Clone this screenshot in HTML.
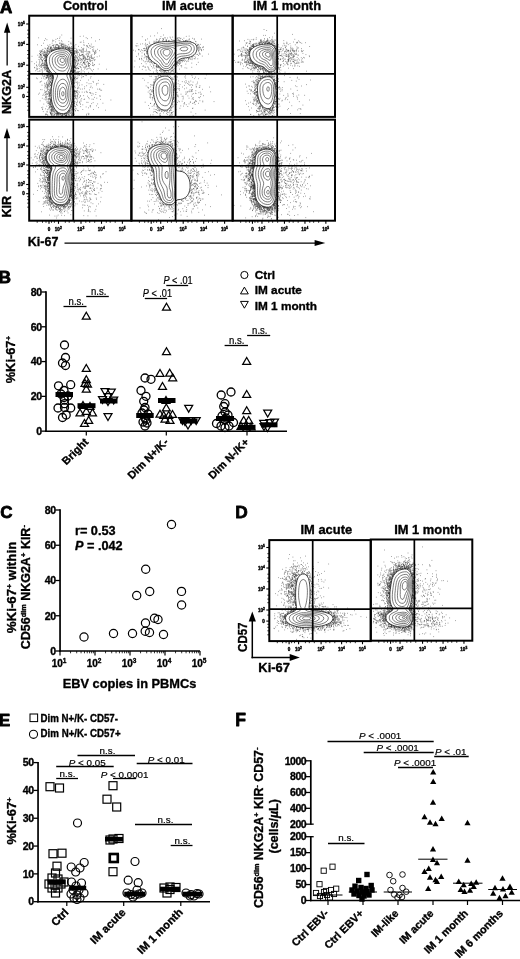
<!DOCTYPE html>
<html><head><meta charset="utf-8"><title>Figure</title>
<style>html,body{margin:0;padding:0;background:#fff}svg{display:block}text{font-family:'Liberation Sans', Arial, Helvetica, sans-serif;stroke:#000;stroke-width:.35px;stroke-linejoin:round}.n{stroke-width:.2px}</style></head><body>
<svg width="520" height="959" viewBox="0 0 520 959">
<rect width="520" height="959" fill="#fff"/>
<text x="0.00" y="12.90" font-size="17" font-weight="bold" style="stroke-width:.8px">A</text>
<text x="62.90" y="9.60" font-size="12.5" font-weight="bold" textLength="44.8" lengthAdjust="spacingAndGlyphs">Control</text>
<text x="161.90" y="9.60" font-size="12.5" font-weight="bold" textLength="51.6" lengthAdjust="spacingAndGlyphs">IM acute</text>
<text x="253.00" y="9.60" font-size="12.5" font-weight="bold" textLength="68" lengthAdjust="spacingAndGlyphs">IM 1 month</text>
<clipPath id="a1"><rect x="29.2" y="15.7" width="102.2" height="101.2"/></clipPath>
<g clip-path="url(#a1)">
<path d="M29.4 61.6h0.65M29.8 72.1h0.65M31.6 61.6h0.65M31.7 56.3h0.65M34.1 67.4h0.65M34.3 63.7h0.65M34.5 67.8h0.65M35.4 70.7h0.65M36.0 65.1h0.65M36.1 62.1h0.65M36.1 78.0h0.65M36.3 65.3h0.65M36.3 68.2h0.65M36.6 69.8h0.65M36.8 69.5h0.65M36.8 66.4h0.65M36.9 78.7h0.65M37.1 44.8h0.65M37.4 68.4h0.65M37.5 55.2h0.65M37.7 71.5h0.65M38.0 65.0h0.65M38.3 94.2h0.65M38.4 37.8h0.65M38.6 59.5h0.65M38.6 57.2h0.65M38.9 63.3h0.65M38.9 68.6h0.65M39.0 53.8h0.65M39.0 93.1h0.65M39.0 60.1h0.65M39.1 71.0h0.65M39.2 61.9h0.65M39.2 64.9h0.65M39.5 57.4h0.65M39.5 53.6h0.65M39.5 56.3h0.65M39.5 66.4h0.65M39.6 51.3h0.65M39.7 62.1h0.65M39.7 82.2h0.65M39.8 100.8h0.65M39.8 71.1h0.65M39.8 50.7h0.65M39.9 55.2h0.65M40.0 52.0h0.65M40.0 54.7h0.65M40.1 58.8h0.65M40.1 54.8h0.65M40.2 81.7h0.65M40.2 54.6h0.65M40.3 65.3h0.65M40.3 52.6h0.65M40.3 54.6h0.65M40.3 89.6h0.65M40.5 57.0h0.65M40.6 65.8h0.65M40.6 59.0h0.65M40.6 67.2h0.65M40.6 52.9h0.65M40.7 58.0h0.65M40.8 69.6h0.65M40.8 55.0h0.65M41.0 64.0h0.65M41.0 55.1h0.65M41.0 59.5h0.65M41.0 67.3h0.65M41.0 56.0h0.65M41.1 51.1h0.65M41.1 51.7h0.65M41.2 73.3h0.65M41.3 45.5h0.65M41.3 78.2h0.65M41.4 50.9h0.65M41.4 64.9h0.65M41.4 107.6h0.65M41.4 81.2h0.65M41.4 57.7h0.65M41.4 64.3h0.65M41.5 65.7h0.65M41.6 66.7h0.65M41.6 59.9h0.65M41.7 56.9h0.65M41.7 70.8h0.65M41.7 89.7h0.65M41.7 74.6h0.65M41.7 85.2h0.65M41.7 53.9h0.65M41.8 61.1h0.65M41.8 60.5h0.65M41.9 50.0h0.65M41.9 98.2h0.65M41.9 62.0h0.65M42.0 53.2h0.65M42.1 75.8h0.65M42.1 74.3h0.65M42.2 69.0h0.65M42.2 72.3h0.65M42.3 60.9h0.65M42.3 60.4h0.65M42.3 109.0h0.65M42.3 57.4h0.65M42.3 63.5h0.65M42.4 71.1h0.65M42.4 109.4h0.65M42.4 51.6h0.65M42.5 63.5h0.65M42.5 65.5h0.65M42.5 107.2h0.65M42.6 49.4h0.65M42.6 62.3h0.65M42.6 95.5h0.65M42.7 64.8h0.65M42.7 65.4h0.65M42.9 94.2h0.65M42.9 111.6h0.65M43.0 59.2h0.65M43.1 55.5h0.65M43.1 78.1h0.65M43.2 55.0h0.65M43.2 54.0h0.65M43.2 43.2h0.65M43.3 65.8h0.65M43.3 51.9h0.65M43.3 67.3h0.65M43.3 65.2h0.65M43.4 52.9h0.65M43.5 76.4h0.65M43.5 104.1h0.65M43.5 58.8h0.65M43.6 55.1h0.65M43.7 55.1h0.65M43.7 67.9h0.65M43.7 63.4h0.65M43.8 63.5h0.65M43.8 99.1h0.65M43.9 56.2h0.65M44.0 60.4h0.65M44.0 40.5h0.65M44.0 70.0h0.65M44.0 58.0h0.65M44.0 56.3h0.65M44.1 75.0h0.65M44.1 67.6h0.65M44.1 73.5h0.65M44.1 66.2h0.65M44.2 64.0h0.65M44.2 52.5h0.65M44.2 53.9h0.65M44.2 50.8h0.65M44.3 51.3h0.65M44.3 64.8h0.65M44.3 76.4h0.65M44.3 83.3h0.65M44.4 55.6h0.65M44.4 54.6h0.65M44.4 90.3h0.65M44.4 62.1h0.65M44.4 68.4h0.65M44.5 65.3h0.65M44.5 60.7h0.65M44.5 87.8h0.65M44.5 55.5h0.65M44.5 62.1h0.65M44.5 52.4h0.65M44.5 64.9h0.65M44.5 85.9h0.65M44.5 67.6h0.65M44.5 92.1h0.65M44.6 58.1h0.65M44.6 95.3h0.65M44.6 48.2h0.65M44.7 66.4h0.65M44.7 84.1h0.65M44.7 64.8h0.65M44.7 79.1h0.65M44.7 93.0h0.65M44.7 58.0h0.65M44.7 52.2h0.65M44.7 65.0h0.65M44.8 60.2h0.65M44.8 69.3h0.65M44.9 58.1h0.65M44.9 75.0h0.65M44.9 56.1h0.65M44.9 54.8h0.65M44.9 60.5h0.65M44.9 62.3h0.65M45.0 61.0h0.65M45.0 59.8h0.65M45.1 86.5h0.65M45.1 114.8h0.65M45.1 38.7h0.65M45.1 65.7h0.65M45.1 56.6h0.65M45.2 94.6h0.65M45.2 61.7h0.65M45.2 99.8h0.65M45.2 57.0h0.65M45.2 57.9h0.65M45.3 63.0h0.65M45.3 97.0h0.65M45.3 91.9h0.65M45.3 69.8h0.65M45.3 116.6h0.65M45.3 59.6h0.65M45.4 48.7h0.65M45.4 54.1h0.65M45.4 85.3h0.65M45.4 61.1h0.65M45.4 97.1h0.65M45.4 108.8h0.65M45.4 60.5h0.65M45.5 92.1h0.65M45.5 55.9h0.65M45.5 51.9h0.65M45.5 68.2h0.65M45.5 56.8h0.65M45.5 53.0h0.65M45.5 64.5h0.65M45.5 54.2h0.65M45.6 63.6h0.65M45.6 55.5h0.65M45.6 77.2h0.65M45.6 114.1h0.65M45.6 114.1h0.65M45.6 67.6h0.65M45.6 56.8h0.65M45.6 61.2h0.65M45.6 56.1h0.65M45.6 64.6h0.65M45.6 66.2h0.65M45.6 67.1h0.65M45.7 67.6h0.65M45.7 94.3h0.65M45.8 56.8h0.65M45.8 54.6h0.65M45.8 97.5h0.65M45.8 87.9h0.65M45.8 78.3h0.65M45.8 65.2h0.65M45.8 98.5h0.65M45.8 54.4h0.65M45.8 68.4h0.65M45.9 57.3h0.65M45.9 77.4h0.65M45.9 54.7h0.65M45.9 65.5h0.65M45.9 63.6h0.65M45.9 60.2h0.65M46.0 96.1h0.65M46.0 65.9h0.65M46.0 65.1h0.65M46.0 61.3h0.65M46.0 52.9h0.65M46.0 116.7h0.65M46.0 65.7h0.65M46.1 66.6h0.65M46.1 82.6h0.65M46.1 68.1h0.65M46.1 50.1h0.65M46.1 114.3h0.65M46.1 56.7h0.65M46.1 62.1h0.65M46.1 75.4h0.65M46.1 53.2h0.65M46.2 73.5h0.65M46.2 62.6h0.65M46.2 73.5h0.65M46.2 60.1h0.65M46.3 67.9h0.65M46.3 77.8h0.65M46.3 55.5h0.65M46.3 65.4h0.65M46.3 91.2h0.65M46.3 84.0h0.65M46.3 94.0h0.65M46.3 62.9h0.65M46.3 61.0h0.65M46.3 78.0h0.65M46.3 99.8h0.65M46.3 71.1h0.65M46.4 59.8h0.65M46.4 54.5h0.65M46.4 57.7h0.65M46.4 73.8h0.65M46.4 68.8h0.65M46.4 102.0h0.65M46.4 71.6h0.65M46.5 58.5h0.65M46.5 106.2h0.65M46.5 63.3h0.65M46.5 87.1h0.65M46.5 56.8h0.65M46.5 65.0h0.65M46.6 96.8h0.65M46.6 83.8h0.65M46.6 57.4h0.65M46.6 55.7h0.65M46.6 69.9h0.65M46.6 39.7h0.65M46.6 93.3h0.65M46.6 75.1h0.65M46.6 91.6h0.65M46.6 70.5h0.65M46.6 51.9h0.65M46.6 69.0h0.65M46.7 76.9h0.65M46.7 50.9h0.65M46.7 82.0h0.65M46.7 54.9h0.65M46.7 111.6h0.65M46.7 70.2h0.65M46.7 84.8h0.65M46.8 84.3h0.65M46.8 87.1h0.65M46.8 75.2h0.65M46.8 70.7h0.65M46.8 77.8h0.65M46.8 68.6h0.65M46.8 112.1h0.65M46.8 75.6h0.65M46.9 76.7h0.65M46.9 75.4h0.65M46.9 66.1h0.65M46.9 94.2h0.65M46.9 88.7h0.65M46.9 86.0h0.65M46.9 88.8h0.65M46.9 85.5h0.65M46.9 48.9h0.65M46.9 56.1h0.65M47.0 48.9h0.65M47.0 90.6h0.65M47.0 72.0h0.65M47.0 69.8h0.65M47.0 65.2h0.65M47.0 65.1h0.65M47.1 65.1h0.65M47.1 94.2h0.65M47.1 73.8h0.65M47.1 84.8h0.65M47.1 68.4h0.65M47.1 65.8h0.65M47.1 71.7h0.65M47.1 75.3h0.65M47.2 67.9h0.65M47.2 109.7h0.65M47.2 50.7h0.65M47.3 51.8h0.65M47.3 71.2h0.65M47.3 74.8h0.65M47.3 71.6h0.65M47.3 56.0h0.65M47.3 52.0h0.65M47.3 48.1h0.65M47.3 103.0h0.65M47.3 53.0h0.65M47.3 50.4h0.65M47.4 45.3h0.65M47.4 101.3h0.65M47.4 87.0h0.65M47.4 71.5h0.65M47.4 67.4h0.65M47.4 53.3h0.65M47.4 75.7h0.65M47.4 87.6h0.65M47.4 89.6h0.65M47.4 80.8h0.65M47.4 76.6h0.65M47.4 114.7h0.65M47.5 69.7h0.65M47.5 115.3h0.65M47.6 67.7h0.65M47.6 77.4h0.65M47.6 86.3h0.65M47.6 99.2h0.65M47.6 48.6h0.65M47.7 67.4h0.65M47.7 47.6h0.65M47.7 51.3h0.65M47.7 71.1h0.65M47.8 87.0h0.65M47.8 69.0h0.65M47.8 103.6h0.65M47.8 68.5h0.65M47.8 85.9h0.65M47.8 68.4h0.65M47.9 98.9h0.65M47.9 77.4h0.65M48.0 96.3h0.65M48.0 102.0h0.65M48.0 53.1h0.65M48.0 77.9h0.65M48.1 69.0h0.65M48.1 72.4h0.65M48.1 73.5h0.65M48.1 71.4h0.65M48.1 74.5h0.65M48.1 48.8h0.65M48.2 79.8h0.65M48.2 82.9h0.65M48.2 75.3h0.65M48.2 76.2h0.65M48.2 93.2h0.65M48.2 71.2h0.65M48.3 93.1h0.65M48.3 100.1h0.65M48.3 78.4h0.65M48.3 71.9h0.65M48.3 72.5h0.65M48.3 74.8h0.65M48.4 46.8h0.65M48.4 74.0h0.65M48.4 74.3h0.65M48.4 50.9h0.65M48.4 89.3h0.65M48.4 85.7h0.65M48.5 84.0h0.65M48.5 78.9h0.65M48.5 51.5h0.65M48.5 74.8h0.65M48.5 73.7h0.65M48.5 99.2h0.65M48.5 81.3h0.65M48.5 103.1h0.65M48.6 92.2h0.65M48.6 98.5h0.65M48.6 91.5h0.65M48.6 95.1h0.65M48.6 79.7h0.65M48.6 109.2h0.65M48.6 76.8h0.65M48.6 108.0h0.65M48.6 47.0h0.65M48.6 84.3h0.65M48.6 91.7h0.65M48.6 105.5h0.65M48.6 84.7h0.65M48.7 70.8h0.65M48.7 49.4h0.65M48.7 46.0h0.65M48.7 85.7h0.65M48.7 102.0h0.65M48.7 73.6h0.65M48.7 83.0h0.65M48.7 101.9h0.65M48.7 74.1h0.65M48.7 103.8h0.65M48.7 79.9h0.65M48.7 51.1h0.65M48.7 70.2h0.65M48.8 94.9h0.65M48.8 89.2h0.65M48.8 103.6h0.65M48.8 108.1h0.65M48.9 90.0h0.65M48.9 103.5h0.65M48.9 94.3h0.65M48.9 75.6h0.65M48.9 83.0h0.65M48.9 97.9h0.65M49.0 74.6h0.65M49.0 90.6h0.65M49.0 83.5h0.65M49.0 71.5h0.65M49.0 73.6h0.65M49.0 93.6h0.65M49.1 104.6h0.65M49.1 86.7h0.65M49.1 51.5h0.65M49.1 78.0h0.65M49.1 94.2h0.65M49.1 106.8h0.65M49.1 72.4h0.65M49.1 72.4h0.65M49.1 49.1h0.65M49.2 107.3h0.65M49.3 70.1h0.65M49.3 73.1h0.65M49.3 98.6h0.65M49.3 95.3h0.65M49.3 102.2h0.65M49.3 96.5h0.65M49.4 106.9h0.65M49.4 92.9h0.65M49.4 52.1h0.65M49.4 94.3h0.65M49.4 52.0h0.65M49.4 70.4h0.65M49.4 80.4h0.65M49.4 84.3h0.65M49.5 81.5h0.65M49.5 78.0h0.65M49.5 76.3h0.65M49.5 92.4h0.65M49.5 50.3h0.65M49.5 73.6h0.65M49.5 112.1h0.65M49.5 99.1h0.65M49.6 99.9h0.65M49.6 44.6h0.65M49.6 97.9h0.65M49.6 72.2h0.65M49.6 74.3h0.65M49.6 95.7h0.65M49.6 76.9h0.65M49.6 95.5h0.65M49.6 104.3h0.65M49.7 92.6h0.65M49.7 104.4h0.65M49.7 95.9h0.65M49.7 106.1h0.65M49.7 96.5h0.65M49.7 76.3h0.65M49.8 87.0h0.65M49.8 99.2h0.65M49.8 102.3h0.65M49.8 82.3h0.65M49.8 110.8h0.65M49.8 93.5h0.65M49.8 81.5h0.65M49.9 90.4h0.65M49.9 82.3h0.65M49.9 99.5h0.65M49.9 75.6h0.65M49.9 102.5h0.65M49.9 52.5h0.65M49.9 75.9h0.65M50.0 112.5h0.65M50.0 113.9h0.65M50.0 76.8h0.65M50.0 104.9h0.65M50.0 113.5h0.65M50.0 50.0h0.65M50.0 92.2h0.65M50.0 100.0h0.65M50.0 102.5h0.65M50.0 113.4h0.65M50.0 73.5h0.65M50.1 71.1h0.65M50.1 48.6h0.65M50.1 101.4h0.65M50.1 99.4h0.65M50.1 74.2h0.65M50.1 78.7h0.65M50.1 48.6h0.65M50.1 103.9h0.65M50.1 93.7h0.65M50.1 47.5h0.65M50.1 85.5h0.65M50.2 48.7h0.65M50.2 101.6h0.65M50.2 104.2h0.65M50.2 91.7h0.65M50.2 85.2h0.65M50.3 89.0h0.65M50.3 82.5h0.65M50.3 112.3h0.65M50.3 89.5h0.65M50.3 47.0h0.65M50.3 73.7h0.65M50.3 113.0h0.65M50.4 47.6h0.65M50.4 90.4h0.65M50.4 78.8h0.65M50.4 98.6h0.65M50.4 100.6h0.65M50.4 85.1h0.65M50.4 101.4h0.65M50.4 103.6h0.65M50.5 81.5h0.65M50.5 88.0h0.65M50.5 51.8h0.65M50.5 114.0h0.65M50.5 105.2h0.65M50.5 100.7h0.65M50.5 106.6h0.65M50.5 104.9h0.65M50.5 109.7h0.65M50.5 100.2h0.65M50.5 75.5h0.65M50.5 100.6h0.65M50.6 76.5h0.65M50.6 76.5h0.65M50.6 74.3h0.65M50.6 94.9h0.65M50.6 93.5h0.65M50.6 82.9h0.65M50.6 107.2h0.65M50.6 107.2h0.65M50.6 50.0h0.65M50.7 104.5h0.65M50.7 85.0h0.65M50.7 88.3h0.65M50.7 109.1h0.65M50.7 71.9h0.65M50.7 75.6h0.65M50.7 91.1h0.65M50.7 106.2h0.65M50.7 74.9h0.65M50.7 79.6h0.65M50.7 48.0h0.65M50.7 50.2h0.65M50.8 104.1h0.65M50.8 46.3h0.65M50.8 80.4h0.65M50.8 81.1h0.65M50.8 91.7h0.65M50.8 74.7h0.65M50.8 50.5h0.65M50.8 107.3h0.65M50.8 110.0h0.65M50.8 105.7h0.65M50.9 77.7h0.65M50.9 100.1h0.65M50.9 47.4h0.65M50.9 74.2h0.65M50.9 97.5h0.65M50.9 84.0h0.65M50.9 109.8h0.65M50.9 75.1h0.65M51.0 95.6h0.65M51.0 91.8h0.65M51.0 97.7h0.65M51.0 48.6h0.65M51.0 89.8h0.65M51.0 90.3h0.65M51.1 111.9h0.65M51.1 86.7h0.65M51.1 97.4h0.65M51.1 101.3h0.65M51.1 85.1h0.65M51.1 83.3h0.65M51.1 115.3h0.65M51.1 51.3h0.65M51.1 75.1h0.65M51.1 51.2h0.65M51.1 86.7h0.65M51.1 97.5h0.65M51.1 73.4h0.65M51.2 100.1h0.65M51.2 103.6h0.65M51.2 114.0h0.65M51.2 114.6h0.65M51.2 88.5h0.65M51.2 87.7h0.65M51.2 114.1h0.65M51.2 89.1h0.65M51.2 50.8h0.65M51.2 88.6h0.65M51.2 101.5h0.65M51.2 79.0h0.65M51.2 77.8h0.65M51.2 113.2h0.65M51.2 111.1h0.65M51.3 97.3h0.65M51.3 49.4h0.65M51.3 83.5h0.65M51.3 106.6h0.65M51.3 101.8h0.65M51.3 106.0h0.65M51.3 107.1h0.65M51.4 100.0h0.65M51.4 50.4h0.65M51.4 82.9h0.65M51.4 108.6h0.65M51.4 50.8h0.65M51.4 100.4h0.65M51.4 82.9h0.65M51.4 109.2h0.65M51.4 100.4h0.65M51.4 110.8h0.65M51.5 85.5h0.65M51.5 84.1h0.65M51.5 109.9h0.65M51.5 47.5h0.65M51.5 86.4h0.65M51.5 74.0h0.65M51.5 110.4h0.65M51.5 106.5h0.65M51.5 103.9h0.65M51.5 115.9h0.65M51.5 106.5h0.65M51.5 85.0h0.65M51.5 87.1h0.65M51.6 49.5h0.65M51.6 111.1h0.65M51.6 102.3h0.65M51.6 76.9h0.65M51.6 84.7h0.65M51.7 74.4h0.65M51.7 112.1h0.65M51.7 73.2h0.65M51.7 102.4h0.65M51.7 83.7h0.65M51.7 76.8h0.65M51.7 74.9h0.65M51.7 109.1h0.65M51.7 85.6h0.65M51.8 106.1h0.65M51.8 83.7h0.65M51.8 78.2h0.65M51.8 74.1h0.65M51.8 73.6h0.65M51.8 82.6h0.65M51.8 43.2h0.65M51.8 80.5h0.65M51.8 78.8h0.65M51.9 78.7h0.65M51.9 83.0h0.65M51.9 80.6h0.65M51.9 76.0h0.65M51.9 80.8h0.65M51.9 109.3h0.65M51.9 102.7h0.65M51.9 81.5h0.65M52.0 81.3h0.65M52.0 113.8h0.65M52.0 109.1h0.65M52.0 50.5h0.65M52.0 73.8h0.65M52.1 82.2h0.65M52.1 81.2h0.65M52.1 80.6h0.65M52.1 49.3h0.65M52.1 81.1h0.65M52.1 76.6h0.65M52.1 76.0h0.65M52.2 75.6h0.65M52.2 80.6h0.65M52.2 107.2h0.65M52.2 107.0h0.65M52.3 48.9h0.65M52.3 108.4h0.65M52.3 82.6h0.65M52.3 50.1h0.65M52.3 50.3h0.65M52.3 75.9h0.65M52.3 110.4h0.65M52.4 40.2h0.65M52.4 77.6h0.65M52.4 76.3h0.65M52.4 50.5h0.65M52.4 75.8h0.65M52.4 80.1h0.65M52.5 41.3h0.65M52.5 45.4h0.65M52.5 77.8h0.65M52.5 107.6h0.65M52.5 78.2h0.65M52.5 78.1h0.65M52.6 107.8h0.65M52.6 105.1h0.65M52.6 115.0h0.65M52.6 105.8h0.65M52.6 75.4h0.65M52.6 104.9h0.65M52.6 115.1h0.65M52.7 113.5h0.65M52.7 75.2h0.65M52.7 110.8h0.65M52.7 111.5h0.65M52.7 75.6h0.65M52.7 45.6h0.65M52.7 80.7h0.65M52.7 76.9h0.65M52.7 79.7h0.65M52.8 75.2h0.65M52.8 106.6h0.65M52.8 75.8h0.65M52.8 45.4h0.65M52.8 80.1h0.65M52.8 109.7h0.65M52.8 78.4h0.65M52.8 112.1h0.65M52.9 110.0h0.65M52.9 77.7h0.65M52.9 78.6h0.65M52.9 50.5h0.65M53.0 47.8h0.65M53.0 111.3h0.65M53.0 79.4h0.65M53.0 78.8h0.65M53.0 74.9h0.65M53.1 107.2h0.65M53.1 106.5h0.65M53.1 77.2h0.65M53.1 49.3h0.65M53.2 75.6h0.65M53.2 77.2h0.65M53.2 108.5h0.65M53.3 45.1h0.65M53.3 49.7h0.65M53.4 77.1h0.65M53.4 110.0h0.65M53.4 77.0h0.65M53.5 40.6h0.65M53.5 109.5h0.65M53.5 46.4h0.65M53.6 115.2h0.65M53.6 47.4h0.65M53.7 49.8h0.65M53.9 115.8h0.65M53.9 108.7h0.65M54.0 114.6h0.65M54.0 48.4h0.65M54.0 47.7h0.65M54.0 114.3h0.65M54.1 111.6h0.65M54.2 49.1h0.65M54.2 110.6h0.65M54.3 108.7h0.65M54.5 112.0h0.65M54.5 49.1h0.65M54.5 112.7h0.65M54.6 44.8h0.65M54.7 114.0h0.65M54.8 116.6h0.65M54.9 47.7h0.65M54.9 49.1h0.65M54.9 109.8h0.65M54.9 113.2h0.65M55.0 46.6h0.65M55.2 47.1h0.65M55.2 45.8h0.65M55.2 110.4h0.65M55.2 49.0h0.65M55.3 49.3h0.65M55.4 41.9h0.65M55.4 47.6h0.65M55.6 110.9h0.65M55.6 48.4h0.65M55.6 39.4h0.65M55.6 49.5h0.65M55.7 111.3h0.65M55.7 113.3h0.65M55.8 113.7h0.65M55.8 116.2h0.65M55.8 44.4h0.65M55.8 48.2h0.65M56.0 113.6h0.65M56.0 47.6h0.65M56.0 111.3h0.65M56.1 116.7h0.65M56.1 48.6h0.65M56.1 111.6h0.65M56.2 44.7h0.65M56.2 116.5h0.65M56.3 116.8h0.65M56.3 115.8h0.65M56.3 116.3h0.65M56.3 114.5h0.65M56.4 114.1h0.65M56.5 45.2h0.65M56.6 112.3h0.65M56.6 116.1h0.65M56.6 111.8h0.65M56.6 47.5h0.65M56.7 112.7h0.65M56.7 47.2h0.65M56.7 113.3h0.65M56.7 111.6h0.65M56.8 48.9h0.65M56.8 47.6h0.65M56.9 44.7h0.65M56.9 113.6h0.65M56.9 112.5h0.65M56.9 115.8h0.65M57.0 112.3h0.65M57.0 44.7h0.65M57.2 113.4h0.65M57.2 113.6h0.65M57.2 116.7h0.65M57.2 48.3h0.65M57.3 49.1h0.65M57.3 38.5h0.65M57.4 113.8h0.65M57.4 114.0h0.65M57.5 47.8h0.65M57.5 114.6h0.65M57.6 45.2h0.65M57.6 114.0h0.65M57.7 112.6h0.65M57.8 114.4h0.65M57.8 112.8h0.65M57.9 115.6h0.65M57.9 45.5h0.65M57.9 48.6h0.65M57.9 113.1h0.65M58.0 113.6h0.65M58.1 48.4h0.65M58.1 48.0h0.65M58.3 47.6h0.65M58.3 114.0h0.65M58.3 48.4h0.65M58.3 46.3h0.65M58.3 48.5h0.65M58.3 113.6h0.65M58.3 46.3h0.65M58.4 47.9h0.65M58.6 48.1h0.65M58.6 113.2h0.65M58.7 46.8h0.65M58.7 115.1h0.65M58.7 48.0h0.65M58.8 114.4h0.65M58.8 40.6h0.65M58.8 46.1h0.65M58.8 47.1h0.65M58.8 47.2h0.65M58.9 113.7h0.65M59.1 48.7h0.65M59.1 48.8h0.65M59.3 48.1h0.65M59.4 38.4h0.65M59.4 43.5h0.65M59.6 42.7h0.65M59.6 45.9h0.65M59.7 113.8h0.65M59.7 116.7h0.65M59.7 37.0h0.65M59.7 48.9h0.65M59.8 115.0h0.65M59.8 48.2h0.65M59.9 43.8h0.65M60.1 114.7h0.65M60.2 47.5h0.65M60.2 113.5h0.65M60.6 48.1h0.65M60.6 114.7h0.65M60.6 48.6h0.65M60.7 45.6h0.65M60.8 45.1h0.65M60.8 113.8h0.65M61.0 46.5h0.65M61.1 116.4h0.65M61.2 40.7h0.65M61.3 47.4h0.65M61.3 45.4h0.65M61.3 115.8h0.65M61.4 113.6h0.65M61.4 44.5h0.65M61.5 43.5h0.65M61.5 35.0h0.65M61.5 47.0h0.65M61.5 115.5h0.65M61.6 45.2h0.65M61.6 44.0h0.65M61.7 41.8h0.65M61.8 115.0h0.65M61.9 114.0h0.65M61.9 44.1h0.65M61.9 46.9h0.65M62.0 114.2h0.65M62.0 47.1h0.65M62.1 44.6h0.65M62.2 47.7h0.65M62.2 46.6h0.65M62.3 115.6h0.65M62.4 115.8h0.65M62.4 116.6h0.65M62.4 116.9h0.65M62.4 114.1h0.65M62.4 48.5h0.65M62.5 115.3h0.65M62.9 44.2h0.65M62.9 47.5h0.65M63.1 48.7h0.65M63.3 114.8h0.65M63.3 46.9h0.65M63.4 45.9h0.65M63.4 44.2h0.65M63.4 47.4h0.65M63.6 46.3h0.65M63.6 46.2h0.65M63.7 47.3h0.65M63.8 114.4h0.65M63.8 113.8h0.65M63.9 116.4h0.65M63.9 116.4h0.65M64.0 113.8h0.65M64.1 47.9h0.65M64.1 114.6h0.65M64.3 116.2h0.65M64.5 45.8h0.65M64.5 58.7h0.65M64.6 113.9h0.65M64.6 44.3h0.65M64.7 59.2h0.65M64.8 47.0h0.65M64.9 45.5h0.65M64.9 116.7h0.65M64.9 115.1h0.65M65.0 116.9h0.65M65.0 116.0h0.65M65.0 113.4h0.65M65.1 48.2h0.65M65.1 113.9h0.65M65.2 47.6h0.65M65.3 115.9h0.65M65.3 48.1h0.65M65.3 113.4h0.65M65.5 48.5h0.65M65.5 46.3h0.65M65.5 115.7h0.65M65.5 115.5h0.65M65.6 48.4h0.65M65.6 113.6h0.65M65.6 47.7h0.65M65.8 45.7h0.65M65.8 116.7h0.65M65.8 113.1h0.65M65.8 115.8h0.65M65.8 113.5h0.65M65.9 114.3h0.65M66.1 49.1h0.65M66.1 115.8h0.65M66.1 47.4h0.65M66.3 115.3h0.65M66.3 79.2h0.65M66.3 115.7h0.65M66.4 113.7h0.65M66.4 114.0h0.65M66.5 115.5h0.65M66.6 114.5h0.65M66.6 47.5h0.65M66.8 113.8h0.65M66.8 46.2h0.65M67.0 48.8h0.65M67.0 47.7h0.65M67.0 113.1h0.65M67.2 46.6h0.65M67.2 112.4h0.65M67.2 113.1h0.65M67.4 116.2h0.65M67.4 49.7h0.65M67.6 48.3h0.65M67.8 49.6h0.65M67.9 112.9h0.65M67.9 48.3h0.65M68.0 112.8h0.65M68.0 55.5h0.65M68.1 114.2h0.65M68.1 116.7h0.65M68.2 47.7h0.65M68.2 60.2h0.65M68.3 114.2h0.65M68.3 111.5h0.65M68.3 48.3h0.65M68.4 115.7h0.65M68.4 44.7h0.65M68.4 48.8h0.65M68.4 112.0h0.65M68.5 41.6h0.65M68.5 48.7h0.65M68.5 49.1h0.65M68.6 50.0h0.65M68.6 112.2h0.65M68.6 111.8h0.65M68.7 114.6h0.65M68.8 110.7h0.65M68.8 46.4h0.65M68.8 48.8h0.65M68.8 48.9h0.65M68.8 115.8h0.65M68.8 57.7h0.65M68.8 47.9h0.65M68.9 47.3h0.65M68.9 48.1h0.65M68.9 49.9h0.65M69.0 50.1h0.65M69.0 110.8h0.65M69.0 110.9h0.65M69.0 116.3h0.65M69.1 110.9h0.65M69.3 112.1h0.65M69.3 111.0h0.65M69.3 49.7h0.65M69.3 113.7h0.65M69.4 47.6h0.65M69.4 49.2h0.65M69.5 115.3h0.65M69.5 50.6h0.65M69.7 112.3h0.65M69.8 49.9h0.65M69.8 50.8h0.65M69.8 108.7h0.65M69.9 75.1h0.65M69.9 75.8h0.65M69.9 47.9h0.65M70.0 48.5h0.65M70.0 43.7h0.65M70.0 54.3h0.65M70.0 113.1h0.65M70.0 116.2h0.65M70.1 74.4h0.65M70.1 72.7h0.65M70.1 77.2h0.65M70.2 76.9h0.65M70.2 68.4h0.65M70.3 110.0h0.65M70.3 108.2h0.65M70.3 52.0h0.65M70.3 74.9h0.65M70.3 77.0h0.65M70.4 50.1h0.65M70.4 77.3h0.65M70.4 51.2h0.65M70.5 47.9h0.65M70.6 73.2h0.65M70.6 106.8h0.65M70.6 108.2h0.65M70.6 42.3h0.65M70.6 113.4h0.65M70.6 111.4h0.65M70.7 106.9h0.65M70.7 106.9h0.65M70.7 78.9h0.65M70.7 38.2h0.65M70.7 52.0h0.65M70.7 110.1h0.65M70.7 50.8h0.65M70.7 76.8h0.65M70.7 110.8h0.65M70.7 108.2h0.65M70.7 113.2h0.65M70.7 50.9h0.65M70.8 83.0h0.65M70.8 77.5h0.65M70.8 71.9h0.65M70.8 52.5h0.65M70.8 71.2h0.65M70.8 109.9h0.65M70.8 73.1h0.65M70.8 52.6h0.65M70.9 111.2h0.65M70.9 70.5h0.65M70.9 79.9h0.65M70.9 50.3h0.65M70.9 70.7h0.65M70.9 114.8h0.65M71.0 49.1h0.65M71.0 43.9h0.65M71.0 53.0h0.65M71.0 79.2h0.65M71.1 70.4h0.65M71.1 77.1h0.65M71.1 71.6h0.65M71.1 112.9h0.65M71.1 105.1h0.65M71.1 81.5h0.65M71.1 116.3h0.65M71.1 115.0h0.65M71.1 106.5h0.65M71.1 107.1h0.65M71.2 52.5h0.65M71.2 52.1h0.65M71.2 75.3h0.65M71.2 46.7h0.65M71.2 78.2h0.65M71.3 115.3h0.65M71.3 73.8h0.65M71.3 48.5h0.65M71.3 112.7h0.65M71.3 50.3h0.65M71.3 70.8h0.65M71.3 73.9h0.65M71.3 71.4h0.65M71.3 68.8h0.65M71.3 104.9h0.65M71.3 47.0h0.65M71.4 73.6h0.65M71.4 82.9h0.65M71.4 78.1h0.65M71.4 104.1h0.65M71.5 105.9h0.65M71.5 74.4h0.65M71.5 70.8h0.65M71.5 81.1h0.65M71.5 54.2h0.65M71.5 114.9h0.65M71.5 52.6h0.65M71.5 68.8h0.65M71.5 109.3h0.65M71.5 54.1h0.65M71.5 70.6h0.65M71.6 94.6h0.65M71.6 48.3h0.65M71.7 54.6h0.65M71.7 69.5h0.65M71.7 109.2h0.65M71.7 106.6h0.65M71.8 106.7h0.65M71.8 72.0h0.65M71.8 80.1h0.65M71.8 72.6h0.65M71.8 67.6h0.65M71.8 74.0h0.65M71.8 107.5h0.65M71.8 102.8h0.65M71.9 48.4h0.65M71.9 102.2h0.65M71.9 48.7h0.65M71.9 63.5h0.65M71.9 80.8h0.65M71.9 86.2h0.65M71.9 67.0h0.65M71.9 85.7h0.65M71.9 105.6h0.65M71.9 82.1h0.65M71.9 71.2h0.65M72.0 72.2h0.65M72.0 79.5h0.65M72.0 73.7h0.65M72.0 50.5h0.65M72.0 109.4h0.65M72.0 75.9h0.65M72.0 72.6h0.65M72.1 50.6h0.65M72.1 72.4h0.65M72.1 53.2h0.65M72.1 80.1h0.65M72.1 98.6h0.65M72.1 99.2h0.65M72.1 82.7h0.65M72.1 101.6h0.65M72.1 79.3h0.65M72.1 82.1h0.65M72.1 79.8h0.65M72.1 66.7h0.65M72.2 65.8h0.65M72.2 53.4h0.65M72.2 88.7h0.65M72.2 52.8h0.65M72.2 108.5h0.65M72.2 80.7h0.65M72.2 81.1h0.65M72.2 113.9h0.65M72.2 99.1h0.65M72.2 72.5h0.65M72.2 82.6h0.65M72.3 68.1h0.65M72.3 55.7h0.65M72.3 64.8h0.65M72.3 87.1h0.65M72.3 86.6h0.65M72.3 87.0h0.65M72.3 79.2h0.65M72.3 86.6h0.65M72.3 102.3h0.65M72.3 71.4h0.65M72.3 98.5h0.65M72.3 83.2h0.65M72.3 107.4h0.65M72.3 56.7h0.65M72.4 51.9h0.65M72.4 49.3h0.65M72.4 54.5h0.65M72.4 58.3h0.65M72.4 72.6h0.65M72.4 85.1h0.65M72.4 62.9h0.65M72.4 101.5h0.65M72.4 56.2h0.65M72.4 93.8h0.65M72.5 80.1h0.65M72.5 70.5h0.65M72.5 84.6h0.65M72.5 83.5h0.65M72.5 50.7h0.65M72.5 101.2h0.65M72.5 104.3h0.65M72.5 84.2h0.65M72.5 80.3h0.65M72.5 65.8h0.65M72.5 56.0h0.65M72.5 84.3h0.65M72.5 94.5h0.65M72.5 115.5h0.65M72.5 104.8h0.65M72.5 78.2h0.65M72.6 69.8h0.65M72.6 65.5h0.65M72.6 80.5h0.65M72.6 75.7h0.65M72.6 68.9h0.65M72.6 54.4h0.65M72.6 108.4h0.65M72.6 91.1h0.65M72.6 80.3h0.65M72.6 101.2h0.65M72.6 61.5h0.65M72.6 87.5h0.65M72.6 89.8h0.65M72.6 76.6h0.65M72.6 95.9h0.65M72.6 53.1h0.65M72.7 110.0h0.65M72.7 104.5h0.65M72.7 62.3h0.65M72.7 67.7h0.65M72.7 54.6h0.65M72.7 66.9h0.65M72.7 109.1h0.65M72.7 110.3h0.65M72.7 55.7h0.65M72.7 87.5h0.65M72.7 96.8h0.65M72.7 93.0h0.65M72.8 61.5h0.65M72.8 68.0h0.65M72.8 104.8h0.65M72.8 69.9h0.65M72.8 85.9h0.65M72.8 63.6h0.65M72.8 64.5h0.65M72.8 93.0h0.65M72.8 95.8h0.65M72.8 113.6h0.65M72.8 87.3h0.65M72.9 83.6h0.65M72.9 64.4h0.65M72.9 63.9h0.65M72.9 60.9h0.65M72.9 113.6h0.65M72.9 79.1h0.65M72.9 102.5h0.65M72.9 80.9h0.65M73.0 79.7h0.65M73.0 85.0h0.65M73.0 83.1h0.65M73.0 80.1h0.65M73.0 72.1h0.65M73.0 58.2h0.65M73.0 67.3h0.65M73.0 108.9h0.65M73.0 94.4h0.65M73.0 74.0h0.65M73.0 62.8h0.65M73.0 50.1h0.65M73.0 91.4h0.65M73.0 86.3h0.65M73.1 99.8h0.65M73.1 60.8h0.65M73.1 52.8h0.65M73.1 88.9h0.65M73.1 94.0h0.65M73.1 78.3h0.65M73.1 57.4h0.65M73.2 63.2h0.65M73.2 104.0h0.65M73.2 97.7h0.65M73.2 54.2h0.65M73.2 89.5h0.65M73.2 84.1h0.65M73.2 79.4h0.65M73.2 59.4h0.65M73.2 97.9h0.65M73.2 69.4h0.65M73.2 80.7h0.65M73.2 90.0h0.65M73.2 84.1h0.65M73.2 81.2h0.65M73.3 84.0h0.65M73.3 77.8h0.65M73.3 93.4h0.65M73.3 102.5h0.65M73.3 99.8h0.65M73.3 95.8h0.65M73.3 57.8h0.65M73.3 95.4h0.65M73.3 57.8h0.65M73.3 111.5h0.65M73.3 57.6h0.65M73.3 57.7h0.65M73.3 50.0h0.65M73.3 86.4h0.65M73.3 68.3h0.65M73.4 105.4h0.65M73.4 75.4h0.65M73.4 68.7h0.65M73.4 58.3h0.65M73.4 53.8h0.65M73.4 85.7h0.65M73.4 105.3h0.65M73.4 71.2h0.65M73.5 87.7h0.65M73.5 54.3h0.65M73.5 59.2h0.65M73.5 46.9h0.65M73.5 85.9h0.65M73.5 64.8h0.65M73.5 88.3h0.65M73.6 89.4h0.65M73.6 65.5h0.65M73.6 53.8h0.65M73.7 83.4h0.65M73.7 91.1h0.65M73.7 70.6h0.65M73.7 68.1h0.65M73.7 62.9h0.65M73.7 81.4h0.65M73.7 106.3h0.65M73.7 74.0h0.65M73.7 91.7h0.65M73.7 105.5h0.65M73.7 78.0h0.65M73.7 74.3h0.65M73.7 78.1h0.65M73.7 66.4h0.65M73.8 93.0h0.65M73.8 61.8h0.65M73.8 91.5h0.65M73.8 63.8h0.65M73.8 59.9h0.65M73.8 83.1h0.65M73.8 67.4h0.65M73.8 62.3h0.65M73.8 103.6h0.65M73.8 60.4h0.65M73.9 76.7h0.65M73.9 77.5h0.65M73.9 86.6h0.65M73.9 83.9h0.65M73.9 96.9h0.65M73.9 98.8h0.65M73.9 73.0h0.65M73.9 73.2h0.65M73.9 104.8h0.65M73.9 99.9h0.65M74.0 67.6h0.65M74.0 79.1h0.65M74.0 67.5h0.65M74.0 54.4h0.65M74.0 102.1h0.65M74.0 96.0h0.65M74.0 103.1h0.65M74.0 65.2h0.65M74.0 91.6h0.65M74.0 66.8h0.65M74.0 86.9h0.65M74.0 71.6h0.65M74.1 96.3h0.65M74.1 56.7h0.65M74.1 93.9h0.65M74.1 114.2h0.65M74.1 90.8h0.65M74.1 91.7h0.65M74.1 90.8h0.65M74.1 82.3h0.65M74.1 101.3h0.65M74.2 50.8h0.65M74.2 90.4h0.65M74.2 103.4h0.65M74.2 59.5h0.65M74.2 65.8h0.65M74.2 66.3h0.65M74.2 78.7h0.65M74.2 59.2h0.65M74.2 64.7h0.65M74.2 69.9h0.65M74.3 53.4h0.65M74.3 67.5h0.65M74.3 109.7h0.65M74.3 92.4h0.65M74.4 60.7h0.65M74.4 78.5h0.65M74.4 60.9h0.65M74.4 80.3h0.65M74.4 93.9h0.65M74.4 95.8h0.65M74.4 53.6h0.65M74.5 52.1h0.65M74.5 58.1h0.65M74.5 57.3h0.65M74.5 71.2h0.65M74.5 59.6h0.65M74.5 57.8h0.65M74.5 70.5h0.65M74.5 52.9h0.65M74.5 66.6h0.65M74.6 85.8h0.65M74.6 48.0h0.65M74.6 61.6h0.65M74.6 45.9h0.65M74.6 51.8h0.65M74.6 51.7h0.65M74.6 59.4h0.65M74.6 94.1h0.65M74.6 67.0h0.65M74.6 106.4h0.65M74.6 66.3h0.65M74.6 48.5h0.65M74.6 71.0h0.65M74.7 95.3h0.65M74.7 63.4h0.65M74.7 76.9h0.65M74.7 57.8h0.65M74.7 98.3h0.65M74.7 70.8h0.65M74.7 101.7h0.65M74.8 50.8h0.65M74.8 62.5h0.65M74.8 74.1h0.65M74.8 75.3h0.65M74.8 78.8h0.65M74.8 71.9h0.65M74.9 69.8h0.65M74.9 82.1h0.65M74.9 63.2h0.65M74.9 72.9h0.65M74.9 55.4h0.65M74.9 92.0h0.65M75.0 58.9h0.65M75.0 70.8h0.65M75.0 62.0h0.65M75.0 97.0h0.65M75.0 67.3h0.65M75.0 73.6h0.65M75.0 110.6h0.65M75.0 87.7h0.65M75.1 79.9h0.65M75.1 66.4h0.65M75.1 67.6h0.65M75.1 91.2h0.65M75.2 93.7h0.65M75.2 64.9h0.65M75.2 73.2h0.65M75.2 60.7h0.65M75.2 91.2h0.65M75.3 106.7h0.65M75.3 110.9h0.65M75.3 55.6h0.65M75.3 73.3h0.65M75.3 68.2h0.65M75.4 77.5h0.65M75.4 56.3h0.65M75.4 98.1h0.65M75.4 64.1h0.65M75.5 53.1h0.65M75.5 95.7h0.65M75.5 96.8h0.65M75.5 57.1h0.65M75.5 60.1h0.65M75.6 76.8h0.65M75.6 50.9h0.65M75.6 95.8h0.65M75.6 108.3h0.65M75.6 44.6h0.65M75.7 62.8h0.65M75.7 68.4h0.65M75.7 68.5h0.65M75.7 109.0h0.65M75.7 90.8h0.65M75.8 65.7h0.65M75.9 102.6h0.65M75.9 60.2h0.65M76.0 51.4h0.65M76.0 92.6h0.65M76.0 91.4h0.65M76.0 56.1h0.65M76.0 65.8h0.65M76.0 52.8h0.65M76.1 98.4h0.65M76.1 82.3h0.65M76.1 78.5h0.65M76.1 72.5h0.65M76.2 50.1h0.65M76.2 57.8h0.65M76.3 104.4h0.65M76.3 91.2h0.65M76.3 68.9h0.65M76.4 49.1h0.65M76.4 52.0h0.65M76.5 52.9h0.65M76.5 61.6h0.65M76.5 51.8h0.65M76.5 104.2h0.65M76.6 92.3h0.65M76.6 78.9h0.65M76.6 60.9h0.65M76.7 57.1h0.65M76.7 67.6h0.65M76.7 61.1h0.65M76.7 99.6h0.65M76.8 71.5h0.65M76.8 105.5h0.65M76.8 65.4h0.65M76.9 95.7h0.65M77.0 110.4h0.65M77.0 88.6h0.65M77.0 78.4h0.65M77.0 102.0h0.65M77.0 96.9h0.65M77.0 52.5h0.65M77.1 92.8h0.65M77.1 94.1h0.65M77.1 64.2h0.65M77.2 101.0h0.65M77.2 96.0h0.65M77.2 53.9h0.65M77.2 50.3h0.65M77.3 84.9h0.65M77.3 58.4h0.65M77.3 59.2h0.65M77.3 82.0h0.65M77.3 83.3h0.65M77.3 67.9h0.65M77.3 64.2h0.65M77.3 72.9h0.65M77.4 90.4h0.65M77.4 55.1h0.65M77.4 57.7h0.65M77.5 51.4h0.65M77.6 88.0h0.65M77.6 63.9h0.65M77.6 62.9h0.65M77.6 72.3h0.65M77.6 77.2h0.65M77.6 98.2h0.65M77.7 91.8h0.65M77.7 116.4h0.65M77.7 75.6h0.65M77.8 87.0h0.65M77.8 68.8h0.65M77.9 68.5h0.65M77.9 110.7h0.65M77.9 63.3h0.65M78.1 73.9h0.65M78.2 46.4h0.65M78.2 94.1h0.65M78.2 68.5h0.65M78.2 52.5h0.65M78.3 72.0h0.65M78.3 60.1h0.65M78.3 72.1h0.65M78.3 61.0h0.65M78.4 60.6h0.65M78.4 60.1h0.65M78.4 56.6h0.65M78.5 59.3h0.65M78.5 68.4h0.65M78.6 88.0h0.65M78.7 82.8h0.65M78.8 66.3h0.65M78.8 49.5h0.65M79.0 54.4h0.65M79.0 57.7h0.65M79.0 50.5h0.65M79.1 85.2h0.65M79.1 97.3h0.65M79.2 102.6h0.65M79.2 75.4h0.65M79.2 92.2h0.65M79.3 71.6h0.65M79.3 53.9h0.65M79.5 55.6h0.65M79.5 101.8h0.65M79.6 64.3h0.65M79.6 55.8h0.65M79.7 59.7h0.65M79.7 58.3h0.65M79.8 55.6h0.65M79.8 36.4h0.65M79.8 103.3h0.65M79.9 95.6h0.65M79.9 60.6h0.65M79.9 42.3h0.65M80.1 80.4h0.65M80.2 96.2h0.65M80.2 58.7h0.65M80.3 62.8h0.65M80.3 66.5h0.65M80.3 67.4h0.65M80.3 104.4h0.65M80.4 106.6h0.65M80.4 89.1h0.65M80.5 51.0h0.65M80.5 50.2h0.65M80.6 99.9h0.65M80.6 55.5h0.65M80.7 101.1h0.65M80.8 62.4h0.65M80.8 42.1h0.65M80.8 72.3h0.65M80.8 52.0h0.65M80.8 70.9h0.65M80.9 50.1h0.65M81.0 59.3h0.65M81.0 67.9h0.65M81.1 77.8h0.65M81.1 59.3h0.65M81.1 55.1h0.65M81.2 51.3h0.65M81.3 64.9h0.65M81.3 47.6h0.65M81.3 69.6h0.65M81.4 98.6h0.65M81.5 54.8h0.65M81.5 75.9h0.65M81.6 61.2h0.65M81.6 52.6h0.65M81.7 84.8h0.65M81.8 92.1h0.65M81.8 60.4h0.65M81.9 51.9h0.65M82.0 89.0h0.65M82.0 64.0h0.65M82.0 54.7h0.65M82.1 54.7h0.65M82.2 54.4h0.65M82.4 65.6h0.65M82.4 49.4h0.65M82.5 104.8h0.65M82.5 55.9h0.65M82.5 109.5h0.65M82.6 50.7h0.65M82.6 59.7h0.65M82.6 76.8h0.65M82.6 48.6h0.65M82.7 70.9h0.65M82.8 58.6h0.65M82.8 58.0h0.65M82.8 58.9h0.65M82.8 51.9h0.65M82.9 57.2h0.65M82.9 56.5h0.65M83.0 36.1h0.65M83.0 40.9h0.65M83.0 67.1h0.65M83.1 62.4h0.65M83.1 62.8h0.65M83.1 62.4h0.65M83.1 58.0h0.65M83.2 49.4h0.65M83.2 76.5h0.65M83.2 54.2h0.65M83.2 58.7h0.65M83.3 52.1h0.65M83.3 50.2h0.65M83.4 62.8h0.65M83.4 95.6h0.65M83.5 48.3h0.65M83.5 62.0h0.65M83.5 42.6h0.65M83.5 55.6h0.65M83.5 56.0h0.65M83.6 44.6h0.65M83.7 55.9h0.65M83.7 99.5h0.65M83.8 45.5h0.65M83.9 67.3h0.65M83.9 63.1h0.65M83.9 62.8h0.65M84.0 57.8h0.65M84.0 73.8h0.65M84.1 57.9h0.65M84.1 64.0h0.65M84.1 69.0h0.65M84.1 88.7h0.65M84.1 71.9h0.65M84.2 61.9h0.65M84.3 60.7h0.65M84.3 92.2h0.65M84.4 86.8h0.65M84.4 60.2h0.65M84.4 56.6h0.65M84.4 99.1h0.65M84.6 51.4h0.65M84.6 64.4h0.65M84.7 62.9h0.65M84.8 59.0h0.65M84.9 75.3h0.65M84.9 67.8h0.65M84.9 66.3h0.65M85.0 57.2h0.65M85.2 60.8h0.65M85.2 59.1h0.65M85.3 57.9h0.65M85.4 58.9h0.65M85.5 64.3h0.65M85.6 67.8h0.65M85.7 51.4h0.65M85.7 54.3h0.65M85.8 37.7h0.65M85.8 106.9h0.65M85.9 91.3h0.65M85.9 66.4h0.65M85.9 59.5h0.65M85.9 65.8h0.65M86.0 49.1h0.65M86.0 62.2h0.65M86.0 58.9h0.65M86.0 54.0h0.65M86.0 45.5h0.65M86.0 75.6h0.65M86.1 115.1h0.65M86.1 50.3h0.65M86.2 66.1h0.65M86.3 114.2h0.65M86.4 85.7h0.65M86.4 92.1h0.65M86.5 102.3h0.65M86.5 69.3h0.65M86.6 82.7h0.65M86.7 52.0h0.65M86.8 46.9h0.65M86.8 55.5h0.65M86.8 46.5h0.65M86.9 61.5h0.65M87.0 56.6h0.65M87.0 38.6h0.65M87.1 59.4h0.65M87.1 53.8h0.65M87.2 45.8h0.65M87.2 92.3h0.65M87.2 56.4h0.65M87.2 61.4h0.65M87.2 68.8h0.65M87.2 57.7h0.65M87.3 96.2h0.65M87.4 59.7h0.65M87.6 63.0h0.65M87.7 102.4h0.65M87.8 51.7h0.65M87.8 66.3h0.65M87.8 59.3h0.65M87.8 113.3h0.65M87.8 64.7h0.65M88.0 80.0h0.65M88.1 65.1h0.65M88.1 107.8h0.65M88.1 62.4h0.65M88.1 55.9h0.65M88.1 114.6h0.65M88.2 43.6h0.65M88.2 54.5h0.65M88.2 63.8h0.65M88.3 66.4h0.65M88.3 56.4h0.65M88.3 63.6h0.65M88.3 65.5h0.65M88.4 97.5h0.65M88.4 72.3h0.65M88.4 47.6h0.65M88.4 53.3h0.65M88.5 68.4h0.65M88.7 59.3h0.65M88.7 51.6h0.65M88.7 83.7h0.65M88.7 113.9h0.65M88.8 98.7h0.65M88.9 63.5h0.65M88.9 52.4h0.65M88.9 58.1h0.65M89.0 61.0h0.65M89.0 45.4h0.65M89.1 89.9h0.65M89.1 59.0h0.65M89.1 65.7h0.65M89.2 65.9h0.65M89.2 92.6h0.65M89.3 63.5h0.65M89.4 57.2h0.65M89.4 68.0h0.65M89.5 51.7h0.65M89.6 53.0h0.65M89.7 46.3h0.65M89.7 106.0h0.65M89.7 56.3h0.65M89.7 60.1h0.65M89.8 59.8h0.65M89.8 57.6h0.65M89.9 48.4h0.65M89.9 87.4h0.65M90.0 64.4h0.65M90.1 106.9h0.65M90.1 93.1h0.65M90.1 68.9h0.65M90.1 78.0h0.65M90.1 61.6h0.65M90.2 60.8h0.65M90.2 92.8h0.65M90.3 105.7h0.65M90.7 55.4h0.65M90.7 83.6h0.65M90.7 76.6h0.65M90.7 46.1h0.65M90.7 86.2h0.65M90.9 44.1h0.65M90.9 57.6h0.65M90.9 58.1h0.65M91.0 37.7h0.65M91.1 56.4h0.65M91.2 70.1h0.65M91.2 58.2h0.65M91.3 60.6h0.65M91.4 103.6h0.65M91.4 56.0h0.65M91.5 95.4h0.65M91.6 54.6h0.65M91.7 93.3h0.65M91.7 47.4h0.65M91.7 99.2h0.65M91.9 58.4h0.65M91.9 87.8h0.65M92.0 60.7h0.65M92.2 49.7h0.65M92.2 71.1h0.65M92.3 65.3h0.65M92.3 62.8h0.65M92.5 57.9h0.65M92.5 65.2h0.65M92.5 47.1h0.65M92.5 63.2h0.65M92.6 58.8h0.65M92.7 81.4h0.65M92.7 51.0h0.65M92.8 102.6h0.65M92.9 94.0h0.65M92.9 51.0h0.65M93.0 69.5h0.65M93.2 82.2h0.65M93.3 109.5h0.65M93.3 99.3h0.65M93.3 65.7h0.65M93.4 49.1h0.65M93.4 58.2h0.65M93.5 46.7h0.65M93.6 73.8h0.65M93.7 59.7h0.65M93.7 51.3h0.65M93.8 64.9h0.65M94.0 97.4h0.65M94.0 64.5h0.65M94.2 57.3h0.65M94.3 54.5h0.65M94.3 53.3h0.65M94.3 60.6h0.65M94.4 52.6h0.65M94.4 52.9h0.65M94.4 74.5h0.65M94.7 59.6h0.65M95.0 51.6h0.65M95.1 41.0h0.65M95.1 53.2h0.65M95.5 50.4h0.65M95.5 94.5h0.65M95.6 51.1h0.65M95.6 92.5h0.65M95.7 52.7h0.65M96.3 84.9h0.65M96.3 105.8h0.65M96.4 83.6h0.65M96.5 98.2h0.65M96.8 56.8h0.65M97.0 49.3h0.65M97.1 89.1h0.65M97.4 103.9h0.65M97.7 83.3h0.65M97.8 68.9h0.65M98.0 80.4h0.65M98.0 107.6h0.65M98.9 89.3h0.65M98.9 64.2h0.65M99.0 39.6h0.65M99.1 56.0h0.65M99.1 95.9h0.65M99.1 50.7h0.65M99.5 88.9h0.65M100.0 99.4h0.65M100.1 96.1h0.65M100.4 90.1h0.65M101.4 90.3h0.65M102.6 103.2h0.65M103.5 84.4h0.65M105.3 110.2h0.65M106.3 69.2h0.65M110.6 100.0h0.65" stroke="#333" stroke-width="0.65" fill="none"/>
<path d="M63.7 113.7l-2.6-.1l-2.5-.9l-2.2-1.6l-1.6-2l-1.3-2.3l-1-2.5l-.7-2.6l-.4-2.6l-.2-2.6l-.1-2.7l.1-2.6l.1-2.7l.4-2.6l.5-2.6l.6-2.6l.6-2.6l-.2-2.6l-1.4-2.2l-1.7-2.1l-1.4-2.2l-1.1-2.4l-.7-2.6l-.4-2.6l0-2.6l.6-2.6l1.4-2.3l1.9-1.8l2.3-1.3l2.5-1l2.6-.6l2.6-.3l2.6-.1l2.7 .4l2.4 1.1l2 1.7l1.3 2.3l.8 2.5l.3 2.6l-.1 2.7l-.2 2.6l-.5 2.6l-.7 2.6l-.8 2.5l-.4 2.6l.4 2.6l.7 2.6l.5 2.6l.5 2.6l.2 2.7l.2 2.6l.1 2.7l-.1 2.6l-.1 2.7l-.3 2.6l-.5 2.6l-.8 2.5l-1 2.5l-1.4 2.2l-2 1.8z" fill="#fff" stroke="#222" stroke-width="0.85" stroke-linejoin="round"/>
<path d="M64.4 110l-2.4 .1l-2.3-.6l-2-1.4l-1.5-1.8l-1.2-2.2l-.8-2.2l-.5-2.4l-.3-2.4l-.2-2.4l.1-2.4l.1-2.5l.3-2.4l.5-2.4l.6-2.3l.9-2.2l1-2.2l.9-2.3l-.7-2.3l-1.7-1.7l-1.8-1.6l-1.5-1.9l-1.2-2.1l-.9-2.3l-.4-2.4l0-2.4l.5-2.4l1.2-2l1.8-1.6l2.1-1.2l2.3-.7l2.4-.5l2.5-.1l2.4 .1l2.2 .8l1.9 1.6l1.3 2l.6 2.4l.2 2.4l-.1 2.4l-.3 2.4l-.6 2.4l-.9 2.2l-1 2.2l-1 2.2l.1 2.4l.9 2.3l.9 2.2l.7 2.4l.5 2.3l.4 2.4l.2 2.4l.1 2.5l0 2.4l-.1 2.4l-.3 2.4l-.5 2.4l-.7 2.3l-1.1 2.2l-1.5 1.9z" fill="none" stroke="#444" stroke-width="0.7" stroke-linejoin="round"/>
<path d="M64 71l-1.6 .1l-1.6-.2l-1.6-.4l-1.5-.7l-1.3-.9l-1.2-1.1l-1-1.2l-.8-1.4l-.6-1.5l-.4-1.6l-.1-1.6l0-1.6l.4-1.5l.9-1.4l1.1-1.1l1.4-.9l1.5-.6l1.6-.4l1.6-.2l1.6-.1l1.6 .1l1.5 .4l1.4 .9l1 1.2l.7 1.5l.4 1.5l.1 1.7l-.1 1.6l-.1 1.6l-.4 1.6l-.4 1.5l-.7 1.5l-.9 1.3l-1.1 1.1zM64.2 106.5l-1.6 .1l-1.6-.3l-1.4-.7l-1.2-1.1l-.9-1.2l-.8-1.5l-.5-1.5l-.4-1.5l-.2-1.6l-.2-1.6l0-1.6l0-1.6l.1-1.6l.2-1.6l.3-1.6l.4-1.5l.5-1.5l.7-1.5l.8-1.3l1.1-1.2l1.3-.9l1.5-.5l1.6 .1l1.4 .8l1 1.2l.8 1.4l.6 1.5l.4 1.5l.4 1.6l.2 1.6l.2 1.6l.1 1.6l0 1.6l0 1.6l-.1 1.6l-.2 1.6l-.3 1.5l-.4 1.6l-.6 1.5l-.8 1.4l-1 1.2z" fill="none" stroke="#444" stroke-width="0.7" stroke-linejoin="round"/>
<path d="M64 67.7l-1.7 .2l-1.6-.2l-1.6-.6l-1.4-.9l-1.1-1.2l-.9-1.4l-.5-1.6l-.2-1.6l.1-1.7l.7-1.5l1.2-1.1l1.4-.8l1.6-.5l1.6-.2l1.7 0l1.6 .4l1.3 1l.8 1.4l.4 1.6l0 1.7l-.1 1.6l-.4 1.6l-.6 1.6l-1 1.3zM64 103l-1.7 .1l-1.5-.5l-1.2-1l-.9-1.4l-.6-1.5l-.4-1.6l-.2-1.6l0-1.6l0-1.6l.2-1.6l.3-1.6l.4-1.6l.7-1.5l.9-1.3l1.3-1l1.6-.3l1.5 .4l1.1 1.2l.7 1.4l.5 1.6l.4 1.6l.1 1.6l.1 1.6l.1 1.6l-.1 1.6l-.2 1.7l-.4 1.5l-.6 1.6l-.8 1.3z" fill="none" stroke="#444" stroke-width="0.7" stroke-linejoin="round"/>
<path d="M63.7 65l-1.6 .2l-1.6-.4l-1.4-.9l-.9-1.3l-.6-1.6l0-1.6l.6-1.5l1.3-1l1.5-.5l1.7-.1l1.5 .3l1.2 1.1l.5 1.5l0 1.7l-.3 1.6l-.7 1.5zM63.7 99.8l-1.6-.1l-1.3-.9l-.8-1.4l-.4-1.6l-.1-1.6l0-1.7l.3-1.6l.5-1.6l.9-1.3l1.4-.8l1.5 .5l.9 1.3l.5 1.6l.2 1.6l.1 1.7l-.1 1.6l-.2 1.6l-.6 1.5z" fill="none" stroke="#444" stroke-width="0.7" stroke-linejoin="round"/>
<path d="M63.2 62.5l-1.4-.1l-1.2-.8l-.5-1.3l.3-1.4l1.1-.7l1.5-.2l1.1 .7l.3 1.4l-.3 1.4zM63.2 96.1l-1-.4l-.4-1l-.1-1.1l.2-1.1l.7-.9l1 .3l.3 1.1l.1 1.1l-.2 1.1z" fill="none" stroke="#444" stroke-width="0.7" stroke-linejoin="round"/>
</g>
<clipPath id="a2"><rect x="131.4" y="15.7" width="101.25" height="101.2"/></clipPath>
<g clip-path="url(#a2)">
<path d="M133.3 50.2h0.65M133.9 66.9h0.65M134.6 61.0h0.65M135.0 51.0h0.65M135.6 45.7h0.65M136.1 56.4h0.65M136.2 46.0h0.65M136.7 43.5h0.65M137.6 45.8h0.65M138.0 49.4h0.65M138.0 53.4h0.65M138.2 54.8h0.65M138.6 49.7h0.65M138.7 49.8h0.65M139.1 58.5h0.65M139.1 67.0h0.65M139.2 59.5h0.65M140.0 44.1h0.65M140.0 51.3h0.65M141.0 63.6h0.65M141.0 49.8h0.65M141.2 58.3h0.65M141.4 58.8h0.65M141.6 59.8h0.65M141.7 56.1h0.65M141.7 52.9h0.65M141.9 36.7h0.65M141.9 69.4h0.65M141.9 50.6h0.65M142.4 43.8h0.65M142.6 66.4h0.65M142.6 78.4h0.65M143.0 48.6h0.65M143.2 60.8h0.65M143.3 66.0h0.65M143.7 50.9h0.65M143.8 57.9h0.65M143.8 48.5h0.65M144.0 53.6h0.65M144.0 54.7h0.65M144.2 50.3h0.65M144.2 54.7h0.65M144.3 80.2h0.65M144.4 48.3h0.65M144.6 67.0h0.65M144.7 57.1h0.65M144.7 61.9h0.65M144.7 50.4h0.65M144.8 44.6h0.65M144.8 102.2h0.65M144.8 50.6h0.65M145.0 45.9h0.65M145.1 67.2h0.65M145.2 43.3h0.65M145.3 56.0h0.65M145.3 40.1h0.65M145.4 40.0h0.65M145.6 61.4h0.65M145.7 49.7h0.65M145.7 48.5h0.65M145.7 70.1h0.65M145.8 85.9h0.65M145.8 63.8h0.65M146.0 58.9h0.65M146.0 51.3h0.65M146.1 46.1h0.65M146.1 47.5h0.65M146.2 48.2h0.65M146.4 57.9h0.65M146.4 56.4h0.65M146.4 48.3h0.65M146.5 56.8h0.65M146.5 50.0h0.65M146.5 59.8h0.65M146.5 53.8h0.65M146.5 52.7h0.65M146.6 51.7h0.65M146.6 53.1h0.65M146.6 51.4h0.65M146.6 56.6h0.65M146.7 52.9h0.65M146.7 49.1h0.65M146.7 44.7h0.65M146.9 56.8h0.65M147.0 44.4h0.65M147.2 47.1h0.65M147.3 50.8h0.65M147.3 38.9h0.65M147.4 57.3h0.65M147.5 66.8h0.65M147.5 87.1h0.65M147.5 61.8h0.65M147.7 56.2h0.65M147.7 82.7h0.65M147.8 61.3h0.65M147.8 92.1h0.65M147.9 58.2h0.65M147.9 54.6h0.65M147.9 59.8h0.65M147.9 67.4h0.65M147.9 48.8h0.65M147.9 87.7h0.65M148.0 48.8h0.65M148.0 105.5h0.65M148.1 88.0h0.65M148.1 47.1h0.65M148.1 58.4h0.65M148.1 57.6h0.65M148.2 60.9h0.65M148.2 47.0h0.65M148.3 46.0h0.65M148.3 58.3h0.65M148.5 68.6h0.65M148.5 56.9h0.65M148.7 69.5h0.65M148.8 74.7h0.65M148.9 90.8h0.65M148.9 42.1h0.65M148.9 59.4h0.65M149.0 108.4h0.65M149.0 62.0h0.65M149.0 46.7h0.65M149.2 59.6h0.65M149.3 46.0h0.65M149.4 43.4h0.65M149.5 59.8h0.65M149.6 97.3h0.65M149.7 76.5h0.65M149.7 93.2h0.65M149.7 93.8h0.65M149.7 45.4h0.65M149.8 70.5h0.65M149.8 62.7h0.65M149.9 94.8h0.65M149.9 96.1h0.65M149.9 64.9h0.65M149.9 61.0h0.65M150.1 97.9h0.65M150.1 36.1h0.65M150.2 115.0h0.65M150.2 84.7h0.65M150.3 103.4h0.65M150.4 103.4h0.65M150.4 86.9h0.65M150.4 61.2h0.65M150.4 89.6h0.65M150.5 44.9h0.65M150.6 94.6h0.65M150.9 94.4h0.65M150.9 90.3h0.65M150.9 44.6h0.65M151.0 62.2h0.65M151.0 66.5h0.65M151.1 85.0h0.65M151.2 76.3h0.65M151.2 62.7h0.65M151.2 61.8h0.65M151.3 91.6h0.65M151.4 60.8h0.65M151.8 92.0h0.65M151.8 106.4h0.65M151.9 99.9h0.65M151.9 97.3h0.65M152.0 90.1h0.65M152.3 85.1h0.65M152.3 97.9h0.65M152.4 63.0h0.65M152.5 98.1h0.65M152.5 68.0h0.65M152.6 64.0h0.65M152.6 91.5h0.65M152.7 114.8h0.65M152.8 87.3h0.65M152.9 90.0h0.65M152.9 91.7h0.65M153.0 112.0h0.65M153.1 66.9h0.65M153.2 72.1h0.65M153.3 84.9h0.65M153.3 95.7h0.65M153.3 83.0h0.65M153.4 82.0h0.65M153.4 65.3h0.65M153.5 105.1h0.65M153.6 65.6h0.65M153.6 43.4h0.65M153.6 42.3h0.65M153.7 41.2h0.65M153.7 109.1h0.65M153.8 106.0h0.65M153.8 81.9h0.65M153.8 79.7h0.65M153.9 63.0h0.65M154.0 104.4h0.65M154.0 103.6h0.65M154.2 63.6h0.65M154.3 63.3h0.65M154.3 103.8h0.65M154.3 42.2h0.65M154.4 73.5h0.65M154.4 35.8h0.65M154.4 62.9h0.65M154.5 68.2h0.65M154.5 43.5h0.65M154.6 111.5h0.65M154.7 81.1h0.65M154.8 76.5h0.65M154.9 111.7h0.65M155.2 42.8h0.65M155.2 79.6h0.65M155.4 78.6h0.65M155.5 109.5h0.65M155.6 41.2h0.65M155.6 102.6h0.65M155.7 76.6h0.65M155.7 77.5h0.65M155.8 66.0h0.65M155.8 70.4h0.65M155.9 66.0h0.65M155.9 71.9h0.65M155.9 66.7h0.65M155.9 42.6h0.65M155.9 106.8h0.65M156.0 112.5h0.65M156.1 66.3h0.65M156.1 76.8h0.65M156.1 69.6h0.65M156.1 67.9h0.65M156.2 39.2h0.65M156.2 109.7h0.65M156.3 112.6h0.65M156.4 66.2h0.65M156.4 104.8h0.65M156.4 78.4h0.65M156.4 41.3h0.65M156.5 65.1h0.65M156.7 39.6h0.65M156.7 67.4h0.65M156.9 70.6h0.65M157.1 72.4h0.65M157.1 33.0h0.65M157.2 106.2h0.65M157.2 67.0h0.65M157.2 113.1h0.65M157.2 107.1h0.65M157.3 108.2h0.65M157.3 42.1h0.65M157.4 110.5h0.65M157.6 73.4h0.65M157.6 41.9h0.65M157.7 75.1h0.65M157.7 66.7h0.65M157.7 106.7h0.65M157.7 76.5h0.65M157.7 108.7h0.65M157.7 66.8h0.65M157.9 67.7h0.65M157.9 78.3h0.65M157.9 73.4h0.65M158.1 41.8h0.65M158.1 110.7h0.65M158.1 67.1h0.65M158.3 40.9h0.65M158.3 41.9h0.65M158.4 75.6h0.65M158.4 66.6h0.65M158.5 107.6h0.65M158.5 109.2h0.65M158.5 73.9h0.65M158.6 107.5h0.65M158.7 73.8h0.65M158.7 66.3h0.65M158.8 66.5h0.65M158.9 109.4h0.65M159.0 74.9h0.65M159.1 39.2h0.65M159.1 77.4h0.65M159.2 114.0h0.65M159.2 110.6h0.65M159.3 110.9h0.65M159.4 74.4h0.65M159.4 40.4h0.65M159.4 70.5h0.65M159.4 67.0h0.65M159.5 41.7h0.65M159.5 70.6h0.65M159.5 115.5h0.65M159.5 68.3h0.65M159.8 69.9h0.65M159.9 38.5h0.65M159.9 109.8h0.65M160.0 116.1h0.65M160.0 75.4h0.65M160.2 113.3h0.65M160.2 75.9h0.65M160.3 115.2h0.65M160.4 71.8h0.65M160.5 69.0h0.65M160.6 70.9h0.65M160.6 36.6h0.65M160.6 69.4h0.65M160.7 68.6h0.65M160.8 109.8h0.65M160.8 69.9h0.65M160.9 70.8h0.65M161.1 28.6h0.65M161.2 111.3h0.65M161.2 109.7h0.65M161.2 76.0h0.65M161.3 72.2h0.65M161.6 116.8h0.65M161.6 111.3h0.65M161.8 110.7h0.65M162.0 40.5h0.65M162.2 76.3h0.65M162.3 71.9h0.65M162.3 38.8h0.65M162.6 70.8h0.65M162.7 70.0h0.65M162.8 74.7h0.65M162.9 38.7h0.65M163.0 112.9h0.65M163.1 110.7h0.65M163.1 35.0h0.65M163.1 39.7h0.65M163.2 39.2h0.65M163.3 41.2h0.65M163.3 72.2h0.65M163.3 41.3h0.65M163.5 70.3h0.65M163.6 70.8h0.65M163.9 71.8h0.65M164.0 71.4h0.65M164.3 72.5h0.65M164.5 111.5h0.65M164.6 111.2h0.65M164.6 37.7h0.65M164.8 38.0h0.65M164.9 70.7h0.65M165.0 73.1h0.65M165.0 71.8h0.65M165.1 70.8h0.65M165.2 41.5h0.65M165.4 41.3h0.65M165.6 39.9h0.65M165.9 40.5h0.65M166.0 41.5h0.65M166.0 40.7h0.65M166.1 39.7h0.65M166.1 113.6h0.65M166.3 72.5h0.65M166.3 111.7h0.65M166.4 73.1h0.65M166.5 73.9h0.65M166.9 111.0h0.65M166.9 116.5h0.65M167.1 38.0h0.65M167.3 97.5h0.65M167.3 110.6h0.65M167.3 112.6h0.65M167.4 75.8h0.65M167.4 114.6h0.65M167.5 72.6h0.65M167.8 75.0h0.65M168.2 71.6h0.65M168.3 40.7h0.65M168.4 41.3h0.65M168.5 112.4h0.65M168.6 72.5h0.65M168.7 40.4h0.65M169.0 41.1h0.65M169.0 74.9h0.65M169.1 41.6h0.65M169.1 115.7h0.65M169.3 111.1h0.65M169.3 108.5h0.65M169.5 110.8h0.65M169.6 110.6h0.65M169.6 77.2h0.65M169.7 72.8h0.65M169.7 37.1h0.65M169.7 113.0h0.65M169.7 114.9h0.65M169.9 110.2h0.65M170.1 109.7h0.65M170.2 76.3h0.65M170.2 108.2h0.65M170.4 115.0h0.65M170.4 38.1h0.65M170.5 72.6h0.65M170.5 71.1h0.65M170.8 41.0h0.65M170.9 115.3h0.65M170.9 71.2h0.65M170.9 107.4h0.65M170.9 77.4h0.65M171.0 78.6h0.65M171.1 39.5h0.65M171.2 112.5h0.65M171.2 68.7h0.65M171.3 107.3h0.65M171.4 113.5h0.65M171.4 110.3h0.65M171.4 108.7h0.65M171.5 41.6h0.65M171.5 70.4h0.65M171.6 112.6h0.65M171.6 71.8h0.65M171.6 114.0h0.65M171.8 112.5h0.65M171.9 70.4h0.65M171.9 106.1h0.65M171.9 68.5h0.65M172.0 104.2h0.65M172.0 115.0h0.65M172.2 79.2h0.65M172.2 78.0h0.65M172.2 73.8h0.65M172.4 73.7h0.65M172.4 70.3h0.65M172.4 37.1h0.65M172.4 41.2h0.65M172.4 104.3h0.65M172.4 40.2h0.65M172.4 67.2h0.65M172.5 67.3h0.65M172.5 67.3h0.65M172.5 107.1h0.65M172.6 79.4h0.65M172.6 102.9h0.65M172.7 70.2h0.65M172.7 71.0h0.65M172.8 111.6h0.65M172.9 99.4h0.65M172.9 98.6h0.65M173.0 106.2h0.65M173.1 69.6h0.65M173.1 97.2h0.65M173.2 40.4h0.65M173.3 71.9h0.65M173.3 97.3h0.65M173.3 98.5h0.65M173.4 86.3h0.65M173.4 41.8h0.65M173.4 79.0h0.65M173.5 101.9h0.65M173.5 99.2h0.65M173.5 85.4h0.65M173.5 87.0h0.65M173.6 83.6h0.65M173.6 89.2h0.65M173.6 40.4h0.65M173.6 90.4h0.65M173.7 77.0h0.65M173.7 101.5h0.65M173.8 68.5h0.65M173.8 104.9h0.65M173.8 82.8h0.65M173.9 86.1h0.65M173.9 73.2h0.65M174.0 76.7h0.65M174.0 40.7h0.65M174.0 85.9h0.65M174.1 88.5h0.65M174.1 64.9h0.65M174.1 84.3h0.65M174.2 40.9h0.65M174.2 65.7h0.65M174.3 89.7h0.65M174.5 42.0h0.65M174.5 97.6h0.65M174.6 100.6h0.65M174.6 88.4h0.65M174.6 90.7h0.65M174.7 76.0h0.65M174.8 92.0h0.65M174.8 40.7h0.65M174.9 88.4h0.65M174.9 64.8h0.65M175.0 91.5h0.65M175.1 107.2h0.65M175.1 78.4h0.65M175.2 86.8h0.65M175.2 106.5h0.65M175.2 42.2h0.65M175.2 72.8h0.65M175.2 42.3h0.65M175.2 66.8h0.65M175.3 41.4h0.65M175.4 40.2h0.65M175.4 99.0h0.65M175.5 65.9h0.65M175.5 95.2h0.65M175.5 66.1h0.65M175.7 40.3h0.65M175.7 80.4h0.65M175.8 109.7h0.65M175.8 82.7h0.65M175.8 89.0h0.65M175.9 66.6h0.65M175.9 89.8h0.65M176.0 84.0h0.65M176.1 63.7h0.65M176.1 64.4h0.65M176.1 63.5h0.65M176.3 92.7h0.65M176.3 86.8h0.65M176.3 94.2h0.65M176.4 79.3h0.65M176.4 104.4h0.65M176.5 64.0h0.65M176.6 76.9h0.65M176.7 65.1h0.65M176.7 64.4h0.65M176.7 62.4h0.65M176.7 62.9h0.65M176.8 88.4h0.65M176.8 38.1h0.65M176.8 39.2h0.65M176.8 77.0h0.65M176.8 72.8h0.65M176.9 62.3h0.65M176.9 38.6h0.65M176.9 92.4h0.65M177.0 95.1h0.65M177.1 63.2h0.65M177.1 40.6h0.65M177.1 96.4h0.65M177.2 102.5h0.65M177.5 62.2h0.65M177.6 62.6h0.65M177.7 95.3h0.65M177.8 63.4h0.65M177.8 65.7h0.65M177.8 37.5h0.65M177.8 83.7h0.65M177.9 101.0h0.65M178.2 62.1h0.65M178.3 40.2h0.65M178.3 40.0h0.65M178.3 96.8h0.65M178.4 80.9h0.65M178.4 88.9h0.65M178.5 61.3h0.65M178.6 38.9h0.65M178.7 63.4h0.65M178.8 40.9h0.65M178.9 61.0h0.65M178.9 86.2h0.65M178.9 40.5h0.65M179.0 37.8h0.65M179.0 61.7h0.65M179.1 88.7h0.65M179.2 101.7h0.65M179.2 60.1h0.65M179.2 69.1h0.65M179.2 64.4h0.65M179.3 90.2h0.65M179.4 40.8h0.65M179.5 62.2h0.65M179.5 63.4h0.65M179.6 108.3h0.65M179.7 84.5h0.65M179.7 73.7h0.65M179.7 60.2h0.65M179.8 63.5h0.65M179.9 60.2h0.65M179.9 60.9h0.65M180.0 40.8h0.65M180.0 38.8h0.65M180.4 42.0h0.65M180.5 105.9h0.65M180.5 62.4h0.65M180.6 38.3h0.65M180.6 59.2h0.65M180.6 61.0h0.65M180.6 65.7h0.65M180.7 94.2h0.65M181.1 60.5h0.65M181.4 65.6h0.65M181.4 66.9h0.65M181.4 60.4h0.65M181.6 60.2h0.65M181.7 41.5h0.65M181.8 101.2h0.65M181.8 96.3h0.65M181.9 81.6h0.65M181.9 60.6h0.65M182.1 87.0h0.65M182.3 61.7h0.65M182.3 39.5h0.65M182.4 59.0h0.65M182.7 99.0h0.65M182.8 96.3h0.65M182.8 60.7h0.65M182.8 60.2h0.65M182.9 60.0h0.65M182.9 97.9h0.65M182.9 58.4h0.65M183.1 106.1h0.65M183.4 58.2h0.65M183.4 40.8h0.65M183.5 41.8h0.65M183.6 103.8h0.65M183.6 38.2h0.65M183.7 41.0h0.65M183.8 41.5h0.65M184.0 73.6h0.65M184.0 88.8h0.65M184.1 85.4h0.65M184.1 59.8h0.65M184.1 81.9h0.65M184.2 102.5h0.65M184.3 58.5h0.65M184.3 61.3h0.65M184.4 41.5h0.65M184.4 103.8h0.65M184.5 76.9h0.65M184.7 67.8h0.65M185.0 94.2h0.65M185.1 40.5h0.65M185.1 41.3h0.65M185.2 75.9h0.65M185.4 78.1h0.65M185.4 83.0h0.65M185.4 60.3h0.65M185.5 40.6h0.65M185.5 64.1h0.65M185.6 92.0h0.65M185.7 80.6h0.65M185.9 36.4h0.65M185.9 104.7h0.65M186.1 82.1h0.65M186.1 41.0h0.65M186.3 61.7h0.65M186.3 93.9h0.65M186.4 88.0h0.65M186.5 40.2h0.65M186.5 68.1h0.65M186.5 58.4h0.65M186.7 41.2h0.65M186.8 92.2h0.65M186.9 61.0h0.65M187.0 91.8h0.65M187.3 41.0h0.65M187.3 83.5h0.65M187.5 106.5h0.65M187.6 95.9h0.65M188.0 84.3h0.65M188.1 58.1h0.65M188.3 59.7h0.65M188.4 61.2h0.65M188.4 59.0h0.65M188.4 58.7h0.65M188.5 81.4h0.65M188.6 40.3h0.65M188.7 91.2h0.65M188.7 98.2h0.65M188.7 39.3h0.65M188.7 82.7h0.65M188.7 57.7h0.65M188.7 103.9h0.65M188.8 91.7h0.65M188.8 36.1h0.65M188.9 58.6h0.65M189.1 85.1h0.65M189.2 39.0h0.65M189.3 57.2h0.65M189.6 89.9h0.65M189.9 102.2h0.65M190.0 102.0h0.65M190.0 85.0h0.65M190.2 41.5h0.65M190.4 41.7h0.65M190.5 81.0h0.65M190.5 59.0h0.65M190.6 91.6h0.65M190.6 59.1h0.65M190.7 112.1h0.65M190.9 89.7h0.65M191.1 57.1h0.65M191.1 96.2h0.65M191.1 90.8h0.65M191.3 87.3h0.65M191.5 63.1h0.65M191.5 67.3h0.65M191.6 91.1h0.65M191.6 75.6h0.65M191.6 84.5h0.65M191.7 91.1h0.65M191.8 59.6h0.65M191.8 99.0h0.65M191.9 94.2h0.65M192.0 98.0h0.65M192.0 108.5h0.65M192.1 58.0h0.65M192.1 38.3h0.65M192.1 77.3h0.65M192.2 89.5h0.65M192.2 56.5h0.65M192.3 103.4h0.65M192.4 85.5h0.65M192.6 108.1h0.65M192.7 82.1h0.65M192.8 115.4h0.65M193.0 55.8h0.65M193.0 99.4h0.65M193.1 97.8h0.65M193.3 93.6h0.65M193.6 103.1h0.65M193.8 58.5h0.65M193.9 38.7h0.65M193.9 39.7h0.65M194.1 102.4h0.65M194.2 102.1h0.65M194.4 78.6h0.65M194.6 56.3h0.65M194.6 58.9h0.65M194.7 54.3h0.65M194.8 104.4h0.65M195.0 77.1h0.65M195.2 57.8h0.65M195.2 41.4h0.65M195.3 93.2h0.65M195.4 100.5h0.65M195.5 101.5h0.65M195.5 113.7h0.65M195.5 90.7h0.65M195.6 43.6h0.65M195.7 84.9h0.65M195.7 93.5h0.65M195.7 41.8h0.65M195.9 87.2h0.65M195.9 86.5h0.65M196.3 64.6h0.65M196.3 101.3h0.65M196.5 45.4h0.65M196.6 54.4h0.65M196.8 83.7h0.65M196.8 45.5h0.65M197.0 82.1h0.65M197.0 54.4h0.65M197.4 44.9h0.65M197.5 45.7h0.65M197.5 58.8h0.65M197.6 44.3h0.65M197.6 49.2h0.65M197.7 45.9h0.65M197.7 47.9h0.65M197.8 47.1h0.65M197.9 62.3h0.65M198.0 78.7h0.65M198.1 55.5h0.65M198.1 44.5h0.65M198.3 48.0h0.65M198.3 103.3h0.65M198.4 51.2h0.65M198.5 97.4h0.65M198.5 92.7h0.65M198.5 50.6h0.65M198.6 50.7h0.65M198.7 49.2h0.65M198.8 49.0h0.65M198.9 54.1h0.65M198.9 52.6h0.65M198.9 46.1h0.65M198.9 87.5h0.65M198.9 47.3h0.65M199.1 53.7h0.65M199.2 97.8h0.65M199.5 87.1h0.65M199.6 100.7h0.65M199.6 85.6h0.65M199.7 48.0h0.65M199.9 92.2h0.65M199.9 44.4h0.65M200.0 54.0h0.65M200.0 94.2h0.65M200.1 96.6h0.65M200.3 47.6h0.65M200.6 49.2h0.65M200.9 49.5h0.65M201.0 39.1h0.65M201.0 50.3h0.65M201.3 94.1h0.65M201.4 50.7h0.65M201.9 56.1h0.65M202.1 47.6h0.65M202.3 89.3h0.65M202.5 101.0h0.65M202.5 101.9h0.65M202.8 46.9h0.65M203.1 95.7h0.65M203.2 49.7h0.65M203.3 47.0h0.65M204.8 110.1h0.65M204.8 78.3h0.65M206.1 74.8h0.65M208.0 54.1h0.65M209.2 87.1h0.65M210.4 91.8h0.65M213.7 101.6h0.65" stroke="#333" stroke-width="0.65" fill="none"/>
<path d="M168.2 70.5l-2.1 .2l-2.1-.4l-1.9-.9l-1.6-1.3l-1.4-1.6l-1.5-1.6l-1.7-1.2l-1.8-1.1l-1.7-1.2l-1.6-1.4l-1.3-1.7l-1-1.9l-.6-2l-.3-2.1l.1-2.1l.7-2l1.3-1.7l1.6-1.3l1.8-1.1l2-.8l2-.6l2-.5l2.1-.3l2.1-.2l2.1-.2l2.2 0l2.1 .1l2.1 .2l2.1 .3l2.1 .2l2.1 0l2.1-.2l2.1-.2l2.1-.2l2.1-.1l2.1 .1l2.1 .3l2 .6l1.9 1l1.5 1.5l.8 1.9l.1 2.1l-.5 2.1l-.9 1.9l-1.4 1.5l-1.7 1.3l-1.9 .9l-2.1 .6l-2.1 .3l-2.1 .3l-2 .3l-2 .7l-1.8 1.2l-1.5 1.5l-1.5 1.4l-1.5 1.6l-1.2 1.7l-1.2 1.7l-1.6 1.5zM166.4 110.2l-1.6 0l-1.6-.2l-1.5-.5l-1.4-.8l-1.2-1.1l-1.1-1.2l-1-1.3l-.7-1.4l-.7-1.4l-.6-1.6l-.4-1.5l-.4-1.6l-.3-1.6l-.2-1.6l-.2-1.6l0-1.6l-.1-1.6l.1-1.6l.1-1.6l.3-1.6l.5-1.5l.7-1.5l.9-1.3l1.1-1.2l1.2-1.1l1.4-.8l1.4-.6l1.6-.5l1.6-.2l1.6 0l1.6 .2l1.4 .7l1.3 1l1 1.3l.8 1.4l.6 1.5l.4 1.5l.3 1.6l.2 1.6l.1 1.6l0 1.6l-.1 1.6l0 1.6l-.1 1.7l-.2 1.6l-.2 1.6l-.3 1.5l-.3 1.6l-.4 1.6l-.5 1.5l-.6 1.5l-.8 1.4l-1 1.3l-1.2 1z" fill="#fff" stroke="#222" stroke-width="0.85" stroke-linejoin="round"/>
<path d="M166.6 68.7l-1.8-.2l-1.7-.7l-1.4-1.2l-1.1-1.5l-1.1-1.6l-1.2-1.3l-1.5-1.2l-1.5-1.1l-1.4-1.2l-1.2-1.4l-.9-1.6l-.5-1.8l-.3-1.9l.2-1.8l.7-1.7l1.2-1.4l1.5-1.1l1.6-.9l1.8-.6l1.8-.5l1.8-.4l1.9-.2l1.8-.1l1.9-.1l1.8 .1l1.9 .1l1.8 .3l1.9 .2l1.8 .1l1.9-.1l1.9-.2l1.8-.2l1.8-.2l1.9-.1l1.9 0l1.8 .2l1.8 .6l1.6 .9l1.1 1.5l.4 1.8l-.1 1.8l-.8 1.8l-1.1 1.4l-1.5 1.1l-1.7 .8l-1.8 .4l-1.9 .3l-1.8 .2l-1.9 .2l-1.8 .4l-1.7 .7l-1.4 1.2l-1.3 1.3l-1.3 1.3l-1.2 1.5l-1 1.6l-.9 1.6l-1.1 1.5l-1.5 1zM166.2 105.7l-1.7 0l-1.5-.4l-1.5-.7l-1.2-1.1l-1-1.2l-.9-1.4l-.7-1.5l-.5-1.5l-.5-1.5l-.3-1.6l-.2-1.6l-.1-1.7l-.1-1.6l0-1.6l.2-1.6l.4-1.6l.6-1.5l.9-1.3l1.1-1.2l1.3-1l1.5-.6l1.6-.5l1.6-.1l1.6 .1l1.5 .6l1.2 1.1l.9 1.3l.6 1.5l.5 1.6l.2 1.6l.1 1.6l.1 1.6l-.1 1.6l-.1 1.7l-.1 1.6l-.2 1.6l-.3 1.6l-.4 1.6l-.5 1.5l-.6 1.5l-.8 1.4l-1.2 1.1z" fill="none" stroke="#444" stroke-width="0.7" stroke-linejoin="round"/>
<path d="M167.6 66.5l-1.5 .1l-1.6-.4l-1.2-.9l-1-1.3l-.7-1.4l-.9-1.4l-1-1.2l-1.2-1.1l-1.2-1.1l-1.1-1.1l-.9-1.4l-.6-1.5l-.2-1.5l0-1.6l.6-1.5l1-1.2l1.3-1l1.5-.7l1.5-.5l1.5-.3l1.6-.3l1.6-.1l1.6-.1l1.6 0l1.6 .1l1.6 .2l1.6 .3l1.5 .3l1.6 .1l1.6-.1l1.6-.3l1.6-.2l1.6-.3l1.6-.2l1.5-.1l1.6 .1l1.6 .4l1.4 .7l.9 1.3l.2 1.6l-.4 1.5l-.9 1.3l-1.3 .9l-1.5 .6l-1.6 .3l-1.6 .2l-1.6 0l-1.6 .1l-1.6 .2l-1.5 .4l-1.3 .9l-1.2 1.1l-1 1.2l-1.1 1.2l-1 1.3l-.9 1.3l-.7 1.4l-.7 1.5l-.9 1.3zM166.6 100.7l-1.6 .2l-1.5-.4l-1.4-.9l-1.1-1.3l-.8-1.4l-.6-1.5l-.4-1.6l-.2-1.6l-.2-1.7l0-1.6l.2-1.7l.5-1.5l.8-1.4l1.2-1.2l1.4-.8l1.6-.3l1.7-.1l1.5 .7l1.1 1.2l.7 1.5l.4 1.5l.1 1.7l0 1.6l0 1.7l-.2 1.6l-.2 1.6l-.4 1.6l-.5 1.6l-.8 1.4z" fill="none" stroke="#444" stroke-width="0.7" stroke-linejoin="round"/>
<path d="M167.2 64.1l-1.6-.1l-1.2-1.1l-.9-1.4l-.8-1.4l-.9-1.3l-1.1-1.2l-1.1-1.2l-.9-1.3l-.7-1.5l-.3-1.6l.2-1.6l.8-1.3l1.3-1l1.5-.7l1.6-.4l1.6-.2l1.6-.2l1.6 0l1.6 .1l1.6 .3l1.6 .5l1.4 .7l1.4 .9l.5 1.5l-.7 1.4l-.9 1.4l-.8 1.4l-1 1.3l-1 1.3l-.9 1.3l-.9 1.4l-.8 1.4l-.7 1.5zM185.6 50.7l-1.6 .2l-1.6-.1l-1.5-.5l-1-1.1l.9-1.2l1.5-.6l1.6-.3l1.6-.2l1.6 .4l.7 1.4l-.7 1.4zM166.2 95.2l-1.6 0l-1.3-1l-.7-1.5l-.4-1.5l-.1-1.6l.1-1.6l.7-1.5l1.3-.9l1.6-.2l1.3 .8l.7 1.5l.1 1.6l0 1.6l-.3 1.6l-.4 1.5z" fill="none" stroke="#444" stroke-width="0.7" stroke-linejoin="round"/>
<path d="M166.6 59.7l-1.4-.6l-1.2-1.2l-1-1.2l-1.1-1.3l-.8-1.4l-.5-1.6l.1-1.6l1-1.3l1.5-.8l1.6-.4l1.6-.2l1.7 0l1.6 .2l1.5 .7l1 1.3l.1 1.6l-.5 1.6l-.8 1.5l-.9 1.3l-1 1.3l-1.1 1.2z" fill="none" stroke="#444" stroke-width="0.7" stroke-linejoin="round"/>
<path d="M167.4 56l-1.6-.1l-1.4-1l-1-1.3l-.3-1.7l.7-1.5l1.5-.7l1.6-.2l1.7 .1l1.3 .9l.3 1.6l-.5 1.6l-.9 1.3z" fill="none" stroke="#444" stroke-width="0.7" stroke-linejoin="round"/>
</g>
<clipPath id="a3"><rect x="232.65" y="15.7" width="102.35" height="101.2"/></clipPath>
<g clip-path="url(#a3)">
<path d="M233.9 54.2h0.65M234.0 60.5h0.65M235.4 62.3h0.65M237.4 50.2h0.65M237.7 61.9h0.65M237.7 62.5h0.65M237.9 49.7h0.65M238.0 56.4h0.65M238.1 62.2h0.65M238.7 55.6h0.65M239.0 49.8h0.65M239.2 41.0h0.65M239.7 62.1h0.65M240.1 51.0h0.65M240.3 64.7h0.65M240.4 55.1h0.65M240.4 63.7h0.65M240.7 62.6h0.65M240.7 51.4h0.65M240.9 54.4h0.65M240.9 49.0h0.65M240.9 54.2h0.65M241.1 53.9h0.65M241.2 56.3h0.65M241.3 53.4h0.65M241.3 55.5h0.65M241.6 60.1h0.65M241.7 47.8h0.65M241.7 55.3h0.65M241.7 54.3h0.65M241.9 51.4h0.65M242.0 60.1h0.65M242.0 59.2h0.65M242.3 63.7h0.65M242.4 56.2h0.65M242.6 68.7h0.65M242.6 52.3h0.65M242.7 50.1h0.65M242.9 47.1h0.65M243.2 55.3h0.65M243.3 66.1h0.65M243.4 47.4h0.65M243.7 48.2h0.65M243.9 60.2h0.65M244.0 55.3h0.65M244.0 62.5h0.65M244.2 50.0h0.65M244.2 40.7h0.65M244.4 61.2h0.65M244.5 59.3h0.65M244.7 52.2h0.65M244.7 62.1h0.65M244.8 56.3h0.65M245.0 45.1h0.65M245.0 52.9h0.65M245.0 61.8h0.65M245.1 50.7h0.65M245.1 57.7h0.65M245.2 59.0h0.65M245.2 100.7h0.65M245.3 84.1h0.65M245.3 52.6h0.65M245.3 55.6h0.65M245.4 49.0h0.65M245.4 62.7h0.65M245.5 56.1h0.65M245.5 57.6h0.65M245.5 66.6h0.65M245.6 58.1h0.65M245.6 52.9h0.65M245.7 53.7h0.65M245.8 61.9h0.65M245.8 42.9h0.65M245.9 55.7h0.65M246.0 62.0h0.65M246.0 51.3h0.65M246.1 87.2h0.65M246.1 53.3h0.65M246.1 65.5h0.65M246.3 49.0h0.65M246.3 104.3h0.65M246.4 62.2h0.65M246.4 43.5h0.65M246.5 61.9h0.65M246.5 64.4h0.65M246.6 64.6h0.65M246.6 52.9h0.65M246.6 54.3h0.65M246.6 63.8h0.65M246.6 56.3h0.65M246.7 57.7h0.65M246.7 55.2h0.65M246.7 42.6h0.65M246.7 60.2h0.65M246.8 50.2h0.65M246.8 91.2h0.65M246.9 60.0h0.65M247.0 46.2h0.65M247.0 56.0h0.65M247.2 50.7h0.65M247.3 58.7h0.65M247.3 50.0h0.65M247.3 67.5h0.65M247.4 46.3h0.65M247.4 52.4h0.65M247.5 49.4h0.65M247.5 60.7h0.65M247.5 62.7h0.65M247.5 55.4h0.65M247.6 39.4h0.65M247.6 60.9h0.65M247.7 64.6h0.65M247.7 54.5h0.65M247.7 68.2h0.65M247.8 93.4h0.65M247.9 61.9h0.65M247.9 49.9h0.65M247.9 53.2h0.65M248.0 54.0h0.65M248.0 63.8h0.65M248.1 106.6h0.65M248.1 53.1h0.65M248.2 62.4h0.65M248.2 59.4h0.65M248.2 62.4h0.65M248.3 55.6h0.65M248.3 61.3h0.65M248.3 51.3h0.65M248.3 55.0h0.65M248.4 52.3h0.65M248.4 103.1h0.65M248.4 51.0h0.65M248.5 85.9h0.65M248.5 51.0h0.65M248.6 58.1h0.65M248.7 68.4h0.65M248.8 60.0h0.65M248.8 43.7h0.65M248.8 61.8h0.65M248.8 59.2h0.65M248.8 51.0h0.65M248.9 55.8h0.65M248.9 65.2h0.65M249.0 53.1h0.65M249.0 47.8h0.65M249.0 53.4h0.65M249.0 48.9h0.65M249.0 47.6h0.65M249.1 65.6h0.65M249.1 48.4h0.65M249.1 59.9h0.65M249.1 52.0h0.65M249.1 51.8h0.65M249.2 63.6h0.65M249.2 58.0h0.65M249.2 43.5h0.65M249.2 51.0h0.65M249.2 55.8h0.65M249.2 60.1h0.65M249.3 86.0h0.65M249.3 63.7h0.65M249.3 89.3h0.65M249.3 51.2h0.65M249.3 110.1h0.65M249.3 49.5h0.65M249.4 49.5h0.65M249.4 54.2h0.65M249.4 57.9h0.65M249.6 40.1h0.65M249.6 51.0h0.65M249.6 41.8h0.65M249.6 53.1h0.65M249.6 62.9h0.65M249.7 49.7h0.65M249.7 49.0h0.65M249.7 49.6h0.65M249.8 48.9h0.65M249.8 62.5h0.65M249.8 42.0h0.65M249.9 57.9h0.65M250.0 61.7h0.65M250.0 60.9h0.65M250.0 57.4h0.65M250.0 102.2h0.65M250.1 47.7h0.65M250.1 63.5h0.65M250.1 93.8h0.65M250.2 63.0h0.65M250.2 50.4h0.65M250.3 48.4h0.65M250.3 41.6h0.65M250.3 59.0h0.65M250.3 49.1h0.65M250.3 47.4h0.65M250.3 77.0h0.65M250.3 60.8h0.65M250.4 60.8h0.65M250.4 63.1h0.65M250.4 65.6h0.65M250.4 59.6h0.65M250.4 114.5h0.65M250.5 114.3h0.65M250.5 43.9h0.65M250.5 49.4h0.65M250.6 60.3h0.65M250.6 89.7h0.65M250.6 69.6h0.65M250.6 69.8h0.65M250.7 90.4h0.65M250.7 45.6h0.65M250.7 46.3h0.65M250.7 91.2h0.65M250.7 59.6h0.65M250.8 69.0h0.65M250.8 60.0h0.65M250.8 49.2h0.65M250.9 63.6h0.65M250.9 66.0h0.65M251.0 62.0h0.65M251.1 47.9h0.65M251.1 60.7h0.65M251.1 48.1h0.65M251.1 59.6h0.65M251.2 61.1h0.65M251.2 90.2h0.65M251.2 86.3h0.65M251.2 62.6h0.65M251.2 46.1h0.65M251.3 108.0h0.65M251.3 63.3h0.65M251.4 60.9h0.65M251.4 48.5h0.65M251.4 49.3h0.65M251.5 61.4h0.65M251.5 60.2h0.65M251.6 61.4h0.65M251.6 68.1h0.65M251.6 46.4h0.65M251.6 39.6h0.65M251.7 81.5h0.65M251.8 68.2h0.65M251.9 62.2h0.65M251.9 61.6h0.65M251.9 65.7h0.65M251.9 63.8h0.65M251.9 46.4h0.65M251.9 48.6h0.65M251.9 66.2h0.65M252.0 65.0h0.65M252.0 46.4h0.65M252.0 63.5h0.65M252.2 63.0h0.65M252.2 64.1h0.65M252.2 45.8h0.65M252.2 87.2h0.65M252.3 63.6h0.65M252.3 44.8h0.65M252.3 91.9h0.65M252.3 70.9h0.65M252.3 46.2h0.65M252.4 61.4h0.65M252.5 62.1h0.65M252.5 72.9h0.65M252.5 63.0h0.65M252.5 44.6h0.65M252.5 103.5h0.65M252.5 46.4h0.65M252.6 62.5h0.65M252.6 44.8h0.65M252.7 76.7h0.65M252.7 97.2h0.65M252.7 62.1h0.65M252.9 103.1h0.65M252.9 80.8h0.65M253.0 45.6h0.65M253.0 45.6h0.65M253.0 47.7h0.65M253.0 44.3h0.65M253.1 91.6h0.65M253.1 44.3h0.65M253.1 67.6h0.65M253.1 93.3h0.65M253.2 45.0h0.65M253.2 64.5h0.65M253.3 63.5h0.65M253.3 67.4h0.65M253.3 82.7h0.65M253.3 45.8h0.65M253.3 39.9h0.65M253.3 46.5h0.65M253.3 46.7h0.65M253.4 68.7h0.65M253.4 81.9h0.65M253.4 63.8h0.65M253.5 39.3h0.65M253.5 63.0h0.65M253.5 100.0h0.65M253.5 104.0h0.65M253.5 104.5h0.65M253.5 115.5h0.65M253.5 46.5h0.65M253.6 73.8h0.65M253.6 66.0h0.65M253.6 99.1h0.65M253.6 101.2h0.65M253.7 46.9h0.65M253.7 43.8h0.65M253.7 63.5h0.65M253.7 70.2h0.65M253.7 99.5h0.65M253.8 82.5h0.65M253.8 46.1h0.65M253.9 85.1h0.65M253.9 83.8h0.65M253.9 65.3h0.65M254.0 90.2h0.65M254.0 67.5h0.65M254.0 87.2h0.65M254.0 62.6h0.65M254.0 65.4h0.65M254.1 82.3h0.65M254.1 90.5h0.65M254.2 100.8h0.65M254.2 65.9h0.65M254.2 90.7h0.65M254.2 93.9h0.65M254.2 65.4h0.65M254.3 93.8h0.65M254.4 68.7h0.65M254.4 63.4h0.65M254.4 46.3h0.65M254.4 68.5h0.65M254.4 92.5h0.65M254.5 92.9h0.65M254.5 44.0h0.65M254.6 100.3h0.65M254.6 98.3h0.65M254.6 94.2h0.65M254.6 64.3h0.65M254.6 64.5h0.65M254.6 92.6h0.65M254.7 87.9h0.65M254.7 89.2h0.65M254.7 46.6h0.65M254.7 89.7h0.65M254.8 97.4h0.65M254.8 93.7h0.65M254.8 65.8h0.65M254.8 86.2h0.65M254.8 64.6h0.65M254.8 97.8h0.65M254.8 68.8h0.65M255.0 66.9h0.65M255.0 67.0h0.65M255.0 63.9h0.65M255.0 63.6h0.65M255.0 90.4h0.65M255.0 46.4h0.65M255.0 80.9h0.65M255.1 84.0h0.65M255.1 99.4h0.65M255.1 105.3h0.65M255.1 44.2h0.65M255.1 88.6h0.65M255.1 64.3h0.65M255.3 64.3h0.65M255.3 64.1h0.65M255.3 67.9h0.65M255.3 89.3h0.65M255.4 96.3h0.65M255.4 67.0h0.65M255.5 92.3h0.65M255.5 86.1h0.65M255.5 92.2h0.65M255.5 77.8h0.65M255.6 80.3h0.65M255.6 46.3h0.65M255.6 91.6h0.65M255.6 95.0h0.65M255.7 67.0h0.65M255.7 94.2h0.65M255.7 86.7h0.65M255.7 66.2h0.65M255.7 82.9h0.65M255.7 84.5h0.65M255.7 103.5h0.65M255.7 43.3h0.65M255.8 43.3h0.65M255.8 65.3h0.65M255.8 100.9h0.65M255.8 84.6h0.65M255.8 85.7h0.65M255.8 100.2h0.65M255.8 39.4h0.65M255.9 67.7h0.65M255.9 85.4h0.65M255.9 37.8h0.65M255.9 67.4h0.65M256.0 110.4h0.65M256.0 46.0h0.65M256.0 91.7h0.65M256.0 45.3h0.65M256.0 64.5h0.65M256.1 95.5h0.65M256.1 92.5h0.65M256.1 68.1h0.65M256.1 64.3h0.65M256.1 110.7h0.65M256.1 87.6h0.65M256.1 112.1h0.65M256.2 76.5h0.65M256.2 45.2h0.65M256.2 98.8h0.65M256.2 101.8h0.65M256.2 94.7h0.65M256.3 64.7h0.65M256.4 91.7h0.65M256.4 104.4h0.65M256.4 92.9h0.65M256.4 88.4h0.65M256.4 99.7h0.65M256.5 79.7h0.65M256.5 64.6h0.65M256.5 65.7h0.65M256.6 84.6h0.65M256.6 80.0h0.65M256.6 106.0h0.65M256.6 91.9h0.65M256.6 83.1h0.65M256.6 81.3h0.65M256.6 81.5h0.65M256.7 96.2h0.65M256.7 95.4h0.65M256.7 101.7h0.65M256.7 66.7h0.65M256.7 95.8h0.65M256.7 43.3h0.65M256.7 95.9h0.65M256.8 97.0h0.65M256.8 102.9h0.65M256.8 102.8h0.65M256.8 92.2h0.65M256.9 91.1h0.65M256.9 95.7h0.65M256.9 44.7h0.65M256.9 100.3h0.65M256.9 97.8h0.65M256.9 98.2h0.65M257.0 91.6h0.65M257.0 81.3h0.65M257.0 94.7h0.65M257.0 69.7h0.65M257.0 96.8h0.65M257.1 82.7h0.65M257.1 89.4h0.65M257.1 93.3h0.65M257.1 100.9h0.65M257.1 65.6h0.65M257.1 95.2h0.65M257.1 101.5h0.65M257.1 89.7h0.65M257.1 97.7h0.65M257.1 82.8h0.65M257.2 111.4h0.65M257.2 88.7h0.65M257.3 79.2h0.65M257.3 84.6h0.65M257.3 71.6h0.65M257.4 84.7h0.65M257.4 66.6h0.65M257.4 77.2h0.65M257.4 111.3h0.65M257.5 86.0h0.65M257.5 69.5h0.65M257.5 74.7h0.65M257.5 66.3h0.65M257.6 100.5h0.65M257.6 98.5h0.65M257.6 101.1h0.65M257.6 65.8h0.65M257.6 66.2h0.65M257.7 108.5h0.65M257.7 102.0h0.65M257.7 83.8h0.65M257.8 108.2h0.65M257.8 70.7h0.65M257.8 108.7h0.65M257.8 72.9h0.65M257.9 77.9h0.65M258.0 67.3h0.65M258.0 98.4h0.65M258.1 74.5h0.65M258.1 107.2h0.65M258.1 97.7h0.65M258.1 80.3h0.65M258.1 100.2h0.65M258.1 99.4h0.65M258.2 103.5h0.65M258.2 67.8h0.65M258.2 67.8h0.65M258.2 114.3h0.65M258.2 83.3h0.65M258.3 43.7h0.65M258.3 98.4h0.65M258.3 115.3h0.65M258.3 80.9h0.65M258.3 114.2h0.65M258.3 80.8h0.65M258.4 66.4h0.65M258.4 69.6h0.65M258.4 98.5h0.65M258.4 66.7h0.65M258.4 43.2h0.65M258.4 78.2h0.65M258.5 82.7h0.65M258.5 76.1h0.65M258.5 65.4h0.65M258.5 99.0h0.65M258.5 75.3h0.65M258.6 71.2h0.65M258.6 111.5h0.65M258.6 103.8h0.65M258.6 102.6h0.65M258.6 111.6h0.65M258.6 78.9h0.65M258.7 42.0h0.65M258.7 101.6h0.65M258.8 109.6h0.65M258.8 74.1h0.65M258.9 100.0h0.65M258.9 43.8h0.65M258.9 44.9h0.65M258.9 42.7h0.65M259.0 108.0h0.65M259.0 103.0h0.65M259.0 108.2h0.65M259.0 66.6h0.65M259.0 44.3h0.65M259.0 75.8h0.65M259.1 71.5h0.65M259.1 102.3h0.65M259.1 115.8h0.65M259.4 108.9h0.65M259.4 106.1h0.65M259.4 66.4h0.65M259.4 72.9h0.65M259.4 42.8h0.65M259.4 78.5h0.65M259.5 65.8h0.65M259.5 68.7h0.65M259.5 106.7h0.65M259.5 110.7h0.65M259.5 43.5h0.65M259.6 66.6h0.65M259.6 43.6h0.65M259.6 68.5h0.65M259.6 103.1h0.65M259.7 44.6h0.65M259.7 106.0h0.65M259.7 42.9h0.65M259.7 106.6h0.65M259.7 106.5h0.65M259.7 114.6h0.65M259.7 114.8h0.65M259.7 80.4h0.65M259.8 78.2h0.65M259.8 77.9h0.65M259.8 74.0h0.65M259.8 44.8h0.65M259.8 66.7h0.65M259.8 67.3h0.65M259.9 69.2h0.65M259.9 106.4h0.65M259.9 78.2h0.65M259.9 42.3h0.65M260.0 69.6h0.65M260.1 44.7h0.65M260.1 68.5h0.65M260.2 78.5h0.65M260.2 69.8h0.65M260.2 104.9h0.65M260.2 67.6h0.65M260.2 76.6h0.65M260.2 107.7h0.65M260.3 40.6h0.65M260.3 104.4h0.65M260.3 75.8h0.65M260.3 108.3h0.65M260.4 78.5h0.65M260.4 41.3h0.65M260.4 78.7h0.65M260.5 77.7h0.65M260.5 39.6h0.65M260.5 40.7h0.65M260.5 42.6h0.65M260.5 79.8h0.65M260.6 105.5h0.65M260.6 41.0h0.65M260.6 78.1h0.65M260.7 111.4h0.65M260.7 110.3h0.65M260.7 73.8h0.65M260.7 42.3h0.65M260.8 69.2h0.65M260.8 105.2h0.65M260.8 39.8h0.65M260.8 76.4h0.65M260.8 113.4h0.65M260.9 76.6h0.65M261.0 111.7h0.65M261.0 41.8h0.65M261.1 114.0h0.65M261.1 40.8h0.65M261.2 44.0h0.65M261.2 104.6h0.65M261.3 42.2h0.65M261.3 106.4h0.65M261.3 68.8h0.65M261.3 105.0h0.65M261.3 110.2h0.65M261.4 105.4h0.65M261.5 67.2h0.65M261.6 66.5h0.65M261.6 78.2h0.65M261.6 66.4h0.65M261.7 43.5h0.65M261.7 78.5h0.65M261.7 76.9h0.65M261.8 68.6h0.65M261.8 66.8h0.65M261.9 42.4h0.65M261.9 66.4h0.65M261.9 76.5h0.65M261.9 106.9h0.65M261.9 66.4h0.65M261.9 41.4h0.65M261.9 43.3h0.65M261.9 69.4h0.65M262.0 44.5h0.65M262.1 75.7h0.65M262.1 112.7h0.65M262.1 68.3h0.65M262.1 68.4h0.65M262.2 77.2h0.65M262.2 113.3h0.65M262.3 43.6h0.65M262.3 107.6h0.65M262.3 107.7h0.65M262.3 107.4h0.65M262.4 106.2h0.65M262.5 108.3h0.65M262.5 76.0h0.65M262.5 69.3h0.65M262.6 68.2h0.65M262.6 109.2h0.65M262.6 114.7h0.65M262.6 70.4h0.65M262.6 77.0h0.65M262.7 77.9h0.65M262.7 67.2h0.65M262.7 67.9h0.65M262.7 106.9h0.65M262.7 106.5h0.65M262.8 76.4h0.65M262.8 70.1h0.65M262.8 111.8h0.65M262.9 77.5h0.65M263.0 73.2h0.65M263.0 71.0h0.65M263.0 108.2h0.65M263.1 73.6h0.65M263.2 72.2h0.65M263.2 42.3h0.65M263.3 68.1h0.65M263.3 69.8h0.65M263.3 77.6h0.65M263.3 42.5h0.65M263.3 71.9h0.65M263.4 73.2h0.65M263.4 114.9h0.65M263.4 35.4h0.65M263.4 116.3h0.65M263.4 40.7h0.65M263.5 67.8h0.65M263.5 110.6h0.65M263.6 115.8h0.65M263.6 42.1h0.65M263.6 67.4h0.65M263.6 112.1h0.65M263.7 107.4h0.65M263.7 113.4h0.65M263.7 68.2h0.65M263.7 29.5h0.65M263.7 72.4h0.65M263.7 70.2h0.65M263.8 41.9h0.65M263.8 67.7h0.65M263.8 109.5h0.65M263.8 68.4h0.65M263.9 115.9h0.65M263.9 110.8h0.65M263.9 109.7h0.65M264.0 39.9h0.65M264.0 43.9h0.65M264.0 72.3h0.65M264.1 77.0h0.65M264.1 76.3h0.65M264.1 69.8h0.65M264.2 68.9h0.65M264.2 43.9h0.65M264.2 112.1h0.65M264.3 38.5h0.65M264.3 109.0h0.65M264.3 111.6h0.65M264.3 111.5h0.65M264.4 68.2h0.65M264.5 42.1h0.65M264.5 44.2h0.65M264.5 77.0h0.65M264.6 44.0h0.65M264.7 69.4h0.65M264.7 111.2h0.65M264.8 42.4h0.65M264.8 76.7h0.65M264.9 75.7h0.65M264.9 42.0h0.65M264.9 112.2h0.65M264.9 114.2h0.65M264.9 41.8h0.65M264.9 109.6h0.65M265.1 43.7h0.65M265.1 114.8h0.65M265.1 76.5h0.65M265.2 69.8h0.65M265.2 70.3h0.65M265.2 35.4h0.65M265.2 70.5h0.65M265.2 43.2h0.65M265.2 73.6h0.65M265.3 71.7h0.65M265.4 110.2h0.65M265.5 110.3h0.65M265.5 70.4h0.65M265.6 42.0h0.65M265.6 114.9h0.65M265.6 114.6h0.65M265.6 114.6h0.65M265.6 70.1h0.65M265.6 71.2h0.65M265.7 42.6h0.65M265.7 73.5h0.65M265.7 114.3h0.65M265.8 43.4h0.65M265.8 108.9h0.65M265.8 73.9h0.65M265.9 70.0h0.65M265.9 72.3h0.65M265.9 110.0h0.65M265.9 113.7h0.65M266.0 110.4h0.65M266.0 74.7h0.65M266.1 74.5h0.65M266.1 41.3h0.65M266.2 71.1h0.65M266.2 41.4h0.65M266.2 69.8h0.65M266.2 74.3h0.65M266.3 41.0h0.65M266.4 42.8h0.65M266.4 30.5h0.65M266.4 108.4h0.65M266.4 69.6h0.65M266.6 75.5h0.65M266.6 109.1h0.65M266.6 74.1h0.65M266.7 71.4h0.65M266.8 40.7h0.65M266.9 43.7h0.65M267.0 43.1h0.65M267.0 43.7h0.65M267.1 109.9h0.65M267.1 43.4h0.65M267.2 73.7h0.65M267.2 43.3h0.65M267.2 40.5h0.65M267.3 38.6h0.65M267.3 76.4h0.65M267.3 73.6h0.65M267.4 39.5h0.65M267.4 71.0h0.65M267.4 76.6h0.65M267.4 73.6h0.65M267.4 43.5h0.65M267.4 111.0h0.65M267.4 43.4h0.65M267.4 111.7h0.65M267.5 71.5h0.65M267.5 114.1h0.65M267.5 41.4h0.65M267.6 108.9h0.65M267.6 41.1h0.65M267.6 41.3h0.65M267.6 114.1h0.65M267.6 74.7h0.65M267.7 108.7h0.65M267.7 71.9h0.65M267.7 40.2h0.65M267.8 71.4h0.65M267.9 42.6h0.65M267.9 42.5h0.65M268.0 43.7h0.65M268.0 73.3h0.65M268.0 72.5h0.65M268.1 72.7h0.65M268.3 75.8h0.65M268.3 74.6h0.65M268.4 112.4h0.65M268.5 43.3h0.65M268.5 71.6h0.65M268.5 42.7h0.65M268.5 112.8h0.65M268.5 43.7h0.65M268.6 109.4h0.65M268.6 115.5h0.65M268.6 73.8h0.65M268.6 43.3h0.65M268.7 112.7h0.65M268.7 109.4h0.65M268.7 111.3h0.65M268.8 74.6h0.65M268.8 71.4h0.65M268.8 75.9h0.65M268.8 42.9h0.65M268.8 40.9h0.65M268.9 111.5h0.65M268.9 76.8h0.65M269.0 113.9h0.65M269.0 43.4h0.65M269.0 42.5h0.65M269.1 37.6h0.65M269.1 76.4h0.65M269.1 76.3h0.65M269.1 72.7h0.65M269.1 72.2h0.65M269.2 109.8h0.65M269.2 113.2h0.65M269.2 43.1h0.65M269.3 42.0h0.65M269.3 43.0h0.65M269.3 76.7h0.65M269.4 76.4h0.65M269.4 109.1h0.65M269.5 109.7h0.65M269.5 72.3h0.65M269.5 75.3h0.65M269.5 111.4h0.65M269.5 72.7h0.65M269.6 72.8h0.65M269.7 109.4h0.65M269.8 109.5h0.65M269.8 76.2h0.65M269.8 110.2h0.65M269.9 76.1h0.65M270.0 40.6h0.65M270.0 72.0h0.65M270.1 110.4h0.65M270.1 73.3h0.65M270.2 108.2h0.65M270.3 43.6h0.65M270.3 110.5h0.65M270.3 108.3h0.65M270.4 112.9h0.65M270.4 112.6h0.65M270.4 77.0h0.65M270.5 114.0h0.65M270.5 113.9h0.65M270.5 73.6h0.65M270.6 42.2h0.65M270.6 44.0h0.65M270.6 77.0h0.65M270.7 77.2h0.65M270.7 43.5h0.65M270.8 111.1h0.65M270.8 41.3h0.65M270.8 75.2h0.65M270.8 109.3h0.65M270.8 44.3h0.65M270.9 54.8h0.65M270.9 108.8h0.65M270.9 43.8h0.65M271.0 43.0h0.65M271.1 76.0h0.65M271.1 110.6h0.65M271.1 43.9h0.65M271.1 72.0h0.65M271.2 116.9h0.65M271.2 112.3h0.65M271.2 39.7h0.65M271.2 116.1h0.65M271.2 46.9h0.65M271.2 77.1h0.65M271.3 73.6h0.65M271.4 72.5h0.65M271.4 112.1h0.65M271.4 44.3h0.65M271.5 77.5h0.65M271.5 74.3h0.65M271.5 74.6h0.65M271.6 110.3h0.65M271.6 44.4h0.65M271.6 111.0h0.65M271.6 106.9h0.65M271.7 76.3h0.65M271.7 40.8h0.65M271.7 110.9h0.65M271.8 39.1h0.65M271.8 43.3h0.65M271.9 110.0h0.65M271.9 44.8h0.65M271.9 73.9h0.65M271.9 116.6h0.65M271.9 109.4h0.65M271.9 76.8h0.65M272.0 42.7h0.65M272.0 107.4h0.65M272.0 109.3h0.65M272.0 37.0h0.65M272.0 41.6h0.65M272.0 40.1h0.65M272.0 74.4h0.65M272.1 115.5h0.65M272.1 75.9h0.65M272.1 108.5h0.65M272.1 108.2h0.65M272.1 108.0h0.65M272.1 73.4h0.65M272.3 77.7h0.65M272.3 76.8h0.65M272.3 44.9h0.65M272.3 45.1h0.65M272.4 112.9h0.65M272.4 115.7h0.65M272.4 108.6h0.65M272.4 73.6h0.65M272.5 107.4h0.65M272.5 74.2h0.65M272.5 105.1h0.65M272.7 41.4h0.65M272.7 110.7h0.65M272.7 74.3h0.65M272.7 42.4h0.65M272.8 66.6h0.65M272.8 71.8h0.65M272.8 44.3h0.65M272.8 111.0h0.65M272.9 113.3h0.65M272.9 109.0h0.65M273.0 106.3h0.65M273.0 107.4h0.65M273.1 76.5h0.65M273.1 43.0h0.65M273.1 107.6h0.65M273.3 106.1h0.65M273.3 45.5h0.65M273.3 103.6h0.65M273.3 79.4h0.65M273.3 45.6h0.65M273.3 105.3h0.65M273.3 103.2h0.65M273.4 77.7h0.65M273.5 110.6h0.65M273.5 75.2h0.65M273.5 41.0h0.65M273.6 107.1h0.65M273.6 45.4h0.65M273.6 71.2h0.65M273.6 45.9h0.65M273.6 79.3h0.65M273.6 45.6h0.65M273.7 80.0h0.65M273.7 41.6h0.65M273.7 45.4h0.65M273.7 115.0h0.65M273.8 44.0h0.65M273.8 72.9h0.65M273.9 101.2h0.65M273.9 62.7h0.65M273.9 102.9h0.65M273.9 103.5h0.65M273.9 45.6h0.65M273.9 40.0h0.65M274.0 110.0h0.65M274.0 79.6h0.65M274.1 33.2h0.65M274.1 104.1h0.65M274.1 45.6h0.65M274.2 100.3h0.65M274.2 43.4h0.65M274.3 80.4h0.65M274.3 101.5h0.65M274.3 112.3h0.65M274.3 72.4h0.65M274.3 79.7h0.65M274.3 80.0h0.65M274.4 71.0h0.65M274.4 107.4h0.65M274.4 46.8h0.65M274.4 81.5h0.65M274.4 76.9h0.65M274.5 43.1h0.65M274.5 76.5h0.65M274.5 103.8h0.65M274.5 46.9h0.65M274.5 73.8h0.65M274.6 75.2h0.65M274.6 102.5h0.65M274.6 78.4h0.65M274.7 83.2h0.65M274.7 97.8h0.65M274.8 72.4h0.65M274.8 94.3h0.65M274.8 69.8h0.65M274.8 82.4h0.65M274.8 82.6h0.65M274.8 84.1h0.65M274.9 84.0h0.65M274.9 104.6h0.65M275.0 47.9h0.65M275.1 95.6h0.65M275.1 86.3h0.65M275.1 101.7h0.65M275.1 84.8h0.65M275.1 46.2h0.65M275.1 101.4h0.65M275.1 85.3h0.65M275.1 40.1h0.65M275.2 101.1h0.65M275.2 103.3h0.65M275.2 80.4h0.65M275.2 45.1h0.65M275.3 96.7h0.65M275.3 84.3h0.65M275.3 87.7h0.65M275.3 48.6h0.65M275.3 87.0h0.65M275.3 95.9h0.65M275.3 84.3h0.65M275.4 48.4h0.65M275.4 99.4h0.65M275.4 48.2h0.65M275.5 95.2h0.65M275.5 46.6h0.65M275.5 106.6h0.65M275.5 48.6h0.65M275.5 88.5h0.65M275.5 87.1h0.65M275.6 83.1h0.65M275.6 46.1h0.65M275.6 82.9h0.65M275.6 102.9h0.65M275.6 106.0h0.65M275.6 48.3h0.65M275.7 49.6h0.65M275.7 86.4h0.65M275.7 48.4h0.65M275.7 101.5h0.65M275.8 69.8h0.65M275.8 85.0h0.65M275.8 106.7h0.65M275.8 72.4h0.65M275.8 92.9h0.65M275.8 48.7h0.65M275.8 71.6h0.65M275.9 70.1h0.65M275.9 89.3h0.65M275.9 92.4h0.65M275.9 85.7h0.65M275.9 68.9h0.65M275.9 98.4h0.65M275.9 98.9h0.65M276.0 96.9h0.65M276.0 92.2h0.65M276.0 68.4h0.65M276.0 101.5h0.65M276.0 74.2h0.65M276.0 73.8h0.65M276.0 101.7h0.65M276.0 46.9h0.65M276.1 80.4h0.65M276.1 77.9h0.65M276.2 82.9h0.65M276.2 106.8h0.65M276.2 89.0h0.65M276.2 91.8h0.65M276.2 50.3h0.65M276.2 53.1h0.65M276.3 97.7h0.65M276.3 111.0h0.65M276.3 64.4h0.65M276.3 47.7h0.65M276.3 63.5h0.65M276.3 93.8h0.65M276.3 56.1h0.65M276.3 109.6h0.65M276.3 86.0h0.65M276.4 86.5h0.65M276.4 107.4h0.65M276.4 51.6h0.65M276.4 97.0h0.65M276.4 50.2h0.65M276.5 96.7h0.65M276.5 63.4h0.65M276.5 54.8h0.65M276.5 77.1h0.65M276.5 49.8h0.65M276.5 55.9h0.65M276.5 93.9h0.65M276.5 100.5h0.65M276.6 94.9h0.65M276.6 99.2h0.65M276.6 96.5h0.65M276.6 56.7h0.65M276.6 53.0h0.65M276.6 64.5h0.65M276.7 66.6h0.65M276.7 60.9h0.65M276.7 86.7h0.65M276.7 57.5h0.65M276.7 52.2h0.65M276.7 46.0h0.65M276.7 60.0h0.65M276.8 44.1h0.65M276.8 83.8h0.65M276.8 65.3h0.65M276.8 94.8h0.65M276.8 60.1h0.65M276.8 53.7h0.65M276.8 63.5h0.65M276.9 52.5h0.65M277.0 91.0h0.65M277.0 60.3h0.65M277.0 55.1h0.65M277.0 67.8h0.65M277.0 37.1h0.65M277.0 99.4h0.65M277.0 47.4h0.65M277.1 64.5h0.65M277.1 41.7h0.65M277.1 93.6h0.65M277.1 81.8h0.65M277.1 52.1h0.65M277.1 85.3h0.65M277.1 102.8h0.65M277.1 57.3h0.65M277.2 58.8h0.65M277.2 54.7h0.65M277.2 69.9h0.65M277.2 81.5h0.65M277.3 51.4h0.65M277.3 51.9h0.65M277.3 56.4h0.65M277.3 98.9h0.65M277.3 96.8h0.65M277.3 48.6h0.65M277.4 86.5h0.65M277.4 67.2h0.65M277.4 54.0h0.65M277.4 52.9h0.65M277.5 88.6h0.65M277.5 65.7h0.65M277.5 74.9h0.65M277.5 54.7h0.65M277.5 56.6h0.65M277.5 101.3h0.65M277.5 60.8h0.65M277.6 68.6h0.65M277.6 79.4h0.65M277.6 46.4h0.65M277.6 66.0h0.65M277.6 64.6h0.65M277.6 60.9h0.65M277.6 57.2h0.65M277.7 51.6h0.65M277.8 63.0h0.65M277.8 66.2h0.65M277.8 67.8h0.65M277.8 53.9h0.65M277.9 67.8h0.65M277.9 107.2h0.65M277.9 62.7h0.65M277.9 57.1h0.65M277.9 78.7h0.65M277.9 64.6h0.65M278.0 99.2h0.65M278.0 87.7h0.65M278.0 61.6h0.65M278.0 44.8h0.65M278.1 56.2h0.65M278.1 81.5h0.65M278.1 58.7h0.65M278.1 63.6h0.65M278.1 59.1h0.65M278.1 49.6h0.65M278.1 104.1h0.65M278.2 52.0h0.65M278.3 98.4h0.65M278.3 58.6h0.65M278.3 53.9h0.65M278.4 58.9h0.65M278.4 54.1h0.65M278.5 73.2h0.65M278.5 69.2h0.65M278.6 50.4h0.65M278.6 67.6h0.65M278.7 87.6h0.65M278.7 67.5h0.65M278.7 47.3h0.65M278.8 53.2h0.65M278.8 68.7h0.65M278.9 104.1h0.65M278.9 53.1h0.65M279.0 71.2h0.65M279.0 87.8h0.65M279.0 86.7h0.65M279.1 69.3h0.65M279.2 99.6h0.65M279.2 52.0h0.65M279.2 55.4h0.65M279.4 51.6h0.65M279.4 51.5h0.65M279.5 94.0h0.65M279.5 49.5h0.65M279.6 89.5h0.65M279.6 98.3h0.65M279.6 106.2h0.65M279.7 59.8h0.65M279.7 72.8h0.65M279.9 64.7h0.65M280.1 91.2h0.65M280.1 59.2h0.65M280.1 55.6h0.65M280.2 55.5h0.65M280.2 48.8h0.65M280.2 65.4h0.65M280.2 49.4h0.65M280.2 65.8h0.65M280.3 59.3h0.65M280.4 67.5h0.65M280.5 88.1h0.65M280.5 49.7h0.65M280.6 70.1h0.65M280.6 59.0h0.65M280.8 64.7h0.65M280.8 51.7h0.65M280.8 47.5h0.65M281.4 55.9h0.65M281.5 55.7h0.65M281.5 54.1h0.65M281.6 49.0h0.65M281.6 101.0h0.65M281.7 90.8h0.65M281.8 89.5h0.65M281.9 100.3h0.65M282.0 87.6h0.65M282.1 56.7h0.65M282.3 50.7h0.65M282.5 61.5h0.65M282.5 45.9h0.65M282.6 58.5h0.65M282.7 59.1h0.65M282.8 53.9h0.65M282.9 66.2h0.65M282.9 48.5h0.65M283.1 60.7h0.65M283.2 49.8h0.65M283.3 60.9h0.65M283.4 63.5h0.65M283.4 95.4h0.65M283.4 57.6h0.65M283.5 43.2h0.65M283.5 40.6h0.65M283.7 55.6h0.65M283.8 81.7h0.65M283.8 43.9h0.65M284.1 52.9h0.65M284.1 51.5h0.65M284.1 75.6h0.65M284.4 45.6h0.65M284.5 59.2h0.65M284.6 64.8h0.65M284.7 72.2h0.65M284.8 53.7h0.65M284.8 99.6h0.65M284.9 47.3h0.65M284.9 59.1h0.65M285.1 47.6h0.65M285.1 61.4h0.65M285.2 98.3h0.65M285.3 51.6h0.65M285.4 46.0h0.65M285.4 55.1h0.65M285.6 56.4h0.65M285.6 50.3h0.65M285.7 51.3h0.65M285.8 48.9h0.65M285.8 97.6h0.65M286.0 54.6h0.65M286.1 56.3h0.65M286.2 49.5h0.65M286.3 46.1h0.65M286.3 56.1h0.65M286.4 62.1h0.65M286.4 52.2h0.65M286.4 63.3h0.65M286.5 43.6h0.65M286.5 42.2h0.65M286.6 54.2h0.65M286.7 43.1h0.65M286.9 56.0h0.65M286.9 61.7h0.65M286.9 62.9h0.65M286.9 50.4h0.65M287.0 109.7h0.65M287.0 63.9h0.65M287.3 51.3h0.65M287.4 99.6h0.65M287.5 93.8h0.65M287.6 64.8h0.65M287.6 59.9h0.65M287.6 64.3h0.65M287.7 96.4h0.65M287.7 95.2h0.65M287.7 50.1h0.65M287.8 59.5h0.65M287.9 50.6h0.65M287.9 56.3h0.65M287.9 56.8h0.65M287.9 44.6h0.65M287.9 60.1h0.65M288.0 61.6h0.65M288.0 68.2h0.65M288.1 108.5h0.65M288.1 60.4h0.65M288.1 57.4h0.65M288.2 50.5h0.65M288.2 59.2h0.65M288.2 55.8h0.65M288.3 50.9h0.65M288.4 61.6h0.65M288.4 59.0h0.65M288.4 60.3h0.65M288.5 54.6h0.65M288.5 54.7h0.65M288.5 51.2h0.65M288.6 60.0h0.65M288.6 53.1h0.65M288.7 55.1h0.65M288.8 56.3h0.65M288.8 73.4h0.65M288.9 56.2h0.65M288.9 58.8h0.65M288.9 58.1h0.65M289.2 102.2h0.65M289.4 53.3h0.65M289.7 77.4h0.65M289.7 43.6h0.65M289.8 50.9h0.65M289.9 58.8h0.65M289.9 61.2h0.65M290.0 60.9h0.65M290.0 51.4h0.65M290.0 113.5h0.65M290.2 57.5h0.65M290.3 54.4h0.65M290.3 47.7h0.65M290.4 50.8h0.65M290.4 65.2h0.65M290.4 53.5h0.65M290.4 63.3h0.65M290.5 89.0h0.65M290.5 46.0h0.65M290.5 48.9h0.65M290.7 49.9h0.65M290.8 53.7h0.65M290.8 58.5h0.65M290.8 55.2h0.65M290.9 52.6h0.65M291.1 59.6h0.65M291.2 55.1h0.65M291.2 63.4h0.65M291.3 53.3h0.65M291.5 57.6h0.65M291.5 80.4h0.65M291.5 105.7h0.65M291.6 48.3h0.65M291.7 53.8h0.65M291.8 48.1h0.65M292.0 34.4h0.65M292.0 93.6h0.65M292.0 54.9h0.65M292.1 57.8h0.65M292.1 65.9h0.65M292.2 49.5h0.65M292.3 50.5h0.65M292.4 61.3h0.65M292.5 50.7h0.65M292.6 59.6h0.65M292.7 56.7h0.65M292.7 51.1h0.65M292.9 56.3h0.65M292.9 49.0h0.65M293.0 56.6h0.65M293.0 59.2h0.65M293.0 96.4h0.65M293.0 51.8h0.65M293.1 93.2h0.65M293.1 61.8h0.65M293.1 94.7h0.65M293.1 68.6h0.65M293.2 50.6h0.65M293.2 57.4h0.65M293.2 61.4h0.65M293.3 42.0h0.65M293.4 55.0h0.65M293.5 55.0h0.65M293.6 61.6h0.65M293.8 55.3h0.65M294.0 62.5h0.65M294.0 56.5h0.65M294.1 66.0h0.65M294.2 51.9h0.65M294.2 50.5h0.65M294.2 51.4h0.65M294.3 53.6h0.65M294.4 64.0h0.65M294.4 60.5h0.65M294.5 59.2h0.65M294.5 39.3h0.65M294.8 65.8h0.65M294.9 44.8h0.65M295.0 54.1h0.65M295.1 63.7h0.65M295.3 85.8h0.65M295.3 60.3h0.65M295.7 50.6h0.65M295.7 54.2h0.65M295.8 54.4h0.65M295.8 51.9h0.65M295.9 81.1h0.65M296.0 53.8h0.65M296.0 50.9h0.65M296.1 49.9h0.65M296.4 42.9h0.65M296.5 63.0h0.65M296.5 96.1h0.65M296.6 73.9h0.65M296.6 49.0h0.65M296.6 46.9h0.65M296.6 63.4h0.65M296.6 63.2h0.65M296.6 86.6h0.65M296.6 42.4h0.65M296.6 60.8h0.65M296.8 59.7h0.65M296.8 57.4h0.65M296.9 42.9h0.65M296.9 90.4h0.65M296.9 97.6h0.65M296.9 78.1h0.65M297.0 42.3h0.65M297.1 99.1h0.65M297.3 48.0h0.65M297.3 77.2h0.65M297.4 109.9h0.65M297.5 65.8h0.65M297.6 62.0h0.65M297.7 55.1h0.65M297.8 55.2h0.65M298.0 63.0h0.65M298.2 51.1h0.65M298.2 58.8h0.65M298.2 47.9h0.65M298.4 40.8h0.65M298.5 95.0h0.65M298.7 108.6h0.65M298.7 79.4h0.65M298.8 63.0h0.65M298.9 101.6h0.65M299.0 66.4h0.65M299.0 60.0h0.65M299.2 42.0h0.65M299.9 113.6h0.65M300.3 42.6h0.65M300.4 108.7h0.65M300.6 109.3h0.65M300.9 62.3h0.65M300.9 57.7h0.65M301.0 51.6h0.65M301.0 60.0h0.65M301.1 50.4h0.65M301.2 48.6h0.65M301.3 86.0h0.65M301.5 43.3h0.65M301.7 61.3h0.65M302.1 51.5h0.65M302.2 58.7h0.65M302.6 105.1h0.65M302.6 62.0h0.65M302.6 53.4h0.65M302.7 62.1h0.65M302.8 50.5h0.65M303.0 57.4h0.65M304.2 57.9h0.65M304.4 95.3h0.65M305.2 42.7h0.65M305.6 54.6h0.65M306.1 71.2h0.65M306.2 84.6h0.65M308.9 55.8h0.65M309.1 56.6h0.65M309.3 100.0h0.65M309.4 46.5h0.65M310.0 80.0h0.65" stroke="#333" stroke-width="0.65" fill="none"/>
<path d="M272.4 71.7l-1.6 .1l-1.6-.3l-1.4-.7l-1.3-1l-1.1-1.1l-1.1-1.2l-1.4-.8l-1.5-.6l-1.5-.4l-1.5-.5l-1.5-.7l-1.4-.7l-1.4-.9l-1.2-1.1l-1.1-1.1l-.9-1.4l-.6-1.4l-.5-1.6l-.2-1.6l.1-1.6l.3-1.5l.7-1.5l1-1.2l1.3-1l1.3-.9l1.4-.7l1.5-.6l1.5-.5l1.6-.4l1.6-.3l1.6-.2l1.6-.1l1.6-.1l1.6 0l1.6 .1l1.5 .4l1.4 .8l1.1 1.1l.9 1.4l.7 1.4l.4 1.6l.3 1.6l.1 1.6l.1 1.6l0 1.6l.1 1.6l0 1.6l-.1 1.6l0 1.6l-.1 1.6l-.3 1.6l-.4 1.5l-.7 1.4l-1.1 1.2zM269.4 108.5l-1.6 .1l-1.6-.2l-1.5-.6l-1.4-.9l-1.1-1.1l-1-1.3l-.9-1.4l-.7-1.5l-.5-1.5l-.5-1.5l-.4-1.6l-.3-1.6l-.2-1.6l-.1-1.6l-.1-1.7l-.1-1.6l.1-1.6l.2-1.6l.3-1.6l.6-1.5l.8-1.4l1-1.3l1.2-1.1l1.4-.9l1.5-.6l1.5-.4l1.6-.2l1.7 .1l1.5 .5l1.3 1l1 1.3l.7 1.4l.6 1.6l.3 1.5l.3 1.7l.1 1.6l0 1.6l0 1.6l-.1 1.6l-.1 1.7l-.1 1.6l-.2 1.6l-.3 1.6l-.3 1.6l-.3 1.6l-.5 1.5l-.6 1.5l-.8 1.5l-1 1.2z" fill="#fff" stroke="#222" stroke-width="0.85" stroke-linejoin="round"/>
<path d="M272.2 70l-1.6-.1l-1.6-.5l-1.3-.9l-1-1.2l-1-1.2l-1.2-1.1l-1.4-.8l-1.5-.5l-1.5-.5l-1.5-.7l-1.3-.8l-1.3-.9l-1.1-1.2l-.9-1.3l-.6-1.5l-.4-1.5l0-1.6l.3-1.6l.7-1.4l1-1.2l1.3-1l1.4-.8l1.5-.6l1.5-.4l1.6-.4l1.6-.2l1.6-.2l1.6-.1l1.6 0l1.5 .2l1.5 .7l1.2 1l.9 1.4l.6 1.4l.4 1.6l.2 1.6l.1 1.6l.1 1.6l.1 1.6l.1 1.6l0 1.6l0 1.6l-.1 1.6l-.3 1.5l-.5 1.6l-.9 1.2zM268.6 104l-1.5-.1l-1.5-.6l-1.4-.9l-1-1.1l-.9-1.4l-.7-1.4l-.6-1.5l-.4-1.6l-.3-1.5l-.2-1.6l-.1-1.6l0-1.6l0-1.6l.2-1.6l.5-1.5l.7-1.4l1-1.3l1.2-1l1.5-.7l1.5-.4l1.6-.1l1.6 .2l1.3 .9l1 1.3l.6 1.4l.5 1.5l.2 1.6l.1 1.6l0 1.6l0 1.6l-.1 1.6l-.2 1.6l-.2 1.6l-.3 1.6l-.4 1.5l-.5 1.5l-.7 1.5l-1 1.2z" fill="none" stroke="#444" stroke-width="0.7" stroke-linejoin="round"/>
<path d="M272.2 68l-1.7 0l-1.4-.7l-1.1-1.2l-.9-1.4l-1-1.3l-1.3-1l-1.5-.6l-1.5-.6l-1.5-.7l-1.3-.9l-1.2-1.2l-.9-1.3l-.5-1.6l-.1-1.6l.3-1.6l.8-1.4l1.3-1l1.4-.8l1.5-.6l1.6-.4l1.6-.3l1.6-.2l1.7 0l1.6 .1l1.5 .7l1.1 1.1l.7 1.5l.5 1.5l.2 1.6l.1 1.7l.2 1.6l.1 1.6l.1 1.6l.1 1.7l-.1 1.6l-.2 1.6l-.6 1.5zM268.6 98.8l-1.6-.2l-1.4-.8l-1.1-1.3l-.7-1.5l-.5-1.6l-.3-1.6l-.2-1.6l0-1.7l.1-1.7l.5-1.5l1-1.4l1.4-.9l1.6-.5l1.6 .1l1.4 .9l.8 1.4l.4 1.6l.2 1.6l0 1.7l-.1 1.7l-.2 1.6l-.3 1.6l-.5 1.6l-.7 1.5z" fill="none" stroke="#444" stroke-width="0.7" stroke-linejoin="round"/>
<path d="M271.9 65.7l-1.6-.2l-1-1.2l-.8-1.4l-1-1.2l-1.3-1l-1.4-.8l-1.5-.6l-1.4-.8l-1.2-1.1l-.9-1.4l-.3-1.5l.2-1.6l.8-1.4l1.3-.9l1.5-.7l1.6-.4l1.6-.2l1.6-.1l1.6 .2l1.3 .9l.9 1.4l.4 1.5l.2 1.6l.1 1.6l.1 1.6l.2 1.7l.1 1.6l0 1.6l-.2 1.6zM268.4 91.3l-1-.4l-.5-1l-.1-1.2l.2-1.1l.8-.7l1.1 .2l.3 1.1l0 1.1l-.2 1.1z" fill="none" stroke="#444" stroke-width="0.7" stroke-linejoin="round"/>
<path d="M270.2 60.5l-1.5-.7l-1.4-.9l-1.4-.8l-1.5-.8l-1.2-1.1l-.7-1.4l.1-1.7l1.1-1.2l1.5-.7l1.6-.3l1.6-.1l1.6 .5l.9 1.3l.3 1.6l.1 1.7l-.1 1.6l-.2 1.7z" fill="none" stroke="#444" stroke-width="0.7" stroke-linejoin="round"/>
<path d="M269.2 57.3l-1.5-.5l-1.4-.8l-.9-1.2l.1-1.5l1.4-.8l1.5-.2l1.3 .7l.4 1.5l-.1 1.5z" fill="none" stroke="#444" stroke-width="0.7" stroke-linejoin="round"/>
</g>
<clipPath id="a4"><rect x="29.2" y="119.65" width="102.2" height="101.04999999999998"/></clipPath>
<g clip-path="url(#a4)">
<path d="M30.8 157.8h0.65M31.9 163.2h0.65M32.8 159.9h0.65M32.9 167.6h0.65M33.2 194.3h0.65M33.2 167.2h0.65M34.2 154.2h0.65M34.4 157.1h0.65M34.9 146.3h0.65M35.0 171.9h0.65M35.2 167.3h0.65M35.3 166.5h0.65M35.3 153.9h0.65M35.4 156.3h0.65M35.6 162.7h0.65M35.9 164.9h0.65M35.9 150.6h0.65M36.5 156.9h0.65M36.6 161.9h0.65M36.8 158.6h0.65M36.8 158.2h0.65M36.8 163.8h0.65M37.0 190.5h0.65M37.1 147.9h0.65M37.4 169.4h0.65M37.4 154.6h0.65M37.5 183.4h0.65M38.0 186.7h0.65M38.4 164.9h0.65M38.4 185.9h0.65M38.4 152.8h0.65M38.7 160.5h0.65M38.7 201.6h0.65M38.8 146.1h0.65M39.0 147.9h0.65M39.1 156.6h0.65M39.2 155.4h0.65M39.2 158.4h0.65M39.2 159.1h0.65M39.2 157.7h0.65M39.3 164.4h0.65M39.3 166.0h0.65M39.4 157.2h0.65M39.4 157.2h0.65M39.5 180.8h0.65M39.5 148.0h0.65M39.5 161.8h0.65M39.6 178.6h0.65M40.0 188.8h0.65M40.1 153.8h0.65M40.1 155.6h0.65M40.1 174.2h0.65M40.1 179.7h0.65M40.2 151.8h0.65M40.2 169.2h0.65M40.2 150.2h0.65M40.2 153.9h0.65M40.2 185.4h0.65M40.3 160.2h0.65M40.3 160.1h0.65M40.4 154.2h0.65M40.4 186.2h0.65M40.4 154.1h0.65M40.5 175.4h0.65M40.5 155.5h0.65M40.5 168.6h0.65M40.6 164.7h0.65M40.6 153.6h0.65M40.6 161.9h0.65M40.6 181.9h0.65M40.7 153.6h0.65M40.8 159.5h0.65M40.9 185.8h0.65M40.9 150.2h0.65M40.9 155.9h0.65M41.0 144.4h0.65M41.0 169.7h0.65M41.0 148.7h0.65M41.0 150.8h0.65M41.2 168.0h0.65M41.2 162.8h0.65M41.2 157.3h0.65M41.3 187.4h0.65M41.3 211.8h0.65M41.4 151.5h0.65M41.4 157.9h0.65M41.4 167.2h0.65M41.6 152.0h0.65M41.6 175.6h0.65M41.7 162.2h0.65M41.7 170.0h0.65M41.7 154.4h0.65M41.8 181.7h0.65M41.8 171.7h0.65M42.0 178.3h0.65M42.0 159.3h0.65M42.0 163.5h0.65M42.1 162.0h0.65M42.1 154.9h0.65M42.2 157.9h0.65M42.2 161.7h0.65M42.2 154.6h0.65M42.3 191.3h0.65M42.3 152.7h0.65M42.3 158.4h0.65M42.3 142.9h0.65M42.3 156.3h0.65M42.4 182.7h0.65M42.4 158.0h0.65M42.4 159.2h0.65M42.4 144.6h0.65M42.5 157.2h0.65M42.5 178.0h0.65M42.6 150.3h0.65M42.6 139.5h0.65M42.7 151.1h0.65M42.7 161.9h0.65M42.7 204.3h0.65M42.7 150.9h0.65M42.7 181.2h0.65M42.7 172.3h0.65M42.7 160.8h0.65M42.7 185.8h0.65M42.7 159.1h0.65M42.8 164.6h0.65M42.8 197.8h0.65M42.8 184.8h0.65M42.8 155.4h0.65M42.8 187.7h0.65M42.8 153.0h0.65M42.8 181.2h0.65M42.9 149.0h0.65M42.9 145.8h0.65M42.9 163.1h0.65M42.9 162.6h0.65M42.9 148.0h0.65M42.9 161.2h0.65M43.1 170.5h0.65M43.1 172.5h0.65M43.1 175.3h0.65M43.1 155.6h0.65M43.1 160.5h0.65M43.1 163.2h0.65M43.2 165.3h0.65M43.2 149.7h0.65M43.2 164.6h0.65M43.2 179.7h0.65M43.2 167.9h0.65M43.3 145.1h0.65M43.3 165.5h0.65M43.4 151.3h0.65M43.4 141.6h0.65M43.4 198.4h0.65M43.4 158.4h0.65M43.4 165.2h0.65M43.4 160.8h0.65M43.4 206.5h0.65M43.5 166.8h0.65M43.5 160.6h0.65M43.6 203.6h0.65M43.6 156.3h0.65M43.6 170.7h0.65M43.6 153.4h0.65M43.6 178.7h0.65M43.6 157.4h0.65M43.7 163.8h0.65M43.7 164.6h0.65M43.7 168.6h0.65M43.7 160.7h0.65M43.7 153.9h0.65M43.7 201.8h0.65M43.8 177.5h0.65M43.8 197.1h0.65M43.8 157.4h0.65M43.8 158.1h0.65M43.8 159.2h0.65M43.8 173.3h0.65M43.9 181.3h0.65M43.9 201.9h0.65M43.9 202.9h0.65M43.9 170.6h0.65M43.9 170.8h0.65M43.9 149.0h0.65M44.0 185.8h0.65M44.0 165.8h0.65M44.0 193.4h0.65M44.0 149.7h0.65M44.1 161.6h0.65M44.1 186.2h0.65M44.1 168.9h0.65M44.1 170.4h0.65M44.1 188.1h0.65M44.1 146.7h0.65M44.2 174.9h0.65M44.2 166.6h0.65M44.3 173.6h0.65M44.3 179.3h0.65M44.3 152.8h0.65M44.3 152.3h0.65M44.4 160.6h0.65M44.4 154.4h0.65M44.4 176.4h0.65M44.4 175.4h0.65M44.4 139.6h0.65M44.5 162.6h0.65M44.5 146.4h0.65M44.5 163.0h0.65M44.5 162.7h0.65M44.5 159.8h0.65M44.6 178.2h0.65M44.6 156.6h0.65M44.6 182.2h0.65M44.6 163.3h0.65M44.6 186.4h0.65M44.7 162.0h0.65M44.7 158.9h0.65M44.7 157.4h0.65M44.7 183.4h0.65M44.8 170.8h0.65M44.8 158.0h0.65M44.8 155.8h0.65M44.8 186.0h0.65M44.8 158.4h0.65M44.8 191.7h0.65M44.8 180.5h0.65M44.9 153.0h0.65M44.9 156.5h0.65M44.9 156.2h0.65M44.9 179.9h0.65M44.9 188.5h0.65M44.9 155.1h0.65M45.0 165.0h0.65M45.0 158.0h0.65M45.0 179.3h0.65M45.0 203.0h0.65M45.0 186.9h0.65M45.0 198.4h0.65M45.0 156.6h0.65M45.0 187.9h0.65M45.0 185.1h0.65M45.0 169.2h0.65M45.0 159.9h0.65M45.0 159.3h0.65M45.1 200.7h0.65M45.1 159.7h0.65M45.1 167.5h0.65M45.1 164.0h0.65M45.1 164.6h0.65M45.1 181.5h0.65M45.1 191.0h0.65M45.1 156.8h0.65M45.1 164.4h0.65M45.1 201.8h0.65M45.2 172.2h0.65M45.2 180.0h0.65M45.2 151.7h0.65M45.2 165.4h0.65M45.2 189.5h0.65M45.2 152.6h0.65M45.2 196.4h0.65M45.2 160.2h0.65M45.3 158.1h0.65M45.3 153.7h0.65M45.3 153.8h0.65M45.4 172.1h0.65M45.4 177.6h0.65M45.4 148.2h0.65M45.4 159.8h0.65M45.4 157.3h0.65M45.4 172.4h0.65M45.4 154.4h0.65M45.4 146.9h0.65M45.5 154.4h0.65M45.5 186.0h0.65M45.5 158.4h0.65M45.5 189.8h0.65M45.6 172.2h0.65M45.6 176.3h0.65M45.6 160.5h0.65M45.6 196.3h0.65M45.6 158.7h0.65M45.7 159.4h0.65M45.7 156.6h0.65M45.7 150.3h0.65M45.7 169.5h0.65M45.7 167.3h0.65M45.7 156.9h0.65M45.7 161.1h0.65M45.7 195.4h0.65M45.7 164.0h0.65M45.8 157.3h0.65M45.8 158.5h0.65M45.8 149.9h0.65M45.8 159.5h0.65M45.8 192.7h0.65M45.8 177.0h0.65M45.9 150.3h0.65M45.9 146.8h0.65M45.9 153.8h0.65M45.9 147.7h0.65M45.9 173.2h0.65M45.9 166.1h0.65M45.9 165.0h0.65M45.9 158.9h0.65M45.9 146.0h0.65M45.9 166.8h0.65M46.0 154.6h0.65M46.0 193.9h0.65M46.0 159.4h0.65M46.0 169.8h0.65M46.0 155.4h0.65M46.0 152.7h0.65M46.0 169.9h0.65M46.1 177.0h0.65M46.1 158.8h0.65M46.1 161.5h0.65M46.1 155.5h0.65M46.1 156.9h0.65M46.1 197.6h0.65M46.1 170.0h0.65M46.1 197.5h0.65M46.1 158.3h0.65M46.1 155.6h0.65M46.1 155.8h0.65M46.1 173.2h0.65M46.2 196.5h0.65M46.2 182.4h0.65M46.2 166.6h0.65M46.2 157.2h0.65M46.2 150.8h0.65M46.2 182.5h0.65M46.2 165.8h0.65M46.2 153.4h0.65M46.2 150.9h0.65M46.2 186.4h0.65M46.2 190.0h0.65M46.2 200.9h0.65M46.2 160.4h0.65M46.3 146.8h0.65M46.3 158.4h0.65M46.3 153.7h0.65M46.3 162.3h0.65M46.3 149.0h0.65M46.3 160.5h0.65M46.3 162.9h0.65M46.3 154.9h0.65M46.3 165.6h0.65M46.3 173.5h0.65M46.3 153.0h0.65M46.4 146.4h0.65M46.5 198.7h0.65M46.5 167.2h0.65M46.5 181.0h0.65M46.5 163.5h0.65M46.5 154.5h0.65M46.5 192.4h0.65M46.5 175.3h0.65M46.5 160.6h0.65M46.5 182.4h0.65M46.5 205.3h0.65M46.6 161.5h0.65M46.6 159.8h0.65M46.6 182.5h0.65M46.6 189.0h0.65M46.6 154.7h0.65M46.6 185.9h0.65M46.6 177.8h0.65M46.6 187.5h0.65M46.6 181.9h0.65M46.6 152.1h0.65M46.6 202.9h0.65M46.7 144.9h0.65M46.7 166.5h0.65M46.7 151.2h0.65M46.7 188.8h0.65M46.7 154.1h0.65M46.7 170.6h0.65M46.7 173.4h0.65M46.7 153.3h0.65M46.7 184.9h0.65M46.7 166.8h0.65M46.7 173.5h0.65M46.7 167.6h0.65M46.8 194.6h0.65M46.8 160.9h0.65M46.8 162.5h0.65M46.8 151.0h0.65M46.8 202.5h0.65M46.8 198.1h0.65M46.8 168.2h0.65M46.8 173.9h0.65M46.8 166.8h0.65M46.8 171.8h0.65M46.8 162.2h0.65M46.8 152.3h0.65M46.9 153.6h0.65M46.9 177.5h0.65M46.9 184.4h0.65M46.9 187.2h0.65M46.9 162.1h0.65M46.9 162.1h0.65M46.9 201.9h0.65M46.9 153.2h0.65M46.9 179.1h0.65M46.9 161.2h0.65M46.9 161.9h0.65M47.0 150.8h0.65M47.0 146.3h0.65M47.0 161.1h0.65M47.0 153.5h0.65M47.0 170.8h0.65M47.0 191.5h0.65M47.1 166.4h0.65M47.1 179.6h0.65M47.1 150.7h0.65M47.1 164.2h0.65M47.1 183.9h0.65M47.1 170.4h0.65M47.2 164.4h0.65M47.2 186.9h0.65M47.2 185.7h0.65M47.2 178.1h0.65M47.2 179.3h0.65M47.2 167.5h0.65M47.2 200.7h0.65M47.2 177.5h0.65M47.2 175.2h0.65M47.2 183.8h0.65M47.2 152.7h0.65M47.2 198.1h0.65M47.2 162.1h0.65M47.2 203.5h0.65M47.3 163.9h0.65M47.3 197.3h0.65M47.3 186.7h0.65M47.3 193.2h0.65M47.3 172.5h0.65M47.3 175.5h0.65M47.3 151.0h0.65M47.3 149.8h0.65M47.3 179.6h0.65M47.3 163.6h0.65M47.3 170.7h0.65M47.3 170.6h0.65M47.4 174.7h0.65M47.4 162.1h0.65M47.4 150.1h0.65M47.4 167.2h0.65M47.4 172.8h0.65M47.4 166.7h0.65M47.4 172.0h0.65M47.4 147.9h0.65M47.5 169.2h0.65M47.5 181.0h0.65M47.5 177.7h0.65M47.5 188.6h0.65M47.5 182.7h0.65M47.5 152.5h0.65M47.5 191.2h0.65M47.5 180.4h0.65M47.5 190.4h0.65M47.5 149.5h0.65M47.5 178.0h0.65M47.5 166.8h0.65M47.6 186.9h0.65M47.6 180.5h0.65M47.6 198.7h0.65M47.6 152.0h0.65M47.6 195.5h0.65M47.6 150.1h0.65M47.6 170.7h0.65M47.6 166.8h0.65M47.6 196.6h0.65M47.6 190.5h0.65M47.7 162.5h0.65M47.7 199.5h0.65M47.7 172.8h0.65M47.7 178.5h0.65M47.7 186.4h0.65M47.7 178.7h0.65M47.7 147.6h0.65M47.7 148.2h0.65M47.8 196.6h0.65M47.8 173.1h0.65M47.8 181.9h0.65M47.8 200.4h0.65M47.8 193.0h0.65M47.8 162.9h0.65M47.8 186.1h0.65M47.9 145.5h0.65M47.9 167.8h0.65M47.9 176.9h0.65M47.9 183.6h0.65M47.9 195.6h0.65M47.9 150.1h0.65M47.9 145.9h0.65M47.9 165.6h0.65M47.9 180.1h0.65M47.9 174.2h0.65M47.9 188.8h0.65M47.9 196.7h0.65M47.9 164.1h0.65M47.9 172.3h0.65M48.0 166.9h0.65M48.0 168.3h0.65M48.0 189.0h0.65M48.0 147.1h0.65M48.0 200.3h0.65M48.0 167.3h0.65M48.0 182.8h0.65M48.0 176.9h0.65M48.0 170.6h0.65M48.0 163.9h0.65M48.0 180.2h0.65M48.1 150.5h0.65M48.1 194.1h0.65M48.1 147.7h0.65M48.1 178.3h0.65M48.1 194.3h0.65M48.1 190.4h0.65M48.1 144.1h0.65M48.2 174.6h0.65M48.2 182.2h0.65M48.2 184.9h0.65M48.2 164.2h0.65M48.2 183.1h0.65M48.2 166.4h0.65M48.2 177.3h0.65M48.2 175.8h0.65M48.2 183.7h0.65M48.2 180.1h0.65M48.3 164.8h0.65M48.3 163.8h0.65M48.3 182.7h0.65M48.3 198.3h0.65M48.3 174.2h0.65M48.3 197.0h0.65M48.3 190.3h0.65M48.3 205.0h0.65M48.3 188.6h0.65M48.3 191.8h0.65M48.3 176.9h0.65M48.4 170.2h0.65M48.4 151.0h0.65M48.4 165.7h0.65M48.4 179.1h0.65M48.4 180.4h0.65M48.4 194.9h0.65M48.4 183.0h0.65M48.4 193.3h0.65M48.4 190.7h0.65M48.4 182.4h0.65M48.4 163.9h0.65M48.5 203.1h0.65M48.5 165.8h0.65M48.5 168.1h0.65M48.5 204.7h0.65M48.5 170.6h0.65M48.5 170.9h0.65M48.5 183.1h0.65M48.5 150.8h0.65M48.6 186.8h0.65M48.6 176.5h0.65M48.6 175.7h0.65M48.6 191.3h0.65M48.6 176.5h0.65M48.6 185.3h0.65M48.6 188.8h0.65M48.6 177.7h0.65M48.6 179.1h0.65M48.6 191.7h0.65M48.7 192.5h0.65M48.7 183.4h0.65M48.7 200.3h0.65M48.7 197.4h0.65M48.7 174.4h0.65M48.7 164.6h0.65M48.7 167.2h0.65M48.7 165.6h0.65M48.7 202.0h0.65M48.7 164.9h0.65M48.7 164.6h0.65M48.7 173.7h0.65M48.7 186.1h0.65M48.7 182.8h0.65M48.8 171.2h0.65M48.8 180.1h0.65M48.8 185.7h0.65M48.8 193.4h0.65M48.8 178.1h0.65M48.8 175.3h0.65M48.8 170.6h0.65M48.8 188.5h0.65M48.8 185.1h0.65M48.8 179.9h0.65M48.9 187.7h0.65M48.9 186.6h0.65M48.9 172.6h0.65M48.9 176.7h0.65M48.9 177.9h0.65M48.9 168.3h0.65M48.9 145.0h0.65M48.9 176.3h0.65M48.9 198.0h0.65M48.9 146.3h0.65M48.9 187.6h0.65M48.9 189.2h0.65M49.0 147.9h0.65M49.0 172.6h0.65M49.0 174.4h0.65M49.0 149.5h0.65M49.0 167.6h0.65M49.0 172.8h0.65M49.0 200.2h0.65M49.0 172.0h0.65M49.0 167.5h0.65M49.1 184.1h0.65M49.1 176.0h0.65M49.1 199.4h0.65M49.1 197.7h0.65M49.1 185.4h0.65M49.1 187.9h0.65M49.1 179.3h0.65M49.1 176.6h0.65M49.1 177.9h0.65M49.1 166.8h0.65M49.1 200.8h0.65M49.1 201.6h0.65M49.1 187.9h0.65M49.1 191.1h0.65M49.1 178.5h0.65M49.1 208.9h0.65M49.1 198.7h0.65M49.1 215.1h0.65M49.1 193.1h0.65M49.2 192.0h0.65M49.2 203.8h0.65M49.2 167.4h0.65M49.2 180.5h0.65M49.2 177.9h0.65M49.2 183.2h0.65M49.2 165.7h0.65M49.2 166.2h0.65M49.2 201.4h0.65M49.2 172.6h0.65M49.2 173.3h0.65M49.2 189.3h0.65M49.2 177.3h0.65M49.3 171.9h0.65M49.3 197.7h0.65M49.3 193.5h0.65M49.3 184.4h0.65M49.3 179.9h0.65M49.3 191.9h0.65M49.3 175.8h0.65M49.3 197.6h0.65M49.3 173.8h0.65M49.3 172.3h0.65M49.4 186.2h0.65M49.4 194.0h0.65M49.4 167.2h0.65M49.4 177.3h0.65M49.4 196.8h0.65M49.4 187.4h0.65M49.4 184.9h0.65M49.4 186.8h0.65M49.4 177.8h0.65M49.4 197.8h0.65M49.4 173.6h0.65M49.4 182.8h0.65M49.4 170.2h0.65M49.5 184.8h0.65M49.5 191.6h0.65M49.5 178.6h0.65M49.5 164.3h0.65M49.5 183.3h0.65M49.5 175.5h0.65M49.5 164.4h0.65M49.5 180.9h0.65M49.5 200.6h0.65M49.5 166.0h0.65M49.5 174.8h0.65M49.5 199.5h0.65M49.5 167.5h0.65M49.5 166.7h0.65M49.5 198.7h0.65M49.5 176.1h0.65M49.5 188.3h0.65M49.5 183.8h0.65M49.6 147.8h0.65M49.6 191.7h0.65M49.6 166.1h0.65M49.6 202.4h0.65M49.6 189.4h0.65M49.6 192.4h0.65M49.6 190.3h0.65M49.6 180.6h0.65M49.6 164.7h0.65M49.6 175.0h0.65M49.6 174.3h0.65M49.6 174.8h0.65M49.7 190.7h0.65M49.7 182.6h0.65M49.7 188.7h0.65M49.7 193.3h0.65M49.7 197.4h0.65M49.7 167.2h0.65M49.7 180.9h0.65M49.7 190.3h0.65M49.7 198.7h0.65M49.7 174.9h0.65M49.7 186.2h0.65M49.7 183.5h0.65M49.7 175.4h0.65M49.8 193.1h0.65M49.8 191.7h0.65M49.8 146.3h0.65M49.8 204.3h0.65M49.8 190.4h0.65M49.8 169.3h0.65M49.8 192.0h0.65M49.8 205.1h0.65M49.8 183.5h0.65M49.9 183.0h0.65M49.9 202.6h0.65M49.9 197.0h0.65M49.9 178.8h0.65M49.9 184.9h0.65M49.9 205.2h0.65M49.9 178.0h0.65M49.9 178.1h0.65M49.9 144.3h0.65M49.9 166.8h0.65M49.9 167.6h0.65M50.0 147.2h0.65M50.0 198.2h0.65M50.0 189.4h0.65M50.0 148.5h0.65M50.0 149.4h0.65M50.0 186.1h0.65M50.0 185.7h0.65M50.0 180.8h0.65M50.0 168.2h0.65M50.0 192.3h0.65M50.0 189.7h0.65M50.0 184.7h0.65M50.1 148.6h0.65M50.1 182.0h0.65M50.1 171.8h0.65M50.1 166.6h0.65M50.1 195.2h0.65M50.1 210.2h0.65M50.1 201.4h0.65M50.1 148.4h0.65M50.1 197.1h0.65M50.2 166.1h0.65M50.2 172.6h0.65M50.2 172.1h0.65M50.2 168.5h0.65M50.2 206.6h0.65M50.2 144.7h0.65M50.2 172.7h0.65M50.2 147.9h0.65M50.2 142.6h0.65M50.2 168.5h0.65M50.2 146.5h0.65M50.2 170.5h0.65M50.2 195.7h0.65M50.3 173.0h0.65M50.3 139.8h0.65M50.3 171.5h0.65M50.3 196.9h0.65M50.3 173.3h0.65M50.3 165.4h0.65M50.3 171.0h0.65M50.3 165.4h0.65M50.3 175.3h0.65M50.3 201.2h0.65M50.4 199.6h0.65M50.4 199.4h0.65M50.4 167.9h0.65M50.4 172.0h0.65M50.4 173.6h0.65M50.4 198.6h0.65M50.4 198.8h0.65M50.4 149.4h0.65M50.5 205.1h0.65M50.5 168.7h0.65M50.5 170.0h0.65M50.5 142.1h0.65M50.5 168.4h0.65M50.5 148.1h0.65M50.5 169.8h0.65M50.5 148.9h0.65M50.6 166.3h0.65M50.6 198.2h0.65M50.6 200.3h0.65M50.6 198.1h0.65M50.6 203.8h0.65M50.7 148.9h0.65M50.7 168.8h0.65M50.7 169.1h0.65M50.7 202.6h0.65M50.7 199.3h0.65M50.8 170.1h0.65M50.8 171.2h0.65M50.8 202.4h0.65M50.8 169.1h0.65M50.8 204.2h0.65M50.8 166.6h0.65M50.8 169.1h0.65M50.8 201.1h0.65M50.8 201.6h0.65M50.9 167.5h0.65M50.9 146.3h0.65M50.9 208.0h0.65M50.9 169.5h0.65M51.0 147.5h0.65M51.0 148.1h0.65M51.0 170.0h0.65M51.0 148.3h0.65M51.0 169.5h0.65M51.0 207.8h0.65M51.1 168.3h0.65M51.1 202.5h0.65M51.1 170.9h0.65M51.1 167.4h0.65M51.1 170.7h0.65M51.1 207.3h0.65M51.1 170.1h0.65M51.2 166.2h0.65M51.2 169.2h0.65M51.2 148.1h0.65M51.3 169.8h0.65M51.3 168.3h0.65M51.3 148.0h0.65M51.3 200.8h0.65M51.3 203.6h0.65M51.3 167.9h0.65M51.4 143.3h0.65M51.4 202.9h0.65M51.4 148.5h0.65M51.5 199.2h0.65M51.5 141.4h0.65M51.5 203.8h0.65M51.6 202.9h0.65M51.6 209.2h0.65M51.7 167.0h0.65M51.7 167.5h0.65M51.7 203.7h0.65M51.7 167.1h0.65M51.8 166.8h0.65M51.8 167.8h0.65M51.9 200.1h0.65M52.0 168.1h0.65M52.1 148.0h0.65M52.2 136.7h0.65M52.3 203.2h0.65M52.3 203.3h0.65M52.3 146.5h0.65M52.3 146.1h0.65M52.3 141.7h0.65M52.3 204.2h0.65M52.4 200.8h0.65M52.4 146.6h0.65M52.4 206.4h0.65M52.4 147.0h0.65M52.5 201.8h0.65M52.6 201.8h0.65M52.6 146.0h0.65M52.7 210.2h0.65M52.7 146.0h0.65M52.7 147.3h0.65M52.7 202.6h0.65M52.8 147.7h0.65M52.8 205.8h0.65M52.8 202.7h0.65M52.9 209.9h0.65M52.9 143.8h0.65M52.9 204.4h0.65M53.0 205.4h0.65M53.1 144.5h0.65M53.1 202.3h0.65M53.2 207.2h0.65M53.2 147.7h0.65M53.2 139.4h0.65M53.4 205.9h0.65M53.4 207.3h0.65M53.5 202.3h0.65M53.5 203.1h0.65M53.7 142.2h0.65M53.7 144.5h0.65M53.9 146.4h0.65M53.9 146.4h0.65M54.0 147.1h0.65M54.0 206.3h0.65M54.0 203.2h0.65M54.2 144.2h0.65M54.3 203.7h0.65M54.3 205.6h0.65M54.3 146.7h0.65M54.4 146.4h0.65M54.4 141.1h0.65M54.4 147.7h0.65M54.6 203.1h0.65M54.6 216.1h0.65M54.6 145.3h0.65M54.7 144.4h0.65M54.7 203.9h0.65M54.7 206.2h0.65M54.8 146.4h0.65M54.8 208.4h0.65M54.9 145.9h0.65M55.0 204.6h0.65M55.0 142.6h0.65M55.0 147.3h0.65M55.1 207.8h0.65M55.1 145.1h0.65M55.1 204.5h0.65M55.2 145.5h0.65M55.2 142.0h0.65M55.2 206.5h0.65M55.2 147.3h0.65M55.2 203.5h0.65M55.3 203.7h0.65M55.4 209.3h0.65M55.5 147.0h0.65M55.5 143.8h0.65M55.6 139.5h0.65M55.7 203.9h0.65M55.7 145.8h0.65M55.8 203.9h0.65M55.8 147.4h0.65M55.8 207.0h0.65M55.8 146.4h0.65M55.9 209.0h0.65M55.9 146.3h0.65M55.9 205.2h0.65M56.0 146.5h0.65M56.1 204.4h0.65M56.1 207.4h0.65M56.1 147.0h0.65M56.2 209.9h0.65M56.2 146.0h0.65M56.2 207.5h0.65M56.3 206.9h0.65M56.3 218.0h0.65M56.3 206.6h0.65M56.4 146.1h0.65M56.5 205.0h0.65M56.6 216.1h0.65M56.6 146.4h0.65M56.6 147.0h0.65M56.7 205.4h0.65M56.7 146.4h0.65M56.7 206.5h0.65M56.9 204.8h0.65M56.9 146.1h0.65M56.9 207.4h0.65M57.1 146.4h0.65M57.2 146.9h0.65M57.2 205.9h0.65M57.2 205.2h0.65M57.2 210.1h0.65M57.3 144.7h0.65M57.6 205.4h0.65M57.6 204.4h0.65M57.7 146.9h0.65M57.7 207.1h0.65M57.8 215.1h0.65M57.9 206.0h0.65M57.9 146.2h0.65M57.9 144.8h0.65M58.0 208.8h0.65M58.0 207.2h0.65M58.0 139.8h0.65M58.1 142.1h0.65M58.1 146.3h0.65M58.2 207.6h0.65M58.2 141.9h0.65M58.2 143.3h0.65M58.2 207.1h0.65M58.3 145.1h0.65M58.3 204.8h0.65M58.4 205.2h0.65M58.5 136.8h0.65M58.7 206.8h0.65M58.8 209.3h0.65M58.9 145.1h0.65M59.1 208.7h0.65M59.1 208.6h0.65M59.2 211.6h0.65M59.2 211.2h0.65M59.3 209.2h0.65M59.3 205.0h0.65M59.4 204.8h0.65M59.4 206.3h0.65M59.4 205.2h0.65M59.5 144.1h0.65M59.7 144.8h0.65M59.8 205.3h0.65M59.9 145.8h0.65M59.9 205.1h0.65M60.0 212.8h0.65M60.0 207.5h0.65M60.1 210.0h0.65M60.1 208.9h0.65M60.1 145.2h0.65M60.2 144.9h0.65M60.2 143.1h0.65M60.2 205.5h0.65M60.2 146.1h0.65M60.3 144.0h0.65M60.3 208.6h0.65M60.3 143.4h0.65M60.3 210.3h0.65M60.3 205.2h0.65M60.3 141.2h0.65M60.4 145.9h0.65M60.4 204.9h0.65M60.4 146.4h0.65M60.5 211.1h0.65M60.7 146.8h0.65M60.7 206.3h0.65M60.7 145.7h0.65M60.7 206.3h0.65M60.8 145.8h0.65M60.9 206.8h0.65M60.9 209.6h0.65M61.0 146.9h0.65M61.0 145.7h0.65M61.0 211.8h0.65M61.1 145.1h0.65M61.2 204.9h0.65M61.4 145.8h0.65M61.4 215.3h0.65M61.6 144.8h0.65M61.7 145.6h0.65M61.7 146.3h0.65M61.7 205.7h0.65M61.7 205.4h0.65M61.7 213.2h0.65M61.7 209.6h0.65M61.7 205.3h0.65M61.8 210.2h0.65M61.8 146.4h0.65M61.8 143.9h0.65M61.9 207.0h0.65M61.9 205.7h0.65M61.9 145.6h0.65M61.9 205.6h0.65M61.9 145.8h0.65M62.1 142.5h0.65M62.2 145.0h0.65M62.3 204.9h0.65M62.4 136.9h0.65M62.4 146.3h0.65M62.5 143.7h0.65M62.5 205.3h0.65M62.7 146.0h0.65M62.7 205.1h0.65M62.7 204.6h0.65M62.8 205.2h0.65M62.8 145.2h0.65M62.9 147.0h0.65M62.9 146.0h0.65M62.9 206.7h0.65M63.0 207.9h0.65M63.0 208.7h0.65M63.1 206.2h0.65M63.2 206.3h0.65M63.3 207.0h0.65M63.3 206.6h0.65M63.5 204.7h0.65M63.5 197.9h0.65M63.6 145.5h0.65M63.7 146.1h0.65M63.7 146.7h0.65M63.8 209.1h0.65M63.8 146.2h0.65M63.9 211.7h0.65M63.9 144.4h0.65M63.9 207.1h0.65M64.0 205.3h0.65M64.0 211.3h0.65M64.0 146.7h0.65M64.1 204.2h0.65M64.1 207.7h0.65M64.2 146.2h0.65M64.3 146.7h0.65M64.3 206.3h0.65M64.3 215.6h0.65M64.4 145.2h0.65M64.4 205.8h0.65M64.4 205.6h0.65M64.4 206.3h0.65M64.5 147.2h0.65M64.6 144.2h0.65M64.7 206.0h0.65M64.7 208.2h0.65M64.7 204.0h0.65M64.7 147.2h0.65M64.7 142.8h0.65M64.8 210.2h0.65M64.9 204.4h0.65M64.9 146.8h0.65M65.0 146.1h0.65M65.1 147.2h0.65M65.1 141.0h0.65M65.1 146.7h0.65M65.1 206.4h0.65M65.2 204.2h0.65M65.2 146.6h0.65M65.3 204.5h0.65M65.4 207.0h0.65M65.4 207.5h0.65M65.4 143.7h0.65M65.5 145.3h0.65M65.6 142.0h0.65M65.9 146.7h0.65M65.9 206.5h0.65M65.9 145.9h0.65M65.9 206.0h0.65M65.9 204.4h0.65M66.0 147.4h0.65M66.1 147.0h0.65M66.2 202.9h0.65M66.2 203.1h0.65M66.2 203.2h0.65M66.2 204.8h0.65M66.5 204.2h0.65M66.5 146.8h0.65M66.5 144.1h0.65M66.6 203.1h0.65M66.7 202.8h0.65M66.8 203.0h0.65M66.8 211.0h0.65M66.8 204.3h0.65M66.8 146.5h0.65M66.8 146.8h0.65M66.9 208.9h0.65M66.9 143.7h0.65M67.0 139.6h0.65M67.0 145.4h0.65M67.0 203.5h0.65M67.0 147.4h0.65M67.1 139.3h0.65M67.1 148.0h0.65M67.1 186.4h0.65M67.2 205.7h0.65M67.2 142.7h0.65M67.2 147.6h0.65M67.2 146.4h0.65M67.2 205.7h0.65M67.3 147.4h0.65M67.3 143.4h0.65M67.3 140.5h0.65M67.3 201.3h0.65M67.3 147.4h0.65M67.4 201.0h0.65M67.4 204.6h0.65M67.4 202.4h0.65M67.5 204.2h0.65M67.6 146.6h0.65M67.6 203.4h0.65M67.6 147.2h0.65M67.7 203.7h0.65M67.7 184.8h0.65M67.7 189.8h0.65M67.7 212.9h0.65M67.7 207.9h0.65M67.8 143.8h0.65M67.8 202.1h0.65M67.8 204.1h0.65M67.8 201.1h0.65M67.8 147.9h0.65M67.9 144.5h0.65M68.0 147.2h0.65M68.0 207.4h0.65M68.0 209.2h0.65M68.0 206.4h0.65M68.2 202.8h0.65M68.2 202.0h0.65M68.2 148.4h0.65M68.2 147.8h0.65M68.4 148.2h0.65M68.5 202.8h0.65M68.6 207.4h0.65M68.7 143.8h0.65M68.7 206.9h0.65M68.7 200.2h0.65M68.7 203.5h0.65M68.7 201.9h0.65M68.8 149.0h0.65M68.8 200.0h0.65M68.8 148.6h0.65M68.8 146.3h0.65M68.8 200.7h0.65M68.9 200.4h0.65M68.9 148.6h0.65M68.9 200.0h0.65M69.0 148.8h0.65M69.0 140.6h0.65M69.0 200.0h0.65M69.0 149.2h0.65M69.0 202.5h0.65M69.1 201.6h0.65M69.1 149.4h0.65M69.1 201.9h0.65M69.2 206.3h0.65M69.3 199.0h0.65M69.3 201.1h0.65M69.3 208.7h0.65M69.3 200.8h0.65M69.3 202.1h0.65M69.3 200.0h0.65M69.4 204.6h0.65M69.4 196.7h0.65M69.5 200.1h0.65M69.5 187.7h0.65M69.5 146.8h0.65M69.5 196.9h0.65M69.5 149.0h0.65M69.5 144.7h0.65M69.6 204.1h0.65M69.6 148.4h0.65M69.6 142.9h0.65M69.6 146.4h0.65M69.6 147.4h0.65M69.7 195.8h0.65M69.7 199.8h0.65M69.7 166.4h0.65M69.8 146.0h0.65M69.8 165.9h0.65M69.8 146.1h0.65M69.8 200.4h0.65M69.8 196.1h0.65M69.8 165.5h0.65M69.8 167.0h0.65M69.9 196.4h0.65M69.9 165.7h0.65M69.9 166.6h0.65M69.9 147.4h0.65M69.9 166.9h0.65M69.9 149.9h0.65M69.9 166.7h0.65M70.0 194.2h0.65M70.0 167.6h0.65M70.0 164.5h0.65M70.0 142.2h0.65M70.0 195.2h0.65M70.1 206.8h0.65M70.1 164.6h0.65M70.1 148.3h0.65M70.1 164.7h0.65M70.1 191.4h0.65M70.1 195.2h0.65M70.1 149.4h0.65M70.1 193.7h0.65M70.2 196.6h0.65M70.2 192.6h0.65M70.2 168.5h0.65M70.2 167.2h0.65M70.2 190.9h0.65M70.2 203.5h0.65M70.2 169.0h0.65M70.3 192.2h0.65M70.3 191.8h0.65M70.3 150.9h0.65M70.3 204.3h0.65M70.3 206.9h0.65M70.3 206.9h0.65M70.3 196.4h0.65M70.3 176.5h0.65M70.3 190.2h0.65M70.4 189.3h0.65M70.4 166.1h0.65M70.4 190.1h0.65M70.4 191.1h0.65M70.4 164.5h0.65M70.4 191.8h0.65M70.4 168.1h0.65M70.4 194.8h0.65M70.5 148.0h0.65M70.5 164.9h0.65M70.5 144.5h0.65M70.5 200.2h0.65M70.5 191.8h0.65M70.5 214.7h0.65M70.5 189.6h0.65M70.5 198.6h0.65M70.5 189.8h0.65M70.5 169.9h0.65M70.5 170.0h0.65M70.5 164.5h0.65M70.6 191.9h0.65M70.6 165.7h0.65M70.6 165.8h0.65M70.6 148.1h0.65M70.6 138.6h0.65M70.6 196.3h0.65M70.6 186.8h0.65M70.7 165.0h0.65M70.7 200.1h0.65M70.7 149.5h0.65M70.7 197.8h0.65M70.7 191.6h0.65M70.7 195.6h0.65M70.7 193.6h0.65M70.7 192.1h0.65M70.7 205.5h0.65M70.7 189.7h0.65M70.7 149.2h0.65M70.8 167.6h0.65M70.8 164.1h0.65M70.8 150.3h0.65M70.8 192.0h0.65M70.8 188.2h0.65M70.8 189.3h0.65M70.8 149.6h0.65M70.8 185.7h0.65M70.8 147.7h0.65M70.9 164.3h0.65M70.9 163.7h0.65M70.9 165.2h0.65M70.9 166.6h0.65M70.9 163.0h0.65M70.9 189.3h0.65M70.9 150.7h0.65M70.9 149.6h0.65M70.9 145.1h0.65M71.0 170.4h0.65M71.0 166.3h0.65M71.0 210.5h0.65M71.0 194.9h0.65M71.0 151.5h0.65M71.0 202.9h0.65M71.0 184.1h0.65M71.0 186.9h0.65M71.0 168.7h0.65M71.0 195.7h0.65M71.0 166.2h0.65M71.0 184.3h0.65M71.0 145.9h0.65M71.0 188.7h0.65M71.0 195.5h0.65M71.0 173.3h0.65M71.0 187.4h0.65M71.0 151.6h0.65M71.0 197.1h0.65M71.1 149.5h0.65M71.1 198.0h0.65M71.1 194.0h0.65M71.1 194.9h0.65M71.1 162.0h0.65M71.1 189.1h0.65M71.1 164.7h0.65M71.1 202.8h0.65M71.1 163.8h0.65M71.1 146.3h0.65M71.1 151.9h0.65M71.1 144.2h0.65M71.1 175.4h0.65M71.1 177.7h0.65M71.1 172.6h0.65M71.1 192.1h0.65M71.1 145.1h0.65M71.1 179.6h0.65M71.1 182.2h0.65M71.1 161.4h0.65M71.1 197.0h0.65M71.2 182.3h0.65M71.2 184.9h0.65M71.2 184.5h0.65M71.2 175.4h0.65M71.2 147.4h0.65M71.2 179.7h0.65M71.2 184.2h0.65M71.2 197.9h0.65M71.2 162.0h0.65M71.2 179.4h0.65M71.2 189.8h0.65M71.2 184.1h0.65M71.2 162.6h0.65M71.2 177.4h0.65M71.2 165.7h0.65M71.3 206.0h0.65M71.3 191.2h0.65M71.3 184.8h0.65M71.3 165.4h0.65M71.3 169.9h0.65M71.3 191.0h0.65M71.3 195.4h0.65M71.3 171.9h0.65M71.3 174.7h0.65M71.3 204.3h0.65M71.3 152.5h0.65M71.3 169.6h0.65M71.4 178.5h0.65M71.4 152.8h0.65M71.4 178.9h0.65M71.4 170.1h0.65M71.4 162.8h0.65M71.4 182.8h0.65M71.4 190.4h0.65M71.4 177.8h0.65M71.5 174.1h0.65M71.5 178.3h0.65M71.5 174.9h0.65M71.5 194.2h0.65M71.5 201.0h0.65M71.5 151.6h0.65M71.5 174.3h0.65M71.6 169.4h0.65M71.6 174.9h0.65M71.6 162.0h0.65M71.6 176.5h0.65M71.6 163.6h0.65M71.6 176.5h0.65M71.6 191.6h0.65M71.6 195.0h0.65M71.6 192.0h0.65M71.6 197.1h0.65M71.6 153.4h0.65M71.6 170.0h0.65M71.6 171.6h0.65M71.6 154.8h0.65M71.6 172.0h0.65M71.6 160.4h0.65M71.6 160.2h0.65M71.7 158.0h0.65M71.7 177.2h0.65M71.7 151.0h0.65M71.7 162.8h0.65M71.7 184.8h0.65M71.7 193.6h0.65M71.7 169.9h0.65M71.7 189.1h0.65M71.7 163.9h0.65M71.7 189.6h0.65M71.7 203.9h0.65M71.7 186.5h0.65M71.7 174.1h0.65M71.7 185.2h0.65M71.7 151.6h0.65M71.7 174.1h0.65M71.7 187.6h0.65M71.8 180.6h0.65M71.8 171.0h0.65M71.8 159.5h0.65M71.8 167.2h0.65M71.8 178.7h0.65M71.8 161.6h0.65M71.8 154.4h0.65M71.8 149.1h0.65M71.8 199.0h0.65M71.9 189.0h0.65M71.9 146.0h0.65M71.9 161.8h0.65M71.9 166.0h0.65M71.9 154.9h0.65M71.9 188.6h0.65M71.9 161.4h0.65M71.9 161.5h0.65M71.9 149.7h0.65M71.9 174.3h0.65M71.9 191.3h0.65M71.9 157.8h0.65M71.9 187.0h0.65M71.9 191.7h0.65M72.0 179.3h0.65M72.0 185.4h0.65M72.0 149.2h0.65M72.0 168.7h0.65M72.0 165.4h0.65M72.0 156.2h0.65M72.0 190.5h0.65M72.0 161.0h0.65M72.0 195.4h0.65M72.0 166.4h0.65M72.0 159.5h0.65M72.0 160.0h0.65M72.0 207.0h0.65M72.0 173.8h0.65M72.0 157.3h0.65M72.1 182.9h0.65M72.1 151.8h0.65M72.1 187.7h0.65M72.1 164.1h0.65M72.1 165.4h0.65M72.1 183.6h0.65M72.1 164.7h0.65M72.1 158.2h0.65M72.1 198.6h0.65M72.1 157.7h0.65M72.1 197.7h0.65M72.1 171.5h0.65M72.1 192.8h0.65M72.1 179.8h0.65M72.1 156.3h0.65M72.1 168.9h0.65M72.1 189.9h0.65M72.2 156.5h0.65M72.2 163.5h0.65M72.2 178.9h0.65M72.2 168.7h0.65M72.2 189.9h0.65M72.2 174.4h0.65M72.2 158.3h0.65M72.2 189.1h0.65M72.2 156.7h0.65M72.2 196.7h0.65M72.2 151.1h0.65M72.2 176.3h0.65M72.3 196.2h0.65M72.3 199.2h0.65M72.3 171.0h0.65M72.3 193.3h0.65M72.3 165.6h0.65M72.3 184.0h0.65M72.3 157.8h0.65M72.4 192.8h0.65M72.4 155.2h0.65M72.4 170.5h0.65M72.4 175.5h0.65M72.4 172.9h0.65M72.4 198.2h0.65M72.4 174.9h0.65M72.4 180.8h0.65M72.4 193.9h0.65M72.4 157.5h0.65M72.5 160.3h0.65M72.5 204.6h0.65M72.5 164.3h0.65M72.5 157.7h0.65M72.5 183.5h0.65M72.5 191.7h0.65M72.5 176.7h0.65M72.5 149.3h0.65M72.5 169.3h0.65M72.5 188.8h0.65M72.5 200.2h0.65M72.5 160.4h0.65M72.5 180.6h0.65M72.5 153.1h0.65M72.5 151.4h0.65M72.6 155.2h0.65M72.6 201.9h0.65M72.6 183.6h0.65M72.6 186.1h0.65M72.6 161.8h0.65M72.6 155.1h0.65M72.6 176.1h0.65M72.6 178.7h0.65M72.6 210.6h0.65M72.6 185.5h0.65M72.7 198.1h0.65M72.7 164.1h0.65M72.7 176.1h0.65M72.7 193.1h0.65M72.7 192.9h0.65M72.7 158.4h0.65M72.7 189.0h0.65M72.7 178.5h0.65M72.7 179.8h0.65M72.7 143.8h0.65M72.7 190.0h0.65M72.8 183.7h0.65M72.8 184.7h0.65M72.8 200.4h0.65M72.8 159.3h0.65M72.8 196.8h0.65M72.8 178.6h0.65M72.8 166.9h0.65M72.8 149.7h0.65M72.8 183.9h0.65M72.8 162.5h0.65M72.9 195.3h0.65M72.9 164.0h0.65M72.9 167.4h0.65M72.9 192.3h0.65M72.9 185.7h0.65M72.9 183.4h0.65M72.9 186.7h0.65M72.9 184.2h0.65M72.9 158.1h0.65M72.9 156.7h0.65M72.9 164.7h0.65M73.0 198.0h0.65M73.0 165.0h0.65M73.0 204.0h0.65M73.0 155.1h0.65M73.0 197.8h0.65M73.0 158.4h0.65M73.0 200.0h0.65M73.0 174.1h0.65M73.0 202.8h0.65M73.0 155.5h0.65M73.0 159.3h0.65M73.0 200.1h0.65M73.0 196.3h0.65M73.0 176.8h0.65M73.1 159.2h0.65M73.1 197.1h0.65M73.1 189.3h0.65M73.1 178.2h0.65M73.1 157.0h0.65M73.1 193.4h0.65M73.1 164.9h0.65M73.1 156.4h0.65M73.1 186.5h0.65M73.2 153.8h0.65M73.2 155.1h0.65M73.2 187.8h0.65M73.2 183.5h0.65M73.2 197.8h0.65M73.3 169.4h0.65M73.3 160.9h0.65M73.3 158.8h0.65M73.3 160.3h0.65M73.3 161.3h0.65M73.4 178.9h0.65M73.4 150.7h0.65M73.4 172.1h0.65M73.4 152.6h0.65M73.4 183.9h0.65M73.4 196.3h0.65M73.4 164.0h0.65M73.4 173.0h0.65M73.4 146.3h0.65M73.5 181.9h0.65M73.5 177.0h0.65M73.5 179.5h0.65M73.5 152.3h0.65M73.5 171.5h0.65M73.5 164.8h0.65M73.5 180.5h0.65M73.5 144.2h0.65M73.5 188.1h0.65M73.6 181.1h0.65M73.6 174.7h0.65M73.6 180.3h0.65M73.6 159.9h0.65M73.6 152.4h0.65M73.6 188.4h0.65M73.6 163.3h0.65M73.7 177.5h0.65M73.7 156.5h0.65M73.7 178.7h0.65M73.7 151.7h0.65M73.7 171.2h0.65M73.7 154.6h0.65M73.8 195.4h0.65M73.8 182.8h0.65M73.8 149.3h0.65M73.8 158.0h0.65M73.8 150.0h0.65M73.8 155.8h0.65M73.8 162.8h0.65M73.8 171.8h0.65M73.8 183.9h0.65M73.9 143.4h0.65M73.9 183.9h0.65M73.9 163.6h0.65M73.9 190.8h0.65M73.9 164.2h0.65M73.9 190.2h0.65M73.9 155.2h0.65M74.0 199.2h0.65M74.0 161.2h0.65M74.0 155.0h0.65M74.0 151.1h0.65M74.0 151.9h0.65M74.0 163.5h0.65M74.0 177.5h0.65M74.1 201.9h0.65M74.1 195.2h0.65M74.1 169.1h0.65M74.2 186.1h0.65M74.2 176.3h0.65M74.3 201.9h0.65M74.3 175.5h0.65M74.3 186.5h0.65M74.3 159.7h0.65M74.3 196.4h0.65M74.4 197.5h0.65M74.5 170.1h0.65M74.5 175.4h0.65M74.5 175.2h0.65M74.5 178.6h0.65M74.5 167.2h0.65M74.5 152.0h0.65M74.5 178.7h0.65M74.6 165.3h0.65M74.6 155.7h0.65M74.6 205.8h0.65M74.6 161.3h0.65M74.6 173.5h0.65M74.7 145.9h0.65M74.7 155.0h0.65M74.7 174.0h0.65M74.7 198.5h0.65M74.7 154.2h0.65M74.7 164.5h0.65M74.8 161.1h0.65M74.8 153.3h0.65M74.9 149.3h0.65M74.9 160.4h0.65M74.9 188.1h0.65M75.0 157.0h0.65M75.0 180.1h0.65M75.0 194.5h0.65M75.0 148.5h0.65M75.1 194.2h0.65M75.1 165.8h0.65M75.1 196.2h0.65M75.2 180.7h0.65M75.2 193.6h0.65M75.2 203.9h0.65M75.2 186.9h0.65M75.3 162.4h0.65M75.3 152.9h0.65M75.3 192.4h0.65M75.3 156.2h0.65M75.3 155.5h0.65M75.4 150.4h0.65M75.4 162.1h0.65M75.5 159.4h0.65M75.5 164.1h0.65M75.5 155.9h0.65M75.6 158.2h0.65M75.6 162.4h0.65M75.7 163.4h0.65M75.8 157.9h0.65M75.8 150.3h0.65M75.8 171.5h0.65M75.8 162.7h0.65M75.9 151.9h0.65M75.9 198.9h0.65M75.9 173.8h0.65M76.0 150.1h0.65M76.0 166.2h0.65M76.0 154.5h0.65M76.0 167.0h0.65M76.0 194.8h0.65M76.1 157.4h0.65M76.1 167.8h0.65M76.2 147.2h0.65M76.3 197.9h0.65M76.3 153.4h0.65M76.4 176.2h0.65M76.5 153.8h0.65M76.5 178.2h0.65M76.6 165.1h0.65M76.6 156.7h0.65M76.6 180.8h0.65M76.6 191.2h0.65M76.6 156.8h0.65M76.7 163.3h0.65M76.7 156.0h0.65M76.8 185.4h0.65M76.8 184.8h0.65M76.8 161.9h0.65M76.8 203.9h0.65M76.8 173.3h0.65M76.9 187.2h0.65M76.9 183.7h0.65M76.9 149.6h0.65M77.0 164.0h0.65M77.1 148.8h0.65M77.2 162.7h0.65M77.3 189.2h0.65M77.5 198.0h0.65M77.5 153.1h0.65M77.6 153.2h0.65M77.6 161.9h0.65M77.7 172.8h0.65M77.7 163.2h0.65M77.7 151.5h0.65M77.8 155.4h0.65M77.8 192.0h0.65M78.1 159.4h0.65M78.2 156.9h0.65M78.3 154.0h0.65M78.3 190.0h0.65M78.4 178.6h0.65M78.6 160.0h0.65M78.6 154.5h0.65M78.7 189.1h0.65M78.9 177.3h0.65M78.9 181.0h0.65M79.0 193.2h0.65M79.0 150.8h0.65M79.1 152.2h0.65M79.1 153.3h0.65M79.2 162.7h0.65M79.3 201.0h0.65M79.4 157.3h0.65M79.4 154.2h0.65M79.4 188.8h0.65M79.4 158.6h0.65M79.5 194.3h0.65M79.5 156.0h0.65M79.7 160.6h0.65M79.8 149.4h0.65M79.8 162.7h0.65M79.9 189.4h0.65M80.1 160.0h0.65M80.2 195.9h0.65M80.2 179.7h0.65M80.3 190.1h0.65M80.3 172.8h0.65M80.4 151.9h0.65M80.4 187.6h0.65M80.4 179.0h0.65M80.6 193.4h0.65M80.6 148.3h0.65M81.0 172.1h0.65M81.0 156.9h0.65M81.0 171.5h0.65M81.1 158.1h0.65M81.1 192.7h0.65M81.2 174.5h0.65M81.6 201.7h0.65M81.8 177.3h0.65M82.0 161.6h0.65M82.0 205.0h0.65M82.0 184.2h0.65M82.0 207.8h0.65M82.1 162.7h0.65M82.1 170.7h0.65M82.2 149.9h0.65M82.2 193.3h0.65M82.2 156.2h0.65M82.5 191.8h0.65M82.7 187.7h0.65M82.9 156.5h0.65M82.9 150.7h0.65M83.0 153.5h0.65M83.0 166.0h0.65M83.1 156.5h0.65M83.1 143.0h0.65M83.2 147.4h0.65M83.3 195.9h0.65M83.3 182.2h0.65M83.5 201.1h0.65M83.5 195.9h0.65M83.5 169.1h0.65M83.5 170.6h0.65M83.5 215.6h0.65M83.5 186.4h0.65M83.6 158.9h0.65M83.6 205.0h0.65M83.6 178.7h0.65M83.6 152.0h0.65M83.7 195.2h0.65M83.7 187.0h0.65M83.7 153.5h0.65M83.8 197.7h0.65M83.9 181.4h0.65M83.9 194.2h0.65M83.9 145.9h0.65M83.9 199.5h0.65M83.9 210.9h0.65M84.0 180.8h0.65M84.1 188.3h0.65M84.2 158.1h0.65M84.4 176.6h0.65M84.5 146.0h0.65M84.5 202.4h0.65M84.6 205.4h0.65M84.6 150.9h0.65M84.7 193.0h0.65M84.8 199.8h0.65M84.9 186.7h0.65M85.0 186.0h0.65M85.0 150.7h0.65M85.0 188.2h0.65M85.1 193.3h0.65M85.1 201.9h0.65M85.1 150.3h0.65M85.2 192.0h0.65M85.3 155.8h0.65M85.4 187.9h0.65M85.4 196.1h0.65M85.4 194.8h0.65M85.5 155.7h0.65M85.5 184.3h0.65M85.6 148.0h0.65M85.6 170.8h0.65M85.7 146.4h0.65M85.7 193.1h0.65M85.8 158.5h0.65M85.9 157.0h0.65M85.9 180.9h0.65M85.9 162.2h0.65M85.9 185.3h0.65M86.0 144.6h0.65M86.0 151.8h0.65M86.0 149.0h0.65M86.1 160.0h0.65M86.1 192.2h0.65M86.2 151.6h0.65M86.2 197.2h0.65M86.2 150.1h0.65M86.2 182.7h0.65M86.3 190.6h0.65M86.3 193.7h0.65M86.3 199.1h0.65M86.3 180.2h0.65M86.4 186.5h0.65M86.4 156.3h0.65M86.5 155.6h0.65M86.5 149.0h0.65M86.6 165.5h0.65M86.6 194.2h0.65M86.8 152.2h0.65M86.8 150.7h0.65M86.8 191.4h0.65M86.9 199.9h0.65M86.9 157.4h0.65M87.0 205.4h0.65M87.1 153.0h0.65M87.2 186.1h0.65M87.3 149.8h0.65M87.4 156.4h0.65M87.5 156.2h0.65M87.6 186.1h0.65M87.6 201.3h0.65M87.6 191.9h0.65M87.6 166.8h0.65M87.6 215.8h0.65M87.7 161.5h0.65M87.7 185.7h0.65M87.8 152.1h0.65M87.8 161.5h0.65M87.9 174.7h0.65M87.9 211.3h0.65M87.9 155.0h0.65M87.9 170.4h0.65M88.0 179.5h0.65M88.0 168.9h0.65M88.1 209.1h0.65M88.1 159.9h0.65M88.1 182.6h0.65M88.2 186.5h0.65M88.2 159.6h0.65M88.2 207.2h0.65M88.2 179.4h0.65M88.3 209.9h0.65M88.5 210.8h0.65M88.6 185.3h0.65M88.7 156.2h0.65M88.7 160.8h0.65M88.7 149.6h0.65M88.7 182.2h0.65M88.8 174.5h0.65M88.9 146.6h0.65M88.9 206.3h0.65M89.0 198.0h0.65M89.0 151.8h0.65M89.0 153.1h0.65M89.1 201.0h0.65M89.2 170.6h0.65M89.2 180.6h0.65M89.4 193.8h0.65M89.4 154.3h0.65M89.4 160.4h0.65M89.4 191.4h0.65M89.5 193.7h0.65M89.5 157.3h0.65M89.6 170.7h0.65M89.6 144.8h0.65M89.7 188.5h0.65M89.7 162.2h0.65M89.8 211.7h0.65M89.9 199.7h0.65M89.9 188.5h0.65M89.9 187.5h0.65M89.9 170.1h0.65M90.0 159.4h0.65M90.0 206.9h0.65M90.1 198.3h0.65M90.1 156.9h0.65M90.2 180.6h0.65M90.3 184.8h0.65M90.4 155.1h0.65M90.4 149.6h0.65M90.4 176.3h0.65M90.6 194.2h0.65M90.6 182.5h0.65M90.6 173.9h0.65M90.6 199.5h0.65M90.6 149.9h0.65M90.7 173.5h0.65M90.7 156.5h0.65M90.7 202.8h0.65M90.9 161.7h0.65M91.1 159.3h0.65M91.3 190.3h0.65M91.3 180.6h0.65M91.4 156.6h0.65M91.5 157.2h0.65M91.7 188.3h0.65M91.7 172.3h0.65M91.7 148.8h0.65M91.8 185.3h0.65M91.8 150.9h0.65M91.9 176.1h0.65M92.0 191.6h0.65M92.0 183.5h0.65M92.1 151.6h0.65M92.2 183.5h0.65M92.5 151.0h0.65M92.6 203.7h0.65M92.7 177.4h0.65M92.9 186.8h0.65M92.9 172.8h0.65M92.9 173.4h0.65M92.9 173.7h0.65M93.0 185.3h0.65M93.3 189.6h0.65M93.3 181.8h0.65M93.4 158.1h0.65M93.4 149.9h0.65M93.6 190.3h0.65M93.6 143.6h0.65M93.6 166.9h0.65M93.8 182.1h0.65M94.0 174.5h0.65M94.1 190.1h0.65M94.1 171.4h0.65M94.1 172.2h0.65M94.2 194.1h0.65M94.3 188.5h0.65M94.3 190.4h0.65M94.6 211.2h0.65M94.6 160.8h0.65M94.6 176.3h0.65M94.7 181.9h0.65M95.1 194.5h0.65M95.3 178.8h0.65M95.3 150.0h0.65M95.4 172.6h0.65M95.4 177.8h0.65M95.5 209.4h0.65M95.6 174.8h0.65M95.8 177.4h0.65M95.8 215.9h0.65M95.9 194.6h0.65M95.9 175.2h0.65M95.9 198.1h0.65M96.1 199.3h0.65M96.2 206.1h0.65M96.7 188.1h0.65M97.7 183.4h0.65M98.2 203.9h0.65M98.5 192.8h0.65M99.9 189.9h0.65M100.1 184.9h0.65M100.2 176.4h0.65M100.2 188.5h0.65M100.3 201.8h0.65M100.5 177.7h0.65M100.6 152.7h0.65M100.7 197.3h0.65M100.9 185.2h0.65M101.1 186.0h0.65M101.3 188.4h0.65M101.7 191.4h0.65M102.2 174.0h0.65M103.0 173.7h0.65M104.0 182.3h0.65M105.7 171.7h0.65M107.0 182.4h0.65" stroke="#333" stroke-width="0.65" fill="none"/>
<path d="M62.2 204.7l-2.4 0l-2.4-.4l-2.2-1l-1.9-1.5l-1.5-2l-.9-2.2l-.6-2.3l-.2-2.5l-.1-2.4l0-2.4l0-2.5l0-2.4l0-2.4l0-2.4l.2-2.5l.3-2.4l.7-2.3l.7-2.3l-.4-2.3l-1.7-1.8l-1.6-1.8l-1.2-2.1l-.6-2.4l-.1-2.4l.7-2.3l1.2-2.1l1.8-1.6l2.1-1.3l2.3-.9l2.3-.5l2.4-.3l2.5-.1l2.4 .2l2.3 .7l2.1 1.3l1.6 1.7l1.1 2.2l.6 2.3l.1 2.5l-.3 2.4l-.7 2.3l-.9 2.2l-.2 2.4l.5 2.4l.5 2.4l.4 2.4l.1 2.4l0 2.5l-.1 2.4l-.2 2.4l-.2 2.4l-.3 2.4l-.2 2.5l-.3 2.4l-.3 2.4l-.7 2.3l-1 2.2l-1.4 2l-2 1.4z" fill="#fff" stroke="#222" stroke-width="0.85" stroke-linejoin="round"/>
<path d="M61.7 202.4l-2.2 0l-2.2-.6l-1.9-1.2l-1.5-1.6l-1-2l-.5-2.2l-.2-2.2l0-2.3l0-2.2l0-2.2l0-2.3l.1-2.2l.1-2.2l.1-2.3l.3-2.2l.5-2.1l.9-2.1l1.1-2l.2-2.1l-1.6-1.5l-1.8-1.4l-1.5-1.6l-1.1-1.9l-.5-2.2l.1-2.2l.8-2.1l1.5-1.7l1.8-1.3l2-.9l2.2-.6l2.2-.2l2.2-.1l2.3 .3l2 .8l1.8 1.3l1.2 1.9l.7 2.1l.2 2.2l-.2 2.2l-.7 2.2l-1 2l-.8 2l.6 2.2l.8 2.1l.6 2.1l.4 2.2l.1 2.3l0 2.2l-.1 2.2l-.2 2.3l-.2 2.2l-.3 2.2l-.3 2.2l-.3 2.2l-.3 2.2l-.5 2.2l-.7 2.1l-1.3 1.9l-1.8 1.3z" fill="none" stroke="#444" stroke-width="0.7" stroke-linejoin="round"/>
<path d="M63.4 164.7l-1.6 .2l-1.6-.2l-1.6-.4l-1.5-.5l-1.5-.7l-1.4-.9l-1.1-1.2l-.9-1.4l-.4-1.5l-.1-1.7l.4-1.5l.9-1.4l1.2-1.1l1.4-.8l1.6-.6l1.6-.3l1.6-.2l1.6 0l1.7 .2l1.5 .6l1.3 1l.9 1.3l.6 1.6l.2 1.6l-.1 1.6l-.3 1.6l-.7 1.5l-1 1.3l-1.2 1.1zM62.2 199.9l-1.6 .1l-1.6-.2l-1.5-.6l-1.3-1.1l-.9-1.3l-.6-1.5l-.2-1.7l-.1-1.6l-.1-1.6l.1-1.6l0-1.7l.1-1.6l0-1.6l.1-1.7l.1-1.6l0-1.6l.2-1.6l.1-1.7l.4-1.6l.6-1.5l.8-1.4l1.1-1.2l1.3-1l1.4-.8l1.6-.4l1.6 0l1.5 .6l1.1 1.2l.9 1.4l.5 1.5l.4 1.6l.2 1.6l0 1.6l0 1.7l-.1 1.6l-.1 1.6l-.2 1.6l-.3 1.7l-.2 1.6l-.3 1.6l-.3 1.6l-.3 1.6l-.2 1.6l-.3 1.6l-.5 1.6l-.8 1.4l-1.1 1.1z" fill="none" stroke="#444" stroke-width="0.7" stroke-linejoin="round"/>
<path d="M62 162.4l-1.7-.1l-1.6-.3l-1.5-.5l-1.4-.9l-1-1.3l-.5-1.5l.1-1.7l.6-1.4l1.2-1.1l1.5-.8l1.6-.4l1.6-.2l1.6 .1l1.6 .5l1.3 .9l.8 1.4l.3 1.6l-.1 1.7l-.5 1.5l-1 1.3l-1.4 .9zM62 197.4l-1.7 .1l-1.5-.5l-1.2-1.1l-.7-1.4l-.2-1.6l-.1-1.7l0-1.6l.1-1.6l.1-1.7l.1-1.6l0-1.6l.1-1.6l0-1.7l.1-1.6l.2-1.6l.3-1.6l.7-1.5l1-1.3l1.4-.9l1.5-.5l1.6-.1l1.5 .7l.9 1.3l.6 1.5l.2 1.6l.1 1.7l0 1.6l-.2 1.6l-.2 1.6l-.3 1.6l-.3 1.6l-.4 1.6l-.4 1.6l-.3 1.6l-.2 1.6l-.3 1.6l-.4 1.6l-.8 1.4z" fill="none" stroke="#444" stroke-width="0.7" stroke-linejoin="round"/>
<path d="M62.7 160.5l-1.6 .1l-1.6-.2l-1.4-.7l-1.1-1.2l-.3-1.5l.5-1.5l1.2-1l1.5-.5l1.6-.2l1.6 .3l1.2 1l.6 1.5l-.1 1.6l-.8 1.4zM61.2 194.4l-1.4-.6l-.5-1.5l-.1-1.6l.1-1.6l.2-1.5l.1-1.6l0-1.6l-.1-1.6l-.2-1.6l0-1.6l.1-1.6l.2-1.6l.6-1.5l1.1-1.1l1.5-.6l1.6 .2l.9 1.2l.4 1.6l.1 1.6l-.1 1.6l-.2 1.6l-.4 1.5l-.5 1.5l-.7 1.5l-.6 1.5l-.3 1.5l-.2 1.6l-.2 1.6l-.4 1.6z" fill="none" stroke="#444" stroke-width="0.7" stroke-linejoin="round"/>
<path d="M61.7 158.9l-1.2-.1l-1.1-.7l-.3-1.1l.6-1.1l1.1-.4l1.2 0l1 .6l.3 1.2l-.5 1.1zM63.2 180.2l-.9-.3l-.3-1l0-1.1l.3-1l.8-.7l.9 .3l.3 1.1l0 1l-.3 1.1z" fill="none" stroke="#444" stroke-width="0.7" stroke-linejoin="round"/>
</g>
<clipPath id="a5"><rect x="131.4" y="119.65" width="101.25" height="101.04999999999998"/></clipPath>
<g clip-path="url(#a5)">
<path d="M132.7 170.1h0.65M133.5 188.7h0.65M133.8 180.2h0.65M134.7 151.0h0.65M134.9 158.3h0.65M135.4 152.9h0.65M135.9 161.2h0.65M137.0 173.6h0.65M137.5 146.2h0.65M137.7 142.2h0.65M137.8 147.1h0.65M137.8 174.3h0.65M137.8 155.0h0.65M138.5 155.4h0.65M138.7 163.2h0.65M138.9 152.9h0.65M139.1 146.2h0.65M139.4 153.4h0.65M139.4 164.0h0.65M139.4 143.4h0.65M139.7 207.9h0.65M139.9 155.9h0.65M140.7 152.8h0.65M140.9 156.3h0.65M141.0 158.4h0.65M141.0 187.0h0.65M141.1 163.4h0.65M141.2 162.1h0.65M141.6 172.1h0.65M141.6 160.4h0.65M141.6 149.2h0.65M141.7 121.8h0.65M141.9 152.0h0.65M142.1 155.8h0.65M142.1 164.1h0.65M142.2 146.6h0.65M142.2 170.1h0.65M142.3 166.8h0.65M142.4 173.3h0.65M142.4 149.4h0.65M142.4 175.4h0.65M142.5 153.2h0.65M142.6 149.0h0.65M142.9 153.4h0.65M143.0 154.9h0.65M143.1 166.2h0.65M143.2 158.0h0.65M143.3 170.5h0.65M143.4 162.1h0.65M143.7 155.0h0.65M143.8 167.4h0.65M144.0 153.5h0.65M144.1 158.5h0.65M144.1 173.2h0.65M144.1 212.0h0.65M144.3 160.9h0.65M144.7 159.1h0.65M144.7 169.4h0.65M144.7 157.2h0.65M144.7 163.8h0.65M144.8 166.9h0.65M144.8 162.0h0.65M144.8 149.1h0.65M144.9 166.3h0.65M144.9 173.0h0.65M144.9 165.4h0.65M145.0 163.3h0.65M145.1 152.8h0.65M145.2 147.0h0.65M145.2 147.5h0.65M145.3 164.5h0.65M145.4 145.2h0.65M145.4 162.7h0.65M145.4 155.6h0.65M145.5 212.8h0.65M146.0 150.5h0.65M146.0 185.9h0.65M146.1 151.1h0.65M146.1 213.5h0.65M146.2 174.0h0.65M146.2 149.8h0.65M146.4 160.6h0.65M146.4 149.1h0.65M146.5 154.8h0.65M146.5 173.9h0.65M146.6 143.9h0.65M146.7 156.4h0.65M146.7 162.9h0.65M146.7 158.1h0.65M146.7 143.8h0.65M146.9 163.3h0.65M146.9 163.9h0.65M147.0 167.0h0.65M147.1 146.4h0.65M147.2 152.3h0.65M147.3 161.1h0.65M147.3 146.8h0.65M147.3 169.7h0.65M147.4 156.0h0.65M147.4 156.2h0.65M147.4 201.1h0.65M147.4 152.6h0.65M147.4 141.3h0.65M147.5 147.2h0.65M147.5 170.2h0.65M147.5 158.9h0.65M147.6 163.7h0.65M147.6 205.1h0.65M147.7 182.9h0.65M147.7 157.9h0.65M147.8 160.9h0.65M147.8 167.0h0.65M147.8 158.8h0.65M147.9 152.6h0.65M147.9 150.4h0.65M148.1 206.7h0.65M148.1 180.6h0.65M148.2 151.2h0.65M148.2 161.0h0.65M148.3 150.0h0.65M148.4 177.3h0.65M148.5 190.1h0.65M148.5 161.5h0.65M148.5 210.0h0.65M148.6 166.6h0.65M148.6 148.5h0.65M148.7 184.1h0.65M148.7 163.8h0.65M148.8 145.2h0.65M148.9 145.9h0.65M149.0 169.2h0.65M149.1 181.5h0.65M149.1 146.5h0.65M149.1 170.4h0.65M149.1 201.2h0.65M149.2 169.5h0.65M149.2 164.9h0.65M149.2 148.3h0.65M149.2 194.3h0.65M149.3 186.0h0.65M149.3 148.9h0.65M149.3 145.9h0.65M149.4 185.0h0.65M149.4 164.0h0.65M149.5 186.1h0.65M149.5 146.2h0.65M149.5 187.8h0.65M149.6 148.9h0.65M149.7 147.6h0.65M149.8 165.9h0.65M149.8 163.7h0.65M149.9 173.0h0.65M149.9 148.8h0.65M150.0 147.9h0.65M150.1 167.2h0.65M150.1 190.0h0.65M150.2 148.8h0.65M150.3 165.7h0.65M150.3 142.7h0.65M150.4 185.2h0.65M150.4 173.2h0.65M150.5 166.2h0.65M150.6 175.1h0.65M150.6 170.5h0.65M150.8 169.2h0.65M150.9 199.7h0.65M150.9 175.3h0.65M150.9 194.6h0.65M150.9 147.5h0.65M151.0 167.7h0.65M151.0 167.8h0.65M151.0 190.2h0.65M151.1 183.4h0.65M151.1 145.2h0.65M151.1 182.9h0.65M151.2 166.3h0.65M151.2 139.8h0.65M151.2 175.6h0.65M151.3 170.0h0.65M151.4 166.4h0.65M151.4 171.3h0.65M151.4 168.2h0.65M151.4 170.4h0.65M151.5 169.7h0.65M151.5 179.0h0.65M151.6 170.4h0.65M151.6 146.5h0.65M151.6 166.2h0.65M151.6 167.5h0.65M151.7 188.4h0.65M151.7 180.0h0.65M151.7 168.0h0.65M151.7 212.1h0.65M151.7 147.5h0.65M151.8 144.5h0.65M151.8 167.8h0.65M151.8 171.0h0.65M151.9 184.8h0.65M151.9 168.2h0.65M151.9 144.6h0.65M151.9 191.6h0.65M152.0 171.5h0.65M152.1 190.2h0.65M152.1 172.0h0.65M152.1 146.9h0.65M152.2 174.9h0.65M152.2 210.1h0.65M152.2 145.7h0.65M152.5 146.2h0.65M152.5 194.5h0.65M152.6 170.0h0.65M152.6 172.6h0.65M152.6 140.1h0.65M152.6 197.6h0.65M152.7 144.9h0.65M152.7 171.2h0.65M152.7 183.5h0.65M152.7 169.3h0.65M152.7 179.9h0.65M152.8 170.6h0.65M152.9 209.7h0.65M153.0 169.4h0.65M153.0 179.0h0.65M153.2 184.5h0.65M153.2 177.1h0.65M153.3 179.5h0.65M153.3 182.7h0.65M153.3 141.9h0.65M153.3 183.0h0.65M153.4 171.4h0.65M153.6 189.7h0.65M153.6 171.3h0.65M153.7 173.2h0.65M153.7 177.4h0.65M153.8 201.5h0.65M154.0 144.8h0.65M154.1 191.8h0.65M154.2 186.8h0.65M154.2 184.7h0.65M154.2 144.9h0.65M154.2 178.2h0.65M154.2 181.3h0.65M154.2 184.8h0.65M154.2 179.4h0.65M154.3 177.9h0.65M154.3 183.8h0.65M154.3 204.1h0.65M154.4 190.6h0.65M154.4 188.7h0.65M154.7 182.9h0.65M154.7 185.7h0.65M154.7 182.9h0.65M154.8 145.6h0.65M154.8 142.5h0.65M154.8 145.5h0.65M154.9 188.6h0.65M155.0 194.4h0.65M155.0 143.2h0.65M155.1 186.9h0.65M155.1 190.4h0.65M155.2 186.5h0.65M155.3 144.9h0.65M155.3 189.3h0.65M155.4 143.1h0.65M155.6 201.4h0.65M155.8 189.9h0.65M155.8 141.1h0.65M155.8 192.1h0.65M155.9 199.1h0.65M156.1 142.8h0.65M156.1 195.4h0.65M156.1 195.8h0.65M156.2 142.4h0.65M156.3 189.8h0.65M156.3 190.9h0.65M156.4 192.9h0.65M156.5 200.2h0.65M156.5 137.4h0.65M156.5 144.6h0.65M157.0 212.7h0.65M157.0 192.7h0.65M157.2 192.7h0.65M157.2 198.0h0.65M157.4 144.9h0.65M157.4 194.5h0.65M157.4 139.4h0.65M157.4 141.7h0.65M157.4 194.3h0.65M157.6 194.0h0.65M157.7 192.1h0.65M157.7 197.4h0.65M157.8 201.2h0.65M157.8 141.7h0.65M158.0 206.4h0.65M158.3 193.6h0.65M158.3 193.3h0.65M158.3 219.6h0.65M158.5 195.5h0.65M158.5 197.0h0.65M158.6 143.2h0.65M158.6 199.0h0.65M158.6 194.8h0.65M158.7 198.3h0.65M158.7 193.9h0.65M158.7 213.4h0.65M158.9 196.9h0.65M159.1 142.4h0.65M159.1 208.8h0.65M159.2 199.2h0.65M159.2 197.2h0.65M159.2 196.2h0.65M159.3 144.5h0.65M159.4 208.4h0.65M159.5 203.3h0.65M159.6 142.2h0.65M159.6 210.6h0.65M159.7 202.5h0.65M159.8 196.8h0.65M159.8 137.3h0.65M159.9 199.5h0.65M159.9 144.4h0.65M159.9 134.3h0.65M159.9 199.7h0.65M159.9 144.4h0.65M160.0 143.7h0.65M160.1 201.1h0.65M160.1 206.0h0.65M160.2 203.5h0.65M160.3 142.6h0.65M160.4 143.1h0.65M160.4 198.8h0.65M160.4 198.4h0.65M160.5 211.3h0.65M160.7 204.0h0.65M160.7 140.9h0.65M160.8 198.8h0.65M160.8 140.7h0.65M160.8 205.7h0.65M160.9 138.6h0.65M161.3 143.1h0.65M161.3 137.3h0.65M161.4 200.5h0.65M161.4 141.5h0.65M161.4 209.2h0.65M161.4 200.3h0.65M161.4 212.0h0.65M161.4 141.7h0.65M161.5 139.5h0.65M161.5 206.2h0.65M161.6 143.8h0.65M161.6 205.4h0.65M161.6 202.3h0.65M161.7 143.8h0.65M161.8 204.1h0.65M161.9 142.4h0.65M162.0 203.6h0.65M162.1 132.5h0.65M162.2 142.0h0.65M162.4 142.5h0.65M162.6 201.8h0.65M162.6 211.3h0.65M162.6 202.9h0.65M162.8 131.1h0.65M162.9 204.5h0.65M163.0 141.4h0.65M163.1 204.4h0.65M163.2 202.3h0.65M163.2 204.8h0.65M163.2 143.0h0.65M163.3 212.3h0.65M163.3 203.0h0.65M163.5 143.8h0.65M163.6 208.8h0.65M163.6 204.9h0.65M163.7 140.9h0.65M163.9 210.2h0.65M164.0 138.9h0.65M164.0 138.2h0.65M164.5 143.4h0.65M164.5 206.3h0.65M164.6 204.7h0.65M164.6 207.3h0.65M164.8 220.6h0.65M164.8 212.7h0.65M165.0 142.5h0.65M165.1 128.0h0.65M165.2 139.6h0.65M165.4 204.4h0.65M165.4 203.9h0.65M165.4 140.1h0.65M165.6 141.7h0.65M165.6 210.2h0.65M165.9 205.7h0.65M166.1 211.1h0.65M166.1 139.0h0.65M166.4 204.8h0.65M166.6 138.2h0.65M166.8 205.7h0.65M166.8 143.0h0.65M167.4 144.3h0.65M167.7 143.7h0.65M167.8 144.0h0.65M167.8 204.7h0.65M168.2 206.9h0.65M168.5 205.7h0.65M168.6 209.4h0.65M168.6 141.9h0.65M168.7 144.6h0.65M168.7 130.2h0.65M168.8 142.6h0.65M169.2 207.6h0.65M169.3 206.6h0.65M169.3 217.5h0.65M169.4 205.5h0.65M169.6 141.5h0.65M169.7 145.4h0.65M169.8 208.4h0.65M170.1 205.3h0.65M170.1 137.1h0.65M170.1 145.2h0.65M170.2 142.6h0.65M170.2 144.6h0.65M170.4 141.6h0.65M170.6 209.3h0.65M170.6 143.0h0.65M170.6 139.5h0.65M170.9 144.9h0.65M171.1 204.8h0.65M171.1 206.0h0.65M171.1 141.4h0.65M171.3 146.9h0.65M171.3 146.8h0.65M171.3 207.1h0.65M171.4 136.5h0.65M171.6 206.8h0.65M171.7 143.5h0.65M171.7 211.5h0.65M171.8 144.3h0.65M171.9 146.2h0.65M171.9 209.0h0.65M171.9 207.7h0.65M172.1 211.7h0.65M172.2 216.6h0.65M172.2 204.9h0.65M172.4 145.4h0.65M172.4 145.9h0.65M172.5 143.8h0.65M172.7 147.9h0.65M172.8 211.7h0.65M172.8 140.4h0.65M173.0 205.9h0.65M173.0 133.3h0.65M173.1 149.2h0.65M173.2 148.9h0.65M173.3 203.9h0.65M173.3 126.8h0.65M173.3 210.3h0.65M173.5 208.7h0.65M173.7 149.3h0.65M174.0 142.0h0.65M174.0 151.8h0.65M174.2 137.0h0.65M174.2 143.9h0.65M174.3 215.1h0.65M174.3 148.0h0.65M174.4 140.6h0.65M174.4 149.8h0.65M174.4 145.3h0.65M174.4 156.9h0.65M174.5 150.2h0.65M174.5 155.4h0.65M174.5 219.6h0.65M174.6 160.0h0.65M174.7 205.0h0.65M174.7 204.1h0.65M174.7 155.5h0.65M174.7 161.7h0.65M174.8 148.3h0.65M174.8 155.4h0.65M174.8 164.5h0.65M174.9 152.4h0.65M174.9 141.9h0.65M175.0 162.0h0.65M175.0 161.0h0.65M175.0 154.0h0.65M175.1 167.5h0.65M175.1 160.9h0.65M175.1 152.5h0.65M175.2 163.0h0.65M175.2 165.7h0.65M175.2 163.7h0.65M175.3 219.3h0.65M175.3 217.2h0.65M175.3 210.3h0.65M175.4 154.6h0.65M175.4 161.4h0.65M175.4 157.8h0.65M175.4 143.8h0.65M175.5 165.0h0.65M175.5 169.0h0.65M175.6 162.7h0.65M175.7 164.2h0.65M175.7 153.8h0.65M175.8 202.5h0.65M175.9 150.5h0.65M176.0 159.5h0.65M176.3 154.2h0.65M176.3 165.8h0.65M176.3 153.8h0.65M176.4 160.8h0.65M176.4 153.4h0.65M176.4 169.1h0.65M176.4 157.7h0.65M176.5 204.7h0.65M176.5 155.6h0.65M176.5 144.5h0.65M176.5 157.7h0.65M176.6 165.3h0.65M176.6 154.5h0.65M176.7 165.4h0.65M176.7 213.9h0.65M176.7 166.4h0.65M176.8 165.2h0.65M176.8 157.2h0.65M176.8 158.5h0.65M176.9 158.7h0.65M177.1 163.7h0.65M177.3 141.3h0.65M177.4 205.0h0.65M177.5 200.1h0.65M177.5 146.2h0.65M177.5 164.3h0.65M177.8 160.9h0.65M177.8 210.2h0.65M177.8 157.6h0.65M177.9 142.7h0.65M178.2 167.3h0.65M178.3 209.3h0.65M178.3 203.1h0.65M178.3 126.6h0.65M178.5 162.7h0.65M178.6 148.7h0.65M178.7 203.8h0.65M178.9 150.7h0.65M179.0 156.0h0.65M179.3 165.2h0.65M179.4 164.3h0.65M179.5 203.1h0.65M179.5 167.2h0.65M179.7 149.6h0.65M179.7 161.6h0.65M179.8 203.7h0.65M179.8 148.9h0.65M179.8 162.0h0.65M180.0 211.7h0.65M180.0 170.9h0.65M180.6 152.7h0.65M180.7 203.1h0.65M180.7 215.1h0.65M180.9 163.4h0.65M180.9 170.6h0.65M180.9 169.0h0.65M181.1 203.3h0.65M181.2 164.4h0.65M181.4 200.3h0.65M181.5 200.5h0.65M181.9 167.5h0.65M181.9 163.4h0.65M182.0 150.4h0.65M182.2 201.2h0.65M182.3 163.9h0.65M182.3 168.5h0.65M182.4 170.4h0.65M182.5 160.0h0.65M182.5 208.7h0.65M182.7 169.3h0.65M182.9 197.3h0.65M183.1 201.2h0.65M183.4 211.1h0.65M183.7 172.1h0.65M183.9 158.6h0.65M184.0 157.2h0.65M184.2 162.6h0.65M184.2 189.4h0.65M184.3 161.8h0.65M184.5 206.0h0.65M185.0 170.0h0.65M185.2 198.8h0.65M185.2 199.0h0.65M185.6 190.1h0.65M185.7 195.5h0.65M185.7 211.3h0.65M185.8 198.2h0.65M186.1 167.3h0.65M186.1 164.7h0.65M186.2 207.5h0.65M186.3 211.4h0.65M186.4 190.1h0.65M186.4 193.4h0.65M186.5 209.7h0.65M186.5 181.6h0.65M186.5 165.0h0.65M186.6 200.5h0.65M186.7 173.9h0.65M186.8 216.4h0.65M187.4 162.2h0.65M187.4 193.4h0.65M187.5 168.2h0.65M187.5 171.7h0.65M187.7 200.3h0.65M187.7 205.3h0.65M187.7 203.6h0.65M187.8 203.7h0.65M187.8 167.0h0.65M187.9 196.1h0.65M187.9 193.2h0.65M188.1 175.3h0.65M188.2 173.0h0.65M188.2 148.9h0.65M188.2 182.4h0.65M188.3 185.9h0.65M188.3 170.7h0.65M188.6 184.3h0.65M188.7 160.4h0.65M188.9 173.3h0.65M189.0 159.3h0.65M189.0 176.1h0.65M189.0 163.9h0.65M189.0 196.3h0.65M189.0 162.7h0.65M189.1 183.0h0.65M189.2 159.2h0.65M189.3 192.0h0.65M189.5 198.2h0.65M189.6 177.7h0.65M189.6 187.9h0.65M189.6 179.9h0.65M189.6 203.2h0.65M189.7 190.8h0.65M189.8 183.0h0.65M189.9 173.0h0.65M189.9 161.5h0.65M190.0 196.0h0.65M190.0 197.0h0.65M190.0 175.5h0.65M190.1 161.6h0.65M190.2 171.0h0.65M190.2 195.9h0.65M190.2 183.3h0.65M190.2 175.7h0.65M190.3 199.7h0.65M190.3 178.5h0.65M190.3 165.2h0.65M190.4 190.8h0.65M190.4 177.3h0.65M190.4 173.5h0.65M190.4 202.6h0.65M190.7 169.9h0.65M190.7 195.9h0.65M190.8 176.0h0.65M190.8 189.1h0.65M190.9 193.7h0.65M190.9 197.1h0.65M190.9 192.6h0.65M190.9 183.3h0.65M191.0 201.8h0.65M191.1 181.9h0.65M191.1 170.1h0.65M191.2 192.9h0.65M191.2 180.3h0.65M191.2 192.2h0.65M191.2 211.2h0.65M191.3 184.9h0.65M191.3 190.0h0.65M191.3 172.8h0.65M191.4 198.4h0.65M191.4 185.7h0.65M191.4 181.1h0.65M191.5 212.8h0.65M191.5 182.4h0.65M191.6 190.3h0.65M191.6 201.1h0.65M191.8 198.0h0.65M191.8 200.8h0.65M191.9 176.2h0.65M191.9 156.3h0.65M191.9 209.0h0.65M192.0 189.4h0.65M192.1 177.6h0.65M192.1 159.5h0.65M192.3 179.9h0.65M192.3 191.7h0.65M192.4 171.4h0.65M192.4 184.5h0.65M192.4 201.3h0.65M192.4 176.0h0.65M192.5 185.1h0.65M192.5 168.5h0.65M192.7 192.9h0.65M192.8 193.4h0.65M192.9 195.8h0.65M192.9 157.2h0.65M192.9 189.0h0.65M193.0 162.0h0.65M193.0 198.8h0.65M193.0 166.1h0.65M193.1 163.3h0.65M193.1 188.5h0.65M193.2 177.0h0.65M193.2 204.7h0.65M193.2 169.1h0.65M193.3 208.8h0.65M193.3 162.4h0.65M193.3 169.2h0.65M193.3 174.2h0.65M193.3 185.2h0.65M193.4 183.5h0.65M193.4 199.7h0.65M193.5 171.5h0.65M193.5 194.9h0.65M193.5 176.0h0.65M193.6 188.6h0.65M193.7 203.2h0.65M193.8 206.1h0.65M193.8 179.0h0.65M194.0 180.3h0.65M194.0 165.2h0.65M194.1 183.4h0.65M194.1 170.3h0.65M194.1 173.4h0.65M194.2 206.3h0.65M194.2 171.0h0.65M194.3 183.2h0.65M194.3 135.9h0.65M194.5 167.1h0.65M194.5 186.5h0.65M194.5 193.1h0.65M194.5 186.5h0.65M194.6 184.7h0.65M194.6 190.0h0.65M194.6 146.6h0.65M194.7 187.4h0.65M194.8 167.3h0.65M194.9 183.4h0.65M195.0 202.9h0.65M195.1 161.4h0.65M195.1 192.4h0.65M195.1 185.4h0.65M195.1 179.9h0.65M195.2 183.2h0.65M195.4 144.6h0.65M195.5 186.5h0.65M195.6 180.7h0.65M195.6 171.5h0.65M195.6 152.9h0.65M195.7 205.1h0.65M195.9 174.4h0.65M196.0 169.0h0.65M196.0 197.3h0.65M196.1 158.6h0.65M196.1 189.7h0.65M196.1 183.9h0.65M196.2 175.6h0.65M196.2 184.1h0.65M196.2 188.2h0.65M196.2 175.6h0.65M196.3 198.5h0.65M196.3 197.5h0.65M196.4 170.3h0.65M196.4 192.0h0.65M196.5 172.9h0.65M196.5 205.4h0.65M196.6 192.3h0.65M196.7 172.6h0.65M196.7 175.7h0.65M196.8 178.4h0.65M196.8 188.2h0.65M196.8 177.4h0.65M196.8 188.4h0.65M196.8 181.4h0.65M196.9 180.7h0.65M196.9 176.1h0.65M196.9 185.3h0.65M197.0 174.3h0.65M197.0 172.2h0.65M197.0 184.9h0.65M197.1 180.6h0.65M197.1 188.1h0.65M197.2 179.7h0.65M197.2 202.4h0.65M197.4 188.2h0.65M197.4 201.0h0.65M197.5 208.0h0.65M197.5 197.1h0.65M197.8 199.2h0.65M197.8 203.1h0.65M197.9 191.9h0.65M198.0 202.8h0.65M198.2 172.1h0.65M198.3 186.5h0.65M198.3 150.6h0.65M198.4 192.5h0.65M198.4 175.9h0.65M198.5 193.0h0.65M198.5 194.3h0.65M198.5 173.5h0.65M198.5 212.4h0.65M198.5 171.6h0.65M198.7 202.1h0.65M198.7 174.5h0.65M198.7 190.6h0.65M199.0 202.4h0.65M199.1 183.4h0.65M199.1 198.2h0.65M199.2 194.8h0.65M199.8 198.6h0.65M199.9 187.9h0.65M200.3 200.1h0.65M200.4 200.5h0.65M200.5 183.0h0.65M201.3 187.3h0.65M201.4 189.9h0.65M201.5 190.3h0.65M201.5 167.5h0.65M201.6 160.0h0.65M201.8 199.0h0.65M201.9 193.4h0.65M202.0 209.9h0.65M202.4 177.3h0.65M202.7 193.1h0.65M202.7 199.0h0.65M202.8 164.3h0.65M202.8 191.0h0.65M203.1 166.8h0.65M203.4 193.0h0.65M203.7 192.7h0.65M203.9 182.1h0.65M204.0 180.4h0.65M204.0 215.2h0.65M204.8 172.5h0.65M205.1 204.8h0.65M205.1 185.5h0.65M206.8 183.1h0.65M207.4 142.9h0.65M207.7 187.6h0.65M207.8 185.3h0.65M208.0 194.5h0.65M208.3 171.7h0.65M210.1 206.6h0.65M210.3 175.2h0.65M210.5 163.4h0.65M211.0 160.2h0.65M214.3 174.6h0.65M216.0 186.2h0.65M221.0 194.9h0.65" stroke="#333" stroke-width="0.65" fill="none"/>
<path d="M171.2 204.7l-2.8-.1l-2.7-.7l-2.3-1.5l-1.7-2.2l-1.2-2.5l-1-2.6l-1.2-2.5l-1.3-2.5l-1-2.5l-.8-2.7l-.6-2.7l-.3-2.7l-.2-2.8l-.1-2.8l-.3-2.7l-.8-2.7l-1.3-2.4l-1.4-2.4l-1.2-2.5l-.7-2.7l-.3-2.8l.1-2.7l1-2.6l1.8-2.1l2.2-1.7l2.5-1.1l2.7-.8l2.7-.4l2.8-.2l2.8 .2l2.6 .9l2.2 1.7l1.5 2.3l1 2.6l.4 2.7l.1 2.8l.1 2.8l.1 2.7l.2 2.8l.6 2.7l1.3 2.4l2.7 .5l2.8 .4l2.5 1.2l2 1.9l1.5 2.3l1.1 2.6l.6 2.7l.2 2.7l0 2.8l-.5 2.8l-.8 2.6l-1.4 2.4l-2 1.9l-2.4 1.4l-2.7 .6l-2.7 .2l-2.2 1.7l-1.8 2z" fill="#fff" stroke="#222" stroke-width="0.85" stroke-linejoin="round"/>
<path d="M170.6 202.7l-2.2-.1l-2.2-.7l-1.7-1.4l-1.2-1.9l-.7-2.2l-.6-2.2l-.7-2.1l-1-2.1l-1-2l-.9-2.1l-.7-2.1l-.5-2.2l-.4-2.3l-.2-2.2l0-2.3l-.1-2.3l-.2-2.2l-.5-2.3l-.9-2l-1.2-1.9l-1.2-2l-.9-2.1l-.5-2.2l-.3-2.2l.2-2.3l.8-2.1l1.4-1.8l1.8-1.3l2.1-1l2.2-.6l2.2-.3l2.3-.2l2.2 .1l2.2 .7l1.8 1.4l1.4 1.8l.8 2.1l.3 2.3l.1 2.2l.1 2.3l0 2.3l0 2.2l.1 2.3l.2 2.3l.2 2.2l.1 2.3l.2 2.3l.2 2.2l.1 2.3l.2 2.3l.2 2.2l.2 2.3l.2 2.3l.1 2.2l-.1 2.3l-.1 2.3l-.2 2.2l-.6 2.2l-1.1 1.9z" fill="none" stroke="#444" stroke-width="0.7" stroke-linejoin="round"/>
<path d="M170.6 200.5l-2 0l-1.8-.8l-1.3-1.6l-.6-1.9l-.3-2.1l-.4-2l-.5-2l-.8-1.9l-.9-1.8l-.9-1.8l-.8-1.9l-.5-2l-.4-2l-.2-2.1l0-2l0-2.1l0-2l-.2-2.1l-.5-2l-1-1.8l-1.2-1.7l-1.1-1.7l-.8-1.9l-.5-2l-.2-2l.2-2l.9-1.9l1.5-1.4l1.8-1l1.9-.6l2-.4l2.1-.1l2 .2l1.9 .8l1.4 1.4l1 1.9l.4 2l.2 2l0 2.1l-.1 2l0 2.1l0 2l.2 2.1l.2 2l.1 2.1l.2 2l.1 2.1l0 2l0 2.1l0 2l.1 2.1l.1 2l.3 2.1l.3 2l.2 2l.1 2.1l0 2l-.1 2.1l-.6 1.9z" fill="none" stroke="#444" stroke-width="0.7" stroke-linejoin="round"/>
<path d="M170.2 198l-1.8-.4l-.8-1.6l-.3-1.8l0-1.8l0-1.9l-.1-1.8l-.6-1.7l-.9-1.6l-1.1-1.5l-1-1.5l-.8-1.7l-.5-1.7l-.3-1.9l-.1-1.8l0-1.8l.1-1.9l.1-1.8l.1-1.8l-.3-1.8l-.8-1.7l-1.1-1.4l-1.2-1.4l-1.1-1.5l-.8-1.7l-.4-1.8l-.1-1.8l.4-1.8l1-1.4l1.6-1l1.7-.7l1.8-.3l1.8 0l1.8 .4l1.5 1.1l.9 1.6l.4 1.8l.1 1.8l-.1 1.9l-.1 1.8l-.2 1.8l-.1 1.9l.1 1.8l.3 1.8l.3 1.8l.2 1.9l.2 1.8l0 1.8l0 1.9l0 1.8l-.1 1.8l-.2 1.9l-.2 1.8l-.2 1.8l.1 1.9l.6 1.7l.6 1.7l.4 1.8l.1 1.8l-.1 1.9z" fill="none" stroke="#444" stroke-width="0.7" stroke-linejoin="round"/>
<path d="M165.6 162.4l-1.5-.1l-1.5-.7l-1.3-1l-1.1-1.1l-.8-1.4l-.5-1.6l-.1-1.6l.5-1.5l1.1-1.1l1.5-.7l1.6-.3l1.6 .1l1.4 .7l1 1.3l.3 1.6l.1 1.6l-.1 1.6l-.4 1.6l-.6 1.5zM167.4 178.7l-1.4-.5l-.7-1.5l-.2-1.5l.1-1.6l.5-1.6l1.3-.8l.9 1.3l.2 1.6l.1 1.6l-.2 1.6z" fill="none" stroke="#444" stroke-width="0.7" stroke-linejoin="round"/>
<path d="M165.2 159.2l-1.6-.1l-1.4-.8l-.9-1.3l-.3-1.6l.4-1.5l1.4-.9l1.5-.2l1.5 .6l.6 1.4l.1 1.6l-.3 1.6z" fill="none" stroke="#444" stroke-width="0.7" stroke-linejoin="round"/>
</g>
<clipPath id="a6"><rect x="232.65" y="119.65" width="102.35" height="101.04999999999998"/></clipPath>
<g clip-path="url(#a6)">
<path d="M233.8 205.4h0.65M237.7 157.7h0.65M238.4 171.8h0.65M239.1 162.9h0.65M239.9 171.3h0.65M240.0 194.6h0.65M240.0 191.4h0.65M240.1 166.6h0.65M240.4 174.9h0.65M240.5 206.0h0.65M240.7 166.6h0.65M240.9 179.6h0.65M241.1 153.2h0.65M241.2 174.0h0.65M241.7 165.3h0.65M241.7 167.4h0.65M242.0 166.2h0.65M242.4 173.3h0.65M242.6 187.4h0.65M242.7 179.9h0.65M243.0 177.2h0.65M243.2 154.0h0.65M243.2 192.9h0.65M243.5 161.0h0.65M243.6 180.6h0.65M243.7 161.0h0.65M243.8 179.4h0.65M244.0 161.6h0.65M244.1 179.3h0.65M244.1 159.8h0.65M244.2 160.1h0.65M244.3 180.2h0.65M244.3 188.3h0.65M244.5 162.9h0.65M244.6 182.8h0.65M244.6 190.8h0.65M244.7 175.8h0.65M244.8 182.5h0.65M244.8 189.9h0.65M244.8 186.6h0.65M244.9 162.7h0.65M245.0 188.4h0.65M245.0 157.5h0.65M245.0 173.4h0.65M245.1 176.3h0.65M245.1 194.2h0.65M245.1 194.8h0.65M245.3 161.2h0.65M245.4 195.4h0.65M245.4 217.9h0.65M245.4 166.2h0.65M245.5 167.1h0.65M245.5 177.9h0.65M245.5 183.8h0.65M245.8 165.3h0.65M245.8 160.4h0.65M245.9 175.2h0.65M246.0 177.0h0.65M246.0 177.0h0.65M246.0 165.6h0.65M246.0 167.9h0.65M246.1 190.7h0.65M246.1 167.0h0.65M246.2 188.6h0.65M246.3 183.9h0.65M246.3 192.1h0.65M246.3 184.8h0.65M246.3 175.6h0.65M246.4 176.5h0.65M246.4 173.3h0.65M246.4 197.3h0.65M246.4 149.3h0.65M246.5 173.5h0.65M246.5 167.5h0.65M246.5 191.9h0.65M246.5 190.0h0.65M246.5 172.9h0.65M246.5 147.0h0.65M246.6 170.0h0.65M246.6 145.8h0.65M246.6 182.1h0.65M246.7 190.5h0.65M246.7 177.0h0.65M246.8 159.6h0.65M246.8 157.4h0.65M246.8 160.5h0.65M247.1 167.2h0.65M247.4 183.7h0.65M247.4 175.7h0.65M247.5 164.1h0.65M247.5 165.4h0.65M247.5 181.1h0.65M247.6 147.1h0.65M247.6 178.9h0.65M247.7 169.4h0.65M247.7 180.5h0.65M247.7 170.0h0.65M247.8 178.1h0.65M247.8 161.4h0.65M247.8 174.5h0.65M247.9 176.2h0.65M247.9 179.8h0.65M248.0 156.9h0.65M248.0 174.0h0.65M248.1 178.5h0.65M248.1 169.1h0.65M248.1 171.0h0.65M248.2 167.0h0.65M248.2 178.2h0.65M248.2 165.6h0.65M248.3 166.8h0.65M248.3 167.3h0.65M248.3 171.1h0.65M248.3 185.1h0.65M248.3 164.7h0.65M248.4 180.8h0.65M248.4 166.0h0.65M248.4 190.4h0.65M248.4 174.1h0.65M248.4 165.3h0.65M248.5 163.5h0.65M248.6 159.9h0.65M248.6 180.8h0.65M248.6 173.1h0.65M248.6 162.5h0.65M248.6 166.8h0.65M248.6 158.1h0.65M248.7 171.4h0.65M248.7 179.2h0.65M248.7 193.6h0.65M248.8 184.8h0.65M248.8 156.1h0.65M248.8 180.1h0.65M248.8 170.3h0.65M248.9 174.7h0.65M248.9 175.7h0.65M248.9 191.1h0.65M248.9 193.0h0.65M248.9 175.3h0.65M249.0 183.5h0.65M249.0 163.1h0.65M249.0 180.9h0.65M249.0 179.9h0.65M249.1 163.3h0.65M249.1 162.9h0.65M249.1 165.3h0.65M249.1 179.6h0.65M249.1 173.5h0.65M249.2 170.0h0.65M249.2 179.5h0.65M249.2 172.1h0.65M249.3 164.0h0.65M249.3 173.2h0.65M249.3 197.7h0.65M249.3 171.7h0.65M249.3 163.2h0.65M249.3 177.7h0.65M249.3 190.8h0.65M249.4 171.4h0.65M249.4 174.7h0.65M249.4 192.8h0.65M249.4 192.4h0.65M249.4 198.3h0.65M249.4 191.3h0.65M249.5 173.4h0.65M249.5 186.3h0.65M249.5 191.0h0.65M249.5 200.2h0.65M249.5 172.5h0.65M249.6 148.9h0.65M249.6 179.5h0.65M249.6 172.2h0.65M249.6 209.4h0.65M249.7 174.1h0.65M249.7 185.8h0.65M249.7 170.8h0.65M249.7 178.6h0.65M249.7 159.5h0.65M249.7 168.0h0.65M249.7 181.6h0.65M249.7 167.3h0.65M249.8 177.8h0.65M249.8 197.7h0.65M249.8 172.6h0.65M249.9 160.3h0.65M249.9 176.1h0.65M249.9 177.3h0.65M249.9 163.4h0.65M249.9 176.1h0.65M250.0 170.4h0.65M250.0 171.2h0.65M250.0 177.8h0.65M250.0 167.4h0.65M250.0 176.8h0.65M250.0 163.9h0.65M250.0 168.9h0.65M250.1 170.7h0.65M250.1 169.8h0.65M250.1 161.7h0.65M250.1 198.6h0.65M250.1 189.6h0.65M250.2 190.6h0.65M250.2 187.8h0.65M250.2 190.2h0.65M250.2 176.0h0.65M250.2 160.1h0.65M250.3 173.0h0.65M250.3 188.9h0.65M250.3 178.6h0.65M250.3 157.5h0.65M250.3 190.1h0.65M250.3 208.0h0.65M250.3 162.3h0.65M250.3 177.2h0.65M250.3 172.7h0.65M250.4 199.3h0.65M250.4 169.2h0.65M250.4 186.3h0.65M250.4 165.7h0.65M250.4 187.5h0.65M250.4 169.3h0.65M250.5 177.0h0.65M250.5 188.3h0.65M250.5 184.4h0.65M250.5 198.1h0.65M250.6 208.1h0.65M250.6 149.8h0.65M250.6 177.4h0.65M250.6 165.4h0.65M250.6 186.5h0.65M250.6 166.6h0.65M250.6 159.9h0.65M250.6 196.6h0.65M250.7 186.3h0.65M250.7 193.5h0.65M250.7 183.4h0.65M250.7 196.2h0.65M250.7 200.3h0.65M250.7 181.8h0.65M250.7 200.6h0.65M250.7 175.9h0.65M250.7 175.7h0.65M250.8 178.6h0.65M250.8 201.3h0.65M250.8 200.6h0.65M250.8 182.6h0.65M250.8 173.7h0.65M250.8 172.2h0.65M250.8 187.4h0.65M250.8 168.5h0.65M250.9 156.8h0.65M250.9 193.0h0.65M250.9 182.3h0.65M250.9 189.4h0.65M250.9 161.1h0.65M251.0 194.2h0.65M251.0 175.5h0.65M251.0 182.5h0.65M251.0 184.1h0.65M251.1 188.2h0.65M251.1 187.1h0.65M251.1 163.9h0.65M251.1 201.5h0.65M251.2 174.9h0.65M251.2 182.4h0.65M251.2 168.4h0.65M251.2 166.9h0.65M251.2 165.5h0.65M251.2 187.3h0.65M251.2 174.6h0.65M251.2 166.1h0.65M251.2 202.9h0.65M251.2 186.3h0.65M251.3 194.8h0.65M251.3 202.7h0.65M251.3 198.4h0.65M251.3 179.3h0.65M251.3 165.6h0.65M251.3 173.3h0.65M251.3 182.4h0.65M251.4 152.2h0.65M251.4 160.6h0.65M251.4 200.7h0.65M251.4 165.1h0.65M251.4 184.3h0.65M251.4 186.2h0.65M251.4 156.0h0.65M251.4 167.6h0.65M251.4 169.7h0.65M251.4 160.8h0.65M251.5 186.5h0.65M251.5 174.7h0.65M251.5 174.9h0.65M251.5 155.2h0.65M251.5 183.0h0.65M251.6 170.9h0.65M251.6 165.5h0.65M251.6 176.9h0.65M251.6 163.7h0.65M251.6 193.7h0.65M251.6 159.1h0.65M251.6 198.5h0.65M251.6 199.6h0.65M251.6 179.5h0.65M251.6 184.6h0.65M251.6 174.7h0.65M251.6 149.2h0.65M251.6 175.0h0.65M251.7 154.2h0.65M251.7 185.5h0.65M251.7 163.2h0.65M251.7 168.2h0.65M251.7 194.7h0.65M251.7 181.0h0.65M251.7 167.4h0.65M251.7 194.7h0.65M251.7 196.7h0.65M251.7 174.6h0.65M251.7 161.3h0.65M251.7 187.5h0.65M251.8 180.4h0.65M251.8 216.7h0.65M251.8 197.5h0.65M251.8 167.9h0.65M251.8 174.4h0.65M251.9 164.1h0.65M251.9 180.8h0.65M251.9 152.9h0.65M251.9 191.1h0.65M251.9 176.5h0.65M251.9 204.8h0.65M251.9 163.4h0.65M251.9 154.8h0.65M251.9 196.5h0.65M251.9 201.8h0.65M251.9 171.7h0.65M251.9 163.6h0.65M251.9 195.4h0.65M251.9 185.4h0.65M251.9 157.5h0.65M251.9 168.7h0.65M252.0 180.3h0.65M252.0 166.7h0.65M252.0 166.7h0.65M252.0 174.6h0.65M252.0 178.1h0.65M252.0 175.9h0.65M252.0 184.9h0.65M252.1 162.0h0.65M252.1 193.7h0.65M252.1 180.4h0.65M252.1 176.2h0.65M252.1 210.6h0.65M252.1 175.5h0.65M252.1 177.0h0.65M252.1 189.3h0.65M252.1 174.1h0.65M252.1 158.4h0.65M252.1 154.4h0.65M252.2 188.0h0.65M252.2 156.2h0.65M252.2 192.2h0.65M252.2 168.3h0.65M252.2 185.8h0.65M252.2 152.0h0.65M252.2 162.4h0.65M252.2 169.4h0.65M252.2 185.8h0.65M252.2 160.4h0.65M252.2 210.5h0.65M252.2 161.6h0.65M252.2 204.2h0.65M252.2 172.0h0.65M252.2 160.8h0.65M252.3 192.3h0.65M252.3 185.9h0.65M252.3 148.3h0.65M252.3 174.1h0.65M252.3 163.8h0.65M252.3 196.3h0.65M252.3 176.4h0.65M252.4 179.2h0.65M252.4 171.5h0.65M252.4 175.5h0.65M252.4 159.4h0.65M252.4 174.0h0.65M252.4 167.0h0.65M252.4 175.4h0.65M252.4 199.0h0.65M252.4 192.3h0.65M252.4 196.3h0.65M252.4 164.4h0.65M252.5 165.4h0.65M252.5 167.7h0.65M252.5 179.9h0.65M252.5 181.3h0.65M252.5 196.4h0.65M252.5 193.9h0.65M252.5 193.8h0.65M252.5 160.6h0.65M252.5 168.4h0.65M252.5 151.9h0.65M252.5 180.1h0.65M252.6 171.3h0.65M252.6 188.4h0.65M252.6 194.8h0.65M252.6 160.5h0.65M252.6 167.6h0.65M252.6 170.2h0.65M252.6 188.6h0.65M252.6 209.4h0.65M252.6 198.9h0.65M252.6 192.2h0.65M252.6 183.8h0.65M252.6 176.4h0.65M252.6 162.4h0.65M252.6 186.7h0.65M252.7 201.6h0.65M252.7 183.5h0.65M252.7 165.4h0.65M252.7 154.1h0.65M252.7 178.6h0.65M252.7 194.6h0.65M252.7 202.7h0.65M252.7 164.4h0.65M252.7 178.6h0.65M252.7 181.6h0.65M252.7 177.6h0.65M252.7 184.9h0.65M252.7 167.3h0.65M252.8 182.5h0.65M252.8 165.1h0.65M252.8 155.9h0.65M252.8 175.0h0.65M252.8 162.6h0.65M252.8 186.3h0.65M252.8 193.8h0.65M252.8 188.0h0.65M252.8 172.8h0.65M252.8 188.1h0.65M252.9 175.2h0.65M252.9 181.0h0.65M252.9 182.1h0.65M252.9 196.2h0.65M252.9 155.3h0.65M252.9 186.2h0.65M252.9 171.3h0.65M252.9 170.7h0.65M252.9 172.2h0.65M252.9 157.7h0.65M252.9 158.2h0.65M253.0 201.9h0.65M253.0 189.9h0.65M253.0 159.4h0.65M253.0 171.5h0.65M253.0 192.1h0.65M253.0 192.9h0.65M253.0 200.0h0.65M253.0 149.9h0.65M253.0 155.7h0.65M253.0 169.0h0.65M253.0 149.7h0.65M253.1 181.4h0.65M253.1 153.2h0.65M253.1 167.4h0.65M253.1 195.6h0.65M253.1 167.1h0.65M253.1 193.1h0.65M253.1 185.7h0.65M253.1 157.2h0.65M253.1 201.1h0.65M253.1 179.3h0.65M253.1 154.9h0.65M253.1 165.6h0.65M253.1 187.4h0.65M253.1 199.5h0.65M253.1 189.2h0.65M253.2 167.2h0.65M253.2 190.5h0.65M253.2 206.1h0.65M253.2 187.9h0.65M253.2 196.4h0.65M253.2 208.9h0.65M253.3 185.7h0.65M253.3 199.5h0.65M253.3 162.4h0.65M253.3 185.1h0.65M253.3 184.2h0.65M253.3 161.7h0.65M253.3 191.6h0.65M253.3 165.8h0.65M253.3 187.4h0.65M253.3 193.3h0.65M253.3 188.1h0.65M253.3 148.7h0.65M253.4 162.8h0.65M253.4 160.2h0.65M253.4 181.6h0.65M253.4 166.6h0.65M253.4 205.8h0.65M253.4 157.8h0.65M253.4 199.3h0.65M253.4 168.5h0.65M253.4 198.8h0.65M253.4 198.6h0.65M253.5 165.7h0.65M253.5 163.6h0.65M253.5 179.2h0.65M253.5 181.5h0.65M253.5 155.0h0.65M253.5 188.6h0.65M253.5 167.9h0.65M253.5 185.9h0.65M253.5 168.7h0.65M253.5 187.3h0.65M253.6 200.9h0.65M253.6 192.5h0.65M253.6 182.8h0.65M253.6 164.9h0.65M253.6 184.8h0.65M253.6 166.0h0.65M253.6 188.4h0.65M253.6 208.0h0.65M253.6 185.7h0.65M253.6 188.5h0.65M253.6 186.3h0.65M253.6 186.2h0.65M253.6 159.9h0.65M253.6 181.6h0.65M253.6 188.2h0.65M253.6 186.0h0.65M253.7 189.0h0.65M253.7 187.1h0.65M253.7 207.3h0.65M253.7 188.1h0.65M253.7 184.8h0.65M253.7 184.1h0.65M253.7 157.1h0.65M253.7 199.6h0.65M253.7 183.1h0.65M253.8 185.4h0.65M253.8 202.3h0.65M253.8 163.1h0.65M253.8 168.0h0.65M253.8 185.3h0.65M253.8 180.7h0.65M253.8 202.2h0.65M253.8 150.7h0.65M253.8 199.3h0.65M253.9 195.5h0.65M253.9 166.9h0.65M253.9 153.3h0.65M253.9 190.1h0.65M253.9 157.6h0.65M253.9 164.5h0.65M253.9 183.9h0.65M253.9 156.9h0.65M253.9 165.4h0.65M253.9 204.7h0.65M253.9 186.6h0.65M253.9 195.5h0.65M253.9 150.2h0.65M254.0 157.8h0.65M254.0 200.8h0.65M254.0 182.1h0.65M254.0 165.0h0.65M254.0 186.1h0.65M254.0 192.1h0.65M254.1 165.6h0.65M254.1 159.8h0.65M254.1 198.6h0.65M254.1 196.4h0.65M254.1 204.1h0.65M254.2 191.3h0.65M254.2 184.2h0.65M254.2 191.5h0.65M254.2 184.8h0.65M254.2 203.1h0.65M254.2 199.0h0.65M254.2 191.5h0.65M254.2 205.9h0.65M254.2 147.7h0.65M254.2 163.7h0.65M254.3 185.2h0.65M254.3 193.6h0.65M254.3 184.8h0.65M254.3 187.5h0.65M254.3 157.6h0.65M254.3 154.0h0.65M254.3 159.5h0.65M254.3 196.5h0.65M254.3 194.9h0.65M254.3 187.7h0.65M254.3 196.5h0.65M254.3 183.0h0.65M254.3 156.8h0.65M254.4 185.4h0.65M254.4 156.5h0.65M254.4 154.0h0.65M254.4 156.8h0.65M254.4 188.5h0.65M254.4 162.8h0.65M254.4 184.6h0.65M254.5 204.2h0.65M254.5 184.6h0.65M254.5 182.6h0.65M254.5 184.8h0.65M254.5 194.3h0.65M254.5 189.2h0.65M254.5 193.3h0.65M254.5 154.6h0.65M254.5 198.6h0.65M254.5 164.0h0.65M254.5 194.5h0.65M254.5 165.8h0.65M254.5 197.8h0.65M254.5 165.9h0.65M254.5 186.6h0.65M254.5 149.1h0.65M254.5 188.2h0.65M254.5 151.8h0.65M254.5 191.3h0.65M254.6 162.9h0.65M254.6 183.9h0.65M254.6 159.9h0.65M254.6 189.8h0.65M254.6 188.4h0.65M254.6 189.5h0.65M254.6 160.7h0.65M254.6 187.6h0.65M254.6 193.6h0.65M254.6 204.1h0.65M254.6 148.3h0.65M254.6 196.3h0.65M254.6 195.2h0.65M254.6 188.9h0.65M254.6 186.4h0.65M254.7 198.7h0.65M254.7 159.2h0.65M254.7 153.0h0.65M254.7 199.4h0.65M254.7 157.3h0.65M254.7 185.5h0.65M254.7 162.9h0.65M254.7 165.1h0.65M254.7 191.1h0.65M254.7 191.4h0.65M254.7 162.5h0.65M254.7 152.5h0.65M254.7 203.8h0.65M254.7 186.2h0.65M254.7 205.4h0.65M254.7 161.6h0.65M254.8 158.5h0.65M254.8 162.8h0.65M254.8 155.5h0.65M254.8 198.7h0.65M254.8 205.0h0.65M254.8 190.9h0.65M254.9 199.3h0.65M254.9 158.7h0.65M254.9 187.5h0.65M254.9 192.2h0.65M254.9 192.0h0.65M254.9 186.4h0.65M254.9 163.1h0.65M254.9 194.9h0.65M255.0 207.8h0.65M255.0 156.1h0.65M255.0 210.2h0.65M255.0 206.0h0.65M255.0 190.7h0.65M255.0 187.5h0.65M255.0 190.1h0.65M255.0 211.8h0.65M255.0 200.1h0.65M255.1 208.2h0.65M255.1 194.3h0.65M255.1 144.4h0.65M255.1 153.4h0.65M255.1 194.8h0.65M255.2 216.6h0.65M255.2 158.1h0.65M255.2 199.4h0.65M255.2 199.9h0.65M255.2 200.5h0.65M255.2 198.1h0.65M255.2 199.0h0.65M255.2 215.7h0.65M255.3 195.8h0.65M255.3 201.8h0.65M255.3 154.8h0.65M255.3 157.0h0.65M255.3 204.5h0.65M255.3 156.2h0.65M255.3 206.6h0.65M255.4 152.3h0.65M255.4 204.2h0.65M255.4 156.1h0.65M255.4 145.7h0.65M255.4 197.7h0.65M255.4 200.0h0.65M255.5 152.7h0.65M255.5 197.3h0.65M255.6 153.5h0.65M255.6 203.0h0.65M255.6 151.4h0.65M255.6 152.9h0.65M255.7 151.6h0.65M255.7 149.5h0.65M255.7 154.2h0.65M255.7 198.8h0.65M255.7 145.7h0.65M255.8 200.0h0.65M255.8 202.4h0.65M255.8 199.2h0.65M255.8 200.7h0.65M255.8 154.8h0.65M255.9 198.8h0.65M255.9 199.7h0.65M255.9 206.4h0.65M255.9 151.6h0.65M256.0 201.7h0.65M256.0 198.6h0.65M256.0 201.2h0.65M256.0 198.1h0.65M256.1 204.7h0.65M256.1 148.2h0.65M256.1 200.1h0.65M256.1 203.4h0.65M256.1 148.3h0.65M256.1 151.5h0.65M256.1 214.9h0.65M256.1 154.0h0.65M256.2 200.5h0.65M256.2 154.6h0.65M256.2 209.3h0.65M256.2 149.9h0.65M256.2 151.4h0.65M256.2 206.0h0.65M256.2 150.5h0.65M256.3 200.7h0.65M256.4 202.3h0.65M256.4 206.1h0.65M256.4 210.3h0.65M256.4 204.7h0.65M256.5 199.9h0.65M256.5 203.8h0.65M256.5 152.7h0.65M256.5 206.2h0.65M256.6 200.7h0.65M256.6 152.2h0.65M256.6 202.2h0.65M256.6 151.9h0.65M256.7 213.2h0.65M256.7 152.9h0.65M256.7 152.9h0.65M256.8 149.6h0.65M256.8 150.7h0.65M256.8 203.7h0.65M256.8 208.3h0.65M256.9 150.2h0.65M256.9 149.0h0.65M256.9 204.4h0.65M256.9 205.7h0.65M256.9 149.1h0.65M256.9 203.6h0.65M256.9 210.2h0.65M257.0 205.4h0.65M257.0 206.7h0.65M257.0 148.4h0.65M257.1 201.7h0.65M257.1 208.2h0.65M257.1 206.4h0.65M257.1 204.4h0.65M257.3 148.7h0.65M257.3 152.0h0.65M257.3 152.4h0.65M257.4 216.4h0.65M257.5 150.7h0.65M257.5 146.0h0.65M257.6 202.9h0.65M257.6 205.8h0.65M257.6 208.0h0.65M257.7 209.0h0.65M257.7 207.1h0.65M257.7 206.8h0.65M257.7 150.2h0.65M257.8 151.4h0.65M257.8 202.6h0.65M257.8 147.9h0.65M257.9 206.7h0.65M257.9 203.0h0.65M257.9 203.2h0.65M257.9 205.8h0.65M257.9 150.6h0.65M257.9 204.0h0.65M257.9 207.7h0.65M258.0 151.6h0.65M258.0 204.1h0.65M258.0 150.0h0.65M258.1 203.0h0.65M258.2 213.4h0.65M258.2 207.3h0.65M258.2 203.2h0.65M258.3 205.2h0.65M258.3 214.0h0.65M258.3 151.0h0.65M258.4 204.5h0.65M258.4 149.3h0.65M258.4 148.2h0.65M258.7 150.4h0.65M258.7 205.1h0.65M258.7 205.0h0.65M258.8 207.7h0.65M258.8 143.0h0.65M258.9 205.6h0.65M258.9 206.7h0.65M258.9 205.2h0.65M258.9 147.4h0.65M258.9 206.1h0.65M259.0 206.2h0.65M259.0 209.1h0.65M259.0 145.7h0.65M259.1 149.8h0.65M259.1 213.9h0.65M259.1 204.0h0.65M259.2 209.3h0.65M259.3 206.9h0.65M259.3 147.3h0.65M259.4 211.1h0.65M259.4 150.4h0.65M259.5 207.2h0.65M259.5 149.0h0.65M259.5 207.1h0.65M259.5 209.6h0.65M259.5 208.8h0.65M259.6 207.8h0.65M259.6 148.2h0.65M259.6 208.4h0.65M259.6 141.2h0.65M259.6 205.2h0.65M259.7 213.5h0.65M259.7 151.0h0.65M259.8 151.0h0.65M259.8 207.0h0.65M259.9 208.6h0.65M259.9 204.8h0.65M260.0 150.0h0.65M260.0 211.6h0.65M260.0 150.4h0.65M260.2 210.1h0.65M260.2 149.3h0.65M260.3 212.3h0.65M260.3 206.4h0.65M260.4 209.3h0.65M260.4 205.0h0.65M260.5 146.0h0.65M260.5 211.0h0.65M260.5 149.9h0.65M260.5 206.5h0.65M260.5 206.8h0.65M260.5 147.8h0.65M260.6 206.8h0.65M260.6 207.6h0.65M260.6 214.2h0.65M260.7 145.5h0.65M260.8 205.2h0.65M260.8 211.4h0.65M260.9 209.8h0.65M261.0 148.4h0.65M261.0 148.2h0.65M261.1 149.1h0.65M261.1 209.2h0.65M261.1 205.3h0.65M261.1 149.1h0.65M261.2 207.9h0.65M261.2 205.7h0.65M261.3 208.4h0.65M261.3 150.1h0.65M261.4 207.9h0.65M261.4 209.5h0.65M261.4 150.0h0.65M261.6 213.2h0.65M261.7 206.0h0.65M261.7 212.5h0.65M261.7 148.7h0.65M261.8 145.6h0.65M261.9 149.8h0.65M261.9 209.9h0.65M262.0 144.0h0.65M262.1 219.1h0.65M262.1 210.7h0.65M262.1 207.3h0.65M262.1 206.5h0.65M262.1 206.4h0.65M262.2 143.8h0.65M262.3 209.4h0.65M262.3 147.8h0.65M262.4 211.5h0.65M262.4 146.8h0.65M262.5 149.1h0.65M262.6 206.5h0.65M262.6 218.2h0.65M262.8 214.8h0.65M262.8 144.0h0.65M262.8 148.9h0.65M262.8 211.6h0.65M262.8 206.4h0.65M262.8 147.4h0.65M263.0 206.8h0.65M263.1 211.8h0.65M263.1 207.9h0.65M263.1 212.9h0.65M263.1 208.0h0.65M263.1 206.4h0.65M263.2 144.1h0.65M263.2 146.9h0.65M263.3 147.7h0.65M263.3 148.7h0.65M263.4 206.9h0.65M263.4 210.3h0.65M263.4 207.5h0.65M263.5 210.7h0.65M263.6 208.7h0.65M263.6 208.6h0.65M263.6 148.4h0.65M263.7 208.5h0.65M263.8 207.3h0.65M263.8 210.0h0.65M263.8 211.5h0.65M263.8 147.3h0.65M263.9 207.9h0.65M263.9 207.0h0.65M264.0 210.9h0.65M264.0 211.9h0.65M264.1 210.0h0.65M264.2 148.8h0.65M264.3 209.8h0.65M264.4 207.4h0.65M264.4 147.0h0.65M264.4 207.3h0.65M264.5 207.6h0.65M264.5 148.4h0.65M264.6 210.6h0.65M264.6 144.6h0.65M264.6 210.6h0.65M264.7 147.5h0.65M264.7 144.3h0.65M264.7 214.2h0.65M264.7 146.2h0.65M264.8 207.7h0.65M264.9 148.7h0.65M264.9 207.1h0.65M264.9 148.0h0.65M265.0 214.4h0.65M265.0 210.6h0.65M265.2 148.6h0.65M265.3 207.0h0.65M265.3 210.9h0.65M265.4 213.1h0.65M265.4 208.8h0.65M265.4 207.1h0.65M265.4 147.0h0.65M265.6 213.0h0.65M265.7 207.1h0.65M265.7 148.9h0.65M265.8 211.0h0.65M265.8 208.4h0.65M265.8 147.8h0.65M265.8 148.7h0.65M265.9 147.3h0.65M265.9 207.7h0.65M266.0 207.2h0.65M266.0 148.5h0.65M266.0 213.2h0.65M266.1 146.8h0.65M266.2 208.1h0.65M266.2 148.3h0.65M266.3 211.5h0.65M266.3 212.5h0.65M266.3 209.9h0.65M266.4 211.7h0.65M266.7 148.8h0.65M266.8 209.7h0.65M266.8 207.4h0.65M266.8 140.5h0.65M266.8 208.0h0.65M266.8 208.3h0.65M266.8 148.4h0.65M266.9 207.4h0.65M266.9 146.0h0.65M266.9 209.2h0.65M267.0 149.0h0.65M267.1 212.9h0.65M267.2 207.2h0.65M267.2 217.5h0.65M267.2 209.5h0.65M267.2 210.1h0.65M267.2 208.5h0.65M267.5 146.9h0.65M267.5 209.8h0.65M267.5 211.2h0.65M267.5 178.9h0.65M267.5 207.4h0.65M267.6 208.3h0.65M267.6 211.8h0.65M267.6 208.5h0.65M267.7 216.3h0.65M267.7 215.1h0.65M267.8 148.9h0.65M267.8 207.4h0.65M267.8 147.6h0.65M267.8 212.6h0.65M267.8 145.3h0.65M267.8 147.6h0.65M267.9 207.9h0.65M267.9 207.9h0.65M267.9 149.1h0.65M268.0 210.6h0.65M268.0 142.9h0.65M268.1 147.7h0.65M268.1 208.2h0.65M268.1 209.2h0.65M268.1 145.8h0.65M268.2 143.4h0.65M268.3 145.8h0.65M268.3 179.8h0.65M268.4 207.3h0.65M268.4 210.1h0.65M268.4 208.1h0.65M268.5 210.7h0.65M268.6 147.5h0.65M268.6 209.5h0.65M268.6 216.6h0.65M268.7 144.5h0.65M268.7 145.1h0.65M268.7 210.5h0.65M268.7 148.8h0.65M268.8 209.0h0.65M268.8 207.3h0.65M268.9 208.6h0.65M268.9 148.9h0.65M268.9 207.1h0.65M269.1 210.2h0.65M269.1 212.5h0.65M269.1 209.5h0.65M269.2 209.8h0.65M269.2 208.9h0.65M269.3 148.5h0.65M269.4 148.3h0.65M269.5 208.2h0.65M269.6 149.4h0.65M269.6 149.0h0.65M269.7 210.5h0.65M269.8 146.0h0.65M269.8 216.5h0.65M269.8 213.4h0.65M269.9 208.0h0.65M269.9 149.3h0.65M269.9 213.4h0.65M270.0 141.9h0.65M270.0 209.1h0.65M270.1 208.2h0.65M270.2 149.0h0.65M270.2 207.3h0.65M270.3 213.7h0.65M270.3 144.0h0.65M270.4 207.5h0.65M270.4 214.8h0.65M270.4 207.5h0.65M270.4 148.9h0.65M270.5 207.5h0.65M270.5 148.4h0.65M270.5 148.8h0.65M270.6 208.9h0.65M270.6 212.3h0.65M270.7 211.0h0.65M270.7 210.8h0.65M270.7 143.9h0.65M270.7 145.3h0.65M270.8 146.3h0.65M270.8 212.7h0.65M270.9 209.1h0.65M270.9 219.0h0.65M270.9 212.8h0.65M270.9 149.0h0.65M271.0 218.6h0.65M271.0 149.8h0.65M271.0 214.2h0.65M271.1 211.6h0.65M271.1 147.3h0.65M271.1 148.6h0.65M271.1 207.8h0.65M271.3 206.3h0.65M271.4 148.1h0.65M271.4 208.8h0.65M271.4 207.2h0.65M271.4 146.5h0.65M271.5 211.0h0.65M271.6 207.1h0.65M271.6 213.2h0.65M271.6 147.7h0.65M271.6 209.4h0.65M271.7 209.3h0.65M271.8 147.5h0.65M271.9 166.3h0.65M271.9 206.7h0.65M271.9 150.0h0.65M272.0 209.6h0.65M272.0 208.6h0.65M272.1 209.4h0.65M272.1 147.3h0.65M272.1 208.3h0.65M272.1 149.1h0.65M272.1 212.1h0.65M272.1 207.9h0.65M272.2 214.5h0.65M272.2 207.4h0.65M272.2 205.6h0.65M272.3 145.4h0.65M272.3 143.2h0.65M272.3 212.6h0.65M272.4 150.5h0.65M272.4 149.1h0.65M272.4 148.1h0.65M272.5 141.5h0.65M272.5 210.5h0.65M272.5 145.9h0.65M272.5 149.9h0.65M272.5 209.0h0.65M272.7 148.9h0.65M272.9 204.8h0.65M272.9 150.8h0.65M273.1 150.6h0.65M273.1 210.0h0.65M273.1 204.7h0.65M273.2 146.9h0.65M273.3 204.6h0.65M273.3 206.0h0.65M273.3 205.5h0.65M273.4 146.7h0.65M273.4 150.6h0.65M273.4 173.9h0.65M273.4 137.8h0.65M273.5 204.1h0.65M273.5 204.5h0.65M273.5 208.2h0.65M273.6 206.3h0.65M273.7 205.2h0.65M273.7 204.6h0.65M273.7 151.0h0.65M273.7 205.2h0.65M273.7 149.9h0.65M273.7 206.2h0.65M273.8 203.0h0.65M273.8 148.4h0.65M273.9 150.3h0.65M273.9 207.9h0.65M273.9 189.7h0.65M273.9 207.5h0.65M273.9 208.1h0.65M273.9 204.2h0.65M274.0 211.5h0.65M274.0 215.1h0.65M274.0 151.2h0.65M274.1 202.9h0.65M274.1 205.9h0.65M274.2 209.8h0.65M274.2 151.5h0.65M274.2 150.9h0.65M274.2 148.7h0.65M274.3 208.8h0.65M274.3 203.6h0.65M274.3 204.7h0.65M274.4 152.8h0.65M274.4 203.0h0.65M274.4 205.4h0.65M274.4 149.1h0.65M274.5 149.9h0.65M274.5 205.8h0.65M274.5 201.4h0.65M274.5 144.1h0.65M274.6 202.6h0.65M274.6 210.7h0.65M274.6 212.6h0.65M274.6 152.0h0.65M274.6 209.9h0.65M274.6 203.8h0.65M274.6 205.7h0.65M274.6 208.1h0.65M274.7 153.5h0.65M274.7 208.0h0.65M274.7 168.5h0.65M274.8 203.7h0.65M274.8 208.4h0.65M274.8 211.7h0.65M274.8 207.5h0.65M274.8 153.2h0.65M274.9 201.3h0.65M274.9 203.0h0.65M274.9 205.5h0.65M274.9 206.5h0.65M274.9 200.9h0.65M274.9 153.5h0.65M274.9 148.4h0.65M275.0 201.6h0.65M275.0 206.7h0.65M275.0 203.3h0.65M275.0 148.7h0.65M275.1 154.9h0.65M275.1 145.5h0.65M275.1 205.1h0.65M275.2 156.2h0.65M275.2 207.4h0.65M275.2 146.5h0.65M275.2 153.0h0.65M275.2 204.5h0.65M275.2 152.3h0.65M275.3 200.1h0.65M275.3 208.5h0.65M275.3 155.0h0.65M275.3 163.6h0.65M275.3 150.1h0.65M275.3 203.5h0.65M275.3 162.2h0.65M275.3 209.2h0.65M275.3 165.3h0.65M275.3 201.0h0.65M275.3 201.6h0.65M275.3 156.2h0.65M275.4 206.1h0.65M275.4 159.8h0.65M275.4 163.7h0.65M275.4 215.6h0.65M275.4 159.1h0.65M275.4 163.5h0.65M275.4 202.9h0.65M275.4 162.2h0.65M275.4 199.5h0.65M275.5 159.5h0.65M275.5 199.1h0.65M275.6 163.1h0.65M275.6 161.9h0.65M275.6 163.9h0.65M275.6 168.0h0.65M275.6 152.7h0.65M275.6 160.5h0.65M275.6 182.9h0.65M275.6 208.8h0.65M275.6 157.0h0.65M275.7 167.1h0.65M275.7 198.0h0.65M275.7 166.1h0.65M275.7 202.2h0.65M275.7 161.9h0.65M275.7 210.6h0.65M275.7 214.1h0.65M275.8 152.4h0.65M275.8 154.7h0.65M275.8 168.6h0.65M275.8 187.2h0.65M275.8 162.8h0.65M275.8 196.4h0.65M275.8 170.0h0.65M275.8 164.8h0.65M275.8 157.0h0.65M275.8 201.2h0.65M275.8 181.3h0.65M275.8 188.8h0.65M275.8 165.3h0.65M275.9 193.6h0.65M275.9 151.2h0.65M275.9 168.6h0.65M275.9 194.4h0.65M275.9 183.5h0.65M275.9 163.0h0.65M275.9 152.3h0.65M275.9 162.9h0.65M275.9 194.4h0.65M275.9 165.8h0.65M275.9 166.8h0.65M275.9 157.1h0.65M275.9 178.9h0.65M275.9 206.2h0.65M276.0 158.1h0.65M276.0 180.9h0.65M276.0 165.3h0.65M276.0 143.1h0.65M276.0 179.3h0.65M276.0 170.1h0.65M276.0 184.9h0.65M276.0 194.8h0.65M276.0 195.6h0.65M276.0 160.9h0.65M276.0 188.5h0.65M276.1 171.3h0.65M276.1 151.5h0.65M276.1 174.1h0.65M276.1 199.1h0.65M276.1 161.3h0.65M276.1 188.2h0.65M276.1 185.8h0.65M276.1 183.0h0.65M276.1 199.5h0.65M276.1 150.6h0.65M276.1 179.8h0.65M276.1 165.8h0.65M276.1 188.0h0.65M276.1 164.0h0.65M276.1 199.0h0.65M276.1 190.0h0.65M276.1 181.8h0.65M276.1 180.7h0.65M276.1 157.3h0.65M276.1 164.0h0.65M276.1 182.5h0.65M276.1 188.2h0.65M276.1 178.8h0.65M276.1 176.6h0.65M276.2 170.2h0.65M276.2 180.4h0.65M276.2 179.5h0.65M276.2 186.4h0.65M276.2 204.3h0.65M276.2 189.5h0.65M276.2 166.5h0.65M276.2 169.2h0.65M276.2 185.4h0.65M276.2 194.3h0.65M276.2 184.1h0.65M276.2 191.4h0.65M276.2 158.1h0.65M276.2 190.0h0.65M276.2 191.4h0.65M276.3 211.9h0.65M276.3 186.7h0.65M276.3 189.9h0.65M276.3 165.2h0.65M276.3 177.4h0.65M276.3 161.4h0.65M276.3 158.4h0.65M276.3 196.1h0.65M276.3 162.9h0.65M276.3 150.3h0.65M276.3 185.3h0.65M276.3 188.7h0.65M276.3 173.8h0.65M276.3 171.1h0.65M276.4 192.2h0.65M276.4 188.6h0.65M276.4 185.1h0.65M276.4 184.5h0.65M276.4 183.1h0.65M276.4 190.0h0.65M276.4 169.9h0.65M276.4 189.8h0.65M276.5 200.0h0.65M276.5 187.4h0.65M276.5 203.8h0.65M276.5 200.4h0.65M276.5 191.1h0.65M276.5 189.9h0.65M276.5 195.3h0.65M276.5 184.8h0.65M276.5 153.4h0.65M276.5 174.2h0.65M276.5 159.9h0.65M276.5 179.5h0.65M276.5 179.5h0.65M276.5 179.4h0.65M276.5 186.9h0.65M276.6 158.1h0.65M276.6 179.7h0.65M276.6 173.9h0.65M276.6 204.1h0.65M276.6 173.7h0.65M276.6 159.8h0.65M276.6 147.5h0.65M276.6 192.7h0.65M276.6 165.6h0.65M276.6 193.5h0.65M276.6 171.2h0.65M276.6 192.4h0.65M276.6 156.7h0.65M276.7 170.6h0.65M276.7 167.5h0.65M276.7 163.6h0.65M276.7 160.8h0.65M276.7 186.2h0.65M276.7 181.0h0.65M276.7 177.4h0.65M276.7 199.5h0.65M276.7 180.5h0.65M276.7 195.7h0.65M276.7 195.0h0.65M276.7 207.5h0.65M276.7 188.4h0.65M276.7 183.7h0.65M276.8 194.6h0.65M276.8 188.0h0.65M276.8 173.7h0.65M276.8 183.9h0.65M276.8 191.3h0.65M276.8 162.9h0.65M276.8 178.6h0.65M276.8 175.6h0.65M276.8 162.3h0.65M276.9 162.8h0.65M276.9 188.6h0.65M276.9 183.6h0.65M276.9 152.4h0.65M276.9 194.5h0.65M276.9 186.5h0.65M276.9 181.5h0.65M276.9 195.7h0.65M276.9 157.3h0.65M277.0 213.6h0.65M277.0 165.2h0.65M277.0 186.6h0.65M277.0 202.5h0.65M277.0 184.1h0.65M277.0 168.2h0.65M277.0 187.6h0.65M277.0 168.0h0.65M277.0 172.1h0.65M277.1 182.7h0.65M277.1 168.2h0.65M277.1 197.7h0.65M277.1 161.6h0.65M277.1 157.7h0.65M277.1 184.8h0.65M277.1 162.0h0.65M277.1 189.4h0.65M277.1 170.1h0.65M277.1 189.8h0.65M277.1 175.2h0.65M277.2 208.0h0.65M277.2 192.0h0.65M277.2 180.7h0.65M277.2 172.9h0.65M277.2 166.4h0.65M277.2 202.2h0.65M277.2 154.0h0.65M277.2 158.1h0.65M277.2 191.0h0.65M277.2 169.1h0.65M277.2 162.4h0.65M277.2 182.3h0.65M277.2 193.6h0.65M277.3 168.4h0.65M277.3 197.7h0.65M277.3 187.6h0.65M277.3 206.2h0.65M277.3 178.3h0.65M277.3 169.6h0.65M277.3 211.8h0.65M277.3 207.9h0.65M277.3 152.7h0.65M277.3 187.7h0.65M277.4 179.5h0.65M277.4 157.8h0.65M277.4 191.8h0.65M277.4 182.0h0.65M277.4 188.2h0.65M277.4 174.7h0.65M277.4 184.7h0.65M277.4 155.5h0.65M277.4 175.6h0.65M277.4 205.2h0.65M277.4 171.7h0.65M277.5 186.6h0.65M277.5 157.6h0.65M277.5 172.9h0.65M277.5 178.8h0.65M277.5 157.6h0.65M277.5 187.0h0.65M277.5 195.3h0.65M277.5 163.4h0.65M277.5 198.3h0.65M277.5 181.1h0.65M277.5 173.4h0.65M277.6 183.6h0.65M277.6 202.9h0.65M277.6 198.7h0.65M277.6 157.4h0.65M277.6 178.3h0.65M277.6 155.2h0.65M277.6 167.2h0.65M277.6 176.3h0.65M277.7 174.7h0.65M277.7 166.1h0.65M277.7 166.1h0.65M277.7 161.7h0.65M277.7 187.5h0.65M277.7 186.7h0.65M277.7 157.9h0.65M277.7 188.9h0.65M277.8 187.4h0.65M277.8 185.8h0.65M277.8 165.2h0.65M277.8 177.8h0.65M277.8 183.2h0.65M277.8 208.8h0.65M277.8 162.2h0.65M277.8 171.6h0.65M277.8 179.3h0.65M277.9 171.5h0.65M277.9 187.1h0.65M277.9 160.5h0.65M277.9 196.6h0.65M277.9 165.2h0.65M277.9 197.1h0.65M277.9 189.7h0.65M277.9 169.3h0.65M277.9 164.3h0.65M277.9 154.8h0.65M277.9 198.9h0.65M278.0 188.1h0.65M278.0 169.5h0.65M278.0 178.9h0.65M278.0 205.7h0.65M278.0 171.2h0.65M278.0 156.6h0.65M278.0 159.0h0.65M278.0 195.2h0.65M278.0 217.3h0.65M278.1 177.6h0.65M278.1 196.3h0.65M278.1 192.4h0.65M278.1 193.8h0.65M278.1 200.8h0.65M278.1 157.5h0.65M278.1 192.0h0.65M278.1 176.2h0.65M278.1 196.4h0.65M278.1 157.5h0.65M278.2 168.9h0.65M278.2 179.5h0.65M278.3 177.3h0.65M278.3 161.3h0.65M278.3 176.6h0.65M278.3 160.2h0.65M278.3 194.2h0.65M278.3 206.3h0.65M278.3 210.7h0.65M278.3 205.7h0.65M278.3 181.0h0.65M278.3 158.9h0.65M278.4 172.8h0.65M278.4 174.5h0.65M278.4 197.0h0.65M278.4 183.0h0.65M278.4 192.6h0.65M278.4 170.7h0.65M278.4 166.7h0.65M278.4 189.0h0.65M278.4 180.5h0.65M278.4 161.4h0.65M278.4 182.5h0.65M278.5 185.5h0.65M278.5 160.9h0.65M278.5 208.8h0.65M278.5 168.3h0.65M278.5 199.0h0.65M278.5 175.3h0.65M278.6 150.8h0.65M278.6 172.2h0.65M278.6 168.3h0.65M278.6 173.4h0.65M278.6 174.6h0.65M278.7 169.6h0.65M278.7 153.3h0.65M278.8 185.2h0.65M278.8 161.6h0.65M278.8 172.4h0.65M278.8 151.6h0.65M278.8 164.7h0.65M278.8 172.4h0.65M278.8 182.5h0.65M278.9 163.4h0.65M278.9 164.3h0.65M278.9 195.2h0.65M278.9 174.2h0.65M278.9 183.0h0.65M279.0 182.3h0.65M279.0 198.5h0.65M279.0 192.5h0.65M279.0 187.4h0.65M279.0 163.6h0.65M279.1 176.9h0.65M279.1 160.5h0.65M279.1 166.6h0.65M279.1 174.5h0.65M279.1 189.1h0.65M279.2 173.7h0.65M279.2 188.2h0.65M279.2 158.3h0.65M279.3 186.0h0.65M279.3 166.2h0.65M279.3 166.6h0.65M279.3 197.1h0.65M279.3 199.6h0.65M279.4 190.3h0.65M279.5 197.6h0.65M279.5 176.0h0.65M279.5 200.2h0.65M279.5 150.4h0.65M279.5 182.5h0.65M279.5 183.9h0.65M279.5 167.6h0.65M279.5 177.8h0.65M279.7 164.1h0.65M279.7 170.2h0.65M279.7 173.7h0.65M279.7 163.4h0.65M279.8 186.8h0.65M279.8 200.1h0.65M279.8 177.3h0.65M279.8 166.6h0.65M279.8 158.1h0.65M279.8 199.4h0.65M279.9 187.6h0.65M279.9 202.4h0.65M280.0 156.6h0.65M280.0 202.3h0.65M280.0 202.4h0.65M280.1 179.8h0.65M280.1 166.1h0.65M280.1 171.5h0.65M280.2 195.9h0.65M280.3 142.8h0.65M280.3 194.1h0.65M280.3 160.6h0.65M280.4 196.0h0.65M280.4 173.5h0.65M280.5 155.0h0.65M280.6 171.4h0.65M280.6 170.2h0.65M280.6 200.6h0.65M280.7 187.4h0.65M280.7 150.2h0.65M280.7 163.2h0.65M280.8 200.4h0.65M280.9 187.8h0.65M280.9 170.8h0.65M280.9 185.3h0.65M281.0 181.1h0.65M281.0 179.2h0.65M281.0 175.0h0.65M281.1 171.7h0.65M281.1 164.6h0.65M281.2 191.8h0.65M281.2 214.7h0.65M281.2 162.9h0.65M281.2 173.9h0.65M281.3 166.4h0.65M281.3 141.0h0.65M281.4 188.9h0.65M281.4 168.5h0.65M281.4 163.2h0.65M281.5 182.0h0.65M281.6 160.1h0.65M281.7 194.4h0.65M281.8 162.7h0.65M281.8 160.4h0.65M281.9 177.5h0.65M282.1 188.4h0.65M282.2 187.8h0.65M282.3 181.0h0.65M282.4 197.6h0.65M282.4 205.2h0.65M282.4 194.4h0.65M282.4 175.0h0.65M282.7 194.0h0.65M282.8 198.6h0.65M282.9 186.3h0.65M283.1 179.6h0.65M283.2 191.1h0.65M283.4 204.6h0.65M283.4 176.6h0.65M283.6 173.1h0.65M283.8 167.6h0.65M283.9 193.6h0.65M284.1 182.6h0.65M284.1 204.6h0.65M284.1 195.0h0.65M284.2 168.8h0.65M284.2 181.1h0.65M284.2 179.6h0.65M284.5 179.2h0.65M284.6 169.7h0.65M284.9 183.1h0.65M284.9 158.1h0.65M285.0 180.5h0.65M285.1 185.7h0.65M285.2 187.3h0.65M285.2 183.6h0.65M285.2 167.6h0.65M285.4 180.5h0.65M285.5 196.6h0.65M285.5 172.2h0.65M285.6 185.9h0.65M285.6 173.2h0.65M285.6 183.5h0.65M285.6 194.3h0.65M285.7 172.5h0.65M285.8 157.2h0.65M286.0 208.5h0.65M286.0 170.0h0.65M286.1 187.8h0.65M286.2 197.6h0.65M286.3 184.8h0.65M286.5 171.4h0.65M286.5 174.8h0.65M286.6 183.8h0.65M286.6 180.8h0.65M286.7 160.9h0.65M286.8 187.3h0.65M287.3 200.5h0.65M287.3 204.9h0.65M287.4 175.9h0.65M287.4 181.3h0.65M287.5 214.1h0.65M287.6 214.5h0.65M287.8 170.0h0.65M287.8 187.8h0.65M287.8 185.3h0.65M287.9 167.0h0.65M288.3 181.4h0.65M288.3 174.6h0.65M288.4 145.4h0.65M288.5 178.3h0.65M288.5 185.4h0.65M288.5 176.4h0.65M288.6 178.9h0.65M288.6 168.4h0.65M288.7 207.0h0.65M288.7 166.2h0.65M288.8 211.7h0.65M288.9 173.0h0.65M288.9 196.8h0.65M289.0 159.1h0.65M289.2 186.8h0.65M289.3 158.7h0.65M289.3 163.9h0.65M289.3 173.1h0.65M289.3 173.3h0.65M289.4 188.5h0.65M289.4 215.4h0.65M289.4 179.7h0.65M289.6 181.5h0.65M289.7 165.8h0.65M289.7 178.0h0.65M289.7 157.9h0.65M289.8 168.6h0.65M289.8 190.7h0.65M289.8 185.1h0.65M289.9 187.8h0.65M290.0 184.9h0.65M290.0 192.4h0.65M290.1 202.6h0.65M290.3 161.7h0.65M290.4 181.8h0.65M290.4 179.9h0.65M290.4 153.4h0.65M290.5 172.7h0.65M290.5 219.2h0.65M290.5 192.5h0.65M290.7 165.2h0.65M290.9 186.8h0.65M291.0 169.4h0.65M291.0 172.1h0.65M291.1 175.3h0.65M291.1 168.2h0.65M291.2 181.9h0.65M291.2 177.3h0.65M291.3 175.0h0.65M291.4 167.9h0.65M291.5 165.4h0.65M291.5 166.3h0.65M291.6 175.7h0.65M291.9 180.1h0.65M291.9 168.3h0.65M291.9 170.8h0.65M292.0 170.8h0.65M292.0 194.5h0.65M292.2 166.7h0.65M292.3 174.9h0.65M292.3 209.3h0.65M292.6 150.0h0.65M292.6 144.8h0.65M292.7 183.2h0.65M292.8 189.0h0.65M292.8 179.9h0.65M292.8 185.4h0.65M292.9 159.6h0.65M293.0 179.7h0.65M293.0 187.4h0.65M293.1 172.2h0.65M293.3 182.4h0.65M293.3 171.6h0.65M293.3 206.3h0.65M293.3 184.8h0.65M293.3 207.7h0.65M293.4 184.6h0.65M293.4 171.9h0.65M293.4 201.1h0.65M293.5 160.1h0.65M293.8 197.2h0.65M294.1 181.0h0.65M294.1 215.5h0.65M294.2 169.0h0.65M294.2 188.1h0.65M294.4 164.4h0.65M294.5 166.0h0.65M294.6 175.8h0.65M294.6 177.7h0.65M294.7 208.9h0.65M294.7 206.5h0.65M294.8 167.6h0.65M294.8 199.5h0.65M294.9 189.9h0.65M294.9 147.8h0.65M295.0 193.4h0.65M295.1 171.9h0.65M295.3 201.5h0.65M295.4 179.4h0.65M295.6 191.7h0.65M295.6 174.6h0.65M295.6 178.9h0.65M295.7 184.3h0.65M295.7 190.5h0.65M295.7 172.2h0.65M295.8 202.1h0.65M295.8 192.3h0.65M295.8 195.9h0.65M296.0 178.1h0.65M296.1 160.2h0.65M296.1 167.9h0.65M296.1 181.0h0.65M296.3 170.3h0.65M296.3 166.0h0.65M296.3 180.8h0.65M296.4 201.8h0.65M296.4 186.7h0.65M296.5 181.7h0.65M296.5 177.5h0.65M296.6 169.1h0.65M296.6 165.0h0.65M296.6 163.2h0.65M296.7 182.5h0.65M296.8 169.3h0.65M296.9 185.1h0.65M297.0 195.2h0.65M297.1 184.6h0.65M297.2 186.9h0.65M297.3 177.6h0.65M297.5 171.7h0.65M297.6 214.7h0.65M297.6 181.8h0.65M297.6 195.1h0.65M297.8 173.9h0.65M298.0 170.0h0.65M298.1 198.0h0.65M298.2 192.2h0.65M298.3 172.2h0.65M298.4 182.5h0.65M298.4 192.0h0.65M298.5 187.6h0.65M298.6 179.5h0.65M298.7 196.6h0.65M298.8 205.9h0.65M298.9 169.2h0.65M299.0 174.7h0.65M299.1 161.7h0.65M299.2 156.9h0.65M299.2 188.7h0.65M299.3 174.1h0.65M299.7 205.2h0.65M299.7 155.7h0.65M299.8 202.8h0.65M299.9 185.1h0.65M299.9 173.3h0.65M300.1 203.7h0.65M300.1 166.4h0.65M300.2 185.8h0.65M300.4 170.3h0.65M300.4 207.7h0.65M300.5 193.2h0.65M300.6 162.0h0.65M300.7 170.7h0.65M300.8 181.7h0.65M300.9 190.1h0.65M300.9 165.3h0.65M301.1 170.2h0.65M301.1 161.0h0.65M301.1 170.8h0.65M301.2 206.7h0.65M301.4 177.1h0.65M301.5 168.6h0.65M301.5 186.7h0.65M301.8 173.9h0.65M302.0 184.7h0.65M302.1 169.1h0.65M302.3 185.0h0.65M302.5 160.4h0.65M302.5 170.9h0.65M303.1 173.6h0.65M303.2 196.6h0.65M303.5 183.1h0.65M303.8 187.1h0.65M304.0 164.6h0.65M304.0 193.6h0.65M304.1 162.9h0.65M304.2 181.8h0.65M304.7 179.8h0.65M304.8 180.0h0.65M305.0 185.3h0.65M305.2 196.1h0.65M305.5 217.6h0.65M305.8 168.6h0.65M305.8 177.3h0.65M306.0 171.0h0.65M306.1 188.7h0.65M306.1 157.8h0.65M307.1 206.7h0.65M307.2 183.6h0.65M307.9 189.0h0.65M308.0 177.2h0.65M308.8 177.7h0.65M309.1 167.9h0.65M309.2 176.5h0.65M309.3 176.2h0.65M309.5 198.5h0.65M309.7 199.2h0.65M309.9 196.9h0.65M310.3 185.8h0.65M311.1 153.4h0.65M311.7 175.2h0.65M313.2 211.7h0.65" stroke="#333" stroke-width="0.65" fill="none"/>
<path d="M268.6 207.2l-2.3-.1l-2.3-.5l-2.1-.9l-1.9-1.3l-1.7-1.6l-1.3-2l-.9-2.1l-.6-2.2l-.3-2.4l-.1-2.3l0-2.3l0-2.3l-.2-2.4l-.5-2.3l-.6-2.2l-.5-2.3l-.3-2.3l0-2.3l.2-2.3l.5-2.3l.7-2.2l.5-2.3l.2-2.3l.1-2.3l.2-2.4l.6-2.2l1.3-2l1.7-1.6l2-1.1l2.2-.8l2.3-.4l2.3 0l2.3 .4l2 1.1l1.6 1.7l1 2.1l.5 2.3l.1 2.3l0 2.4l0 2.3l.1 2.3l.3 2.3l.2 2.4l.1 2.3l0 2.3l-.1 2.3l-.1 2.4l-.1 2.3l0 2.3l.1 2.4l.1 2.3l0 2.3l0 2.3l-.2 2.4l-.3 2.3l-.6 2.2l-.9 2.2l-1.3 1.9l-1.7 1.5z" fill="#fff" stroke="#222" stroke-width="0.85" stroke-linejoin="round"/>
<path d="M269.4 204.4l-2.1 .1l-2.1-.3l-1.9-.7l-1.8-1.2l-1.5-1.5l-1.1-1.8l-.8-1.9l-.4-2.1l-.2-2.1l0-2.1l0-2.1l.1-2.1l0-2.1l-.4-2.1l-.5-2l-.6-2.1l-.3-2l-.1-2.1l0-2.1l.4-2.1l.6-2l.7-2l.3-2.1l-.1-2.1l0-2.1l.2-2.1l.6-2l1.2-1.7l1.7-1.3l1.9-.9l2-.5l2.1-.1l2.1 .2l1.8 1l1.4 1.6l.8 2l.4 2l0 2.1l0 2.2l0 2.1l.1 2.1l.3 2l.3 2.1l.1 2.1l0 2.1l0 2.2l-.2 2.1l-.1 2.1l-.1 2.1l0 2.1l.2 2.1l.1 2.1l0 2.1l0 2.1l-.1 2.1l-.4 2.1l-.6 2l-.8 1.9l-1.4 1.6z" fill="none" stroke="#444" stroke-width="0.7" stroke-linejoin="round"/>
<path d="M269.4 201.7l-1.9 .2l-1.8-.3l-1.7-.8l-1.5-1.1l-1.2-1.5l-.8-1.7l-.5-1.8l-.2-1.9l0-1.9l.2-1.9l.2-1.8l.2-1.9l0-1.9l-.4-1.8l-.6-1.8l-.6-1.8l-.3-1.9l-.2-1.8l.1-1.9l.3-1.9l.7-1.7l.7-1.8l.4-1.8l-.1-1.9l-.2-1.9l-.1-1.8l.1-1.9l.7-1.7l1.3-1.4l1.6-.9l1.9-.5l1.8-.2l1.9 .4l1.5 1.1l.9 1.7l.4 1.8l.1 1.9l-.1 1.9l-.1 1.8l0 1.9l.3 1.9l.5 1.8l.3 1.9l.1 1.9l0 1.8l-.1 1.9l-.2 1.9l-.2 1.9l-.2 1.8l0 1.9l.2 1.9l.2 1.9l.1 1.8l.1 1.9l-.1 1.9l-.1 1.9l-.4 1.8l-.6 1.8l-1.1 1.6z" fill="none" stroke="#444" stroke-width="0.7" stroke-linejoin="round"/>
<path d="M269.2 199.2l-1.7 .1l-1.6-.4l-1.5-.9l-1.1-1.2l-.7-1.5l-.4-1.6l-.1-1.7l.1-1.7l.3-1.6l.4-1.7l.5-1.6l.3-1.6l-.2-1.7l-.7-1.5l-.7-1.5l-.7-1.6l-.4-1.6l-.1-1.7l0-1.7l.4-1.6l.7-1.5l.9-1.4l.9-1.5l.2-1.6l-.5-1.6l-.6-1.6l-.3-1.6l.1-1.7l.6-1.5l1.2-1.2l1.6-.5l1.7-.1l1.5 .6l1 1.3l.3 1.7l0 1.7l-.2 1.6l-.3 1.7l-.1 1.6l.4 1.7l.7 1.5l.5 1.6l.3 1.7l.1 1.6l0 1.7l-.1 1.7l-.3 1.6l-.3 1.7l-.4 1.6l-.1 1.7l.2 1.7l.3 1.6l.3 1.7l.2 1.6l.1 1.7l-.1 1.7l-.2 1.7l-.4 1.6l-.7 1.5z" fill="none" stroke="#444" stroke-width="0.7" stroke-linejoin="round"/>
<path d="M267.9 161.2l-1.1 0l-.8-.7l-.3-1l.1-1.1l.8-.7l1.1-.1l.8 .6l.2 1.1l-.2 1.1zM268.6 180.2l-1.5-.2l-1.5-.8l-1.1-1.1l-.8-1.4l-.4-1.6l-.1-1.6l.3-1.6l.8-1.4l1.2-1.1l1.5-.6l1.6-.1l1.2 1l.7 1.4l.3 1.6l0 1.6l-.1 1.7l-.3 1.5l-.6 1.5zM268.9 196.8l-1.6 0l-1.4-.7l-1-1.2l-.5-1.5l-.1-1.6l.2-1.6l.6-1.5l.9-1.3l1.3-.9l1.6 0l.9 1.3l.5 1.5l.3 1.6l0 1.6l-.1 1.6l-.5 1.5z" fill="none" stroke="#444" stroke-width="0.7" stroke-linejoin="round"/>
<path d="M268.6 176.9l-1.5-.2l-1.2-1.1l-.4-1.5l.2-1.6l1.2-1.1l1.6-.3l1 1.2l.2 1.7l-.2 1.6zM268.6 194l-.9 0l-.8-.7l-.2-1l.2-1l.6-.9l1-.1l.6 .8l.1 1l-.1 1z" fill="none" stroke="#444" stroke-width="0.7" stroke-linejoin="round"/>
</g>
<rect x="29.2" y="15.7" width="102.2" height="101.2" fill="none" stroke="#000" stroke-width="2.0"/>
<line x1="73.30" y1="15.70" x2="73.30" y2="116.90" stroke="#000" stroke-width="1.7"/>
<line x1="29.20" y1="73.85" x2="131.40" y2="73.85" stroke="#000" stroke-width="1.6"/>
<rect x="131.4" y="15.7" width="101.25" height="101.2" fill="none" stroke="#000" stroke-width="2.0"/>
<line x1="175.60" y1="15.70" x2="175.60" y2="116.90" stroke="#000" stroke-width="1.7"/>
<line x1="131.40" y1="73.85" x2="232.65" y2="73.85" stroke="#000" stroke-width="1.6"/>
<rect x="232.65" y="15.7" width="102.35" height="101.2" fill="none" stroke="#000" stroke-width="2.0"/>
<line x1="277.20" y1="15.70" x2="277.20" y2="116.90" stroke="#000" stroke-width="1.7"/>
<line x1="232.65" y1="73.85" x2="335.00" y2="73.85" stroke="#000" stroke-width="1.6"/>
<rect x="29.2" y="119.65" width="102.2" height="101.04999999999998" fill="none" stroke="#000" stroke-width="2.0"/>
<line x1="73.30" y1="119.65" x2="73.30" y2="220.70" stroke="#000" stroke-width="1.7"/>
<line x1="29.20" y1="165.70" x2="131.40" y2="165.70" stroke="#000" stroke-width="1.6"/>
<rect x="131.4" y="119.65" width="101.25" height="101.04999999999998" fill="none" stroke="#000" stroke-width="2.0"/>
<line x1="175.60" y1="119.65" x2="175.60" y2="220.70" stroke="#000" stroke-width="1.7"/>
<line x1="131.40" y1="165.70" x2="232.65" y2="165.70" stroke="#000" stroke-width="1.6"/>
<rect x="232.65" y="119.65" width="102.35" height="101.04999999999998" fill="none" stroke="#000" stroke-width="2.0"/>
<line x1="277.20" y1="119.65" x2="277.20" y2="220.70" stroke="#000" stroke-width="1.7"/>
<line x1="232.65" y1="165.70" x2="335.00" y2="165.70" stroke="#000" stroke-width="1.6"/>
<line x1="49.00" y1="220.70" x2="49.00" y2="223.80" stroke="#000" stroke-width="1.1"/>
<text x="49.00" y="230.60" font-size="4.6" font-weight="bold" text-anchor="middle">0</text>
<line x1="58.50" y1="220.70" x2="58.50" y2="223.80" stroke="#000" stroke-width="1.1"/>
<text x="58.3" y="230.6" font-size="4.6" font-weight="bold" text-anchor="middle">10<tspan dy="-1.7" font-size="3.3">2</tspan></text>
<line x1="81.00" y1="220.70" x2="81.00" y2="223.80" stroke="#000" stroke-width="1.1"/>
<text x="80.8" y="230.6" font-size="4.6" font-weight="bold" text-anchor="middle">10<tspan dy="-1.7" font-size="3.3">3</tspan></text>
<line x1="101.50" y1="220.70" x2="101.50" y2="223.80" stroke="#000" stroke-width="1.1"/>
<text x="101.3" y="230.6" font-size="4.6" font-weight="bold" text-anchor="middle">10<tspan dy="-1.7" font-size="3.3">4</tspan></text>
<line x1="122.40" y1="220.70" x2="122.40" y2="223.80" stroke="#000" stroke-width="1.1"/>
<text x="122.2" y="230.6" font-size="4.6" font-weight="bold" text-anchor="middle">10<tspan dy="-1.7" font-size="3.3">5</tspan></text>
<line x1="37.20" y1="220.70" x2="37.20" y2="222.80" stroke="#000" stroke-width="0.8"/>
<line x1="42.50" y1="220.70" x2="42.50" y2="222.80" stroke="#000" stroke-width="0.8"/>
<line x1="46.00" y1="220.70" x2="46.00" y2="222.80" stroke="#000" stroke-width="0.8"/>
<line x1="51.50" y1="220.70" x2="51.50" y2="222.80" stroke="#000" stroke-width="0.8"/>
<line x1="54.40" y1="220.70" x2="54.40" y2="222.80" stroke="#000" stroke-width="0.8"/>
<line x1="65.30" y1="220.70" x2="65.30" y2="222.80" stroke="#000" stroke-width="0.8"/>
<line x1="69.20" y1="220.70" x2="69.20" y2="222.80" stroke="#000" stroke-width="0.8"/>
<line x1="74.20" y1="220.70" x2="74.20" y2="222.80" stroke="#000" stroke-width="0.8"/>
<line x1="85.80" y1="220.70" x2="85.80" y2="222.80" stroke="#000" stroke-width="0.8"/>
<line x1="89.70" y1="220.70" x2="89.70" y2="222.80" stroke="#000" stroke-width="0.8"/>
<line x1="94.70" y1="220.70" x2="94.70" y2="222.80" stroke="#000" stroke-width="0.8"/>
<line x1="106.30" y1="220.70" x2="106.30" y2="222.80" stroke="#000" stroke-width="0.8"/>
<line x1="110.20" y1="220.70" x2="110.20" y2="222.80" stroke="#000" stroke-width="0.8"/>
<line x1="115.20" y1="220.70" x2="115.20" y2="222.80" stroke="#000" stroke-width="0.8"/>
<line x1="151.20" y1="220.70" x2="151.20" y2="223.80" stroke="#000" stroke-width="1.1"/>
<text x="151.20" y="230.60" font-size="4.6" font-weight="bold" text-anchor="middle">0</text>
<line x1="160.70" y1="220.70" x2="160.70" y2="223.80" stroke="#000" stroke-width="1.1"/>
<text x="160.5" y="230.6" font-size="4.6" font-weight="bold" text-anchor="middle">10<tspan dy="-1.7" font-size="3.3">2</tspan></text>
<line x1="183.20" y1="220.70" x2="183.20" y2="223.80" stroke="#000" stroke-width="1.1"/>
<text x="183.0" y="230.6" font-size="4.6" font-weight="bold" text-anchor="middle">10<tspan dy="-1.7" font-size="3.3">3</tspan></text>
<line x1="203.70" y1="220.70" x2="203.70" y2="223.80" stroke="#000" stroke-width="1.1"/>
<text x="203.5" y="230.6" font-size="4.6" font-weight="bold" text-anchor="middle">10<tspan dy="-1.7" font-size="3.3">4</tspan></text>
<line x1="224.60" y1="220.70" x2="224.60" y2="223.80" stroke="#000" stroke-width="1.1"/>
<text x="224.4" y="230.6" font-size="4.6" font-weight="bold" text-anchor="middle">10<tspan dy="-1.7" font-size="3.3">5</tspan></text>
<line x1="139.40" y1="220.70" x2="139.40" y2="222.80" stroke="#000" stroke-width="0.8"/>
<line x1="144.70" y1="220.70" x2="144.70" y2="222.80" stroke="#000" stroke-width="0.8"/>
<line x1="148.20" y1="220.70" x2="148.20" y2="222.80" stroke="#000" stroke-width="0.8"/>
<line x1="153.70" y1="220.70" x2="153.70" y2="222.80" stroke="#000" stroke-width="0.8"/>
<line x1="156.60" y1="220.70" x2="156.60" y2="222.80" stroke="#000" stroke-width="0.8"/>
<line x1="167.50" y1="220.70" x2="167.50" y2="222.80" stroke="#000" stroke-width="0.8"/>
<line x1="171.40" y1="220.70" x2="171.40" y2="222.80" stroke="#000" stroke-width="0.8"/>
<line x1="176.40" y1="220.70" x2="176.40" y2="222.80" stroke="#000" stroke-width="0.8"/>
<line x1="188.00" y1="220.70" x2="188.00" y2="222.80" stroke="#000" stroke-width="0.8"/>
<line x1="191.90" y1="220.70" x2="191.90" y2="222.80" stroke="#000" stroke-width="0.8"/>
<line x1="196.90" y1="220.70" x2="196.90" y2="222.80" stroke="#000" stroke-width="0.8"/>
<line x1="208.50" y1="220.70" x2="208.50" y2="222.80" stroke="#000" stroke-width="0.8"/>
<line x1="212.40" y1="220.70" x2="212.40" y2="222.80" stroke="#000" stroke-width="0.8"/>
<line x1="217.40" y1="220.70" x2="217.40" y2="222.80" stroke="#000" stroke-width="0.8"/>
<line x1="252.45" y1="220.70" x2="252.45" y2="223.80" stroke="#000" stroke-width="1.1"/>
<text x="252.45" y="230.60" font-size="4.6" font-weight="bold" text-anchor="middle">0</text>
<line x1="261.95" y1="220.70" x2="261.95" y2="223.80" stroke="#000" stroke-width="1.1"/>
<text x="261.8" y="230.6" font-size="4.6" font-weight="bold" text-anchor="middle">10<tspan dy="-1.7" font-size="3.3">2</tspan></text>
<line x1="284.45" y1="220.70" x2="284.45" y2="223.80" stroke="#000" stroke-width="1.1"/>
<text x="284.2" y="230.6" font-size="4.6" font-weight="bold" text-anchor="middle">10<tspan dy="-1.7" font-size="3.3">3</tspan></text>
<line x1="304.95" y1="220.70" x2="304.95" y2="223.80" stroke="#000" stroke-width="1.1"/>
<text x="304.8" y="230.6" font-size="4.6" font-weight="bold" text-anchor="middle">10<tspan dy="-1.7" font-size="3.3">4</tspan></text>
<line x1="325.85" y1="220.70" x2="325.85" y2="223.80" stroke="#000" stroke-width="1.1"/>
<text x="325.7" y="230.6" font-size="4.6" font-weight="bold" text-anchor="middle">10<tspan dy="-1.7" font-size="3.3">5</tspan></text>
<line x1="240.65" y1="220.70" x2="240.65" y2="222.80" stroke="#000" stroke-width="0.8"/>
<line x1="245.95" y1="220.70" x2="245.95" y2="222.80" stroke="#000" stroke-width="0.8"/>
<line x1="249.45" y1="220.70" x2="249.45" y2="222.80" stroke="#000" stroke-width="0.8"/>
<line x1="254.95" y1="220.70" x2="254.95" y2="222.80" stroke="#000" stroke-width="0.8"/>
<line x1="257.85" y1="220.70" x2="257.85" y2="222.80" stroke="#000" stroke-width="0.8"/>
<line x1="268.75" y1="220.70" x2="268.75" y2="222.80" stroke="#000" stroke-width="0.8"/>
<line x1="272.65" y1="220.70" x2="272.65" y2="222.80" stroke="#000" stroke-width="0.8"/>
<line x1="277.65" y1="220.70" x2="277.65" y2="222.80" stroke="#000" stroke-width="0.8"/>
<line x1="289.25" y1="220.70" x2="289.25" y2="222.80" stroke="#000" stroke-width="0.8"/>
<line x1="293.15" y1="220.70" x2="293.15" y2="222.80" stroke="#000" stroke-width="0.8"/>
<line x1="298.15" y1="220.70" x2="298.15" y2="222.80" stroke="#000" stroke-width="0.8"/>
<line x1="309.75" y1="220.70" x2="309.75" y2="222.80" stroke="#000" stroke-width="0.8"/>
<line x1="313.65" y1="220.70" x2="313.65" y2="222.80" stroke="#000" stroke-width="0.8"/>
<line x1="318.65" y1="220.70" x2="318.65" y2="222.80" stroke="#000" stroke-width="0.8"/>
<line x1="26.20" y1="24.00" x2="29.20" y2="24.00" stroke="#000" stroke-width="1.1"/>
<text x="24.8" y="25.6" font-size="4.6" font-weight="bold" text-anchor="end">10<tspan dy="-1.7" font-size="3.3">5</tspan></text>
<line x1="26.20" y1="44.40" x2="29.20" y2="44.40" stroke="#000" stroke-width="1.1"/>
<text x="24.8" y="46.0" font-size="4.6" font-weight="bold" text-anchor="end">10<tspan dy="-1.7" font-size="3.3">4</tspan></text>
<line x1="26.20" y1="65.20" x2="29.20" y2="65.20" stroke="#000" stroke-width="1.1"/>
<text x="24.8" y="66.8" font-size="4.6" font-weight="bold" text-anchor="end">10<tspan dy="-1.7" font-size="3.3">3</tspan></text>
<line x1="26.20" y1="87.30" x2="29.20" y2="87.30" stroke="#000" stroke-width="1.1"/>
<text x="24.8" y="88.9" font-size="4.6" font-weight="bold" text-anchor="end">10<tspan dy="-1.7" font-size="3.3">2</tspan></text>
<line x1="26.20" y1="96.50" x2="29.20" y2="96.50" stroke="#000" stroke-width="1.1"/>
<text x="24.80" y="98.10" font-size="4.6" font-weight="bold" text-anchor="end">0</text>
<line x1="27.20" y1="30.20" x2="29.20" y2="30.20" stroke="#000" stroke-width="0.8"/>
<line x1="27.20" y1="34.10" x2="29.20" y2="34.10" stroke="#000" stroke-width="0.8"/>
<line x1="27.20" y1="37.70" x2="29.20" y2="37.70" stroke="#000" stroke-width="0.8"/>
<line x1="27.20" y1="50.60" x2="29.20" y2="50.60" stroke="#000" stroke-width="0.8"/>
<line x1="27.20" y1="54.50" x2="29.20" y2="54.50" stroke="#000" stroke-width="0.8"/>
<line x1="27.20" y1="58.10" x2="29.20" y2="58.10" stroke="#000" stroke-width="0.8"/>
<line x1="27.20" y1="71.40" x2="29.20" y2="71.40" stroke="#000" stroke-width="0.8"/>
<line x1="27.20" y1="75.30" x2="29.20" y2="75.30" stroke="#000" stroke-width="0.8"/>
<line x1="27.20" y1="78.90" x2="29.20" y2="78.90" stroke="#000" stroke-width="0.8"/>
<line x1="27.20" y1="92.20" x2="29.20" y2="92.20" stroke="#000" stroke-width="0.8"/>
<line x1="27.20" y1="99.70" x2="29.20" y2="99.70" stroke="#000" stroke-width="0.8"/>
<line x1="27.20" y1="102.70" x2="29.20" y2="102.70" stroke="#000" stroke-width="0.8"/>
<line x1="27.20" y1="106.20" x2="29.20" y2="106.20" stroke="#000" stroke-width="0.8"/>
<line x1="27.20" y1="110.20" x2="29.20" y2="110.20" stroke="#000" stroke-width="0.8"/>
<line x1="26.20" y1="126.60" x2="29.20" y2="126.60" stroke="#000" stroke-width="1.1"/>
<text x="24.8" y="128.2" font-size="4.6" font-weight="bold" text-anchor="end">10<tspan dy="-1.7" font-size="3.3">5</tspan></text>
<line x1="26.20" y1="146.00" x2="29.20" y2="146.00" stroke="#000" stroke-width="1.1"/>
<text x="24.8" y="147.6" font-size="4.6" font-weight="bold" text-anchor="end">10<tspan dy="-1.7" font-size="3.3">4</tspan></text>
<line x1="26.20" y1="165.00" x2="29.20" y2="165.00" stroke="#000" stroke-width="1.1"/>
<text x="24.8" y="166.6" font-size="4.6" font-weight="bold" text-anchor="end">10<tspan dy="-1.7" font-size="3.3">3</tspan></text>
<line x1="26.20" y1="184.50" x2="29.20" y2="184.50" stroke="#000" stroke-width="1.1"/>
<text x="24.8" y="186.1" font-size="4.6" font-weight="bold" text-anchor="end">10<tspan dy="-1.7" font-size="3.3">2</tspan></text>
<line x1="26.20" y1="193.70" x2="29.20" y2="193.70" stroke="#000" stroke-width="1.1"/>
<text x="24.80" y="195.30" font-size="4.6" font-weight="bold" text-anchor="end">0</text>
<line x1="27.20" y1="132.45" x2="29.20" y2="132.45" stroke="#000" stroke-width="0.8"/>
<line x1="27.20" y1="136.05" x2="29.20" y2="136.05" stroke="#000" stroke-width="0.8"/>
<line x1="27.20" y1="139.45" x2="29.20" y2="139.45" stroke="#000" stroke-width="0.8"/>
<line x1="27.20" y1="151.65" x2="29.20" y2="151.65" stroke="#000" stroke-width="0.8"/>
<line x1="27.20" y1="155.35" x2="29.20" y2="155.35" stroke="#000" stroke-width="0.8"/>
<line x1="27.20" y1="158.65" x2="29.20" y2="158.65" stroke="#000" stroke-width="0.8"/>
<line x1="27.20" y1="170.85" x2="29.20" y2="170.85" stroke="#000" stroke-width="0.8"/>
<line x1="27.20" y1="174.45" x2="29.20" y2="174.45" stroke="#000" stroke-width="0.8"/>
<line x1="27.20" y1="177.85" x2="29.20" y2="177.85" stroke="#000" stroke-width="0.8"/>
<line x1="27.20" y1="188.65" x2="29.20" y2="188.65" stroke="#000" stroke-width="0.8"/>
<line x1="27.20" y1="196.65" x2="29.20" y2="196.65" stroke="#000" stroke-width="0.8"/>
<line x1="27.20" y1="199.65" x2="29.20" y2="199.65" stroke="#000" stroke-width="0.8"/>
<line x1="27.20" y1="203.15" x2="29.20" y2="203.15" stroke="#000" stroke-width="0.8"/>
<line x1="27.20" y1="207.15" x2="29.20" y2="207.15" stroke="#000" stroke-width="0.8"/>
<text transform="translate(11.30,114.00) rotate(-90)" font-size="12.6" font-weight="bold">NKG2A</text>
<line x1="7.15" y1="65.60" x2="7.15" y2="31.00" stroke="#000" stroke-width="1.3"/>
<polygon points="7.15,22.50 10.35,32.70 3.95,32.70" fill="#000"/>
<text transform="translate(11.00,217.50) rotate(-90)" font-size="12.6" font-weight="bold">KIR</text>
<line x1="7.00" y1="191.50" x2="7.00" y2="136.00" stroke="#000" stroke-width="1.3"/>
<polygon points="7.00,128.00 10.20,138.20 3.80,138.20" fill="#000"/>
<text x="27.80" y="246.40" font-size="13" font-weight="bold" textLength="30.6" lengthAdjust="spacingAndGlyphs">Ki-67</text>
<line x1="64.50" y1="243.10" x2="316.00" y2="243.10" stroke="#000" stroke-width="1.4"/>
<polygon points="325.3,243.1 314.6,240.1 314.6,246.1" fill="#000"/>
<text x="-1.50" y="282.60" font-size="17.3" font-weight="bold" style="stroke-width:.8px">B</text>
<line x1="46.00" y1="291.35" x2="46.00" y2="431.90" stroke="#000" stroke-width="1.7"/>
<line x1="45.15" y1="431.15" x2="287.00" y2="431.15" stroke="#000" stroke-width="1.5"/>
<line x1="41.30" y1="431.15" x2="46.00" y2="431.15" stroke="#000" stroke-width="1.3"/>
<text x="41.60" y="434.90" font-size="10.5" font-weight="bold" text-anchor="end" letter-spacing="-0.45">0</text>
<line x1="41.30" y1="396.36" x2="46.00" y2="396.36" stroke="#000" stroke-width="1.3"/>
<text x="41.60" y="400.11" font-size="10.5" font-weight="bold" text-anchor="end" letter-spacing="-0.45">20</text>
<line x1="41.30" y1="361.57" x2="46.00" y2="361.57" stroke="#000" stroke-width="1.3"/>
<text x="41.60" y="365.32" font-size="10.5" font-weight="bold" text-anchor="end" letter-spacing="-0.45">40</text>
<line x1="41.30" y1="326.79" x2="46.00" y2="326.79" stroke="#000" stroke-width="1.3"/>
<text x="41.60" y="330.54" font-size="10.5" font-weight="bold" text-anchor="end" letter-spacing="-0.45">60</text>
<line x1="41.30" y1="292.00" x2="46.00" y2="292.00" stroke="#000" stroke-width="1.3"/>
<text x="41.60" y="295.75" font-size="10.5" font-weight="bold" text-anchor="end" letter-spacing="-0.45">80</text>
<line x1="86.30" y1="431.00" x2="86.30" y2="435.50" stroke="#000" stroke-width="1.2"/>
<line x1="166.30" y1="431.00" x2="166.30" y2="435.50" stroke="#000" stroke-width="1.2"/>
<line x1="247.00" y1="431.00" x2="247.00" y2="435.50" stroke="#000" stroke-width="1.2"/>
<text transform="translate(15.30,383.30) rotate(-90)" font-size="12.8" font-weight="bold" textLength="47.5" lengthAdjust="spacingAndGlyphs">%Ki-67<tspan dy="-4" font-size="8">+</tspan><tspan dy="4" font-size="1">&#8203;</tspan></text>
<text transform="translate(89.00,442.80) rotate(-45)" font-size="10.9" font-weight="bold" text-anchor="end">Bright</text>
<text transform="translate(169.00,442.80) rotate(-45)" font-size="10.9" font-weight="bold" text-anchor="end">Dim N+/K-</text>
<text transform="translate(249.80,442.80) rotate(-45)" font-size="10.9" font-weight="bold" text-anchor="end">Dim N-/K+</text>
<circle cx="244.40" cy="275.00" r="3.6" fill="none" stroke="#000" stroke-width="1.0"/>
<polygon points="244.40,287.10 248.30,293.90 240.50,293.90" fill="none" stroke="#000" stroke-width="1.0"/>
<polygon points="244.40,308.20 248.30,301.40 240.50,301.40" fill="none" stroke="#000" stroke-width="1.0"/>
<text x="254.70" y="279.00" font-size="11.8" font-weight="bold">Ctrl</text>
<text x="254.70" y="294.30" font-size="11.8" font-weight="bold">IM acute</text>
<text x="254.70" y="309.70" font-size="11.8" font-weight="bold">IM 1 month</text>
<line x1="63.50" y1="306.50" x2="86.50" y2="306.50" stroke="#000" stroke-width="1.3"/>
<text x="68.60" y="305.00" class="n" font-size="10.4" font-weight="normal" textLength="15.4" lengthAdjust="spacingAndGlyphs">n.s.</text>
<line x1="86.20" y1="296.50" x2="108.80" y2="296.50" stroke="#000" stroke-width="1.3"/>
<text x="91.00" y="295.20" class="n" font-size="10.4" font-weight="normal" textLength="15.4" lengthAdjust="spacingAndGlyphs">n.s.</text>
<line x1="166.30" y1="285.50" x2="188.20" y2="285.50" stroke="#000" stroke-width="1.3"/>
<text x="163.50" y="283.90" class="n" font-size="10" font-weight="normal" textLength="29.2" lengthAdjust="spacingAndGlyphs"><tspan font-style="italic">P</tspan> &lt; .01</text>
<line x1="144.80" y1="298.50" x2="167.10" y2="298.50" stroke="#000" stroke-width="1.3"/>
<text x="142.80" y="297.10" class="n" font-size="10" font-weight="normal" textLength="29.2" lengthAdjust="spacingAndGlyphs"><tspan font-style="italic">P</tspan> &lt; .01</text>
<line x1="224.60" y1="345.50" x2="248.00" y2="345.50" stroke="#000" stroke-width="1.3"/>
<text x="229.00" y="344.00" class="n" font-size="10.4" font-weight="normal" textLength="15.4" lengthAdjust="spacingAndGlyphs">n.s.</text>
<line x1="247.10" y1="335.50" x2="270.20" y2="335.50" stroke="#000" stroke-width="1.3"/>
<text x="252.10" y="333.60" class="n" font-size="10.4" font-weight="normal" textLength="15.4" lengthAdjust="spacingAndGlyphs">n.s.</text>
<circle cx="64.50" cy="345.00" r="4.0" fill="none" stroke="#000" stroke-width="1.3"/>
<circle cx="65.50" cy="357.50" r="4.0" fill="none" stroke="#000" stroke-width="1.3"/>
<circle cx="62.50" cy="363.00" r="4.0" fill="none" stroke="#000" stroke-width="1.3"/>
<circle cx="65.50" cy="365.50" r="4.0" fill="none" stroke="#000" stroke-width="1.3"/>
<circle cx="58.50" cy="385.80" r="4.0" fill="none" stroke="#000" stroke-width="1.3"/>
<circle cx="70.70" cy="384.70" r="4.0" fill="none" stroke="#000" stroke-width="1.3"/>
<circle cx="64.00" cy="390.50" r="4.0" fill="none" stroke="#000" stroke-width="1.3"/>
<circle cx="64.50" cy="400.00" r="4.0" fill="none" stroke="#000" stroke-width="1.3"/>
<circle cx="64.50" cy="403.70" r="4.0" fill="none" stroke="#000" stroke-width="1.3"/>
<circle cx="58.00" cy="408.00" r="4.0" fill="none" stroke="#000" stroke-width="1.3"/>
<circle cx="70.70" cy="408.00" r="4.0" fill="none" stroke="#000" stroke-width="1.3"/>
<circle cx="64.50" cy="407.50" r="4.0" fill="none" stroke="#000" stroke-width="1.3"/>
<circle cx="62.50" cy="417.50" r="4.0" fill="none" stroke="#000" stroke-width="1.3"/>
<circle cx="66.20" cy="415.00" r="4.0" fill="none" stroke="#000" stroke-width="1.3"/>
<circle cx="61.00" cy="394.00" r="4.0" fill="none" stroke="#000" stroke-width="1.3"/>
<circle cx="68.00" cy="396.00" r="4.0" fill="none" stroke="#000" stroke-width="1.3"/>
<circle cx="64.00" cy="397.50" r="4.0" fill="none" stroke="#000" stroke-width="1.3"/>
<circle cx="145.00" cy="378.00" r="4.0" fill="none" stroke="#000" stroke-width="1.3"/>
<circle cx="151.00" cy="379.30" r="4.0" fill="none" stroke="#000" stroke-width="1.3"/>
<circle cx="141.00" cy="390.50" r="4.0" fill="none" stroke="#000" stroke-width="1.3"/>
<circle cx="146.00" cy="396.30" r="4.0" fill="none" stroke="#000" stroke-width="1.3"/>
<circle cx="143.70" cy="401.30" r="4.0" fill="none" stroke="#000" stroke-width="1.3"/>
<circle cx="145.00" cy="407.50" r="4.0" fill="none" stroke="#000" stroke-width="1.3"/>
<circle cx="142.00" cy="413.00" r="4.0" fill="none" stroke="#000" stroke-width="1.3"/>
<circle cx="148.00" cy="414.00" r="4.0" fill="none" stroke="#000" stroke-width="1.3"/>
<circle cx="145.00" cy="418.00" r="4.0" fill="none" stroke="#000" stroke-width="1.3"/>
<circle cx="143.00" cy="422.00" r="4.0" fill="none" stroke="#000" stroke-width="1.3"/>
<circle cx="147.00" cy="423.00" r="4.0" fill="none" stroke="#000" stroke-width="1.3"/>
<circle cx="145.00" cy="426.00" r="4.0" fill="none" stroke="#000" stroke-width="1.3"/>
<circle cx="144.00" cy="410.00" r="4.0" fill="none" stroke="#000" stroke-width="1.3"/>
<circle cx="146.00" cy="420.00" r="4.0" fill="none" stroke="#000" stroke-width="1.3"/>
<circle cx="221.20" cy="395.00" r="4.0" fill="none" stroke="#000" stroke-width="1.3"/>
<circle cx="231.00" cy="392.00" r="4.0" fill="none" stroke="#000" stroke-width="1.3"/>
<circle cx="225.00" cy="403.70" r="4.0" fill="none" stroke="#000" stroke-width="1.3"/>
<circle cx="223.70" cy="406.50" r="4.0" fill="none" stroke="#000" stroke-width="1.3"/>
<circle cx="225.00" cy="412.00" r="4.0" fill="none" stroke="#000" stroke-width="1.3"/>
<circle cx="222.00" cy="416.00" r="4.0" fill="none" stroke="#000" stroke-width="1.3"/>
<circle cx="228.00" cy="415.00" r="4.0" fill="none" stroke="#000" stroke-width="1.3"/>
<circle cx="216.50" cy="423.50" r="4.0" fill="none" stroke="#000" stroke-width="1.3"/>
<circle cx="233.50" cy="422.50" r="4.0" fill="none" stroke="#000" stroke-width="1.3"/>
<circle cx="225.00" cy="420.00" r="4.0" fill="none" stroke="#000" stroke-width="1.3"/>
<circle cx="221.00" cy="426.00" r="4.0" fill="none" stroke="#000" stroke-width="1.3"/>
<circle cx="229.00" cy="426.00" r="4.0" fill="none" stroke="#000" stroke-width="1.3"/>
<circle cx="225.00" cy="427.50" r="4.0" fill="none" stroke="#000" stroke-width="1.3"/>
<circle cx="226.00" cy="418.00" r="4.0" fill="none" stroke="#000" stroke-width="1.3"/>
<polygon points="86.30,312.25 90.30,319.15 82.30,319.15" fill="none" stroke="#000" stroke-width="1.25"/>
<polygon points="86.30,364.55 90.30,371.45 82.30,371.45" fill="none" stroke="#000" stroke-width="1.25"/>
<polygon points="86.30,375.75 90.30,382.65 82.30,382.65" fill="none" stroke="#000" stroke-width="1.25"/>
<polygon points="85.00,379.55 89.00,386.45 81.00,386.45" fill="none" stroke="#000" stroke-width="1.25"/>
<polygon points="87.50,380.25 91.50,387.15 83.50,387.15" fill="none" stroke="#000" stroke-width="1.25"/>
<polygon points="86.30,385.25 90.30,392.15 82.30,392.15" fill="none" stroke="#000" stroke-width="1.25"/>
<polygon points="80.00,409.05 84.00,415.95 76.00,415.95" fill="none" stroke="#000" stroke-width="1.25"/>
<polygon points="86.30,407.55 90.30,414.45 82.30,414.45" fill="none" stroke="#000" stroke-width="1.25"/>
<polygon points="92.50,409.05 96.50,415.95 88.50,415.95" fill="none" stroke="#000" stroke-width="1.25"/>
<polygon points="88.70,416.55 92.70,423.45 84.70,423.45" fill="none" stroke="#000" stroke-width="1.25"/>
<polygon points="84.50,419.55 88.50,426.45 80.50,426.45" fill="none" stroke="#000" stroke-width="1.25"/>
<polygon points="83.00,401.55 87.00,408.45 79.00,408.45" fill="none" stroke="#000" stroke-width="1.25"/>
<polygon points="90.00,402.55 94.00,409.45 86.00,409.45" fill="none" stroke="#000" stroke-width="1.25"/>
<polygon points="166.50,303.25 170.50,310.15 162.50,310.15" fill="none" stroke="#000" stroke-width="1.25"/>
<polygon points="166.50,347.75 170.50,354.65 162.50,354.65" fill="none" stroke="#000" stroke-width="1.25"/>
<polygon points="160.00,369.55 164.00,376.45 156.00,376.45" fill="none" stroke="#000" stroke-width="1.25"/>
<polygon points="169.70,369.25 173.70,376.15 165.70,376.15" fill="none" stroke="#000" stroke-width="1.25"/>
<polygon points="172.70,373.85 176.70,380.75 168.70,380.75" fill="none" stroke="#000" stroke-width="1.25"/>
<polygon points="162.50,382.55 166.50,389.45 158.50,389.45" fill="none" stroke="#000" stroke-width="1.25"/>
<polygon points="166.30,404.05 170.30,410.95 162.30,410.95" fill="none" stroke="#000" stroke-width="1.25"/>
<polygon points="160.00,410.25 164.00,417.15 156.00,417.15" fill="none" stroke="#000" stroke-width="1.25"/>
<polygon points="163.70,411.55 167.70,418.45 159.70,418.45" fill="none" stroke="#000" stroke-width="1.25"/>
<polygon points="168.70,411.55 172.70,418.45 164.70,418.45" fill="none" stroke="#000" stroke-width="1.25"/>
<polygon points="172.50,410.55 176.50,417.45 168.50,417.45" fill="none" stroke="#000" stroke-width="1.25"/>
<polygon points="165.00,415.25 169.00,422.15 161.00,422.15" fill="none" stroke="#000" stroke-width="1.25"/>
<polygon points="166.00,396.55 170.00,403.45 162.00,403.45" fill="none" stroke="#000" stroke-width="1.25"/>
<polygon points="170.00,416.55 174.00,423.45 166.00,423.45" fill="none" stroke="#000" stroke-width="1.25"/>
<polygon points="246.70,357.55 250.70,364.45 242.70,364.45" fill="none" stroke="#000" stroke-width="1.25"/>
<polygon points="246.70,390.55 250.70,397.45 242.70,397.45" fill="none" stroke="#000" stroke-width="1.25"/>
<polygon points="246.70,406.75 250.70,413.65 242.70,413.65" fill="none" stroke="#000" stroke-width="1.25"/>
<polygon points="243.70,416.55 247.70,423.45 239.70,423.45" fill="none" stroke="#000" stroke-width="1.25"/>
<polygon points="248.70,416.55 252.70,423.45 244.70,423.45" fill="none" stroke="#000" stroke-width="1.25"/>
<polygon points="241.00,422.55 245.00,429.45 237.00,429.45" fill="none" stroke="#000" stroke-width="1.25"/>
<polygon points="246.00,422.55 250.00,429.45 242.00,429.45" fill="none" stroke="#000" stroke-width="1.25"/>
<polygon points="251.00,423.05 255.00,429.95 247.00,429.95" fill="none" stroke="#000" stroke-width="1.25"/>
<polygon points="246.50,424.55 250.50,431.45 242.50,431.45" fill="none" stroke="#000" stroke-width="1.25"/>
<polygon points="105.00,395.45 109.00,388.55 101.00,388.55" fill="none" stroke="#000" stroke-width="1.25"/>
<polygon points="111.30,395.95 115.30,389.05 107.30,389.05" fill="none" stroke="#000" stroke-width="1.25"/>
<polygon points="102.50,403.45 106.50,396.55 98.50,396.55" fill="none" stroke="#000" stroke-width="1.25"/>
<polygon points="108.00,405.45 112.00,398.55 104.00,398.55" fill="none" stroke="#000" stroke-width="1.25"/>
<polygon points="113.70,403.95 117.70,397.05 109.70,397.05" fill="none" stroke="#000" stroke-width="1.25"/>
<polygon points="108.00,420.45 112.00,413.55 104.00,413.55" fill="none" stroke="#000" stroke-width="1.25"/>
<polygon points="108.00,400.45 112.00,393.55 104.00,393.55" fill="none" stroke="#000" stroke-width="1.25"/>
<polygon points="188.70,412.15 192.70,405.25 184.70,405.25" fill="none" stroke="#000" stroke-width="1.25"/>
<polygon points="182.50,424.45 186.50,417.55 178.50,417.55" fill="none" stroke="#000" stroke-width="1.25"/>
<polygon points="185.00,425.45 189.00,418.55 181.00,418.55" fill="none" stroke="#000" stroke-width="1.25"/>
<polygon points="191.20,424.45 195.20,417.55 187.20,417.55" fill="none" stroke="#000" stroke-width="1.25"/>
<polygon points="196.20,424.45 200.20,417.55 192.20,417.55" fill="none" stroke="#000" stroke-width="1.25"/>
<polygon points="188.00,428.95 192.00,422.05 184.00,422.05" fill="none" stroke="#000" stroke-width="1.25"/>
<polygon points="267.70,417.05 271.70,410.15 263.70,410.15" fill="none" stroke="#000" stroke-width="1.25"/>
<polygon points="263.70,427.15 267.70,420.25 259.70,420.25" fill="none" stroke="#000" stroke-width="1.25"/>
<polygon points="270.00,426.45 274.00,419.55 266.00,419.55" fill="none" stroke="#000" stroke-width="1.25"/>
<polygon points="274.50,425.95 278.50,419.05 270.50,419.05" fill="none" stroke="#000" stroke-width="1.25"/>
<polygon points="267.50,431.45 271.50,424.55 263.50,424.55" fill="none" stroke="#000" stroke-width="1.25"/>
<polygon points="264.00,430.45 268.00,423.55 260.00,423.55" fill="none" stroke="#000" stroke-width="1.25"/>
<line x1="55.50" y1="394.50" x2="73.00" y2="394.50" stroke="#000" stroke-width="5.0"/>
<line x1="77.50" y1="405.70" x2="95.50" y2="405.70" stroke="#000" stroke-width="5.0"/>
<line x1="100.00" y1="401.00" x2="117.50" y2="401.00" stroke="#000" stroke-width="5.0"/>
<line x1="136.20" y1="415.50" x2="153.70" y2="415.50" stroke="#000" stroke-width="5.0"/>
<line x1="158.00" y1="400.50" x2="175.50" y2="400.50" stroke="#000" stroke-width="5.0"/>
<line x1="180.00" y1="421.00" x2="197.50" y2="421.00" stroke="#000" stroke-width="5.0"/>
<line x1="216.00" y1="418.50" x2="234.00" y2="418.50" stroke="#000" stroke-width="5.0"/>
<line x1="238.00" y1="427.30" x2="255.50" y2="427.30" stroke="#000" stroke-width="5.0"/>
<line x1="261.00" y1="424.80" x2="277.50" y2="424.80" stroke="#000" stroke-width="5.0"/>
<text x="0.20" y="518.40" font-size="17" font-weight="bold" style="stroke-width:.8px">C</text>
<line x1="60.05" y1="509.35" x2="60.05" y2="651.75" stroke="#000" stroke-width="1.7"/>
<line x1="59.20" y1="651.00" x2="200.00" y2="651.00" stroke="#000" stroke-width="1.5"/>
<line x1="55.35" y1="651.00" x2="60.05" y2="651.00" stroke="#000" stroke-width="1.3"/>
<text x="55.65" y="654.75" font-size="10.5" font-weight="bold" text-anchor="end" letter-spacing="-0.45">0</text>
<line x1="55.35" y1="615.75" x2="60.05" y2="615.75" stroke="#000" stroke-width="1.3"/>
<text x="55.65" y="619.50" font-size="10.5" font-weight="bold" text-anchor="end" letter-spacing="-0.45">20</text>
<line x1="55.35" y1="580.50" x2="60.05" y2="580.50" stroke="#000" stroke-width="1.3"/>
<text x="55.65" y="584.25" font-size="10.5" font-weight="bold" text-anchor="end" letter-spacing="-0.45">40</text>
<line x1="55.35" y1="545.25" x2="60.05" y2="545.25" stroke="#000" stroke-width="1.3"/>
<text x="55.65" y="549.00" font-size="10.5" font-weight="bold" text-anchor="end" letter-spacing="-0.45">60</text>
<line x1="55.35" y1="510.00" x2="60.05" y2="510.00" stroke="#000" stroke-width="1.3"/>
<text x="55.65" y="513.75" font-size="10.5" font-weight="bold" text-anchor="end" letter-spacing="-0.45">80</text>
<line x1="60.00" y1="651.00" x2="60.00" y2="655.50" stroke="#000" stroke-width="1.2"/>
<text x="59.0" y="667" font-size="10" font-weight="bold" text-anchor="middle">10<tspan dy="-4" font-size="6.5">1</tspan></text>
<line x1="70.54" y1="651.00" x2="70.54" y2="653.30" stroke="#000" stroke-width="0.8"/>
<line x1="76.70" y1="651.00" x2="76.70" y2="653.30" stroke="#000" stroke-width="0.8"/>
<line x1="81.07" y1="651.00" x2="81.07" y2="653.30" stroke="#000" stroke-width="0.8"/>
<line x1="84.46" y1="651.00" x2="84.46" y2="653.30" stroke="#000" stroke-width="0.8"/>
<line x1="87.24" y1="651.00" x2="87.24" y2="653.30" stroke="#000" stroke-width="0.8"/>
<line x1="89.58" y1="651.00" x2="89.58" y2="653.30" stroke="#000" stroke-width="0.8"/>
<line x1="91.61" y1="651.00" x2="91.61" y2="653.30" stroke="#000" stroke-width="0.8"/>
<line x1="93.40" y1="651.00" x2="93.40" y2="653.30" stroke="#000" stroke-width="0.8"/>
<line x1="95.00" y1="651.00" x2="95.00" y2="655.50" stroke="#000" stroke-width="1.2"/>
<text x="94.0" y="667" font-size="10" font-weight="bold" text-anchor="middle">10<tspan dy="-4" font-size="6.5">2</tspan></text>
<line x1="105.54" y1="651.00" x2="105.54" y2="653.30" stroke="#000" stroke-width="0.8"/>
<line x1="111.70" y1="651.00" x2="111.70" y2="653.30" stroke="#000" stroke-width="0.8"/>
<line x1="116.07" y1="651.00" x2="116.07" y2="653.30" stroke="#000" stroke-width="0.8"/>
<line x1="119.46" y1="651.00" x2="119.46" y2="653.30" stroke="#000" stroke-width="0.8"/>
<line x1="122.24" y1="651.00" x2="122.24" y2="653.30" stroke="#000" stroke-width="0.8"/>
<line x1="124.58" y1="651.00" x2="124.58" y2="653.30" stroke="#000" stroke-width="0.8"/>
<line x1="126.61" y1="651.00" x2="126.61" y2="653.30" stroke="#000" stroke-width="0.8"/>
<line x1="128.40" y1="651.00" x2="128.40" y2="653.30" stroke="#000" stroke-width="0.8"/>
<line x1="130.00" y1="651.00" x2="130.00" y2="655.50" stroke="#000" stroke-width="1.2"/>
<text x="129.0" y="667" font-size="10" font-weight="bold" text-anchor="middle">10<tspan dy="-4" font-size="6.5">3</tspan></text>
<line x1="140.54" y1="651.00" x2="140.54" y2="653.30" stroke="#000" stroke-width="0.8"/>
<line x1="146.70" y1="651.00" x2="146.70" y2="653.30" stroke="#000" stroke-width="0.8"/>
<line x1="151.07" y1="651.00" x2="151.07" y2="653.30" stroke="#000" stroke-width="0.8"/>
<line x1="154.46" y1="651.00" x2="154.46" y2="653.30" stroke="#000" stroke-width="0.8"/>
<line x1="157.24" y1="651.00" x2="157.24" y2="653.30" stroke="#000" stroke-width="0.8"/>
<line x1="159.58" y1="651.00" x2="159.58" y2="653.30" stroke="#000" stroke-width="0.8"/>
<line x1="161.61" y1="651.00" x2="161.61" y2="653.30" stroke="#000" stroke-width="0.8"/>
<line x1="163.40" y1="651.00" x2="163.40" y2="653.30" stroke="#000" stroke-width="0.8"/>
<line x1="165.00" y1="651.00" x2="165.00" y2="655.50" stroke="#000" stroke-width="1.2"/>
<text x="164.0" y="667" font-size="10" font-weight="bold" text-anchor="middle">10<tspan dy="-4" font-size="6.5">4</tspan></text>
<line x1="175.54" y1="651.00" x2="175.54" y2="653.30" stroke="#000" stroke-width="0.8"/>
<line x1="181.70" y1="651.00" x2="181.70" y2="653.30" stroke="#000" stroke-width="0.8"/>
<line x1="186.07" y1="651.00" x2="186.07" y2="653.30" stroke="#000" stroke-width="0.8"/>
<line x1="189.46" y1="651.00" x2="189.46" y2="653.30" stroke="#000" stroke-width="0.8"/>
<line x1="192.24" y1="651.00" x2="192.24" y2="653.30" stroke="#000" stroke-width="0.8"/>
<line x1="194.58" y1="651.00" x2="194.58" y2="653.30" stroke="#000" stroke-width="0.8"/>
<line x1="196.61" y1="651.00" x2="196.61" y2="653.30" stroke="#000" stroke-width="0.8"/>
<line x1="198.40" y1="651.00" x2="198.40" y2="653.30" stroke="#000" stroke-width="0.8"/>
<line x1="200.00" y1="651.00" x2="200.00" y2="655.50" stroke="#000" stroke-width="1.2"/>
<text x="199.0" y="667" font-size="10" font-weight="bold" text-anchor="middle">10<tspan dy="-4" font-size="6.5">5</tspan></text>
<text x="129.50" y="687.50" font-size="12.8" font-weight="bold" text-anchor="middle">EBV copies in PBMCs</text>
<text x="75.00" y="534.50" font-size="12.7" font-weight="bold">r= 0.53</text>
<text x="75.00" y="549.50" font-size="12.7" font-weight="bold"><tspan font-style="italic">P</tspan> = .042</text>
<text transform="translate(16.20,633.30) rotate(-90)" font-size="12.8" font-weight="bold" textLength="91.6" lengthAdjust="spacingAndGlyphs">%Ki-67<tspan dy="-4" font-size="8">+</tspan><tspan dy="4" font-size="1">&#8203;</tspan> within</text>
<text transform="translate(30.40,649.20) rotate(-90)" font-size="12.8" font-weight="bold" textLength="124.2" lengthAdjust="spacingAndGlyphs">CD56<tspan dy="-4" font-size="7.5">dim</tspan><tspan dy="4" font-size="1">&#8203;</tspan> NKG2A<tspan dy="-4" font-size="8">+</tspan><tspan dy="4" font-size="1">&#8203;</tspan> KIR<tspan dy="-4" font-size="8">-</tspan><tspan dy="4" font-size="1">&#8203;</tspan></text>
<circle cx="84.00" cy="637.00" r="4.1" fill="none" stroke="#000" stroke-width="1.2"/>
<circle cx="113.50" cy="633.50" r="4.1" fill="none" stroke="#000" stroke-width="1.2"/>
<circle cx="132.50" cy="633.50" r="4.1" fill="none" stroke="#000" stroke-width="1.2"/>
<circle cx="136.70" cy="595.50" r="4.1" fill="none" stroke="#000" stroke-width="1.2"/>
<circle cx="149.70" cy="591.50" r="4.1" fill="none" stroke="#000" stroke-width="1.2"/>
<circle cx="145.70" cy="569.20" r="4.1" fill="none" stroke="#000" stroke-width="1.2"/>
<circle cx="171.50" cy="524.50" r="4.1" fill="none" stroke="#000" stroke-width="1.2"/>
<circle cx="181.50" cy="591.40" r="4.1" fill="none" stroke="#000" stroke-width="1.2"/>
<circle cx="181.60" cy="605.00" r="4.1" fill="none" stroke="#000" stroke-width="1.2"/>
<circle cx="145.50" cy="623.00" r="4.1" fill="none" stroke="#000" stroke-width="1.2"/>
<circle cx="154.50" cy="618.20" r="4.1" fill="none" stroke="#000" stroke-width="1.2"/>
<circle cx="158.00" cy="619.50" r="4.1" fill="none" stroke="#000" stroke-width="1.2"/>
<circle cx="145.20" cy="631.20" r="4.1" fill="none" stroke="#000" stroke-width="1.2"/>
<circle cx="149.50" cy="632.50" r="4.1" fill="none" stroke="#000" stroke-width="1.2"/>
<circle cx="163.50" cy="634.50" r="4.1" fill="none" stroke="#000" stroke-width="1.2"/>
<text x="235.20" y="518.40" font-size="17.3" font-weight="bold" style="stroke-width:.8px">D</text>
<text x="300.50" y="534.40" font-size="12.5" font-weight="bold" textLength="51.6" lengthAdjust="spacingAndGlyphs">IM acute</text>
<text x="394.20" y="534.40" font-size="12.5" font-weight="bold" textLength="68" lengthAdjust="spacingAndGlyphs">IM 1 month</text>
<clipPath id="d1"><rect x="269.3" y="540.1" width="101.44999999999999" height="101.0"/></clipPath>
<g clip-path="url(#d1)">
<path d="M273.6 628.3h0.65M274.0 618.8h0.65M274.1 628.6h0.65M274.4 615.8h0.65M274.5 613.7h0.65M274.8 618.3h0.65M275.0 593.6h0.65M275.4 627.0h0.65M276.4 605.8h0.65M276.8 625.5h0.65M276.8 622.6h0.65M277.0 620.8h0.65M277.5 616.8h0.65M277.5 595.1h0.65M277.7 612.9h0.65M278.0 621.5h0.65M278.1 623.5h0.65M278.2 591.6h0.65M278.3 577.6h0.65M278.4 631.0h0.65M278.8 612.6h0.65M279.2 617.3h0.65M279.6 613.9h0.65M279.6 590.3h0.65M279.7 614.9h0.65M279.8 623.4h0.65M279.9 616.3h0.65M279.9 618.8h0.65M280.0 614.6h0.65M280.0 620.6h0.65M280.1 616.2h0.65M280.2 621.1h0.65M280.4 578.5h0.65M280.5 617.8h0.65M280.7 614.2h0.65M280.7 593.4h0.65M280.7 615.5h0.65M280.9 621.6h0.65M280.9 593.9h0.65M281.0 624.2h0.65M281.0 619.0h0.65M281.0 602.2h0.65M281.1 585.7h0.65M281.2 623.1h0.65M281.3 588.6h0.65M281.3 620.1h0.65M281.4 613.4h0.65M281.5 616.2h0.65M281.6 598.3h0.65M281.6 589.8h0.65M281.7 590.1h0.65M281.7 626.5h0.65M281.7 583.4h0.65M281.8 621.3h0.65M281.8 610.2h0.65M281.8 623.7h0.65M281.9 627.5h0.65M281.9 578.5h0.65M282.1 613.5h0.65M282.1 621.0h0.65M282.3 578.1h0.65M282.3 616.8h0.65M282.3 622.0h0.65M282.4 569.3h0.65M282.4 616.1h0.65M282.4 582.2h0.65M282.5 615.7h0.65M282.5 582.4h0.65M282.5 622.2h0.65M282.6 621.1h0.65M282.6 617.7h0.65M282.6 622.1h0.65M282.6 618.1h0.65M282.7 622.7h0.65M282.8 619.4h0.65M282.8 621.8h0.65M283.0 624.1h0.65M283.0 613.5h0.65M283.0 586.8h0.65M283.0 605.1h0.65M283.1 622.9h0.65M283.2 624.1h0.65M283.3 599.2h0.65M283.3 583.9h0.65M283.3 619.8h0.65M283.3 619.6h0.65M283.3 624.2h0.65M283.4 613.1h0.65M283.4 622.4h0.65M283.4 584.9h0.65M283.4 616.4h0.65M283.5 616.9h0.65M283.5 579.1h0.65M283.5 618.0h0.65M283.6 622.2h0.65M283.6 605.3h0.65M283.8 616.4h0.65M283.9 603.8h0.65M283.9 574.1h0.65M283.9 617.8h0.65M283.9 617.5h0.65M283.9 616.4h0.65M283.9 616.5h0.65M284.0 579.5h0.65M284.0 573.8h0.65M284.0 594.3h0.65M284.1 616.8h0.65M284.2 618.9h0.65M284.2 614.9h0.65M284.2 617.9h0.65M284.2 592.8h0.65M284.2 600.1h0.65M284.2 576.6h0.65M284.4 616.1h0.65M284.4 615.4h0.65M284.4 617.6h0.65M284.4 587.5h0.65M284.4 629.9h0.65M284.4 591.4h0.65M284.4 602.6h0.65M284.5 572.2h0.65M284.5 618.4h0.65M284.7 615.9h0.65M284.7 621.6h0.65M284.7 617.9h0.65M284.7 623.4h0.65M284.7 572.3h0.65M284.8 614.8h0.65M284.8 623.3h0.65M284.8 625.4h0.65M284.8 591.5h0.65M284.8 616.4h0.65M284.9 623.4h0.65M284.9 610.3h0.65M285.0 621.5h0.65M285.0 621.9h0.65M285.0 622.6h0.65M285.0 618.6h0.65M285.1 593.9h0.65M285.1 578.9h0.65M285.1 616.1h0.65M285.1 619.2h0.65M285.2 627.6h0.65M285.3 607.2h0.65M285.3 625.3h0.65M285.3 570.4h0.65M285.3 623.3h0.65M285.3 623.1h0.65M285.4 614.7h0.65M285.4 572.0h0.65M285.4 580.0h0.65M285.4 614.5h0.65M285.5 615.9h0.65M285.5 614.9h0.65M285.5 626.7h0.65M285.5 615.5h0.65M285.6 616.4h0.65M285.6 616.2h0.65M285.6 584.5h0.65M285.6 595.0h0.65M285.6 606.1h0.65M285.7 567.7h0.65M285.7 587.4h0.65M285.7 578.3h0.65M285.8 588.9h0.65M285.8 585.6h0.65M285.8 577.4h0.65M285.8 623.9h0.65M285.9 625.5h0.65M285.9 613.6h0.65M285.9 620.8h0.65M285.9 584.3h0.65M285.9 586.3h0.65M286.0 578.1h0.65M286.0 591.9h0.65M286.0 625.8h0.65M286.1 623.3h0.65M286.2 570.7h0.65M286.2 579.5h0.65M286.2 589.7h0.65M286.2 588.3h0.65M286.3 623.0h0.65M286.4 593.6h0.65M286.5 614.8h0.65M286.5 596.4h0.65M286.5 601.1h0.65M286.5 579.8h0.65M286.5 587.8h0.65M286.6 595.9h0.65M286.6 622.5h0.65M286.6 625.6h0.65M286.7 611.4h0.65M286.7 585.7h0.65M286.7 622.4h0.65M286.8 622.6h0.65M286.8 588.1h0.65M286.9 576.3h0.65M286.9 581.5h0.65M286.9 623.7h0.65M286.9 613.7h0.65M287.0 614.5h0.65M287.1 595.6h0.65M287.1 614.0h0.65M287.1 574.3h0.65M287.1 573.3h0.65M287.1 612.3h0.65M287.2 595.3h0.65M287.2 625.1h0.65M287.3 622.9h0.65M287.3 613.1h0.65M287.3 587.9h0.65M287.3 595.6h0.65M287.3 624.0h0.65M287.4 628.6h0.65M287.4 602.0h0.65M287.4 614.6h0.65M287.4 571.5h0.65M287.4 595.1h0.65M287.5 613.7h0.65M287.5 584.3h0.65M287.5 572.8h0.65M287.5 625.1h0.65M287.5 583.6h0.65M287.6 601.8h0.65M287.6 580.2h0.65M287.6 609.0h0.65M287.6 614.1h0.65M287.7 586.5h0.65M287.7 613.0h0.65M287.7 611.2h0.65M287.7 585.2h0.65M287.8 596.0h0.65M287.8 593.8h0.65M287.8 606.1h0.65M287.8 600.9h0.65M287.9 593.9h0.65M287.9 623.9h0.65M287.9 612.3h0.65M287.9 613.0h0.65M287.9 607.4h0.65M287.9 576.1h0.65M288.0 590.7h0.65M288.0 571.4h0.65M288.0 585.1h0.65M288.0 621.4h0.65M288.0 608.4h0.65M288.0 593.0h0.65M288.1 612.8h0.65M288.1 598.9h0.65M288.1 583.8h0.65M288.1 592.0h0.65M288.2 596.6h0.65M288.2 603.6h0.65M288.3 597.9h0.65M288.3 590.9h0.65M288.3 591.5h0.65M288.3 611.1h0.65M288.3 588.1h0.65M288.3 597.7h0.65M288.3 581.3h0.65M288.4 558.7h0.65M288.4 590.8h0.65M288.4 592.1h0.65M288.5 601.5h0.65M288.5 585.7h0.65M288.5 600.8h0.65M288.5 576.9h0.65M288.6 613.6h0.65M288.6 584.3h0.65M288.6 586.7h0.65M288.6 586.9h0.65M288.6 587.7h0.65M288.6 587.1h0.65M288.7 624.0h0.65M288.8 607.1h0.65M288.8 599.6h0.65M288.8 585.4h0.65M288.8 626.1h0.65M288.8 581.0h0.65M288.8 624.0h0.65M288.9 584.4h0.65M288.9 625.9h0.65M288.9 573.9h0.65M289.0 569.6h0.65M289.1 592.9h0.65M289.1 624.7h0.65M289.1 577.4h0.65M289.2 584.4h0.65M289.2 576.5h0.65M289.2 612.9h0.65M289.2 554.5h0.65M289.2 627.2h0.65M289.2 592.3h0.65M289.3 578.1h0.65M289.3 624.9h0.65M289.3 591.1h0.65M289.3 600.3h0.65M289.4 597.5h0.65M289.4 624.3h0.65M289.4 594.4h0.65M289.4 611.5h0.65M289.4 581.3h0.65M289.5 582.2h0.65M289.5 606.2h0.65M289.5 588.6h0.65M289.5 583.8h0.65M289.6 624.2h0.65M289.6 591.4h0.65M289.6 586.0h0.65M289.6 603.1h0.65M289.6 600.8h0.65M289.7 585.2h0.65M289.7 571.3h0.65M289.7 594.8h0.65M289.8 567.6h0.65M289.8 591.6h0.65M289.8 578.6h0.65M289.9 625.1h0.65M289.9 613.2h0.65M289.9 602.8h0.65M289.9 617.5h0.65M290.0 582.4h0.65M290.0 596.4h0.65M290.0 607.5h0.65M290.0 583.2h0.65M290.1 592.5h0.65M290.1 592.9h0.65M290.1 587.6h0.65M290.1 612.0h0.65M290.2 611.2h0.65M290.2 628.7h0.65M290.2 587.2h0.65M290.2 574.2h0.65M290.3 611.4h0.65M290.3 579.8h0.65M290.3 587.0h0.65M290.3 580.2h0.65M290.4 601.3h0.65M290.4 609.9h0.65M290.5 631.3h0.65M290.5 600.1h0.65M290.5 597.0h0.65M290.5 611.9h0.65M290.5 607.3h0.65M290.6 581.1h0.65M290.6 570.0h0.65M290.6 598.5h0.65M290.6 606.1h0.65M290.7 583.5h0.65M290.7 586.2h0.65M290.7 599.4h0.65M290.7 598.1h0.65M290.7 606.3h0.65M290.7 602.3h0.65M290.8 610.7h0.65M290.8 626.5h0.65M290.8 607.4h0.65M290.9 585.8h0.65M290.9 591.6h0.65M290.9 589.4h0.65M290.9 584.4h0.65M290.9 577.9h0.65M291.0 582.6h0.65M291.0 580.9h0.65M291.0 573.0h0.65M291.1 591.6h0.65M291.1 607.7h0.65M291.1 597.4h0.65M291.1 610.3h0.65M291.1 566.7h0.65M291.2 582.7h0.65M291.2 609.3h0.65M291.2 599.2h0.65M291.2 610.8h0.65M291.2 586.2h0.65M291.2 585.4h0.65M291.2 582.6h0.65M291.2 592.9h0.65M291.3 593.3h0.65M291.3 610.8h0.65M291.3 588.4h0.65M291.3 579.7h0.65M291.4 580.0h0.65M291.4 592.8h0.65M291.4 588.4h0.65M291.4 612.0h0.65M291.4 626.4h0.65M291.4 596.3h0.65M291.4 594.5h0.65M291.4 586.9h0.65M291.5 611.9h0.65M291.6 601.6h0.65M291.6 579.7h0.65M291.6 585.1h0.65M291.6 593.5h0.65M291.6 632.2h0.65M291.6 594.0h0.65M291.6 567.1h0.65M291.6 586.1h0.65M291.6 592.4h0.65M291.7 625.5h0.65M291.7 612.3h0.65M291.7 584.9h0.65M291.7 576.1h0.65M291.7 571.3h0.65M291.7 572.1h0.65M291.8 603.8h0.65M291.8 583.4h0.65M291.9 610.7h0.65M291.9 611.2h0.65M291.9 578.3h0.65M291.9 577.1h0.65M292.0 567.8h0.65M292.0 593.0h0.65M292.0 579.4h0.65M292.1 595.9h0.65M292.1 586.2h0.65M292.1 578.5h0.65M292.1 611.9h0.65M292.1 594.0h0.65M292.1 581.5h0.65M292.2 627.9h0.65M292.2 577.6h0.65M292.2 575.5h0.65M292.2 585.1h0.65M292.2 585.6h0.65M292.2 586.2h0.65M292.3 596.2h0.65M292.3 586.7h0.65M292.3 594.4h0.65M292.3 572.9h0.65M292.3 602.5h0.65M292.3 584.5h0.65M292.3 592.4h0.65M292.4 573.6h0.65M292.4 599.7h0.65M292.4 570.0h0.65M292.4 628.7h0.65M292.4 579.3h0.65M292.4 632.2h0.65M292.4 585.5h0.65M292.5 582.2h0.65M292.5 586.7h0.65M292.6 591.5h0.65M292.6 604.8h0.65M292.6 579.0h0.65M292.6 557.1h0.65M292.7 604.9h0.65M292.7 632.0h0.65M292.7 575.3h0.65M292.7 589.9h0.65M292.7 573.7h0.65M292.7 627.2h0.65M292.7 608.0h0.65M292.7 610.2h0.65M292.7 596.6h0.65M292.7 568.4h0.65M292.8 605.4h0.65M292.8 601.2h0.65M292.9 564.2h0.65M292.9 611.5h0.65M292.9 594.8h0.65M292.9 563.9h0.65M292.9 628.1h0.65M292.9 625.9h0.65M293.0 629.9h0.65M293.0 595.0h0.65M293.0 560.8h0.65M293.0 601.3h0.65M293.1 608.0h0.65M293.1 604.3h0.65M293.1 598.2h0.65M293.1 626.3h0.65M293.1 602.5h0.65M293.1 584.6h0.65M293.1 585.5h0.65M293.2 575.1h0.65M293.2 588.4h0.65M293.2 611.1h0.65M293.2 595.3h0.65M293.2 574.4h0.65M293.2 610.4h0.65M293.2 594.0h0.65M293.3 591.3h0.65M293.3 589.7h0.65M293.3 585.9h0.65M293.3 611.4h0.65M293.3 588.2h0.65M293.3 576.3h0.65M293.4 567.0h0.65M293.4 574.1h0.65M293.4 612.5h0.65M293.4 594.2h0.65M293.4 580.6h0.65M293.4 628.7h0.65M293.4 573.0h0.65M293.4 588.9h0.65M293.4 610.3h0.65M293.5 582.2h0.65M293.5 582.5h0.65M293.5 631.3h0.65M293.5 594.3h0.65M293.5 608.8h0.65M293.5 595.5h0.65M293.5 595.3h0.65M293.5 566.6h0.65M293.6 602.7h0.65M293.6 565.8h0.65M293.6 611.1h0.65M293.6 593.2h0.65M293.7 581.3h0.65M293.7 592.7h0.65M293.7 573.7h0.65M293.7 580.6h0.65M293.7 583.4h0.65M293.8 577.6h0.65M293.8 603.1h0.65M293.8 569.0h0.65M293.8 607.2h0.65M293.8 579.2h0.65M293.8 589.8h0.65M293.9 580.6h0.65M293.9 591.0h0.65M293.9 586.5h0.65M293.9 602.2h0.65M294.0 593.3h0.65M294.0 610.6h0.65M294.0 590.7h0.65M294.0 594.5h0.65M294.0 576.9h0.65M294.0 577.5h0.65M294.1 595.2h0.65M294.1 572.5h0.65M294.1 596.8h0.65M294.1 576.6h0.65M294.1 576.4h0.65M294.1 588.0h0.65M294.2 600.7h0.65M294.2 627.5h0.65M294.2 583.7h0.65M294.2 601.5h0.65M294.2 598.1h0.65M294.3 596.2h0.65M294.3 608.5h0.65M294.3 600.7h0.65M294.3 574.4h0.65M294.3 599.1h0.65M294.4 576.7h0.65M294.4 574.7h0.65M294.5 596.8h0.65M294.5 594.4h0.65M294.5 594.7h0.65M294.5 591.4h0.65M294.6 599.5h0.65M294.6 614.0h0.65M294.6 566.1h0.65M294.6 589.8h0.65M294.6 602.6h0.65M294.7 573.6h0.65M294.7 601.5h0.65M294.7 596.3h0.65M294.7 592.5h0.65M294.7 576.3h0.65M294.7 592.9h0.65M294.7 599.1h0.65M294.7 596.4h0.65M294.7 585.5h0.65M294.7 560.7h0.65M294.7 581.0h0.65M294.7 589.3h0.65M294.8 582.6h0.65M294.8 570.1h0.65M294.8 602.6h0.65M294.8 583.8h0.65M294.8 584.9h0.65M294.8 626.5h0.65M294.8 628.9h0.65M294.8 583.0h0.65M294.9 610.0h0.65M294.9 580.8h0.65M294.9 597.7h0.65M294.9 603.8h0.65M294.9 581.0h0.65M294.9 609.9h0.65M294.9 574.2h0.65M295.0 630.2h0.65M295.0 590.6h0.65M295.0 578.3h0.65M295.0 587.9h0.65M295.0 579.8h0.65M295.1 580.9h0.65M295.1 569.9h0.65M295.1 595.0h0.65M295.2 596.8h0.65M295.2 575.0h0.65M295.2 580.7h0.65M295.2 599.4h0.65M295.2 626.2h0.65M295.2 566.3h0.65M295.2 607.6h0.65M295.2 603.5h0.65M295.2 604.2h0.65M295.2 596.0h0.65M295.3 574.5h0.65M295.3 604.9h0.65M295.3 605.3h0.65M295.3 602.5h0.65M295.3 605.4h0.65M295.3 587.0h0.65M295.3 575.4h0.65M295.4 579.1h0.65M295.4 598.3h0.65M295.4 607.9h0.65M295.4 587.4h0.65M295.4 573.0h0.65M295.4 594.7h0.65M295.4 577.6h0.65M295.5 576.3h0.65M295.5 604.0h0.65M295.5 588.5h0.65M295.5 602.2h0.65M295.5 575.6h0.65M295.5 583.7h0.65M295.5 607.5h0.65M295.5 581.4h0.65M295.5 575.9h0.65M295.6 590.4h0.65M295.6 567.2h0.65M295.6 585.3h0.65M295.6 580.6h0.65M295.6 610.0h0.65M295.6 569.6h0.65M295.6 603.8h0.65M295.6 590.7h0.65M295.6 604.7h0.65M295.6 594.3h0.65M295.6 590.0h0.65M295.7 589.3h0.65M295.7 579.6h0.65M295.7 582.9h0.65M295.7 590.9h0.65M295.7 609.2h0.65M295.8 605.8h0.65M295.8 595.6h0.65M295.8 603.1h0.65M295.8 601.5h0.65M295.8 596.5h0.65M295.8 609.7h0.65M295.8 609.5h0.65M295.9 629.3h0.65M295.9 631.9h0.65M295.9 587.3h0.65M295.9 566.4h0.65M295.9 607.0h0.65M295.9 614.9h0.65M295.9 587.8h0.65M295.9 575.4h0.65M295.9 584.6h0.65M296.0 576.4h0.65M296.0 585.9h0.65M296.0 570.2h0.65M296.1 583.9h0.65M296.1 627.4h0.65M296.1 572.6h0.65M296.1 581.2h0.65M296.1 575.7h0.65M296.1 583.8h0.65M296.1 570.8h0.65M296.1 583.7h0.65M296.1 591.1h0.65M296.1 628.1h0.65M296.1 587.1h0.65M296.2 584.0h0.65M296.2 568.4h0.65M296.2 585.4h0.65M296.2 627.5h0.65M296.2 606.7h0.65M296.2 606.1h0.65M296.2 583.5h0.65M296.3 581.1h0.65M296.3 639.4h0.65M296.3 592.1h0.65M296.3 582.1h0.65M296.3 608.5h0.65M296.4 574.5h0.65M296.4 630.3h0.65M296.4 582.0h0.65M296.4 579.0h0.65M296.4 602.0h0.65M296.4 605.4h0.65M296.5 574.8h0.65M296.6 571.9h0.65M296.6 575.6h0.65M296.6 626.8h0.65M296.7 572.5h0.65M296.7 585.7h0.65M296.8 600.2h0.65M296.8 626.8h0.65M296.8 587.2h0.65M296.8 590.6h0.65M296.8 629.9h0.65M296.8 626.9h0.65M296.8 578.5h0.65M296.8 631.1h0.65M296.8 592.6h0.65M296.8 596.2h0.65M296.9 597.0h0.65M296.9 580.2h0.65M297.0 588.2h0.65M297.1 586.2h0.65M297.2 630.5h0.65M297.2 597.9h0.65M297.2 592.7h0.65M297.3 572.2h0.65M297.3 599.3h0.65M297.3 566.0h0.65M297.3 575.5h0.65M297.3 562.9h0.65M297.4 566.6h0.65M297.4 578.9h0.65M297.4 590.7h0.65M297.5 629.5h0.65M297.5 578.3h0.65M297.5 630.6h0.65M297.5 601.6h0.65M297.6 595.0h0.65M297.6 575.4h0.65M297.7 591.0h0.65M297.7 573.8h0.65M297.7 609.9h0.65M297.8 578.1h0.65M297.8 604.8h0.65M297.8 627.3h0.65M297.9 571.8h0.65M297.9 606.1h0.65M298.0 597.6h0.65M298.0 597.3h0.65M298.0 574.3h0.65M298.0 571.0h0.65M298.0 581.5h0.65M298.1 599.4h0.65M298.2 588.3h0.65M298.2 596.7h0.65M298.2 627.1h0.65M298.3 591.3h0.65M298.3 630.0h0.65M298.3 570.6h0.65M298.3 590.2h0.65M298.4 570.8h0.65M298.4 588.2h0.65M298.4 627.5h0.65M298.5 565.2h0.65M298.5 574.3h0.65M298.5 591.7h0.65M298.5 605.7h0.65M298.7 570.6h0.65M298.7 568.0h0.65M298.7 594.5h0.65M298.8 587.5h0.65M298.8 591.0h0.65M298.8 597.5h0.65M298.9 574.5h0.65M298.9 600.6h0.65M299.0 635.7h0.65M299.2 631.5h0.65M299.3 566.1h0.65M299.4 596.2h0.65M299.4 606.6h0.65M299.4 587.9h0.65M299.4 629.2h0.65M299.5 574.9h0.65M299.5 606.7h0.65M299.6 575.4h0.65M299.6 576.4h0.65M299.7 595.7h0.65M299.8 627.6h0.65M299.8 597.7h0.65M299.9 597.0h0.65M299.9 584.5h0.65M299.9 627.4h0.65M299.9 591.7h0.65M300.0 571.0h0.65M300.0 557.8h0.65M300.0 592.8h0.65M300.0 597.9h0.65M300.2 628.0h0.65M300.2 635.2h0.65M300.3 628.6h0.65M300.4 629.6h0.65M300.4 592.0h0.65M300.4 582.1h0.65M300.5 605.1h0.65M300.6 627.6h0.65M300.6 578.2h0.65M300.7 627.7h0.65M300.7 600.9h0.65M300.7 608.3h0.65M300.7 569.0h0.65M300.8 564.5h0.65M300.8 570.3h0.65M300.9 564.5h0.65M300.9 600.9h0.65M300.9 573.4h0.65M301.0 627.2h0.65M301.1 604.8h0.65M301.1 560.9h0.65M301.2 597.6h0.65M301.3 572.9h0.65M301.3 594.3h0.65M301.4 627.8h0.65M301.4 579.2h0.65M301.6 572.5h0.65M301.6 587.6h0.65M301.6 579.1h0.65M301.6 591.5h0.65M301.8 569.0h0.65M301.9 636.4h0.65M301.9 634.5h0.65M301.9 579.7h0.65M302.0 571.7h0.65M302.1 567.8h0.65M302.1 628.3h0.65M302.2 597.5h0.65M302.2 627.7h0.65M302.3 565.6h0.65M302.3 628.4h0.65M302.3 628.9h0.65M302.3 636.8h0.65M302.3 571.4h0.65M302.4 572.6h0.65M302.5 579.8h0.65M302.5 636.5h0.65M302.6 573.3h0.65M302.7 580.7h0.65M302.7 628.5h0.65M302.8 630.8h0.65M302.8 629.1h0.65M302.9 573.2h0.65M302.9 588.9h0.65M303.0 568.7h0.65M303.0 628.6h0.65M303.1 583.7h0.65M303.1 562.8h0.65M303.2 627.5h0.65M303.3 631.3h0.65M303.3 566.5h0.65M303.4 570.0h0.65M303.4 627.8h0.65M303.5 576.1h0.65M303.5 630.3h0.65M303.6 637.7h0.65M303.7 589.7h0.65M303.7 578.8h0.65M303.9 573.7h0.65M303.9 629.8h0.65M303.9 571.5h0.65M304.0 588.4h0.65M304.1 627.7h0.65M304.1 591.3h0.65M304.2 592.8h0.65M304.3 571.0h0.65M304.4 568.4h0.65M304.4 582.5h0.65M304.6 632.6h0.65M304.8 631.0h0.65M304.8 627.9h0.65M304.9 585.5h0.65M305.1 556.1h0.65M305.2 630.1h0.65M305.2 570.0h0.65M305.2 565.0h0.65M305.2 568.6h0.65M305.4 627.7h0.65M305.5 580.6h0.65M305.5 606.1h0.65M305.5 603.8h0.65M305.6 629.4h0.65M305.7 580.0h0.65M305.8 585.6h0.65M305.8 593.8h0.65M306.0 567.3h0.65M306.2 577.2h0.65M306.4 574.7h0.65M306.4 592.1h0.65M306.5 573.1h0.65M306.5 572.9h0.65M306.7 569.2h0.65M306.7 599.1h0.65M306.7 628.9h0.65M306.8 595.8h0.65M306.8 629.5h0.65M306.9 629.6h0.65M307.0 583.9h0.65M307.0 637.4h0.65M307.0 572.7h0.65M307.1 575.4h0.65M307.1 592.3h0.65M307.1 572.9h0.65M307.1 629.1h0.65M307.1 563.3h0.65M307.2 627.5h0.65M307.3 574.2h0.65M307.4 627.4h0.65M307.5 590.6h0.65M307.5 575.2h0.65M307.5 595.6h0.65M307.6 627.4h0.65M307.7 627.8h0.65M307.7 606.8h0.65M307.7 575.5h0.65M307.8 629.0h0.65M307.9 573.6h0.65M308.0 629.2h0.65M308.0 566.8h0.65M308.1 627.9h0.65M308.3 630.1h0.65M308.4 571.5h0.65M308.4 631.3h0.65M308.5 629.6h0.65M308.5 573.1h0.65M308.6 587.9h0.65M308.6 578.7h0.65M308.8 573.1h0.65M308.9 627.7h0.65M309.0 572.1h0.65M309.0 577.2h0.65M309.1 606.7h0.65M309.2 572.7h0.65M309.3 579.4h0.65M309.3 634.0h0.65M309.4 575.4h0.65M309.4 606.4h0.65M309.4 628.6h0.65M309.4 576.7h0.65M309.5 582.3h0.65M309.6 579.3h0.65M309.7 607.9h0.65M309.8 603.6h0.65M309.8 601.8h0.65M309.8 577.5h0.65M309.9 575.9h0.65M309.9 594.1h0.65M310.0 609.0h0.65M310.0 602.4h0.65M310.0 590.7h0.65M310.1 581.3h0.65M310.1 597.9h0.65M310.1 601.0h0.65M310.2 606.0h0.65M310.2 580.8h0.65M310.2 597.2h0.65M310.3 629.0h0.65M310.3 597.8h0.65M310.3 574.0h0.65M310.3 580.0h0.65M310.3 593.1h0.65M310.4 590.3h0.65M310.4 603.4h0.65M310.4 577.0h0.65M310.5 595.9h0.65M310.5 627.3h0.65M310.6 589.6h0.65M310.6 609.1h0.65M310.6 638.1h0.65M310.7 633.5h0.65M310.7 609.1h0.65M310.8 594.6h0.65M310.8 608.2h0.65M310.8 590.4h0.65M310.8 584.9h0.65M310.9 578.2h0.65M311.0 600.5h0.65M311.0 628.8h0.65M311.1 586.4h0.65M311.1 609.7h0.65M311.2 630.2h0.65M311.2 592.1h0.65M311.2 583.3h0.65M311.2 598.4h0.65M311.3 583.3h0.65M311.3 591.4h0.65M311.3 609.3h0.65M311.3 605.9h0.65M311.4 594.4h0.65M311.4 627.2h0.65M311.4 627.6h0.65M311.4 581.6h0.65M311.4 609.5h0.65M311.4 606.0h0.65M311.5 583.3h0.65M311.6 633.4h0.65M311.7 594.2h0.65M311.7 609.8h0.65M311.8 592.6h0.65M311.8 627.1h0.65M311.8 604.2h0.65M311.8 603.3h0.65M311.9 628.6h0.65M311.9 578.7h0.65M311.9 627.2h0.65M311.9 605.8h0.65M312.0 569.7h0.65M312.0 629.1h0.65M312.1 598.7h0.65M312.2 609.9h0.65M312.2 599.5h0.65M312.2 610.1h0.65M312.3 592.6h0.65M312.3 584.8h0.65M312.3 594.5h0.65M312.5 605.8h0.65M312.6 610.0h0.65M312.6 628.0h0.65M312.7 566.5h0.65M312.7 607.7h0.65M312.7 582.0h0.65M312.8 597.2h0.65M312.8 606.1h0.65M312.8 629.7h0.65M312.8 586.3h0.65M312.9 599.4h0.65M312.9 628.5h0.65M312.9 628.1h0.65M313.0 610.1h0.65M313.1 607.8h0.65M313.2 606.9h0.65M313.2 568.5h0.65M313.2 630.2h0.65M313.3 610.5h0.65M313.3 584.5h0.65M313.3 586.5h0.65M313.3 568.9h0.65M313.4 629.9h0.65M313.4 627.8h0.65M313.5 627.4h0.65M313.5 608.0h0.65M313.5 608.0h0.65M313.6 606.7h0.65M313.6 577.6h0.65M313.7 628.7h0.65M313.8 591.8h0.65M313.9 602.4h0.65M313.9 603.5h0.65M314.0 598.4h0.65M314.0 628.9h0.65M314.0 630.9h0.65M314.3 576.5h0.65M314.3 593.9h0.65M314.4 601.3h0.65M314.5 627.4h0.65M314.5 605.6h0.65M314.5 609.9h0.65M314.6 599.0h0.65M314.6 587.6h0.65M314.6 628.9h0.65M314.6 584.9h0.65M314.7 608.7h0.65M314.7 600.0h0.65M314.8 608.9h0.65M314.9 598.9h0.65M315.0 606.0h0.65M315.0 610.4h0.65M315.0 631.0h0.65M315.2 606.7h0.65M315.4 571.5h0.65M315.6 610.2h0.65M315.6 606.8h0.65M315.7 607.1h0.65M315.8 627.4h0.65M315.9 626.8h0.65M316.0 592.3h0.65M316.1 609.9h0.65M316.1 594.8h0.65M316.2 608.9h0.65M316.3 627.6h0.65M316.3 598.5h0.65M316.5 633.1h0.65M316.6 606.0h0.65M316.6 584.0h0.65M316.6 610.3h0.65M316.6 609.3h0.65M316.9 629.4h0.65M317.0 598.3h0.65M317.0 610.3h0.65M317.1 575.1h0.65M317.2 626.9h0.65M317.2 606.6h0.65M317.2 610.9h0.65M317.2 575.3h0.65M317.4 629.1h0.65M317.5 622.1h0.65M317.6 591.0h0.65M317.7 626.5h0.65M317.8 562.4h0.65M317.8 584.4h0.65M317.8 597.6h0.65M317.8 628.2h0.65M317.9 572.7h0.65M318.0 611.0h0.65M318.0 628.5h0.65M318.1 581.1h0.65M318.1 628.8h0.65M318.1 608.1h0.65M318.2 628.8h0.65M318.2 628.8h0.65M318.3 579.5h0.65M318.5 591.8h0.65M318.6 608.2h0.65M318.6 626.9h0.65M318.6 616.2h0.65M318.6 609.9h0.65M318.7 604.0h0.65M318.7 630.1h0.65M318.7 626.9h0.65M318.7 586.2h0.65M318.7 611.0h0.65M318.8 612.9h0.65M318.8 610.1h0.65M319.0 626.8h0.65M319.1 605.8h0.65M319.1 608.1h0.65M319.1 609.2h0.65M319.3 574.7h0.65M319.6 630.4h0.65M319.6 605.2h0.65M319.6 588.5h0.65M319.7 627.2h0.65M319.7 610.2h0.65M319.7 605.0h0.65M319.9 595.8h0.65M320.2 627.9h0.65M320.3 629.0h0.65M320.7 610.6h0.65M320.7 626.3h0.65M320.7 628.8h0.65M320.9 603.1h0.65M320.9 579.4h0.65M321.0 588.4h0.65M321.1 609.3h0.65M321.1 610.5h0.65M321.1 609.9h0.65M321.1 611.4h0.65M321.3 573.5h0.65M321.3 597.8h0.65M321.3 630.2h0.65M321.5 627.5h0.65M321.6 581.3h0.65M321.7 604.4h0.65M321.7 609.2h0.65M321.8 606.4h0.65M321.8 609.9h0.65M321.9 610.0h0.65M321.9 606.5h0.65M321.9 628.8h0.65M322.0 626.6h0.65M322.0 611.5h0.65M322.1 608.2h0.65M322.2 627.6h0.65M322.3 626.6h0.65M322.4 611.5h0.65M322.4 628.6h0.65M322.7 610.4h0.65M322.8 626.7h0.65M322.8 611.5h0.65M323.1 627.7h0.65M323.2 602.9h0.65M323.2 606.5h0.65M323.3 607.9h0.65M323.4 587.3h0.65M323.4 611.3h0.65M323.5 596.7h0.65M323.6 611.6h0.65M323.6 582.0h0.65M323.8 611.9h0.65M323.8 626.8h0.65M324.0 629.3h0.65M324.0 630.5h0.65M324.0 571.3h0.65M324.0 611.8h0.65M324.1 629.6h0.65M324.2 606.8h0.65M324.3 614.3h0.65M324.5 625.7h0.65M324.5 630.2h0.65M324.7 632.1h0.65M324.8 580.0h0.65M325.0 629.1h0.65M325.1 606.3h0.65M325.2 611.8h0.65M325.4 612.3h0.65M325.5 606.9h0.65M325.5 612.4h0.65M325.6 610.3h0.65M325.7 612.3h0.65M326.1 625.3h0.65M326.2 625.4h0.65M326.2 627.7h0.65M326.3 625.0h0.65M326.3 627.5h0.65M326.3 609.8h0.65M326.4 608.3h0.65M326.5 624.9h0.65M326.6 612.0h0.65M326.7 626.6h0.65M326.8 612.5h0.65M326.8 625.6h0.65M327.1 611.8h0.65M327.1 626.9h0.65M327.3 624.7h0.65M327.3 625.6h0.65M327.5 625.8h0.65M327.6 607.2h0.65M327.7 624.3h0.65M327.7 611.7h0.65M327.8 630.2h0.65M328.1 612.2h0.65M328.1 612.9h0.65M328.2 611.7h0.65M328.2 612.5h0.65M328.3 612.8h0.65M328.3 612.4h0.65M328.4 564.0h0.65M328.4 627.1h0.65M328.4 588.0h0.65M328.5 625.0h0.65M328.6 625.0h0.65M328.6 624.4h0.65M328.6 612.9h0.65M328.6 625.8h0.65M328.9 612.5h0.65M329.0 627.3h0.65M329.0 613.5h0.65M329.0 610.8h0.65M329.3 612.4h0.65M329.3 610.5h0.65M329.3 625.9h0.65M329.4 624.7h0.65M329.4 626.0h0.65M329.5 625.7h0.65M329.5 623.8h0.65M329.7 624.1h0.65M329.7 611.6h0.65M329.9 629.3h0.65M330.1 612.0h0.65M330.4 611.9h0.65M330.4 627.3h0.65M330.4 623.1h0.65M330.5 608.7h0.65M330.5 623.5h0.65M330.6 611.4h0.65M330.7 625.2h0.65M330.8 624.4h0.65M330.8 613.3h0.65M330.8 626.1h0.65M330.8 623.1h0.65M330.9 625.6h0.65M331.1 625.7h0.65M331.1 626.5h0.65M331.2 612.3h0.65M331.2 613.2h0.65M331.3 626.2h0.65M331.4 614.0h0.65M331.5 612.4h0.65M331.6 622.1h0.65M331.6 624.2h0.65M331.7 614.6h0.65M331.7 622.9h0.65M332.0 622.6h0.65M332.0 624.5h0.65M332.0 621.9h0.65M332.5 620.3h0.65M332.5 622.8h0.65M332.5 615.7h0.65M332.6 613.0h0.65M332.7 619.9h0.65M332.7 604.6h0.65M332.8 616.3h0.65M332.9 620.4h0.65M332.9 613.6h0.65M332.9 619.4h0.65M333.0 616.5h0.65M333.0 613.5h0.65M333.0 623.7h0.65M333.0 623.8h0.65M333.1 616.5h0.65M333.2 622.4h0.65M333.2 629.9h0.65M333.2 616.0h0.65M333.3 619.8h0.65M333.3 619.6h0.65M333.3 626.2h0.65M333.3 623.1h0.65M333.3 626.1h0.65M333.4 624.2h0.65M333.4 615.1h0.65M333.4 612.7h0.65M333.5 617.0h0.65M333.5 619.4h0.65M333.5 629.7h0.65M333.5 623.7h0.65M333.5 619.4h0.65M333.5 620.6h0.65M333.6 627.9h0.65M333.6 618.6h0.65M333.7 621.3h0.65M333.7 609.1h0.65M333.7 619.7h0.65M333.8 622.8h0.65M333.8 615.0h0.65M333.8 621.8h0.65M333.8 617.2h0.65M333.8 629.8h0.65M333.8 617.1h0.65M333.8 615.4h0.65M333.9 615.8h0.65M333.9 618.4h0.65M333.9 612.1h0.65M334.0 620.7h0.65M334.0 609.8h0.65M334.0 621.9h0.65M334.0 615.8h0.65M334.0 622.5h0.65M334.0 616.9h0.65M334.1 614.9h0.65M334.2 615.6h0.65M334.2 606.9h0.65M334.5 618.9h0.65M334.5 617.4h0.65M334.5 621.0h0.65M334.5 613.3h0.65M334.6 616.6h0.65M334.6 623.9h0.65M334.7 612.2h0.65M334.7 617.4h0.65M334.7 614.1h0.65M334.7 618.7h0.65M334.8 612.1h0.65M334.8 624.9h0.65M334.9 619.4h0.65M334.9 623.5h0.65M335.0 615.9h0.65M335.0 618.7h0.65M335.0 617.4h0.65M335.0 617.5h0.65M335.2 621.9h0.65M335.2 625.3h0.65M335.3 620.1h0.65M335.3 620.8h0.65M335.3 622.9h0.65M335.4 616.3h0.65M335.6 619.2h0.65M335.7 623.7h0.65M335.7 622.5h0.65M335.7 622.7h0.65M335.7 626.3h0.65M335.8 606.6h0.65M335.9 608.2h0.65M336.0 617.6h0.65M336.0 621.8h0.65M336.1 618.0h0.65M336.1 623.3h0.65M336.3 616.4h0.65M336.4 615.2h0.65M336.5 613.4h0.65M336.6 610.4h0.65M336.7 622.1h0.65M336.7 619.4h0.65M336.8 611.8h0.65M336.8 617.1h0.65M336.9 622.8h0.65M337.0 616.4h0.65M337.0 621.8h0.65M337.1 611.8h0.65M337.1 624.7h0.65M337.1 618.2h0.65M337.2 610.3h0.65M337.4 616.9h0.65M337.4 625.8h0.65M337.5 619.8h0.65M337.5 615.6h0.65M337.6 620.0h0.65M337.8 610.5h0.65M337.8 613.2h0.65M338.0 624.7h0.65M338.0 618.3h0.65M338.1 624.5h0.65M338.4 620.0h0.65M338.5 621.9h0.65M338.7 622.5h0.65M338.7 620.7h0.65M338.8 619.2h0.65M338.9 622.3h0.65M339.2 625.1h0.65M339.2 619.1h0.65M339.3 615.8h0.65M339.7 623.1h0.65M339.9 622.0h0.65M339.9 621.4h0.65M340.0 613.0h0.65M340.2 622.8h0.65M340.2 616.7h0.65M340.5 623.3h0.65M340.6 615.7h0.65M340.6 623.8h0.65M340.9 623.0h0.65M340.9 617.2h0.65M341.1 615.6h0.65M341.3 621.8h0.65M341.4 626.1h0.65M341.8 626.7h0.65M342.0 617.0h0.65M342.1 619.0h0.65M342.4 613.3h0.65M342.5 620.7h0.65M342.6 617.3h0.65M342.7 616.7h0.65M342.7 631.1h0.65M343.5 623.0h0.65M343.6 630.6h0.65M343.7 620.2h0.65M343.8 625.3h0.65M343.8 614.7h0.65M343.9 613.0h0.65M344.3 615.0h0.65M344.5 615.3h0.65M344.6 613.5h0.65M344.7 617.5h0.65M345.0 625.5h0.65M346.3 629.5h0.65M346.6 617.6h0.65M347.0 620.9h0.65M347.0 608.1h0.65M347.0 613.3h0.65M347.3 625.4h0.65M347.7 609.4h0.65M348.0 625.4h0.65M349.6 628.7h0.65M349.9 609.5h0.65M350.4 614.6h0.65M351.8 615.0h0.65M354.0 610.7h0.65M355.6 614.1h0.65M360.6 616.6h0.65M366.3 617.3h0.65" stroke="#333" stroke-width="0.65" fill="none"/>
<path d="M307.3 627.4l-2.9 .1l-2.9-.2l-2.9-.4l-2.8-.6l-2.8-.8l-2.6-1.1l-2.5-1.5l-1.9-2.2l-.6-2.8l1.1-2.6l2.4-1.7l2.6-1.2l2.7-1.1l2.1-1.9l.1-2.9l-.3-2.9l-.3-2.9l-.2-2.8l0-2.9l0-2.9l.2-2.9l.2-2.9l.4-2.9l.6-2.8l1-2.8l1.6-2.3l2.5-1.5l2.8 .1l2.2 1.8l1.4 2.6l.7 2.8l.4 2.8l.3 2.9l.1 2.9l0 2.9l0 2.9l-.2 2.9l-.2 2.9l-.3 2.9l-.3 2.9l1.1 2.5l2.7 .8l2.9 .3l2.9 .3l2.9 .4l2.8 .6l2.8 .8l2.7 1.1l2.3 1.7l1 2.6l-1.1 2.7l-2.2 1.9l-2.5 1.2l-2.8 1l-2.8 .7l-2.9 .5l-2.8 .3l-2.9 .3l-2.9 .2z" fill="#fff" stroke="#222" stroke-width="0.85" stroke-linejoin="round"/>
<path d="M309 625.6l-2.5 .1l-2.5 0l-2.5-.2l-2.5-.3l-2.5-.6l-2.3-.9l-2.3-1.1l-1.9-1.7l-.8-2.3l.6-2.4l1.9-1.7l2.3-1.1l2.3-.9l2.3-1.1l2.1-1.4l.3-2.3l-.9-2.4l-.6-2.4l-.4-2.5l-.4-2.5l-.1-2.5l0-2.6l.1-2.5l.2-2.5l.4-2.5l.6-2.4l1.1-2.3l2.2-1.2l2.1 1l1.1 2.3l.5 2.5l.3 2.5l.2 2.5l0 2.5l-.1 2.6l-.2 2.5l-.4 2.5l-.4 2.5l-.6 2.4l-.8 2.4l.4 2.3l2.2 1.2l2.5 .6l2.5 .3l2.5 .2l2.5 .3l2.5 .5l2.4 .6l2.4 .8l2.2 1.2l1.4 2.1l-.5 2.4l-1.8 1.8l-2.2 1.2l-2.4 .8l-2.4 .6l-2.5 .4l-2.5 .3l-2.5 .3z" fill="none" stroke="#444" stroke-width="0.7" stroke-linejoin="round"/>
<path d="M311.3 623.9l-1.6 .1l-1.6 0l-1.6 .1l-1.6 0l-1.6-.1l-1.6-.2l-1.6-.2l-1.5-.4l-1.6-.5l-1.4-.7l-1.3-.9l-1-1.3l-.4-1.5l.4-1.5l1.1-1.2l1.3-.8l1.5-.7l1.5-.5l1.5-.5l1.6-.3l1.6-.1l1.6 0l1.6 .1l1.6 .2l1.6 .2l1.6 .1l1.6 .2l1.6 .2l1.6 .2l1.6 .3l1.5 .4l1.5 .5l1.4 .8l1.2 1.1l.4 1.5l-.6 1.5l-1.1 1l-1.4 .8l-1.5 .6l-1.6 .5l-1.5 .3l-1.6 .3l-1.6 .2z" fill="none" stroke="#444" stroke-width="0.7" stroke-linejoin="round"/>
<path d="M310.6 622.4l-1.7 .1l-1.6 .1l-1.7 0l-1.6-.1l-1.6-.2l-1.6-.3l-1.6-.6l-1.4-.7l-1.1-1.2l-.3-1.6l.7-1.4l1.4-.9l1.5-.7l1.6-.4l1.6-.2l1.7-.1l1.6 .1l1.6 .1l1.7 .1l1.6 .2l1.6 .2l1.7 .3l1.5 .4l1.6 .6l1.2 1l.3 1.6l-1 1.3l-1.4 .8l-1.5 .6l-1.6 .4l-1.6 .3z" fill="none" stroke="#444" stroke-width="0.7" stroke-linejoin="round"/>
<path d="M308.6 621.1l-1.7 .1l-1.6 0l-1.7-.2l-1.6-.4l-1.4-.6l-1.1-1.3l.3-1.5l1.3-.9l1.6-.5l1.6-.2l1.6-.1l1.7 .1l1.6 .1l1.6 .2l1.6 .3l1.6 .6l1.2 1l-.4 1.5l-1.4 .9l-1.6 .4l-1.6 .3z" fill="none" stroke="#444" stroke-width="0.7" stroke-linejoin="round"/>
<path d="M307 619.9l-1.6 0l-1.7-.4l-1.2-1l.7-1.3l1.6-.5l1.7 0l1.7 .1l1.6 .3l1.4 .9l-.9 1.2l-1.6 .5z" fill="none" stroke="#444" stroke-width="0.7" stroke-linejoin="round"/>
</g>
<clipPath id="d2"><rect x="370.75" y="539.5" width="101.55000000000001" height="101.20000000000005"/></clipPath>
<g clip-path="url(#d2)">
<path d="M372.9 622.8h0.65M373.2 611.3h0.65M373.2 621.3h0.65M373.3 618.4h0.65M373.4 604.4h0.65M373.5 621.6h0.65M373.5 619.0h0.65M374.1 614.7h0.65M374.1 616.3h0.65M374.2 619.5h0.65M374.3 618.7h0.65M374.4 615.1h0.65M374.7 618.0h0.65M375.0 614.5h0.65M375.3 619.4h0.65M375.4 609.8h0.65M375.5 617.3h0.65M375.5 620.2h0.65M375.6 603.9h0.65M375.6 622.6h0.65M375.6 627.6h0.65M375.8 623.1h0.65M375.9 597.2h0.65M375.9 623.1h0.65M376.0 620.4h0.65M376.1 622.8h0.65M376.2 613.4h0.65M376.5 632.2h0.65M376.5 608.7h0.65M376.7 610.1h0.65M376.7 621.7h0.65M376.8 603.9h0.65M376.8 620.8h0.65M376.9 620.8h0.65M377.2 612.2h0.65M377.4 613.7h0.65M377.5 574.9h0.65M377.5 615.9h0.65M377.6 583.2h0.65M377.6 584.0h0.65M377.6 566.1h0.65M377.8 585.6h0.65M377.9 592.6h0.65M377.9 622.2h0.65M378.1 613.4h0.65M378.1 620.9h0.65M378.2 612.2h0.65M378.2 614.0h0.65M378.3 613.4h0.65M378.3 616.4h0.65M378.4 612.7h0.65M378.8 620.3h0.65M378.9 615.6h0.65M379.0 584.9h0.65M379.1 576.8h0.65M379.2 615.2h0.65M379.2 619.8h0.65M379.3 606.7h0.65M379.3 584.8h0.65M379.3 625.3h0.65M379.5 605.3h0.65M379.5 584.3h0.65M379.5 612.2h0.65M379.6 614.8h0.65M379.6 621.2h0.65M379.6 615.4h0.65M379.6 585.1h0.65M379.6 619.9h0.65M379.7 614.8h0.65M379.7 619.4h0.65M379.8 614.5h0.65M379.8 612.1h0.65M379.9 606.7h0.65M379.9 620.8h0.65M379.9 615.8h0.65M379.9 613.6h0.65M380.0 617.0h0.65M380.1 593.0h0.65M380.2 625.7h0.65M380.2 583.7h0.65M380.2 617.8h0.65M380.3 620.9h0.65M380.4 573.0h0.65M380.4 581.7h0.65M380.4 574.9h0.65M380.5 625.0h0.65M380.5 611.5h0.65M380.5 595.5h0.65M380.6 624.4h0.65M380.6 622.3h0.65M380.7 619.5h0.65M380.8 613.3h0.65M380.8 616.2h0.65M380.9 587.9h0.65M380.9 614.7h0.65M381.0 609.3h0.65M381.2 624.9h0.65M381.2 617.8h0.65M381.2 613.5h0.65M381.2 570.1h0.65M381.3 595.6h0.65M381.3 614.7h0.65M381.3 618.9h0.65M381.4 626.8h0.65M381.4 582.1h0.65M381.4 600.4h0.65M381.4 614.5h0.65M381.4 614.4h0.65M381.4 613.2h0.65M381.5 568.2h0.65M381.6 621.8h0.65M381.7 615.9h0.65M381.7 612.9h0.65M381.7 594.4h0.65M381.9 627.2h0.65M382.0 614.8h0.65M382.0 617.9h0.65M382.0 579.9h0.65M382.1 616.4h0.65M382.2 600.1h0.65M382.2 590.8h0.65M382.2 616.9h0.65M382.3 618.5h0.65M382.3 588.0h0.65M382.4 620.5h0.65M382.4 578.3h0.65M382.4 618.1h0.65M382.4 575.4h0.65M382.4 613.7h0.65M382.4 614.7h0.65M382.5 596.2h0.65M382.5 620.9h0.65M382.5 623.7h0.65M382.6 614.6h0.65M382.6 577.6h0.65M382.6 620.4h0.65M382.6 577.1h0.65M382.6 619.0h0.65M382.7 586.5h0.65M382.8 597.0h0.65M382.8 615.9h0.65M382.8 587.9h0.65M382.8 610.5h0.65M382.8 617.6h0.65M382.8 623.6h0.65M382.8 582.3h0.65M382.8 620.8h0.65M382.9 616.6h0.65M382.9 616.4h0.65M382.9 612.1h0.65M382.9 615.4h0.65M383.0 591.2h0.65M383.0 615.9h0.65M383.0 619.5h0.65M383.0 612.7h0.65M383.0 618.8h0.65M383.1 615.9h0.65M383.1 575.1h0.65M383.1 617.5h0.65M383.1 615.4h0.65M383.1 621.7h0.65M383.1 633.5h0.65M383.1 620.3h0.65M383.1 614.3h0.65M383.1 630.0h0.65M383.2 580.9h0.65M383.2 626.8h0.65M383.2 592.7h0.65M383.2 588.7h0.65M383.2 618.8h0.65M383.2 619.7h0.65M383.2 625.0h0.65M383.3 588.8h0.65M383.4 600.9h0.65M383.4 614.1h0.65M383.5 600.5h0.65M383.5 615.1h0.65M383.6 562.0h0.65M383.6 613.7h0.65M383.6 591.4h0.65M383.6 621.7h0.65M383.6 574.1h0.65M383.6 620.5h0.65M383.7 611.0h0.65M383.7 621.2h0.65M383.7 595.5h0.65M383.8 629.2h0.65M383.8 613.5h0.65M383.8 635.4h0.65M383.8 610.1h0.65M383.8 609.9h0.65M383.9 623.1h0.65M383.9 625.5h0.65M383.9 615.2h0.65M383.9 580.6h0.65M383.9 582.2h0.65M383.9 611.3h0.65M383.9 611.1h0.65M384.0 586.1h0.65M384.0 617.0h0.65M384.0 612.7h0.65M384.0 616.4h0.65M384.0 571.2h0.65M384.1 626.8h0.65M384.1 608.6h0.65M384.1 582.8h0.65M384.1 550.0h0.65M384.2 627.3h0.65M384.2 602.8h0.65M384.2 612.6h0.65M384.2 620.6h0.65M384.2 619.0h0.65M384.3 623.1h0.65M384.3 618.9h0.65M384.3 621.6h0.65M384.3 583.8h0.65M384.3 598.4h0.65M384.3 576.5h0.65M384.4 623.5h0.65M384.4 618.7h0.65M384.4 608.1h0.65M384.4 589.6h0.65M384.4 614.8h0.65M384.5 616.2h0.65M384.5 615.2h0.65M384.5 588.7h0.65M384.5 619.7h0.65M384.5 618.2h0.65M384.5 604.0h0.65M384.6 632.1h0.65M384.7 590.4h0.65M384.7 565.3h0.65M384.7 593.1h0.65M384.7 623.4h0.65M384.8 608.3h0.65M384.8 617.8h0.65M384.8 613.7h0.65M384.8 622.0h0.65M384.8 587.5h0.65M384.8 620.2h0.65M384.9 614.9h0.65M384.9 630.0h0.65M384.9 617.2h0.65M384.9 615.1h0.65M384.9 588.9h0.65M384.9 612.9h0.65M384.9 588.9h0.65M384.9 620.1h0.65M385.0 606.8h0.65M385.0 613.8h0.65M385.0 620.1h0.65M385.0 590.4h0.65M385.0 606.6h0.65M385.0 616.3h0.65M385.1 616.8h0.65M385.1 585.5h0.65M385.1 621.1h0.65M385.1 617.2h0.65M385.2 613.4h0.65M385.2 593.9h0.65M385.2 603.5h0.65M385.3 566.9h0.65M385.3 614.6h0.65M385.3 622.9h0.65M385.3 620.6h0.65M385.3 615.2h0.65M385.3 617.2h0.65M385.3 618.5h0.65M385.3 618.9h0.65M385.4 614.5h0.65M385.4 592.5h0.65M385.4 610.2h0.65M385.4 619.6h0.65M385.4 612.0h0.65M385.4 616.8h0.65M385.4 623.9h0.65M385.5 616.0h0.65M385.5 572.5h0.65M385.5 628.9h0.65M385.5 619.7h0.65M385.5 624.1h0.65M385.6 579.8h0.65M385.6 583.8h0.65M385.6 578.1h0.65M385.6 597.2h0.65M385.7 578.9h0.65M385.7 625.1h0.65M385.7 587.9h0.65M385.8 614.0h0.65M385.8 570.6h0.65M385.8 581.7h0.65M385.8 616.4h0.65M385.9 629.2h0.65M385.9 594.7h0.65M385.9 608.8h0.65M385.9 619.5h0.65M385.9 633.5h0.65M385.9 615.9h0.65M385.9 619.3h0.65M385.9 579.7h0.65M386.0 612.3h0.65M386.0 598.1h0.65M386.0 590.6h0.65M386.0 619.7h0.65M386.0 581.1h0.65M386.1 590.6h0.65M386.1 621.7h0.65M386.1 611.7h0.65M386.1 595.2h0.65M386.1 595.9h0.65M386.2 613.7h0.65M386.3 593.9h0.65M386.3 620.8h0.65M386.3 577.7h0.65M386.3 593.4h0.65M386.3 592.4h0.65M386.4 597.9h0.65M386.4 625.0h0.65M386.4 598.9h0.65M386.4 590.7h0.65M386.4 591.9h0.65M386.4 586.9h0.65M386.4 582.4h0.65M386.4 581.2h0.65M386.5 601.5h0.65M386.5 612.0h0.65M386.5 625.9h0.65M386.5 599.1h0.65M386.5 621.2h0.65M386.5 614.8h0.65M386.5 614.1h0.65M386.6 569.6h0.65M386.6 582.8h0.65M386.6 590.9h0.65M386.7 595.3h0.65M386.7 583.5h0.65M386.7 601.1h0.65M386.7 595.6h0.65M386.7 580.4h0.65M386.7 600.9h0.65M386.8 584.1h0.65M386.8 583.8h0.65M386.8 595.7h0.65M386.8 628.5h0.65M386.8 584.4h0.65M386.8 601.9h0.65M386.8 609.3h0.65M386.8 579.3h0.65M386.8 596.3h0.65M386.9 620.9h0.65M386.9 586.3h0.65M386.9 591.9h0.65M386.9 605.6h0.65M386.9 596.9h0.65M386.9 574.3h0.65M387.0 627.9h0.65M387.0 609.4h0.65M387.0 584.6h0.65M387.0 602.9h0.65M387.0 595.8h0.65M387.0 582.7h0.65M387.0 612.0h0.65M387.1 613.0h0.65M387.1 599.7h0.65M387.1 587.9h0.65M387.1 607.6h0.65M387.1 622.6h0.65M387.1 609.8h0.65M387.2 607.8h0.65M387.2 585.7h0.65M387.2 613.7h0.65M387.2 605.6h0.65M387.2 606.7h0.65M387.2 600.6h0.65M387.2 599.3h0.65M387.3 603.8h0.65M387.3 595.1h0.65M387.3 602.9h0.65M387.3 587.5h0.65M387.3 603.0h0.65M387.3 586.2h0.65M387.3 611.6h0.65M387.3 592.5h0.65M387.3 628.5h0.65M387.3 590.6h0.65M387.4 584.7h0.65M387.4 583.8h0.65M387.4 590.5h0.65M387.4 595.3h0.65M387.4 588.3h0.65M387.4 607.3h0.65M387.5 585.5h0.65M387.5 610.8h0.65M387.5 611.2h0.65M387.5 575.3h0.65M387.5 575.8h0.65M387.5 577.1h0.65M387.6 590.8h0.65M387.6 593.9h0.65M387.6 583.0h0.65M387.6 628.3h0.65M387.6 625.0h0.65M387.6 593.8h0.65M387.6 588.2h0.65M387.7 612.8h0.65M387.7 593.8h0.65M387.7 622.3h0.65M387.7 575.3h0.65M387.8 598.4h0.65M387.8 597.2h0.65M387.8 586.2h0.65M387.8 592.9h0.65M387.8 626.9h0.65M387.9 613.4h0.65M387.9 608.6h0.65M387.9 605.2h0.65M387.9 582.6h0.65M387.9 581.7h0.65M387.9 584.8h0.65M387.9 575.8h0.65M387.9 604.1h0.65M387.9 583.6h0.65M387.9 593.4h0.65M387.9 591.7h0.65M387.9 612.1h0.65M388.0 586.7h0.65M388.0 580.0h0.65M388.0 610.8h0.65M388.0 600.7h0.65M388.0 585.9h0.65M388.0 599.2h0.65M388.0 572.8h0.65M388.0 613.3h0.65M388.0 597.8h0.65M388.0 622.9h0.65M388.0 608.4h0.65M388.1 624.5h0.65M388.1 593.1h0.65M388.1 626.2h0.65M388.1 586.2h0.65M388.1 586.4h0.65M388.2 609.0h0.65M388.2 597.5h0.65M388.2 593.3h0.65M388.2 602.1h0.65M388.2 595.4h0.65M388.2 579.8h0.65M388.2 588.8h0.65M388.2 624.1h0.65M388.2 611.5h0.65M388.2 598.9h0.65M388.3 593.4h0.65M388.3 612.6h0.65M388.3 592.8h0.65M388.3 609.8h0.65M388.3 582.9h0.65M388.3 600.7h0.65M388.4 606.9h0.65M388.4 601.4h0.65M388.4 588.2h0.65M388.4 578.4h0.65M388.4 592.1h0.65M388.5 626.2h0.65M388.5 603.0h0.65M388.5 604.8h0.65M388.5 625.3h0.65M388.5 587.4h0.65M388.5 603.5h0.65M388.6 576.1h0.65M388.6 593.9h0.65M388.6 602.0h0.65M388.6 574.1h0.65M388.6 583.9h0.65M388.6 626.7h0.65M388.6 609.8h0.65M388.6 592.3h0.65M388.6 593.0h0.65M388.6 588.8h0.65M388.6 589.9h0.65M388.6 570.0h0.65M388.7 611.1h0.65M388.7 574.3h0.65M388.7 623.7h0.65M388.7 570.8h0.65M388.7 631.7h0.65M388.7 612.6h0.65M388.7 583.5h0.65M388.7 628.0h0.65M388.7 580.6h0.65M388.7 590.1h0.65M388.7 626.4h0.65M388.7 610.8h0.65M388.7 585.3h0.65M388.8 607.5h0.65M388.8 601.9h0.65M388.8 590.4h0.65M388.8 571.5h0.65M388.8 579.6h0.65M388.8 600.7h0.65M388.8 588.9h0.65M388.8 586.3h0.65M388.8 594.0h0.65M388.9 585.5h0.65M388.9 604.3h0.65M388.9 596.4h0.65M388.9 623.7h0.65M388.9 593.3h0.65M388.9 597.6h0.65M388.9 587.1h0.65M389.0 587.3h0.65M389.0 602.3h0.65M389.0 596.7h0.65M389.0 579.8h0.65M389.0 593.1h0.65M389.0 589.8h0.65M389.0 577.8h0.65M389.0 585.3h0.65M389.0 612.0h0.65M389.1 609.3h0.65M389.1 594.9h0.65M389.1 577.0h0.65M389.1 612.3h0.65M389.1 584.1h0.65M389.1 598.4h0.65M389.1 586.0h0.65M389.2 592.3h0.65M389.2 601.4h0.65M389.2 597.1h0.65M389.2 580.6h0.65M389.2 602.4h0.65M389.2 596.2h0.65M389.2 610.8h0.65M389.2 593.4h0.65M389.2 606.4h0.65M389.2 596.9h0.65M389.2 605.6h0.65M389.2 583.0h0.65M389.2 569.0h0.65M389.3 587.0h0.65M389.3 600.2h0.65M389.3 579.2h0.65M389.3 610.6h0.65M389.3 595.2h0.65M389.3 587.0h0.65M389.3 611.5h0.65M389.3 603.1h0.65M389.4 578.4h0.65M389.4 585.9h0.65M389.4 589.5h0.65M389.4 592.4h0.65M389.4 570.2h0.65M389.4 586.9h0.65M389.4 612.0h0.65M389.4 590.8h0.65M389.4 576.1h0.65M389.4 626.4h0.65M389.4 594.5h0.65M389.5 582.5h0.65M389.5 599.8h0.65M389.5 579.6h0.65M389.5 626.1h0.65M389.5 583.8h0.65M389.5 624.2h0.65M389.5 624.2h0.65M389.5 594.8h0.65M389.5 585.7h0.65M389.5 584.0h0.65M389.6 608.8h0.65M389.6 594.0h0.65M389.6 593.5h0.65M389.6 628.2h0.65M389.6 578.3h0.65M389.6 582.2h0.65M389.6 587.5h0.65M389.6 627.2h0.65M389.6 593.4h0.65M389.6 624.0h0.65M389.6 577.6h0.65M389.6 608.4h0.65M389.7 573.1h0.65M389.7 610.0h0.65M389.7 596.7h0.65M389.7 587.8h0.65M389.7 579.2h0.65M389.7 579.6h0.65M389.7 579.5h0.65M389.8 604.0h0.65M389.8 624.4h0.65M389.8 583.9h0.65M389.8 631.2h0.65M389.8 603.2h0.65M389.8 576.1h0.65M389.8 605.5h0.65M389.8 600.0h0.65M389.8 607.8h0.65M389.8 611.8h0.65M389.8 597.5h0.65M389.8 584.8h0.65M389.8 574.2h0.65M389.8 623.9h0.65M389.8 588.7h0.65M389.9 571.8h0.65M389.9 611.6h0.65M389.9 577.7h0.65M389.9 581.0h0.65M389.9 591.9h0.65M389.9 589.0h0.65M389.9 577.8h0.65M389.9 589.8h0.65M389.9 600.1h0.65M390.0 589.8h0.65M390.0 624.1h0.65M390.0 585.0h0.65M390.0 626.6h0.65M390.0 587.6h0.65M390.1 592.6h0.65M390.1 610.9h0.65M390.1 584.6h0.65M390.1 604.7h0.65M390.1 623.9h0.65M390.1 609.4h0.65M390.1 587.0h0.65M390.1 628.1h0.65M390.1 581.6h0.65M390.2 587.1h0.65M390.2 586.7h0.65M390.2 587.8h0.65M390.2 611.4h0.65M390.3 582.1h0.65M390.3 576.7h0.65M390.3 607.2h0.65M390.3 578.8h0.65M390.3 624.3h0.65M390.3 586.3h0.65M390.3 570.8h0.65M390.3 574.1h0.65M390.3 574.5h0.65M390.3 569.9h0.65M390.3 605.5h0.65M390.3 585.6h0.65M390.4 584.3h0.65M390.4 568.3h0.65M390.4 603.2h0.65M390.4 578.7h0.65M390.4 605.3h0.65M390.5 561.5h0.65M390.5 586.3h0.65M390.5 582.9h0.65M390.5 582.7h0.65M390.5 588.0h0.65M390.5 581.7h0.65M390.6 583.7h0.65M390.6 626.5h0.65M390.6 626.4h0.65M390.6 587.9h0.65M390.6 582.6h0.65M390.6 609.4h0.65M390.6 587.7h0.65M390.6 626.6h0.65M390.6 606.4h0.65M390.7 572.7h0.65M390.7 626.7h0.65M390.7 579.5h0.65M390.7 585.5h0.65M390.7 605.8h0.65M390.7 586.0h0.65M390.7 609.2h0.65M390.7 611.5h0.65M390.7 625.2h0.65M390.7 581.4h0.65M390.7 582.0h0.65M390.7 577.7h0.65M390.7 580.5h0.65M390.8 573.3h0.65M390.8 605.8h0.65M390.8 582.7h0.65M390.8 577.6h0.65M390.8 571.0h0.65M390.9 574.0h0.65M390.9 611.1h0.65M390.9 580.6h0.65M390.9 582.0h0.65M390.9 577.6h0.65M390.9 626.5h0.65M390.9 605.6h0.65M391.0 609.0h0.65M391.0 570.4h0.65M391.0 582.4h0.65M391.0 626.6h0.65M391.0 578.7h0.65M391.1 627.0h0.65M391.1 609.9h0.65M391.1 609.0h0.65M391.1 567.7h0.65M391.1 583.8h0.65M391.1 579.1h0.65M391.1 627.4h0.65M391.1 610.4h0.65M391.2 582.3h0.65M391.2 625.9h0.65M391.2 581.9h0.65M391.2 625.6h0.65M391.2 624.8h0.65M391.2 582.3h0.65M391.2 582.3h0.65M391.3 574.7h0.65M391.3 627.0h0.65M391.3 556.5h0.65M391.3 579.2h0.65M391.3 574.8h0.65M391.3 629.2h0.65M391.3 581.5h0.65M391.3 583.0h0.65M391.3 582.4h0.65M391.4 625.3h0.65M391.4 579.3h0.65M391.4 626.2h0.65M391.5 574.8h0.65M391.5 606.6h0.65M391.5 625.8h0.65M391.6 609.7h0.65M391.6 624.7h0.65M391.6 579.8h0.65M391.6 606.3h0.65M391.6 562.1h0.65M391.6 578.9h0.65M391.6 610.3h0.65M391.6 576.4h0.65M391.6 574.0h0.65M391.7 625.0h0.65M391.7 576.0h0.65M391.7 626.5h0.65M391.7 574.9h0.65M391.8 572.8h0.65M391.8 578.9h0.65M391.8 625.8h0.65M391.8 578.0h0.65M391.8 608.9h0.65M391.9 610.1h0.65M391.9 562.8h0.65M391.9 609.7h0.65M392.0 579.3h0.65M392.0 573.9h0.65M392.1 607.1h0.65M392.1 574.8h0.65M392.1 608.4h0.65M392.1 576.1h0.65M392.3 576.2h0.65M392.3 575.9h0.65M392.3 626.0h0.65M392.3 609.2h0.65M392.3 577.6h0.65M392.3 609.8h0.65M392.4 575.3h0.65M392.5 576.5h0.65M392.5 573.1h0.65M392.5 576.3h0.65M392.5 574.2h0.65M392.5 609.2h0.65M392.6 577.8h0.65M392.6 577.0h0.65M392.6 627.5h0.65M392.6 570.3h0.65M392.6 627.3h0.65M392.7 562.7h0.65M392.7 575.7h0.65M392.8 629.8h0.65M392.9 628.2h0.65M392.9 609.8h0.65M392.9 576.3h0.65M393.0 569.4h0.65M393.0 576.0h0.65M393.0 569.2h0.65M393.1 573.7h0.65M393.1 571.4h0.65M393.1 574.8h0.65M393.1 574.4h0.65M393.1 635.1h0.65M393.1 568.0h0.65M393.1 573.2h0.65M393.1 609.1h0.65M393.1 576.8h0.65M393.1 625.6h0.65M393.2 570.2h0.65M393.2 566.5h0.65M393.2 572.4h0.65M393.3 572.3h0.65M393.3 626.3h0.65M393.3 570.0h0.65M393.3 570.1h0.65M393.3 626.0h0.65M393.3 574.3h0.65M393.3 572.0h0.65M393.4 632.9h0.65M393.5 567.6h0.65M393.6 564.7h0.65M393.6 574.6h0.65M393.8 626.9h0.65M393.8 626.6h0.65M393.8 572.9h0.65M393.9 575.2h0.65M393.9 626.8h0.65M393.9 570.8h0.65M394.0 574.8h0.65M394.0 570.8h0.65M394.0 628.1h0.65M394.0 574.2h0.65M394.0 558.2h0.65M394.1 574.0h0.65M394.1 572.4h0.65M394.1 571.4h0.65M394.1 574.7h0.65M394.1 625.9h0.65M394.2 627.9h0.65M394.2 627.0h0.65M394.3 562.4h0.65M394.3 627.7h0.65M394.3 572.8h0.65M394.3 627.1h0.65M394.3 565.1h0.65M394.4 572.3h0.65M394.4 627.4h0.65M394.5 573.7h0.65M394.5 573.7h0.65M394.6 626.9h0.65M394.6 569.5h0.65M394.7 628.6h0.65M394.7 629.6h0.65M395.0 572.1h0.65M395.0 565.5h0.65M395.1 633.1h0.65M395.2 569.1h0.65M395.2 626.4h0.65M395.2 563.6h0.65M395.3 626.6h0.65M395.3 564.8h0.65M395.3 628.9h0.65M395.4 564.3h0.65M395.4 627.5h0.65M395.4 630.2h0.65M395.5 569.1h0.65M395.5 572.3h0.65M395.5 569.9h0.65M395.5 572.7h0.65M395.5 566.7h0.65M395.6 571.0h0.65M395.7 570.2h0.65M395.7 570.7h0.65M395.7 571.6h0.65M395.7 567.0h0.65M395.7 631.2h0.65M395.7 569.5h0.65M395.7 571.2h0.65M395.7 630.2h0.65M395.8 572.7h0.65M395.9 569.6h0.65M395.9 565.5h0.65M396.0 557.0h0.65M396.0 571.4h0.65M396.0 629.6h0.65M396.0 626.8h0.65M396.1 571.4h0.65M396.2 571.4h0.65M396.2 571.9h0.65M396.2 632.9h0.65M396.2 563.7h0.65M396.2 567.1h0.65M396.3 627.6h0.65M396.3 568.9h0.65M396.5 565.7h0.65M396.5 627.0h0.65M396.5 626.8h0.65M396.6 627.2h0.65M396.7 570.0h0.65M396.8 569.2h0.65M396.9 570.3h0.65M396.9 627.1h0.65M397.0 567.9h0.65M397.1 569.4h0.65M397.3 569.8h0.65M397.3 627.2h0.65M397.4 628.5h0.65M397.4 568.3h0.65M397.4 567.8h0.65M397.5 566.7h0.65M397.5 566.3h0.65M397.5 560.8h0.65M397.5 629.6h0.65M397.5 571.3h0.65M397.7 570.2h0.65M397.7 562.6h0.65M397.8 556.8h0.65M397.8 569.8h0.65M397.8 631.0h0.65M397.8 629.8h0.65M397.9 569.0h0.65M397.9 566.0h0.65M397.9 565.4h0.65M397.9 564.0h0.65M398.0 627.1h0.65M398.0 566.2h0.65M398.0 566.9h0.65M398.2 627.6h0.65M398.2 568.5h0.65M398.2 564.9h0.65M398.2 570.7h0.65M398.4 626.9h0.65M398.5 628.6h0.65M398.5 627.6h0.65M398.5 568.0h0.65M398.6 565.9h0.65M398.7 631.4h0.65M398.8 633.5h0.65M398.8 563.8h0.65M398.8 629.5h0.65M398.8 562.3h0.65M398.9 562.3h0.65M398.9 627.5h0.65M398.9 566.4h0.65M399.0 627.1h0.65M399.0 566.2h0.65M399.1 627.2h0.65M399.1 627.3h0.65M399.1 568.5h0.65M399.1 566.5h0.65M399.3 627.2h0.65M399.3 627.9h0.65M399.3 565.2h0.65M399.4 569.9h0.65M399.4 565.3h0.65M399.4 627.4h0.65M399.4 630.8h0.65M399.5 568.6h0.65M399.5 629.0h0.65M399.6 568.6h0.65M399.6 568.4h0.65M399.6 564.2h0.65M399.7 569.1h0.65M399.7 570.1h0.65M399.7 566.5h0.65M400.1 568.4h0.65M400.1 627.2h0.65M400.1 565.8h0.65M400.1 569.9h0.65M400.2 568.1h0.65M400.2 567.4h0.65M400.3 627.6h0.65M400.3 628.8h0.65M400.4 568.6h0.65M400.5 628.3h0.65M400.5 567.6h0.65M400.5 630.5h0.65M400.6 566.4h0.65M400.6 562.9h0.65M400.8 627.0h0.65M400.9 569.6h0.65M401.0 569.3h0.65M401.0 632.5h0.65M401.1 565.1h0.65M401.1 629.8h0.65M401.1 569.6h0.65M401.1 630.3h0.65M401.3 567.3h0.65M401.3 569.0h0.65M401.4 555.5h0.65M401.4 566.5h0.65M401.5 567.2h0.65M401.5 564.6h0.65M401.6 568.6h0.65M401.6 566.6h0.65M401.6 557.1h0.65M401.6 629.4h0.65M401.6 564.4h0.65M401.6 629.1h0.65M401.7 569.0h0.65M401.7 566.8h0.65M401.7 568.9h0.65M401.8 568.9h0.65M401.8 568.2h0.65M401.9 569.2h0.65M401.9 567.9h0.65M401.9 627.2h0.65M402.0 628.6h0.65M402.0 566.4h0.65M402.0 568.4h0.65M402.1 566.8h0.65M402.1 628.5h0.65M402.1 628.1h0.65M402.2 566.5h0.65M402.2 630.7h0.65M402.3 629.1h0.65M402.3 628.5h0.65M402.4 628.0h0.65M402.5 632.0h0.65M402.5 563.5h0.65M402.7 569.3h0.65M402.7 566.5h0.65M402.8 569.3h0.65M402.9 626.9h0.65M402.9 564.4h0.65M402.9 569.1h0.65M403.0 564.8h0.65M403.0 565.6h0.65M403.0 627.5h0.65M403.1 564.8h0.65M403.2 627.5h0.65M403.3 628.1h0.65M403.3 627.7h0.65M403.4 630.9h0.65M403.4 561.7h0.65M403.4 564.6h0.65M403.4 568.6h0.65M403.4 627.4h0.65M403.5 564.2h0.65M403.5 562.7h0.65M403.5 567.4h0.65M403.6 630.4h0.65M403.6 556.7h0.65M403.6 631.2h0.65M403.6 639.5h0.65M403.7 628.9h0.65M403.7 565.7h0.65M403.8 566.4h0.65M403.8 629.1h0.65M403.9 630.9h0.65M403.9 628.2h0.65M404.0 566.3h0.65M404.0 568.6h0.65M404.1 630.2h0.65M404.1 568.1h0.65M404.1 561.1h0.65M404.2 567.4h0.65M404.2 567.7h0.65M404.3 627.4h0.65M404.3 566.3h0.65M404.3 565.4h0.65M404.3 631.1h0.65M404.4 629.3h0.65M404.4 629.0h0.65M404.4 565.3h0.65M404.5 567.8h0.65M404.5 631.8h0.65M404.5 568.9h0.65M404.5 561.6h0.65M404.6 631.7h0.65M404.6 566.2h0.65M404.7 568.4h0.65M404.7 567.4h0.65M404.8 569.0h0.65M404.8 630.2h0.65M404.8 568.6h0.65M404.8 568.3h0.65M404.8 568.1h0.65M404.8 628.9h0.65M404.9 558.0h0.65M404.9 629.9h0.65M404.9 562.5h0.65M405.0 627.1h0.65M405.0 562.4h0.65M405.1 564.4h0.65M405.1 563.9h0.65M405.2 627.2h0.65M405.2 568.9h0.65M405.2 569.1h0.65M405.3 560.2h0.65M405.3 627.6h0.65M405.3 627.7h0.65M405.3 569.1h0.65M405.4 568.1h0.65M405.4 627.6h0.65M405.5 631.1h0.65M405.5 562.9h0.65M405.5 568.6h0.65M405.5 566.1h0.65M405.5 632.5h0.65M405.6 568.5h0.65M405.6 568.3h0.65M405.7 628.6h0.65M405.7 629.8h0.65M405.9 629.1h0.65M405.9 567.8h0.65M406.0 567.6h0.65M406.1 567.6h0.65M406.2 566.4h0.65M406.2 627.0h0.65M406.2 558.5h0.65M406.3 565.9h0.65M406.3 566.5h0.65M406.3 628.2h0.65M406.3 562.3h0.65M406.3 628.6h0.65M406.4 565.1h0.65M406.5 629.8h0.65M406.5 567.3h0.65M406.8 562.4h0.65M406.8 563.9h0.65M406.8 567.8h0.65M406.8 564.3h0.65M406.9 566.1h0.65M406.9 568.7h0.65M406.9 568.9h0.65M407.0 568.7h0.65M407.0 627.6h0.65M407.1 563.1h0.65M407.2 566.7h0.65M407.2 627.0h0.65M407.3 561.4h0.65M407.3 563.4h0.65M407.4 567.1h0.65M407.4 629.3h0.65M407.4 568.1h0.65M407.4 568.9h0.65M407.4 630.2h0.65M407.5 629.2h0.65M407.6 626.9h0.65M407.6 626.8h0.65M407.6 566.1h0.65M407.7 553.0h0.65M407.7 634.7h0.65M407.8 567.2h0.65M407.8 627.4h0.65M407.9 560.6h0.65M407.9 626.9h0.65M407.9 566.2h0.65M407.9 627.4h0.65M408.0 557.9h0.65M408.0 567.6h0.65M408.0 568.5h0.65M408.1 562.5h0.65M408.1 567.8h0.65M408.1 630.5h0.65M408.1 626.8h0.65M408.2 632.3h0.65M408.3 628.2h0.65M408.3 565.5h0.65M408.3 566.1h0.65M408.3 565.7h0.65M408.3 568.2h0.65M408.3 626.2h0.65M408.5 626.1h0.65M408.5 625.9h0.65M408.5 629.3h0.65M408.5 568.9h0.65M408.5 568.9h0.65M408.5 629.1h0.65M408.6 562.1h0.65M408.6 568.0h0.65M408.6 560.2h0.65M408.6 627.3h0.65M408.6 567.3h0.65M408.7 557.7h0.65M408.8 628.6h0.65M408.8 625.7h0.65M408.9 626.8h0.65M408.9 566.5h0.65M408.9 625.8h0.65M409.0 567.7h0.65M409.0 564.7h0.65M409.0 570.2h0.65M409.0 628.8h0.65M409.0 625.8h0.65M409.1 559.8h0.65M409.1 563.7h0.65M409.2 625.9h0.65M409.2 608.8h0.65M409.2 608.1h0.65M409.2 630.1h0.65M409.2 610.0h0.65M409.2 565.0h0.65M409.3 610.0h0.65M409.3 569.4h0.65M409.3 568.3h0.65M409.3 626.5h0.65M409.3 630.3h0.65M409.4 609.5h0.65M409.5 631.9h0.65M409.5 626.3h0.65M409.6 609.6h0.65M409.6 569.4h0.65M409.6 564.7h0.65M409.7 607.0h0.65M409.7 566.7h0.65M409.7 625.2h0.65M409.7 607.4h0.65M409.7 561.7h0.65M409.7 626.3h0.65M409.8 625.4h0.65M409.8 568.0h0.65M409.8 607.5h0.65M409.8 627.2h0.65M409.8 568.6h0.65M409.9 567.5h0.65M409.9 609.3h0.65M409.9 628.5h0.65M409.9 610.6h0.65M410.0 570.7h0.65M410.0 570.2h0.65M410.0 571.5h0.65M410.0 609.9h0.65M410.1 610.1h0.65M410.1 567.5h0.65M410.1 570.9h0.65M410.1 635.8h0.65M410.1 631.7h0.65M410.1 571.5h0.65M410.2 624.7h0.65M410.2 633.9h0.65M410.2 610.9h0.65M410.3 624.8h0.65M410.3 626.8h0.65M410.3 571.7h0.65M410.4 606.0h0.65M410.4 626.4h0.65M410.4 606.5h0.65M410.4 633.3h0.65M410.4 605.2h0.65M410.4 564.3h0.65M410.4 569.5h0.65M410.4 606.0h0.65M410.5 565.3h0.65M410.6 629.8h0.65M410.6 605.6h0.65M410.6 627.3h0.65M410.6 630.9h0.65M410.6 605.1h0.65M410.7 570.0h0.65M410.7 567.3h0.65M410.7 626.3h0.65M410.7 624.1h0.65M410.7 566.3h0.65M410.7 609.6h0.65M410.8 625.3h0.65M410.8 567.1h0.65M410.8 608.4h0.65M410.8 565.9h0.65M410.8 624.6h0.65M410.9 603.7h0.65M410.9 556.9h0.65M410.9 623.6h0.65M411.0 609.4h0.65M411.0 565.1h0.65M411.0 572.3h0.65M411.0 611.1h0.65M411.0 610.0h0.65M411.0 606.2h0.65M411.0 603.4h0.65M411.0 623.5h0.65M411.0 605.2h0.65M411.1 624.4h0.65M411.1 603.4h0.65M411.1 624.5h0.65M411.1 610.6h0.65M411.1 609.4h0.65M411.2 626.2h0.65M411.2 628.5h0.65M411.2 573.9h0.65M411.2 627.4h0.65M411.2 608.0h0.65M411.2 627.3h0.65M411.2 603.4h0.65M411.3 600.8h0.65M411.3 606.6h0.65M411.3 566.0h0.65M411.3 573.1h0.65M411.3 609.1h0.65M411.3 603.7h0.65M411.3 623.2h0.65M411.4 606.3h0.65M411.4 566.1h0.65M411.4 612.7h0.65M411.4 612.5h0.65M411.4 604.0h0.65M411.4 621.9h0.65M411.4 609.7h0.65M411.4 623.4h0.65M411.5 607.9h0.65M411.5 606.9h0.65M411.5 608.3h0.65M411.5 605.5h0.65M411.5 599.1h0.65M411.5 623.2h0.65M411.5 564.6h0.65M411.5 601.6h0.65M411.5 610.9h0.65M411.5 574.1h0.65M411.5 571.0h0.65M411.5 573.2h0.65M411.6 610.0h0.65M411.6 573.5h0.65M411.6 600.0h0.65M411.6 601.2h0.65M411.6 599.6h0.65M411.6 611.3h0.65M411.6 627.7h0.65M411.6 600.9h0.65M411.7 629.4h0.65M411.7 606.5h0.65M411.7 575.3h0.65M411.7 597.4h0.65M411.7 554.9h0.65M411.7 622.3h0.65M411.7 566.5h0.65M411.7 558.2h0.65M411.8 628.0h0.65M411.8 608.7h0.65M411.8 564.9h0.65M411.8 575.4h0.65M411.8 598.7h0.65M411.8 612.8h0.65M411.8 568.3h0.65M411.9 608.1h0.65M411.9 595.2h0.65M411.9 564.3h0.65M411.9 595.5h0.65M411.9 614.1h0.65M411.9 574.7h0.65M411.9 614.3h0.65M411.9 573.1h0.65M412.0 576.8h0.65M412.0 613.4h0.65M412.0 625.8h0.65M412.0 614.6h0.65M412.0 583.3h0.65M412.0 576.4h0.65M412.0 621.6h0.65M412.0 606.9h0.65M412.0 612.2h0.65M412.0 575.7h0.65M412.1 570.0h0.65M412.1 574.7h0.65M412.1 595.6h0.65M412.1 573.6h0.65M412.1 621.3h0.65M412.1 604.3h0.65M412.1 574.7h0.65M412.1 593.2h0.65M412.2 604.7h0.65M412.2 620.7h0.65M412.2 594.7h0.65M412.2 594.8h0.65M412.2 601.6h0.65M412.2 597.8h0.65M412.2 564.7h0.65M412.2 598.2h0.65M412.2 605.8h0.65M412.2 597.2h0.65M412.2 608.6h0.65M412.2 620.1h0.65M412.2 597.3h0.65M412.2 624.3h0.65M412.2 615.0h0.65M412.3 574.5h0.65M412.3 600.6h0.65M412.3 624.0h0.65M412.3 594.7h0.65M412.3 602.7h0.65M412.3 595.5h0.65M412.3 594.5h0.65M412.3 602.5h0.65M412.4 613.0h0.65M412.4 570.3h0.65M412.4 566.5h0.65M412.4 595.6h0.65M412.4 579.8h0.65M412.4 614.6h0.65M412.4 596.1h0.65M412.4 618.7h0.65M412.4 621.9h0.65M412.4 572.5h0.65M412.5 581.5h0.65M412.5 598.1h0.65M412.5 609.9h0.65M412.5 610.7h0.65M412.5 621.4h0.65M412.5 617.2h0.65M412.5 581.8h0.65M412.5 591.4h0.65M412.5 592.3h0.65M412.5 577.1h0.65M412.6 618.2h0.65M412.6 563.0h0.65M412.6 614.2h0.65M412.6 620.5h0.65M412.6 624.4h0.65M412.6 578.9h0.65M412.6 599.9h0.65M412.6 605.2h0.65M412.6 595.8h0.65M412.6 580.8h0.65M412.6 621.7h0.65M412.6 618.4h0.65M412.7 614.6h0.65M412.7 615.5h0.65M412.7 574.7h0.65M412.7 596.2h0.65M412.7 608.8h0.65M412.7 580.2h0.65M412.7 591.6h0.65M412.7 619.0h0.65M412.7 624.3h0.65M412.7 613.9h0.65M412.7 583.1h0.65M412.7 616.7h0.65M412.7 618.1h0.65M412.7 564.0h0.65M412.8 598.1h0.65M412.8 601.7h0.65M412.8 596.0h0.65M412.8 624.1h0.65M412.8 574.2h0.65M412.8 595.5h0.65M412.8 581.4h0.65M412.8 582.6h0.65M412.8 588.4h0.65M412.8 577.7h0.65M412.8 602.9h0.65M412.8 603.7h0.65M412.8 613.5h0.65M412.8 595.2h0.65M412.9 617.3h0.65M412.9 611.3h0.65M412.9 623.4h0.65M412.9 614.0h0.65M412.9 598.0h0.65M412.9 573.9h0.65M412.9 620.3h0.65M412.9 581.1h0.65M412.9 578.9h0.65M412.9 617.2h0.65M412.9 583.0h0.65M412.9 619.5h0.65M413.0 573.9h0.65M413.0 574.5h0.65M413.0 617.0h0.65M413.0 576.4h0.65M413.0 603.6h0.65M413.0 611.8h0.65M413.0 606.7h0.65M413.0 582.5h0.65M413.0 595.0h0.65M413.0 578.1h0.65M413.0 619.7h0.65M413.1 587.3h0.65M413.1 618.5h0.65M413.1 606.4h0.65M413.1 611.5h0.65M413.1 610.1h0.65M413.1 583.5h0.65M413.1 586.6h0.65M413.1 611.6h0.65M413.1 588.5h0.65M413.1 589.7h0.65M413.1 596.1h0.65M413.1 617.4h0.65M413.2 577.9h0.65M413.2 615.4h0.65M413.2 583.2h0.65M413.2 614.4h0.65M413.2 578.2h0.65M413.2 584.1h0.65M413.2 570.5h0.65M413.2 622.3h0.65M413.2 611.8h0.65M413.3 609.8h0.65M413.3 619.2h0.65M413.3 563.2h0.65M413.3 599.8h0.65M413.3 616.5h0.65M413.3 614.1h0.65M413.3 608.3h0.65M413.3 584.0h0.65M413.3 614.9h0.65M413.3 572.1h0.65M413.3 581.0h0.65M413.3 589.8h0.65M413.4 618.0h0.65M413.4 598.0h0.65M413.4 590.9h0.65M413.4 593.0h0.65M413.4 581.3h0.65M413.4 630.0h0.65M413.4 580.8h0.65M413.5 591.0h0.65M413.5 617.6h0.65M413.5 596.6h0.65M413.5 573.9h0.65M413.5 584.8h0.65M413.5 592.6h0.65M413.5 589.1h0.65M413.6 582.1h0.65M413.6 572.9h0.65M413.6 568.8h0.65M413.6 585.5h0.65M413.6 625.3h0.65M413.6 598.4h0.65M413.6 629.5h0.65M413.7 609.0h0.65M413.7 588.5h0.65M413.7 583.9h0.65M413.7 609.5h0.65M413.7 597.8h0.65M413.7 628.8h0.65M413.7 602.3h0.65M413.7 620.9h0.65M413.8 623.9h0.65M413.8 611.8h0.65M413.8 589.9h0.65M413.8 578.5h0.65M413.8 613.8h0.65M413.8 611.5h0.65M413.8 576.9h0.65M413.8 616.2h0.65M413.8 576.9h0.65M413.9 618.5h0.65M413.9 607.2h0.65M413.9 597.3h0.65M413.9 572.3h0.65M413.9 590.5h0.65M413.9 617.0h0.65M413.9 595.2h0.65M414.0 622.8h0.65M414.0 593.3h0.65M414.0 615.8h0.65M414.0 623.4h0.65M414.0 614.8h0.65M414.1 610.9h0.65M414.1 579.1h0.65M414.1 609.6h0.65M414.1 586.0h0.65M414.1 623.3h0.65M414.1 586.4h0.65M414.1 594.4h0.65M414.2 605.5h0.65M414.2 585.1h0.65M414.2 570.6h0.65M414.3 600.1h0.65M414.3 615.0h0.65M414.3 596.1h0.65M414.3 583.9h0.65M414.3 602.8h0.65M414.3 607.9h0.65M414.4 572.9h0.65M414.4 611.7h0.65M414.4 600.4h0.65M414.4 577.3h0.65M414.4 584.7h0.65M414.4 615.4h0.65M414.4 592.8h0.65M414.4 610.1h0.65M414.5 591.7h0.65M414.6 572.2h0.65M414.6 595.3h0.65M414.6 623.6h0.65M414.6 592.8h0.65M414.6 589.9h0.65M414.6 587.6h0.65M414.7 616.3h0.65M414.7 602.4h0.65M414.7 591.2h0.65M414.7 585.3h0.65M414.7 620.1h0.65M414.7 593.8h0.65M414.7 614.4h0.65M414.8 598.7h0.65M414.8 593.8h0.65M414.8 625.7h0.65M414.8 586.6h0.65M414.8 599.6h0.65M414.8 581.3h0.65M414.9 598.4h0.65M414.9 598.7h0.65M414.9 576.2h0.65M415.0 592.3h0.65M415.0 594.9h0.65M415.0 614.4h0.65M415.0 564.4h0.65M415.0 612.1h0.65M415.0 591.2h0.65M415.1 592.2h0.65M415.2 617.4h0.65M415.2 597.2h0.65M415.2 577.6h0.65M415.2 619.7h0.65M415.2 600.9h0.65M415.3 623.2h0.65M415.3 582.7h0.65M415.4 604.5h0.65M415.4 568.5h0.65M415.4 597.0h0.65M415.4 570.1h0.65M415.4 614.7h0.65M415.4 565.5h0.65M415.5 593.8h0.65M415.5 598.1h0.65M415.5 593.7h0.65M415.5 620.7h0.65M415.6 603.9h0.65M415.6 588.4h0.65M415.7 617.5h0.65M415.7 592.1h0.65M415.7 619.7h0.65M415.8 588.6h0.65M415.8 574.0h0.65M415.8 592.1h0.65M415.9 607.9h0.65M416.0 586.7h0.65M416.0 601.2h0.65M416.1 613.6h0.65M416.2 615.0h0.65M416.2 605.0h0.65M416.2 604.9h0.65M416.4 583.4h0.65M416.4 600.3h0.65M416.5 621.3h0.65M416.5 613.9h0.65M416.6 574.4h0.65M416.6 575.0h0.65M416.7 571.8h0.65M416.7 581.5h0.65M416.7 568.6h0.65M416.7 579.9h0.65M416.7 625.9h0.65M416.8 584.8h0.65M416.8 619.5h0.65M416.8 585.3h0.65M416.9 621.7h0.65M417.0 613.6h0.65M417.1 603.1h0.65M417.1 618.0h0.65M417.1 593.1h0.65M417.2 587.6h0.65M417.3 585.6h0.65M417.3 592.1h0.65M417.3 579.8h0.65M417.4 609.6h0.65M417.4 574.4h0.65M417.5 590.3h0.65M417.5 621.6h0.65M417.5 602.0h0.65M417.5 606.9h0.65M417.5 617.5h0.65M417.5 585.2h0.65M417.6 623.5h0.65M417.6 588.1h0.65M417.6 606.2h0.65M417.7 616.8h0.65M417.7 624.1h0.65M417.8 581.0h0.65M417.9 605.1h0.65M417.9 564.4h0.65M417.9 608.8h0.65M418.0 611.0h0.65M418.0 586.3h0.65M418.1 578.9h0.65M418.1 611.4h0.65M418.1 580.8h0.65M418.1 569.3h0.65M418.2 589.0h0.65M418.2 600.7h0.65M418.2 591.8h0.65M418.3 618.7h0.65M418.4 601.7h0.65M418.6 614.1h0.65M418.7 585.0h0.65M418.7 573.7h0.65M418.7 588.2h0.65M418.9 624.9h0.65M419.1 609.3h0.65M419.3 624.5h0.65M419.3 614.8h0.65M419.3 601.4h0.65M419.4 619.3h0.65M419.4 600.4h0.65M419.4 634.3h0.65M419.5 608.1h0.65M419.8 586.8h0.65M419.9 583.8h0.65M420.1 575.6h0.65M420.1 624.8h0.65M420.2 580.5h0.65M420.2 621.1h0.65M420.4 585.6h0.65M420.4 619.2h0.65M420.5 628.0h0.65M420.5 620.1h0.65M420.6 573.3h0.65M420.7 622.1h0.65M420.9 595.9h0.65M421.1 627.3h0.65M421.2 618.4h0.65M421.3 624.4h0.65M421.5 604.4h0.65M421.6 624.2h0.65M421.6 622.1h0.65M421.7 615.6h0.65M422.0 602.2h0.65M422.0 604.2h0.65M422.0 564.7h0.65M422.1 591.2h0.65M422.2 581.1h0.65M422.2 546.9h0.65M422.3 596.7h0.65M422.4 633.6h0.65M422.4 585.8h0.65M422.5 606.6h0.65M422.7 592.2h0.65M422.7 627.4h0.65M422.8 587.5h0.65M422.9 611.7h0.65M423.0 595.4h0.65M423.1 595.2h0.65M423.1 583.9h0.65M423.1 604.1h0.65M423.2 588.9h0.65M423.5 627.2h0.65M423.6 602.2h0.65M423.7 624.5h0.65M423.7 621.8h0.65M423.7 590.2h0.65M423.8 624.8h0.65M423.9 605.8h0.65M423.9 620.6h0.65M423.9 625.9h0.65M424.0 596.5h0.65M424.0 620.6h0.65M424.0 610.5h0.65M424.1 621.2h0.65M424.3 634.0h0.65M424.4 596.0h0.65M424.5 602.0h0.65M424.5 589.3h0.65M424.6 613.9h0.65M424.8 579.1h0.65M424.8 605.5h0.65M424.8 590.8h0.65M424.9 618.2h0.65M425.0 625.8h0.65M425.0 617.0h0.65M425.1 578.5h0.65M425.1 593.3h0.65M425.4 602.2h0.65M425.5 582.4h0.65M425.5 624.7h0.65M425.5 632.9h0.65M425.7 605.3h0.65M426.0 619.6h0.65M426.0 621.4h0.65M426.0 615.1h0.65M426.1 623.0h0.65M426.1 601.6h0.65M426.1 612.4h0.65M426.2 619.3h0.65M426.3 625.1h0.65M426.5 620.5h0.65M426.5 589.9h0.65M426.5 612.7h0.65M426.6 569.8h0.65M426.6 619.3h0.65M426.7 600.8h0.65M426.7 598.4h0.65M426.8 599.1h0.65M426.9 593.9h0.65M426.9 599.7h0.65M427.0 616.1h0.65M427.1 601.7h0.65M427.2 610.7h0.65M427.2 625.8h0.65M427.3 620.5h0.65M427.3 573.5h0.65M427.3 623.9h0.65M427.4 595.4h0.65M427.4 620.1h0.65M427.4 584.2h0.65M427.5 604.4h0.65M427.5 625.8h0.65M427.7 623.9h0.65M427.7 594.5h0.65M427.8 592.2h0.65M428.0 617.6h0.65M428.1 625.4h0.65M428.1 617.1h0.65M428.1 607.9h0.65M428.2 619.4h0.65M428.2 625.8h0.65M428.3 620.6h0.65M428.3 618.0h0.65M428.4 609.7h0.65M428.4 603.9h0.65M428.4 589.5h0.65M428.5 627.0h0.65M428.6 614.4h0.65M428.6 620.7h0.65M428.7 586.9h0.65M428.7 626.4h0.65M428.9 585.7h0.65M429.0 598.8h0.65M429.0 614.6h0.65M429.2 565.9h0.65M429.2 589.6h0.65M429.3 610.8h0.65M429.3 564.7h0.65M429.4 616.9h0.65M429.7 618.3h0.65M429.7 608.6h0.65M429.9 634.0h0.65M429.9 620.7h0.65M430.0 621.2h0.65M430.0 592.3h0.65M430.0 612.2h0.65M430.1 612.1h0.65M430.1 580.8h0.65M430.1 593.5h0.65M430.2 566.0h0.65M430.2 617.4h0.65M430.3 588.9h0.65M430.3 620.1h0.65M430.4 606.2h0.65M430.4 584.1h0.65M430.5 595.3h0.65M430.6 579.0h0.65M430.6 626.5h0.65M430.7 617.8h0.65M430.9 629.0h0.65M431.0 623.4h0.65M431.1 593.9h0.65M431.2 595.5h0.65M431.3 624.0h0.65M431.4 627.3h0.65M431.6 560.4h0.65M431.8 614.2h0.65M431.8 616.1h0.65M431.9 625.0h0.65M432.0 582.7h0.65M432.0 617.0h0.65M432.1 619.1h0.65M432.1 618.2h0.65M432.1 584.4h0.65M432.1 573.8h0.65M432.2 576.5h0.65M432.2 619.4h0.65M432.2 585.0h0.65M432.4 618.3h0.65M432.4 621.9h0.65M432.5 618.1h0.65M432.5 603.0h0.65M432.6 586.5h0.65M432.7 622.9h0.65M432.7 623.3h0.65M432.7 626.2h0.65M432.8 591.8h0.65M433.0 592.2h0.65M433.1 596.9h0.65M433.2 604.2h0.65M433.3 621.0h0.65M433.3 621.2h0.65M433.4 620.4h0.65M433.4 636.6h0.65M433.4 583.1h0.65M433.6 628.8h0.65M433.7 623.8h0.65M433.8 618.1h0.65M434.2 585.1h0.65M434.2 624.4h0.65M434.2 621.3h0.65M434.2 625.3h0.65M434.3 621.6h0.65M434.5 600.3h0.65M434.6 624.8h0.65M434.6 603.2h0.65M434.8 617.6h0.65M435.1 583.3h0.65M435.1 620.5h0.65M435.1 618.1h0.65M435.4 624.0h0.65M435.5 600.2h0.65M435.6 626.9h0.65M435.7 570.7h0.65M435.7 613.3h0.65M435.8 582.9h0.65M435.8 610.9h0.65M435.9 629.8h0.65M436.0 624.1h0.65M436.1 616.9h0.65M436.2 577.4h0.65M436.2 613.6h0.65M436.3 622.4h0.65M436.3 629.4h0.65M436.3 574.3h0.65M436.3 575.9h0.65M436.5 622.2h0.65M436.6 580.8h0.65M436.8 624.6h0.65M437.0 618.0h0.65M437.1 579.9h0.65M437.1 578.9h0.65M437.1 619.5h0.65M437.4 623.0h0.65M437.4 611.7h0.65M437.7 592.4h0.65M437.8 620.4h0.65M437.9 618.1h0.65M438.1 629.4h0.65M438.4 588.1h0.65M438.4 625.8h0.65M438.5 631.9h0.65M438.8 614.8h0.65M439.0 594.2h0.65M439.1 624.6h0.65M439.2 624.0h0.65M439.3 622.3h0.65M439.4 614.0h0.65M439.5 622.8h0.65M439.7 589.2h0.65M439.8 626.4h0.65M439.8 624.9h0.65M441.1 620.5h0.65M441.4 612.3h0.65M441.5 580.7h0.65M441.7 621.8h0.65M441.9 626.3h0.65M441.9 613.5h0.65M442.0 616.4h0.65M442.1 617.9h0.65M442.1 605.4h0.65M442.6 617.1h0.65M443.3 580.6h0.65M444.2 616.8h0.65M444.8 625.4h0.65M444.8 620.3h0.65M445.1 623.4h0.65M445.8 614.8h0.65M447.0 581.2h0.65M447.7 623.1h0.65M449.4 617.9h0.65M455.1 620.6h0.65" stroke="#333" stroke-width="0.65" fill="none"/>
<path d="M404.8 627l-2.6 0l-2.5-.2l-2.5-.3l-2.4-.6l-2.4-.8l-2.2-1.1l-2.1-1.4l-1.5-2l-.7-2.4l.2-2.5l1.5-2l2-1.4l2.2-1.3l1.3-1.9l-1-2.3l-1.1-2.3l-.7-2.4l-.3-2.5l-.1-2.5l0-2.5l.1-2.5l.3-2.5l.3-2.5l.4-2.5l.4-2.5l.5-2.4l.9-2.4l1.1-2.2l1.6-2l1.9-1.6l2.1-1.3l2.4-.8l2.5-.4l2.5 .1l2.1 1.3l1.4 2l.9 2.4l.7 2.4l.3 2.5l.2 2.5l.1 2.5l0 2.5l-.1 2.5l-.2 2.5l-.3 2.5l-.3 2.5l-.3 2.5l-.4 2.5l-.5 2.4l-.8 2.4l-.7 2.4l1.3 2.2l1.3 2.1l.7 2.4l.1 2.5l-.5 2.5l-.9 2.3l-1.6 1.9l-2.2 1.2z" fill="#fff" stroke="#222" stroke-width="0.85" stroke-linejoin="round"/>
<path d="M405 625.3l-2.4 0l-2.3-.2l-2.3-.4l-2.3-.5l-2.2-.9l-2-1.3l-1.6-1.7l-.7-2.2l.3-2.3l1.5-1.8l2-1.2l2.2-1l2.1-1l.7-1.7l-1.8-1.6l-1.5-1.7l-1.2-2.1l-.7-2.2l-.4-2.4l-.1-2.3l.1-2.4l.1-2.3l.3-2.4l.3-2.3l.3-2.3l.4-2.4l.6-2.3l.8-2.2l1.2-2l1.6-1.7l1.9-1.4l2.1-.9l2.4-.4l2.3 0l2 1.3l1.2 2l.7 2.2l.5 2.3l.2 2.4l.1 2.3l0 2.4l-.1 2.3l-.3 2.4l-.3 2.3l-.4 2.3l-.4 2.3l-.4 2.4l-.5 2.3l-.8 2.2l-1.1 2.1l-1.3 1.9l1.2 1.8l1.9 1.4l1.4 1.9l.6 2.2l0 2.4l-.6 2.3l-1.2 2l-1.8 1.5z" fill="none" stroke="#444" stroke-width="0.7" stroke-linejoin="round"/>
<path d="M403 606.5l-1.6 0l-1.6-.4l-1.4-.7l-1.2-1.1l-1-1.3l-.6-1.4l-.4-1.6l-.2-1.6l-.1-1.6l0-1.6l0-1.6l.2-1.6l.2-1.6l.1-1.6l.2-1.6l.3-1.6l.2-1.6l.3-1.6l.5-1.5l.6-1.5l.8-1.4l1.1-1.2l1.2-1l1.5-.7l1.5-.5l1.6-.2l1.6 .1l1.3 1l.8 1.4l.6 1.5l.4 1.5l.2 1.6l.1 1.6l.1 1.6l-.1 1.6l0 1.7l-.2 1.6l-.3 1.5l-.3 1.6l-.4 1.6l-.3 1.6l-.4 1.5l-.3 1.6l-.3 1.6l-.5 1.5l-.6 1.5l-.9 1.4l-1.2 1zM405 623.5l-1.6 0l-1.7 0l-1.6-.2l-1.6-.4l-1.6-.5l-1.5-.6l-1.3-1l-1.1-1.2l-.5-1.6l.1-1.6l.9-1.3l1.4-1l1.5-.7l1.5-.5l1.6-.3l1.7-.2l1.6-.2l1.6 .1l1.7 .3l1.4 .7l1.2 1.2l.6 1.4l.2 1.7l-.2 1.6l-.5 1.6l-.9 1.3l-1.3 1z" fill="none" stroke="#444" stroke-width="0.7" stroke-linejoin="round"/>
<path d="M403.2 603.3l-1.6 0l-1.5-.5l-1.2-1.1l-.8-1.4l-.4-1.6l-.2-1.6l-.1-1.6l.1-1.6l.1-1.7l.1-1.6l.2-1.6l.1-1.6l.2-1.6l.3-1.6l.3-1.6l.6-1.5l.8-1.4l1.1-1.2l1.4-.9l1.5-.5l1.6-.1l1.5 .5l.9 1.4l.5 1.5l.3 1.6l.1 1.6l.1 1.7l-.1 1.6l-.2 1.6l-.3 1.6l-.4 1.6l-.5 1.5l-.5 1.5l-.5 1.6l-.4 1.6l-.4 1.6l-.5 1.5l-.8 1.4zM405.2 621.8l-1.6 .1l-1.7-.1l-1.6-.3l-1.6-.5l-1.5-.8l-1.1-1.2l-.4-1.6l.6-1.5l1.4-1l1.5-.6l1.6-.3l1.7-.2l1.7 0l1.6 .2l1.4 .9l.8 1.5l0 1.6l-.3 1.7l-1 1.3z" fill="none" stroke="#444" stroke-width="0.7" stroke-linejoin="round"/>
<path d="M403 599.4l-1.5-.3l-.9-1.4l-.3-1.5l-.1-1.6l.1-1.7l0-1.6l0-1.6l-.1-1.6l.1-1.6l.2-1.6l.4-1.6l.6-1.5l1-1.3l1.3-.9l1.6-.3l1.5 .5l.8 1.4l.3 1.5l.2 1.7l-.1 1.6l-.1 1.6l-.4 1.6l-.6 1.5l-.8 1.4l-.7 1.4l-.6 1.5l-.5 1.6l-.5 1.5zM404.5 620.3l-1.6-.1l-1.7-.3l-1.5-.7l-.9-1.3l.4-1.5l1.4-.8l1.6-.4l1.7-.1l1.6 .2l1.1 1.2l.1 1.6l-.7 1.5z" fill="none" stroke="#444" stroke-width="0.7" stroke-linejoin="round"/>
<path d="M404.2 590.1l-1.3-.9l-.5-1.6l-.1-1.6l.3-1.7l.7-1.5l1.2-1.1l1.7-.1l.8 1.3l.2 1.7l0 1.7l-.5 1.6l-1 1.3zM404.8 618.3l-.8 .1l-.8-.1l-.7-.3l-.3-.8l.6-.5l.8-.1l.8-.1l.7 .4l.1 .8z" fill="none" stroke="#444" stroke-width="0.7" stroke-linejoin="round"/>
</g>
<rect x="269.3" y="540.1" width="101.44999999999999" height="101.0" fill="none" stroke="#000" stroke-width="2.0"/>
<line x1="312.70" y1="540.10" x2="312.70" y2="641.10" stroke="#000" stroke-width="1.7"/>
<line x1="269.30" y1="609.10" x2="370.75" y2="609.10" stroke="#000" stroke-width="1.6"/>
<rect x="370.75" y="539.5" width="101.55000000000001" height="101.20000000000005" fill="none" stroke="#000" stroke-width="2.0"/>
<line x1="414.35" y1="539.50" x2="414.35" y2="640.70" stroke="#000" stroke-width="1.7"/>
<line x1="370.75" y1="608.40" x2="472.30" y2="608.40" stroke="#000" stroke-width="1.6"/>
<line x1="289.10" y1="641.10" x2="289.10" y2="644.20" stroke="#000" stroke-width="1.1"/>
<text x="289.10" y="651.00" font-size="4.6" font-weight="bold" text-anchor="middle">0</text>
<line x1="298.60" y1="641.10" x2="298.60" y2="644.20" stroke="#000" stroke-width="1.1"/>
<text x="298.4" y="651.0" font-size="4.6" font-weight="bold" text-anchor="middle">10<tspan dy="-1.7" font-size="3.3">2</tspan></text>
<line x1="321.10" y1="641.10" x2="321.10" y2="644.20" stroke="#000" stroke-width="1.1"/>
<text x="320.9" y="651.0" font-size="4.6" font-weight="bold" text-anchor="middle">10<tspan dy="-1.7" font-size="3.3">3</tspan></text>
<line x1="341.60" y1="641.10" x2="341.60" y2="644.20" stroke="#000" stroke-width="1.1"/>
<text x="341.4" y="651.0" font-size="4.6" font-weight="bold" text-anchor="middle">10<tspan dy="-1.7" font-size="3.3">4</tspan></text>
<line x1="362.50" y1="641.10" x2="362.50" y2="644.20" stroke="#000" stroke-width="1.1"/>
<text x="362.3" y="651.0" font-size="4.6" font-weight="bold" text-anchor="middle">10<tspan dy="-1.7" font-size="3.3">5</tspan></text>
<line x1="277.30" y1="641.10" x2="277.30" y2="643.20" stroke="#000" stroke-width="0.8"/>
<line x1="282.60" y1="641.10" x2="282.60" y2="643.20" stroke="#000" stroke-width="0.8"/>
<line x1="286.10" y1="641.10" x2="286.10" y2="643.20" stroke="#000" stroke-width="0.8"/>
<line x1="291.60" y1="641.10" x2="291.60" y2="643.20" stroke="#000" stroke-width="0.8"/>
<line x1="294.50" y1="641.10" x2="294.50" y2="643.20" stroke="#000" stroke-width="0.8"/>
<line x1="305.40" y1="641.10" x2="305.40" y2="643.20" stroke="#000" stroke-width="0.8"/>
<line x1="309.30" y1="641.10" x2="309.30" y2="643.20" stroke="#000" stroke-width="0.8"/>
<line x1="314.30" y1="641.10" x2="314.30" y2="643.20" stroke="#000" stroke-width="0.8"/>
<line x1="325.90" y1="641.10" x2="325.90" y2="643.20" stroke="#000" stroke-width="0.8"/>
<line x1="329.80" y1="641.10" x2="329.80" y2="643.20" stroke="#000" stroke-width="0.8"/>
<line x1="334.80" y1="641.10" x2="334.80" y2="643.20" stroke="#000" stroke-width="0.8"/>
<line x1="346.40" y1="641.10" x2="346.40" y2="643.20" stroke="#000" stroke-width="0.8"/>
<line x1="350.30" y1="641.10" x2="350.30" y2="643.20" stroke="#000" stroke-width="0.8"/>
<line x1="355.30" y1="641.10" x2="355.30" y2="643.20" stroke="#000" stroke-width="0.8"/>
<line x1="390.55" y1="640.70" x2="390.55" y2="643.80" stroke="#000" stroke-width="1.1"/>
<text x="390.55" y="651.00" font-size="4.6" font-weight="bold" text-anchor="middle">0</text>
<line x1="400.05" y1="640.70" x2="400.05" y2="643.80" stroke="#000" stroke-width="1.1"/>
<text x="399.9" y="651.0" font-size="4.6" font-weight="bold" text-anchor="middle">10<tspan dy="-1.7" font-size="3.3">2</tspan></text>
<line x1="422.55" y1="640.70" x2="422.55" y2="643.80" stroke="#000" stroke-width="1.1"/>
<text x="422.4" y="651.0" font-size="4.6" font-weight="bold" text-anchor="middle">10<tspan dy="-1.7" font-size="3.3">3</tspan></text>
<line x1="443.05" y1="640.70" x2="443.05" y2="643.80" stroke="#000" stroke-width="1.1"/>
<text x="442.9" y="651.0" font-size="4.6" font-weight="bold" text-anchor="middle">10<tspan dy="-1.7" font-size="3.3">4</tspan></text>
<line x1="463.95" y1="640.70" x2="463.95" y2="643.80" stroke="#000" stroke-width="1.1"/>
<text x="463.8" y="651.0" font-size="4.6" font-weight="bold" text-anchor="middle">10<tspan dy="-1.7" font-size="3.3">5</tspan></text>
<line x1="378.75" y1="640.70" x2="378.75" y2="642.80" stroke="#000" stroke-width="0.8"/>
<line x1="384.05" y1="640.70" x2="384.05" y2="642.80" stroke="#000" stroke-width="0.8"/>
<line x1="387.55" y1="640.70" x2="387.55" y2="642.80" stroke="#000" stroke-width="0.8"/>
<line x1="393.05" y1="640.70" x2="393.05" y2="642.80" stroke="#000" stroke-width="0.8"/>
<line x1="395.95" y1="640.70" x2="395.95" y2="642.80" stroke="#000" stroke-width="0.8"/>
<line x1="406.85" y1="640.70" x2="406.85" y2="642.80" stroke="#000" stroke-width="0.8"/>
<line x1="410.75" y1="640.70" x2="410.75" y2="642.80" stroke="#000" stroke-width="0.8"/>
<line x1="415.75" y1="640.70" x2="415.75" y2="642.80" stroke="#000" stroke-width="0.8"/>
<line x1="427.35" y1="640.70" x2="427.35" y2="642.80" stroke="#000" stroke-width="0.8"/>
<line x1="431.25" y1="640.70" x2="431.25" y2="642.80" stroke="#000" stroke-width="0.8"/>
<line x1="436.25" y1="640.70" x2="436.25" y2="642.80" stroke="#000" stroke-width="0.8"/>
<line x1="447.85" y1="640.70" x2="447.85" y2="642.80" stroke="#000" stroke-width="0.8"/>
<line x1="451.75" y1="640.70" x2="451.75" y2="642.80" stroke="#000" stroke-width="0.8"/>
<line x1="456.75" y1="640.70" x2="456.75" y2="642.80" stroke="#000" stroke-width="0.8"/>
<line x1="266.30" y1="547.50" x2="269.30" y2="547.50" stroke="#000" stroke-width="1.1"/>
<text x="264.9" y="549.1" font-size="4.6" font-weight="bold" text-anchor="end">10<tspan dy="-1.7" font-size="3.3">5</tspan></text>
<line x1="266.30" y1="568.00" x2="269.30" y2="568.00" stroke="#000" stroke-width="1.1"/>
<text x="264.9" y="569.6" font-size="4.6" font-weight="bold" text-anchor="end">10<tspan dy="-1.7" font-size="3.3">4</tspan></text>
<line x1="266.30" y1="589.00" x2="269.30" y2="589.00" stroke="#000" stroke-width="1.1"/>
<text x="264.9" y="590.6" font-size="4.6" font-weight="bold" text-anchor="end">10<tspan dy="-1.7" font-size="3.3">3</tspan></text>
<line x1="266.30" y1="610.00" x2="269.30" y2="610.00" stroke="#000" stroke-width="1.1"/>
<text x="264.9" y="611.6" font-size="4.6" font-weight="bold" text-anchor="end">10<tspan dy="-1.7" font-size="3.3">2</tspan></text>
<line x1="266.30" y1="621.10" x2="269.30" y2="621.10" stroke="#000" stroke-width="1.1"/>
<text x="264.90" y="622.70" font-size="4.6" font-weight="bold" text-anchor="end">0</text>
<line x1="267.30" y1="553.70" x2="269.30" y2="553.70" stroke="#000" stroke-width="0.8"/>
<line x1="267.30" y1="557.60" x2="269.30" y2="557.60" stroke="#000" stroke-width="0.8"/>
<line x1="267.30" y1="561.20" x2="269.30" y2="561.20" stroke="#000" stroke-width="0.8"/>
<line x1="267.30" y1="574.20" x2="269.30" y2="574.20" stroke="#000" stroke-width="0.8"/>
<line x1="267.30" y1="578.10" x2="269.30" y2="578.10" stroke="#000" stroke-width="0.8"/>
<line x1="267.30" y1="581.70" x2="269.30" y2="581.70" stroke="#000" stroke-width="0.8"/>
<line x1="267.30" y1="595.20" x2="269.30" y2="595.20" stroke="#000" stroke-width="0.8"/>
<line x1="267.30" y1="599.10" x2="269.30" y2="599.10" stroke="#000" stroke-width="0.8"/>
<line x1="267.30" y1="602.70" x2="269.30" y2="602.70" stroke="#000" stroke-width="0.8"/>
<line x1="267.30" y1="615.10" x2="269.30" y2="615.10" stroke="#000" stroke-width="0.8"/>
<line x1="267.30" y1="624.30" x2="269.30" y2="624.30" stroke="#000" stroke-width="0.8"/>
<line x1="267.30" y1="627.30" x2="269.30" y2="627.30" stroke="#000" stroke-width="0.8"/>
<line x1="267.30" y1="630.80" x2="269.30" y2="630.80" stroke="#000" stroke-width="0.8"/>
<line x1="267.30" y1="634.80" x2="269.30" y2="634.80" stroke="#000" stroke-width="0.8"/>
<line x1="252.30" y1="620.00" x2="252.30" y2="658.25" stroke="#000" stroke-width="1.5"/>
<line x1="251.55" y1="657.50" x2="291.00" y2="657.50" stroke="#000" stroke-width="1.5"/>
<polygon points="252.30,611.40 255.90,621.40 248.70,621.40" fill="#000"/>
<polygon points="299.8,657.5 289.7,654.0 289.7,661.0" fill="#000"/>
<text transform="translate(247.30,651.90) rotate(-90)" font-size="12.6" font-weight="bold" textLength="29.4" lengthAdjust="spacingAndGlyphs">CD57</text>
<text x="258.30" y="671.90" font-size="13" font-weight="bold" textLength="31.6" lengthAdjust="spacingAndGlyphs">Ki-67</text>
<text x="-1.20" y="726.30" font-size="17.3" font-weight="bold" style="stroke-width:.8px">E</text>
<rect x="30.00" y="714.00" width="7.6" height="7.6" fill="none" stroke="#000" stroke-width="1.05"/>
<circle cx="33.50" cy="734.30" r="4.05" fill="none" stroke="#000" stroke-width="1.05"/>
<text x="40.60" y="722.00" font-size="10.4" font-weight="bold" textLength="77.3" lengthAdjust="spacingAndGlyphs">Dim N+/K- CD57-</text>
<text x="40.60" y="737.40" font-size="10.4" font-weight="bold" textLength="80" lengthAdjust="spacingAndGlyphs">Dim N+/K- CD57+</text>
<line x1="38.05" y1="761.95" x2="38.05" y2="902.45" stroke="#000" stroke-width="1.7"/>
<line x1="37.20" y1="901.70" x2="210.00" y2="901.70" stroke="#000" stroke-width="1.5"/>
<line x1="33.35" y1="901.70" x2="38.05" y2="901.70" stroke="#000" stroke-width="1.3"/>
<text x="33.65" y="905.45" font-size="10.5" font-weight="bold" text-anchor="end" letter-spacing="-0.45">0</text>
<line x1="33.35" y1="873.88" x2="38.05" y2="873.88" stroke="#000" stroke-width="1.3"/>
<text x="33.65" y="877.63" font-size="10.5" font-weight="bold" text-anchor="end" letter-spacing="-0.45">10</text>
<line x1="33.35" y1="846.06" x2="38.05" y2="846.06" stroke="#000" stroke-width="1.3"/>
<text x="33.65" y="849.81" font-size="10.5" font-weight="bold" text-anchor="end" letter-spacing="-0.45">20</text>
<line x1="33.35" y1="818.24" x2="38.05" y2="818.24" stroke="#000" stroke-width="1.3"/>
<text x="33.65" y="821.99" font-size="10.5" font-weight="bold" text-anchor="end" letter-spacing="-0.45">30</text>
<line x1="33.35" y1="790.42" x2="38.05" y2="790.42" stroke="#000" stroke-width="1.3"/>
<text x="33.65" y="794.17" font-size="10.5" font-weight="bold" text-anchor="end" letter-spacing="-0.45">40</text>
<line x1="33.35" y1="762.60" x2="38.05" y2="762.60" stroke="#000" stroke-width="1.3"/>
<text x="33.65" y="766.35" font-size="10.5" font-weight="bold" text-anchor="end" letter-spacing="-0.45">50</text>
<line x1="66.80" y1="902.00" x2="66.80" y2="906.00" stroke="#000" stroke-width="1.2"/>
<line x1="123.70" y1="902.00" x2="123.70" y2="906.00" stroke="#000" stroke-width="1.2"/>
<line x1="180.80" y1="902.00" x2="180.80" y2="906.00" stroke="#000" stroke-width="1.2"/>
<text transform="translate(15.90,844.60) rotate(-90)" font-size="12.8" font-weight="bold" textLength="47.3" lengthAdjust="spacingAndGlyphs">%Ki-67<tspan dy="-4" font-size="8">+</tspan><tspan dy="4" font-size="1">&#8203;</tspan></text>
<text transform="translate(69.30,913.00) rotate(-45)" font-size="11.2" font-weight="bold" text-anchor="end">Ctrl</text>
<text transform="translate(126.40,913.00) rotate(-45)" font-size="11.2" font-weight="bold" text-anchor="end">IM acute</text>
<text transform="translate(183.50,913.00) rotate(-45)" font-size="11.2" font-weight="bold" text-anchor="end">IM 1 month</text>
<line x1="77.50" y1="755.50" x2="135.00" y2="755.50" stroke="#000" stroke-width="1.3"/>
<text x="107.50" y="753.70" class="n" font-size="9.8" font-weight="normal" text-anchor="middle">n.s.</text>
<line x1="56.20" y1="766.50" x2="113.70" y2="766.50" stroke="#000" stroke-width="1.3"/>
<text x="87.20" y="765.60" class="n" font-size="9.8" font-weight="normal" text-anchor="middle"><tspan font-style="italic">P</tspan> &lt; 0.05</text>
<line x1="56.20" y1="778.50" x2="78.00" y2="778.50" stroke="#000" stroke-width="1.3"/>
<text x="67.50" y="776.70" class="n" font-size="9.8" font-weight="normal" text-anchor="middle">n.s.</text>
<line x1="113.00" y1="778.50" x2="136.20" y2="778.50" stroke="#000" stroke-width="1.3"/>
<text x="124.70" y="777.90" class="n" font-size="9.8" font-weight="normal" text-anchor="middle"><tspan font-style="italic">P</tspan> &lt; 0.0001</text>
<line x1="136.70" y1="763.50" x2="192.50" y2="763.50" stroke="#000" stroke-width="1.3"/>
<text x="166.20" y="762.60" class="n" font-size="9.8" font-weight="normal" text-anchor="middle"><tspan font-style="italic">P</tspan> &lt; 0.01</text>
<line x1="135.00" y1="824.50" x2="192.00" y2="824.50" stroke="#000" stroke-width="1.3"/>
<text x="165.50" y="822.90" class="n" font-size="9.8" font-weight="normal" text-anchor="middle">n.s.</text>
<line x1="170.70" y1="845.50" x2="192.50" y2="845.50" stroke="#000" stroke-width="1.3"/>
<text x="182.50" y="843.90" class="n" font-size="9.8" font-weight="normal" text-anchor="middle">n.s.</text>
<rect x="46.00" y="782.70" width="8.0" height="8.0" fill="none" stroke="#000" stroke-width="1.2"/>
<rect x="55.50" y="784.00" width="8.0" height="8.0" fill="none" stroke="#000" stroke-width="1.2"/>
<rect x="49.00" y="849.70" width="8.0" height="8.0" fill="none" stroke="#000" stroke-width="1.2"/>
<rect x="58.00" y="849.20" width="8.0" height="8.0" fill="none" stroke="#000" stroke-width="1.2"/>
<rect x="53.00" y="862.20" width="8.0" height="8.0" fill="none" stroke="#000" stroke-width="1.2"/>
<rect x="51.50" y="869.00" width="8.0" height="8.0" fill="none" stroke="#000" stroke-width="1.2"/>
<rect x="48.00" y="874.00" width="8.0" height="8.0" fill="none" stroke="#000" stroke-width="1.2"/>
<rect x="54.00" y="875.00" width="8.0" height="8.0" fill="none" stroke="#000" stroke-width="1.2"/>
<rect x="45.00" y="880.00" width="8.0" height="8.0" fill="none" stroke="#000" stroke-width="1.2"/>
<rect x="51.00" y="881.00" width="8.0" height="8.0" fill="none" stroke="#000" stroke-width="1.2"/>
<rect x="57.00" y="880.00" width="8.0" height="8.0" fill="none" stroke="#000" stroke-width="1.2"/>
<rect x="60.00" y="878.00" width="8.0" height="8.0" fill="none" stroke="#000" stroke-width="1.2"/>
<rect x="48.00" y="884.00" width="8.0" height="8.0" fill="none" stroke="#000" stroke-width="1.2"/>
<rect x="54.00" y="884.00" width="8.0" height="8.0" fill="none" stroke="#000" stroke-width="1.2"/>
<rect x="51.50" y="889.00" width="8.0" height="8.0" fill="none" stroke="#000" stroke-width="1.2"/>
<rect x="109.00" y="781.70" width="8.0" height="8.0" fill="none" stroke="#000" stroke-width="1.2"/>
<rect x="103.00" y="795.20" width="8.0" height="8.0" fill="none" stroke="#000" stroke-width="1.2"/>
<rect x="112.70" y="803.00" width="8.0" height="8.0" fill="none" stroke="#000" stroke-width="1.2"/>
<rect x="115.00" y="834.50" width="8.0" height="8.0" fill="none" stroke="#000" stroke-width="1.2"/>
<rect x="110.20" y="853.50" width="8.0" height="8.0" fill="none" stroke="#000" stroke-width="1.2"/>
<rect x="110.50" y="854.50" width="8.0" height="8.0" fill="none" stroke="#000" stroke-width="1.2"/>
<rect x="109.00" y="867.70" width="8.0" height="8.0" fill="none" stroke="#000" stroke-width="1.2"/>
<rect x="106.00" y="836.00" width="8.0" height="8.0" fill="none" stroke="#000" stroke-width="1.2"/>
<rect x="109.00" y="835.00" width="8.0" height="8.0" fill="none" stroke="#000" stroke-width="1.2"/>
<rect x="160.00" y="884.00" width="8.0" height="8.0" fill="none" stroke="#000" stroke-width="1.2"/>
<rect x="166.00" y="883.00" width="8.0" height="8.0" fill="none" stroke="#000" stroke-width="1.2"/>
<rect x="172.00" y="883.50" width="8.0" height="8.0" fill="none" stroke="#000" stroke-width="1.2"/>
<rect x="163.00" y="889.00" width="8.0" height="8.0" fill="none" stroke="#000" stroke-width="1.2"/>
<rect x="166.00" y="885.50" width="8.0" height="8.0" fill="none" stroke="#000" stroke-width="1.2"/>
<rect x="109.70" y="854.00" width="8.0" height="8.0" fill="none" stroke="#000" stroke-width="2.5"/>
<circle cx="77.50" cy="823.00" r="4.0" fill="none" stroke="#000" stroke-width="1.2"/>
<circle cx="84.20" cy="862.50" r="4.0" fill="none" stroke="#000" stroke-width="1.2"/>
<circle cx="71.20" cy="867.00" r="4.0" fill="none" stroke="#000" stroke-width="1.2"/>
<circle cx="80.00" cy="868.00" r="4.0" fill="none" stroke="#000" stroke-width="1.2"/>
<circle cx="75.70" cy="872.00" r="4.0" fill="none" stroke="#000" stroke-width="1.2"/>
<circle cx="71.50" cy="882.00" r="4.0" fill="none" stroke="#000" stroke-width="1.2"/>
<circle cx="81.50" cy="883.00" r="4.0" fill="none" stroke="#000" stroke-width="1.2"/>
<circle cx="76.00" cy="886.00" r="4.0" fill="none" stroke="#000" stroke-width="1.2"/>
<circle cx="73.00" cy="890.00" r="4.0" fill="none" stroke="#000" stroke-width="1.2"/>
<circle cx="79.00" cy="890.00" r="4.0" fill="none" stroke="#000" stroke-width="1.2"/>
<circle cx="84.00" cy="893.00" r="4.0" fill="none" stroke="#000" stroke-width="1.2"/>
<circle cx="71.00" cy="894.00" r="4.0" fill="none" stroke="#000" stroke-width="1.2"/>
<circle cx="77.00" cy="895.00" r="4.0" fill="none" stroke="#000" stroke-width="1.2"/>
<circle cx="74.00" cy="898.00" r="4.0" fill="none" stroke="#000" stroke-width="1.2"/>
<circle cx="80.00" cy="898.00" r="4.0" fill="none" stroke="#000" stroke-width="1.2"/>
<circle cx="77.00" cy="899.50" r="4.0" fill="none" stroke="#000" stroke-width="1.2"/>
<circle cx="135.00" cy="861.50" r="4.0" fill="none" stroke="#000" stroke-width="1.2"/>
<circle cx="128.20" cy="880.20" r="4.0" fill="none" stroke="#000" stroke-width="1.2"/>
<circle cx="138.20" cy="882.70" r="4.0" fill="none" stroke="#000" stroke-width="1.2"/>
<circle cx="127.00" cy="893.00" r="4.0" fill="none" stroke="#000" stroke-width="1.2"/>
<circle cx="131.00" cy="894.50" r="4.0" fill="none" stroke="#000" stroke-width="1.2"/>
<circle cx="135.00" cy="895.00" r="4.0" fill="none" stroke="#000" stroke-width="1.2"/>
<circle cx="139.00" cy="894.00" r="4.0" fill="none" stroke="#000" stroke-width="1.2"/>
<circle cx="142.00" cy="893.00" r="4.0" fill="none" stroke="#000" stroke-width="1.2"/>
<circle cx="133.00" cy="897.00" r="4.0" fill="none" stroke="#000" stroke-width="1.2"/>
<circle cx="137.00" cy="890.00" r="4.0" fill="none" stroke="#000" stroke-width="1.2"/>
<circle cx="186.00" cy="893.00" r="4.0" fill="none" stroke="#000" stroke-width="1.2"/>
<circle cx="191.00" cy="894.50" r="4.0" fill="none" stroke="#000" stroke-width="1.2"/>
<circle cx="197.00" cy="893.50" r="4.0" fill="none" stroke="#000" stroke-width="1.2"/>
<circle cx="190.00" cy="896.00" r="4.0" fill="none" stroke="#000" stroke-width="1.2"/>
<circle cx="194.00" cy="896.00" r="4.0" fill="none" stroke="#000" stroke-width="1.2"/>
<circle cx="199.00" cy="894.00" r="4.0" fill="none" stroke="#000" stroke-width="1.2"/>
<line x1="47.50" y1="882.00" x2="65.50" y2="882.00" stroke="#000" stroke-width="4.6"/>
<line x1="69.20" y1="888.00" x2="86.20" y2="888.00" stroke="#000" stroke-width="4.6"/>
<line x1="105.00" y1="839.20" x2="123.00" y2="839.20" stroke="#000" stroke-width="4.6"/>
<line x1="124.20" y1="894.00" x2="145.00" y2="894.00" stroke="#000" stroke-width="4.6"/>
<line x1="160.00" y1="889.00" x2="180.00" y2="889.00" stroke="#000" stroke-width="4.6"/>
<line x1="182.50" y1="894.00" x2="202.00" y2="894.00" stroke="#000" stroke-width="4.6"/>
<text x="235.20" y="726.30" font-size="17.5" font-weight="bold" style="stroke-width:.8px">F</text>
<line x1="310.80" y1="760.15" x2="310.80" y2="824.80" stroke="#000" stroke-width="1.7"/>
<line x1="310.80" y1="824.15" x2="313.70" y2="824.15" stroke="#000" stroke-width="1.3"/>
<line x1="310.80" y1="836.70" x2="313.70" y2="836.70" stroke="#000" stroke-width="1.3"/>
<line x1="310.80" y1="836.05" x2="310.80" y2="901.25" stroke="#000" stroke-width="1.7"/>
<line x1="309.95" y1="900.50" x2="520.00" y2="900.50" stroke="#000" stroke-width="1.5"/>
<line x1="305.90" y1="760.80" x2="310.80" y2="760.80" stroke="#000" stroke-width="1.3"/>
<text x="306.20" y="764.55" font-size="10.5" font-weight="bold" text-anchor="end" letter-spacing="-0.45">1000</text>
<line x1="305.90" y1="776.64" x2="310.80" y2="776.64" stroke="#000" stroke-width="1.3"/>
<text x="306.20" y="780.39" font-size="10.5" font-weight="bold" text-anchor="end" letter-spacing="-0.45">800</text>
<line x1="305.90" y1="792.48" x2="310.80" y2="792.48" stroke="#000" stroke-width="1.3"/>
<text x="306.20" y="796.23" font-size="10.5" font-weight="bold" text-anchor="end" letter-spacing="-0.45">600</text>
<line x1="305.90" y1="808.32" x2="310.80" y2="808.32" stroke="#000" stroke-width="1.3"/>
<text x="306.20" y="812.07" font-size="10.5" font-weight="bold" text-anchor="end" letter-spacing="-0.45">400</text>
<line x1="305.90" y1="824.16" x2="310.80" y2="824.16" stroke="#000" stroke-width="1.3"/>
<text x="306.20" y="827.91" font-size="10.5" font-weight="bold" text-anchor="end" letter-spacing="-0.45">200</text>
<line x1="305.90" y1="836.70" x2="310.80" y2="836.70" stroke="#000" stroke-width="1.3"/>
<text x="306.20" y="840.45" font-size="10.5" font-weight="bold" text-anchor="end" letter-spacing="-0.45">200</text>
<line x1="305.90" y1="852.65" x2="310.80" y2="852.65" stroke="#000" stroke-width="1.3"/>
<text x="306.20" y="856.40" font-size="10.5" font-weight="bold" text-anchor="end" letter-spacing="-0.45">150</text>
<line x1="305.90" y1="868.60" x2="310.80" y2="868.60" stroke="#000" stroke-width="1.3"/>
<text x="306.20" y="872.35" font-size="10.5" font-weight="bold" text-anchor="end" letter-spacing="-0.45">100</text>
<line x1="305.90" y1="884.55" x2="310.80" y2="884.55" stroke="#000" stroke-width="1.3"/>
<text x="306.20" y="888.30" font-size="10.5" font-weight="bold" text-anchor="end" letter-spacing="-0.45">50</text>
<line x1="305.90" y1="900.50" x2="310.80" y2="900.50" stroke="#000" stroke-width="1.3"/>
<text x="306.20" y="904.25" font-size="10.5" font-weight="bold" text-anchor="end" letter-spacing="-0.45">0</text>
<line x1="328.00" y1="900.50" x2="328.00" y2="905.00" stroke="#000" stroke-width="1.2"/>
<line x1="363.00" y1="900.50" x2="363.00" y2="905.00" stroke="#000" stroke-width="1.2"/>
<line x1="398.00" y1="900.50" x2="398.00" y2="905.00" stroke="#000" stroke-width="1.2"/>
<line x1="433.00" y1="900.50" x2="433.00" y2="905.00" stroke="#000" stroke-width="1.2"/>
<line x1="467.50" y1="900.50" x2="467.50" y2="905.00" stroke="#000" stroke-width="1.2"/>
<line x1="502.50" y1="900.50" x2="502.50" y2="905.00" stroke="#000" stroke-width="1.2"/>
<text transform="translate(329.20,914.00) rotate(-45)" font-size="10.8" font-weight="bold" text-anchor="end">Ctrl EBV-</text>
<text transform="translate(364.20,914.00) rotate(-45)" font-size="10.8" font-weight="bold" text-anchor="end">Ctrl EBV+</text>
<text transform="translate(399.20,914.00) rotate(-45)" font-size="10.8" font-weight="bold" text-anchor="end">IM-like</text>
<text transform="translate(434.20,914.00) rotate(-45)" font-size="10.8" font-weight="bold" text-anchor="end">IM acute</text>
<text transform="translate(468.70,914.00) rotate(-45)" font-size="10.8" font-weight="bold" text-anchor="end">IM 1 month</text>
<text transform="translate(503.70,914.00) rotate(-45)" font-size="10.8" font-weight="bold" text-anchor="end">IM 6 months</text>
<text transform="translate(262.90,908.00) rotate(-90)" font-size="12.8" font-weight="bold" textLength="160.5" lengthAdjust="spacingAndGlyphs">CD56<tspan dy="-4" font-size="7.5">dim</tspan><tspan dy="4" font-size="1">&#8203;</tspan> NKG2A<tspan dy="-4" font-size="8">+</tspan><tspan dy="4" font-size="1">&#8203;</tspan> KIR<tspan dy="-4" font-size="8">-</tspan><tspan dy="4" font-size="1">&#8203;</tspan> CD57<tspan dy="-4" font-size="8">-</tspan><tspan dy="4" font-size="1">&#8203;</tspan></text>
<text transform="translate(277.50,853.50) rotate(-90)" font-size="12.8" font-weight="bold" textLength="54.4" lengthAdjust="spacingAndGlyphs">(cells/<tspan font-style="italic">µ</tspan>L)</text>
<line x1="327.50" y1="741.50" x2="433.70" y2="741.50" stroke="#000" stroke-width="1.3"/>
<text x="380.20" y="739.20" class="n" font-size="9.8" font-weight="normal" text-anchor="middle"><tspan font-style="italic">P</tspan> &lt; .0001</text>
<line x1="363.70" y1="752.50" x2="433.70" y2="752.50" stroke="#000" stroke-width="1.3"/>
<text x="397.70" y="750.90" class="n" font-size="9.8" font-weight="normal" text-anchor="middle"><tspan font-style="italic">P</tspan> &lt; .0001</text>
<line x1="398.00" y1="767.50" x2="433.00" y2="767.50" stroke="#000" stroke-width="1.3"/>
<text x="415.00" y="765.90" class="n" font-size="9.8" font-weight="normal" text-anchor="middle"><tspan font-style="italic">P</tspan> &lt; .0001</text>
<line x1="434.20" y1="756.50" x2="468.70" y2="756.50" stroke="#000" stroke-width="1.3"/>
<text x="450.70" y="755.40" class="n" font-size="9.8" font-weight="normal" text-anchor="middle"><tspan font-style="italic">P</tspan> &lt; .01</text>
<line x1="328.00" y1="843.50" x2="364.50" y2="843.50" stroke="#000" stroke-width="1.3"/>
<text x="346.20" y="840.90" class="n" font-size="9.8" font-weight="normal" text-anchor="middle">n.s.</text>
<rect x="321.10" y="868.10" width="5.2" height="5.2" fill="none" stroke="#000" stroke-width="0.9"/>
<rect x="329.90" y="864.10" width="5.2" height="5.2" fill="none" stroke="#000" stroke-width="0.9"/>
<rect x="316.90" y="881.60" width="5.2" height="5.2" fill="none" stroke="#000" stroke-width="0.9"/>
<rect x="333.60" y="886.10" width="5.2" height="5.2" fill="none" stroke="#000" stroke-width="0.9"/>
<rect x="328.40" y="887.40" width="5.2" height="5.2" fill="none" stroke="#000" stroke-width="0.9"/>
<rect x="321.40" y="889.40" width="5.2" height="5.2" fill="none" stroke="#000" stroke-width="0.9"/>
<rect x="313.40" y="890.40" width="5.2" height="5.2" fill="none" stroke="#000" stroke-width="0.9"/>
<rect x="317.40" y="893.40" width="5.2" height="5.2" fill="none" stroke="#000" stroke-width="0.9"/>
<rect x="324.40" y="892.40" width="5.2" height="5.2" fill="none" stroke="#000" stroke-width="0.9"/>
<rect x="331.40" y="891.40" width="5.2" height="5.2" fill="none" stroke="#000" stroke-width="0.9"/>
<rect x="327.40" y="894.90" width="5.2" height="5.2" fill="none" stroke="#000" stroke-width="0.9"/>
<rect x="320.40" y="895.40" width="5.2" height="5.2" fill="none" stroke="#000" stroke-width="0.9"/>
<rect x="323.40" y="888.40" width="5.2" height="5.2" fill="none" stroke="#000" stroke-width="0.9"/>
<line x1="313.70" y1="895.00" x2="342.50" y2="895.00" stroke="#000" stroke-width="1.0"/>
<rect x="364.30" y="871.80" width="5.4" height="5.4" fill="#000"/>
<rect x="356.00" y="877.80" width="5.4" height="5.4" fill="#000"/>
<rect x="368.50" y="882.80" width="5.4" height="5.4" fill="#000"/>
<rect x="352.30" y="883.50" width="5.4" height="5.4" fill="#000"/>
<rect x="358.30" y="884.80" width="5.4" height="5.4" fill="#000"/>
<rect x="363.30" y="885.80" width="5.4" height="5.4" fill="#000"/>
<rect x="349.30" y="887.30" width="5.4" height="5.4" fill="#000"/>
<rect x="354.30" y="888.30" width="5.4" height="5.4" fill="#000"/>
<rect x="359.30" y="889.30" width="5.4" height="5.4" fill="#000"/>
<rect x="364.30" y="888.80" width="5.4" height="5.4" fill="#000"/>
<rect x="369.30" y="887.30" width="5.4" height="5.4" fill="#000"/>
<rect x="351.30" y="891.30" width="5.4" height="5.4" fill="#000"/>
<rect x="356.30" y="892.80" width="5.4" height="5.4" fill="#000"/>
<rect x="361.30" y="893.30" width="5.4" height="5.4" fill="#000"/>
<rect x="366.30" y="892.30" width="5.4" height="5.4" fill="#000"/>
<rect x="359.30" y="896.30" width="5.4" height="5.4" fill="#000"/>
<rect x="363.30" y="890.30" width="5.4" height="5.4" fill="#000"/>
<line x1="348.70" y1="892.00" x2="377.00" y2="892.00" stroke="#000" stroke-width="1.0"/>
<circle cx="389.50" cy="875.00" r="2.8" fill="none" stroke="#000" stroke-width="0.9"/>
<circle cx="402.50" cy="874.50" r="2.8" fill="none" stroke="#000" stroke-width="0.9"/>
<circle cx="393.20" cy="881.20" r="2.8" fill="none" stroke="#000" stroke-width="0.9"/>
<circle cx="402.50" cy="888.00" r="2.8" fill="none" stroke="#000" stroke-width="0.9"/>
<circle cx="390.50" cy="890.00" r="2.8" fill="none" stroke="#000" stroke-width="0.9"/>
<circle cx="406.20" cy="891.70" r="2.8" fill="none" stroke="#000" stroke-width="0.9"/>
<circle cx="394.20" cy="894.50" r="2.8" fill="none" stroke="#000" stroke-width="0.9"/>
<circle cx="399.50" cy="895.00" r="2.8" fill="none" stroke="#000" stroke-width="0.9"/>
<circle cx="397.50" cy="897.50" r="2.8" fill="none" stroke="#000" stroke-width="0.9"/>
<circle cx="402.00" cy="897.00" r="2.8" fill="none" stroke="#000" stroke-width="0.9"/>
<line x1="383.70" y1="892.00" x2="412.00" y2="892.00" stroke="#000" stroke-width="1.0"/>
<polygon points="433.20,768.90 436.30,774.50 430.10,774.50" fill="#000"/>
<polygon points="433.20,778.40 436.30,784.00 430.10,784.00" fill="#000"/>
<polygon points="433.00,799.20 436.10,804.80 429.90,804.80" fill="#000"/>
<polygon points="424.50,813.70 427.60,819.30 421.40,819.30" fill="#000"/>
<polygon points="430.00,819.20 433.10,824.80 426.90,824.80" fill="#000"/>
<polygon points="435.50,820.70 438.60,826.30 432.40,826.30" fill="#000"/>
<polygon points="441.70,815.40 444.80,821.00 438.60,821.00" fill="#000"/>
<polygon points="433.00,845.90 436.10,851.50 429.90,851.50" fill="#000"/>
<polygon points="433.00,856.40 436.10,862.00 429.90,862.00" fill="#000"/>
<polygon points="437.00,859.70 440.10,865.30 433.90,865.30" fill="#000"/>
<polygon points="428.70,865.40 431.80,871.00 425.60,871.00" fill="#000"/>
<polygon points="424.50,868.40 427.60,874.00 421.40,874.00" fill="#000"/>
<polygon points="430.00,874.20 433.10,879.80 426.90,879.80" fill="#000"/>
<polygon points="441.20,873.40 444.30,879.00 438.10,879.00" fill="#000"/>
<polygon points="435.50,876.70 438.60,882.30 432.40,882.30" fill="#000"/>
<polygon points="437.00,878.40 440.10,884.00 433.90,884.00" fill="#000"/>
<polygon points="428.20,885.40 431.30,891.00 425.10,891.00" fill="#000"/>
<polygon points="467.50,819.70 470.60,825.30 464.40,825.30" fill="#000"/>
<polygon points="467.50,857.20 470.60,862.80 464.40,862.80" fill="#000"/>
<polygon points="458.70,878.40 461.80,884.00 455.60,884.00" fill="#000"/>
<polygon points="463.70,881.70 466.80,887.30 460.60,887.30" fill="#000"/>
<polygon points="471.20,880.40 474.30,886.00 468.10,886.00" fill="#000"/>
<polygon points="476.20,879.20 479.30,884.80 473.10,884.80" fill="#000"/>
<polygon points="473.70,883.40 476.80,889.00 470.60,889.00" fill="#000"/>
<polygon points="460.70,886.40 463.80,892.00 457.60,892.00" fill="#000"/>
<polygon points="464.50,888.40 467.60,894.00 461.40,894.00" fill="#000"/>
<polygon points="470.00,887.20 473.10,892.80 466.90,892.80" fill="#000"/>
<polygon points="502.50,875.20 505.60,880.80 499.40,880.80" fill="#000"/>
<polygon points="495.00,884.70 498.10,890.30 491.90,890.30" fill="#000"/>
<polygon points="510.00,883.40 513.10,889.00 506.90,889.00" fill="#000"/>
<polygon points="503.00,885.90 506.10,891.50 499.90,891.50" fill="#000"/>
<polygon points="493.20,890.20 496.30,895.80 490.10,895.80" fill="#000"/>
<polygon points="511.70,889.20 514.80,894.80 508.60,894.80" fill="#000"/>
<polygon points="505.50,892.70 508.60,898.30 502.40,898.30" fill="#000"/>
<polygon points="499.50,894.70 502.60,900.30 496.40,900.30" fill="#000"/>
<line x1="418.20" y1="859.20" x2="447.50" y2="859.20" stroke="#000" stroke-width="1.0"/>
<line x1="453.00" y1="883.20" x2="482.50" y2="883.20" stroke="#000" stroke-width="1.0"/>
<line x1="488.20" y1="889.50" x2="517.00" y2="889.50" stroke="#000" stroke-width="1.0"/>
</svg></body></html>
